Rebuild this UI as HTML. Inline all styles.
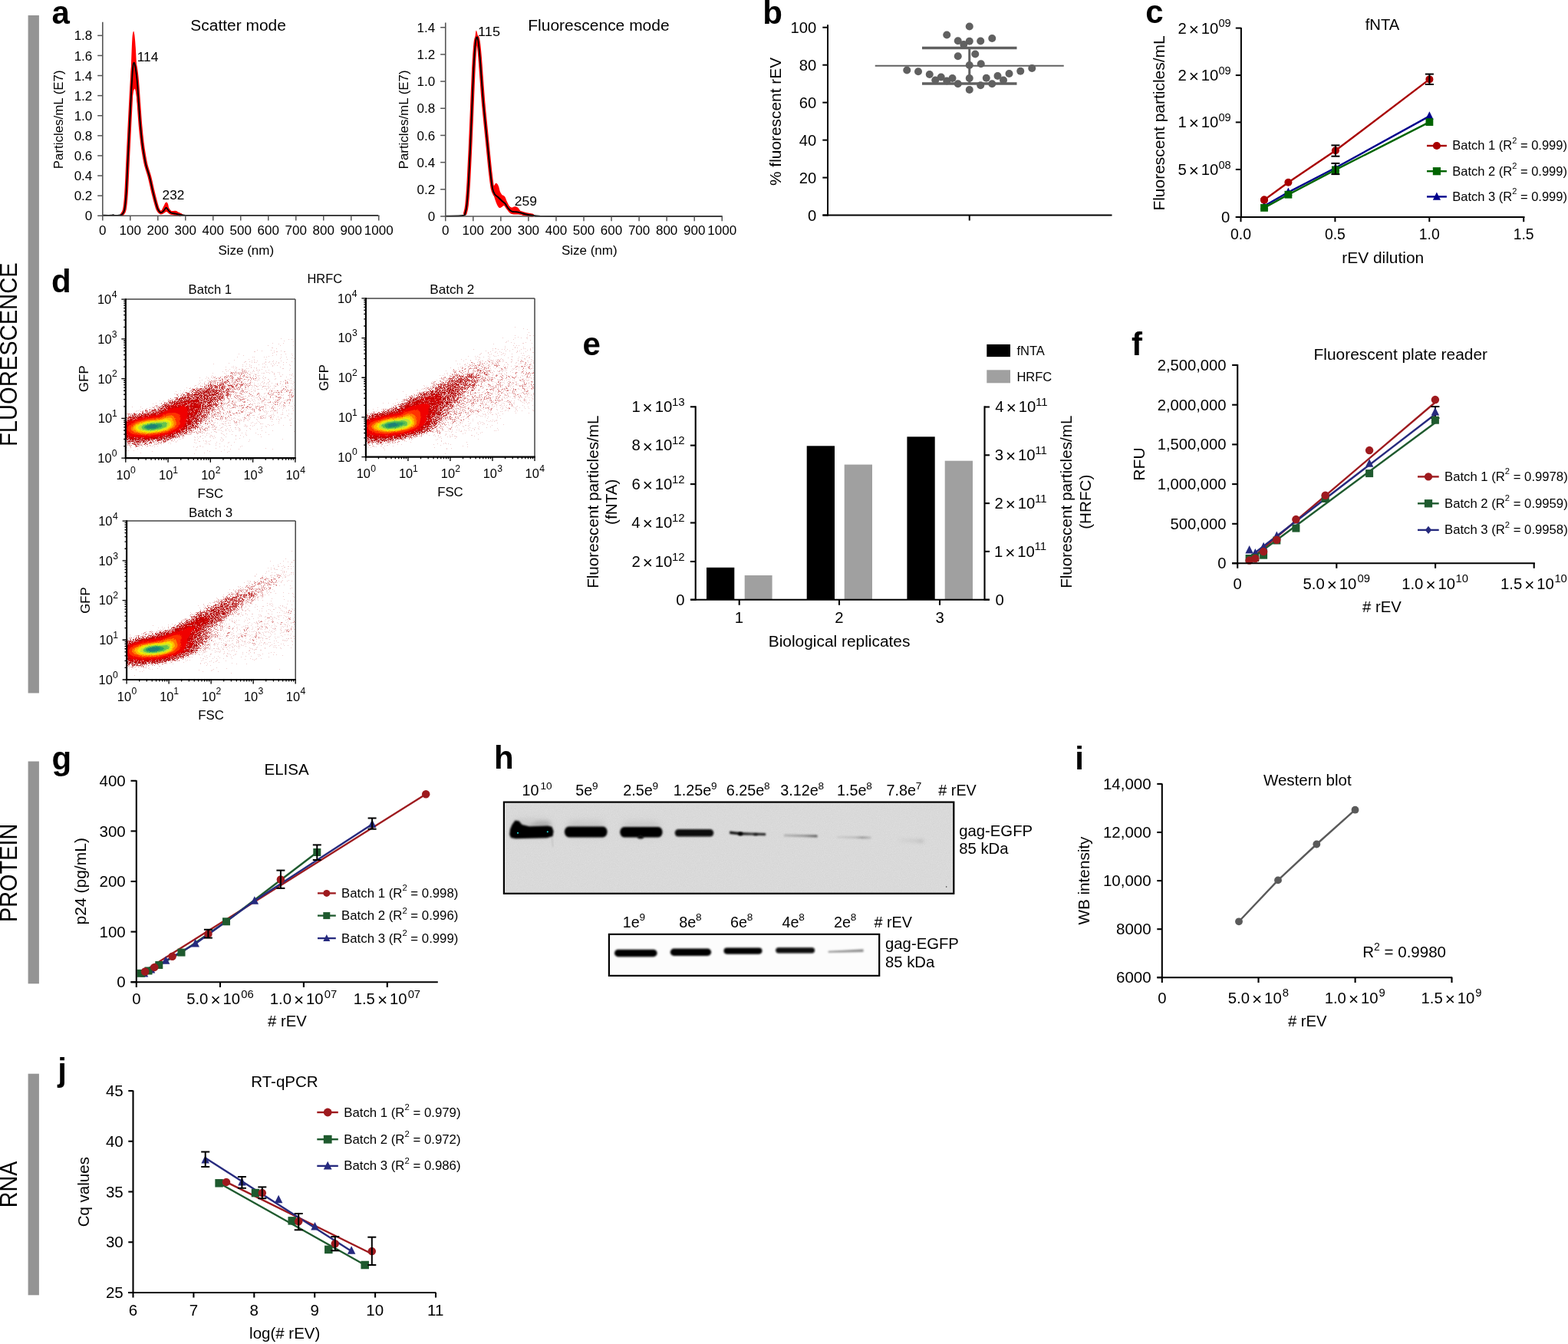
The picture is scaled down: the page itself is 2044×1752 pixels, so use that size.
<!DOCTYPE html>
<html><head><meta charset="utf-8"><title>Figure</title>
<style>html,body{margin:0;padding:0;background:#fff;} svg{display:block;} text{font-family:"Liberation Sans", Arial, Helvetica, sans-serif;}</style>
</head><body>
<svg width="2044" height="1752" viewBox="0 0 2044 1752" font-family='"Liberation Sans", Arial, Helvetica, sans-serif'>
<rect x="0" y="0" width="2044" height="1752" fill="#fff"/>
<rect x="36.6" y="20" width="14.3" height="883.5" fill="#949494"/>
<rect x="36.6" y="992.5" width="14.3" height="289.8" fill="#949494"/>
<rect x="36.6" y="1399.7" width="14.3" height="288.6" fill="#949494"/>
<text transform="translate(22.2,582.09) rotate(-90)" font-size="31" textLength="239.73" lengthAdjust="spacingAndGlyphs">FLUORESCENCE</text>
<text transform="translate(21.9,1202.07) rotate(-90)" font-size="30.5" textLength="128.4" lengthAdjust="spacingAndGlyphs">PROTEIN</text>
<text transform="translate(22.1,1574.25) rotate(-90)" font-size="30.5" textLength="60.62" lengthAdjust="spacingAndGlyphs">RNA</text>
<text x="67.38" y="30.9" font-size="42" font-weight="bold">a</text>
<text x="994.23" y="30.6" font-size="42" font-weight="bold">b</text>
<text x="1493.26" y="30.2" font-size="42" font-weight="bold">c</text>
<text x="67.08" y="381.1" font-size="42" font-weight="bold">d</text>
<text x="759.46" y="463" font-size="42" font-weight="bold">e</text>
<text x="1474.99" y="462.9" font-size="42" font-weight="bold">f</text>
<text x="67.48" y="1002.5" font-size="42" font-weight="bold">g</text>
<text x="644.06" y="1002.4" font-size="42" font-weight="bold">h</text>
<text x="1401.16" y="1002.6" font-size="42" font-weight="bold">i</text>
<text x="75.37" y="1408.5" font-size="42" font-weight="bold">j</text>
<path d="M159.3,279 C159.8,277.83 161.43,276.83 162.3,272 C163.17,267.17 163.8,260.33 164.5,250 C165.2,239.67 165.83,224.17 166.5,210 C167.17,195.83 167.97,179.17 168.5,165 C169.03,150.83 169.28,138.33 169.7,125 C170.12,111.67 170.57,97.17 171,85 C171.43,72.83 171.83,59.32 172.3,52 C172.77,44.68 173.3,42.27 173.8,41.1 C174.3,39.93 174.8,41.52 175.3,45 C175.8,48.48 176.35,55.33 176.8,62 C177.25,68.67 177.58,77.33 178,85 C178.42,92.67 178.8,99.67 179.3,108 C179.8,116.33 180.38,126 181,135 C181.62,144 182.33,154 183,162 C183.67,170 184.25,177.33 185,183 C185.75,188.67 186.6,191.5 187.5,196 C188.4,200.5 189.17,204.83 190.4,210 C191.63,215.17 193.42,221 194.9,227 C196.38,233 197.93,240.17 199.3,246 C200.67,251.83 201.98,257.83 203.1,262 C204.22,266.17 204.9,268.83 206,271 C207.1,273.17 208.5,275.33 209.7,275 C210.9,274.67 212.23,270.75 213.2,269 C214.17,267.25 214.83,265.42 215.5,264.5 C216.17,263.58 216.62,263.25 217.2,263.5 C217.78,263.75 218.45,264.58 219,266 C219.55,267.42 219.82,270.5 220.5,272 C221.18,273.5 221.68,274.53 223.1,275 C224.52,275.47 227.02,274.3 229,274.8 C230.98,275.3 232.83,276.97 235,278 C237.17,279.03 240.83,280.5 242,281 L242,281.5 C239.83,281.33 232.17,280.83 229,280.5 C225.83,280.17 224.5,279.92 223,279.5 C221.5,279.08 221,278.58 220,278 C219,277.42 218.08,276 217,276 C215.92,276 214.67,277.53 213.5,278 C212.33,278.47 211.17,279.3 210,278.8 C208.83,278.3 207.58,277.13 206.5,275 C205.42,272.87 204.67,270 203.5,266 C202.33,262 200.92,256.67 199.5,251 C198.08,245.33 196.42,237.5 195,232 C193.58,226.5 192.17,222.67 191,218 C189.83,213.33 188.92,208.33 188,204 C187.08,199.67 186.33,196.83 185.5,192 C184.67,187.17 183.75,181.17 183,175 C182.25,168.83 181.67,161.67 181,155 C180.33,148.33 179.67,140.83 179,135 C178.33,129.17 177.63,123.17 177,120 C176.37,116.83 175.87,115.17 175.2,116 C174.53,116.83 173.78,119.33 173,125 C172.22,130.67 171.33,139.17 170.5,150 C169.67,160.83 168.83,175 168,190 C167.17,205 166.33,226.67 165.5,240 C164.67,253.33 163.92,263.33 163,270 C162.08,276.67 160.5,278.33 160,280 Z" fill="#ff0000" stroke="none" stroke-width="1"/>
<path d="M159.3,279.3 C159.8,278.3 161.43,277.75 162.3,273.3 C163.17,268.85 163.77,263.48 164.5,252.6 C165.23,241.72 165.97,222.85 166.7,208 C167.43,193.15 168.15,178.33 168.9,163.5 C169.65,148.67 170.48,131.58 171.2,119 C171.92,106.42 172.67,94.18 173.2,88 C173.73,81.82 173.9,82.23 174.4,81.9 C174.9,81.57 175.5,82.28 176.2,86 C176.9,89.72 177.83,96.22 178.6,104.2 C179.37,112.18 180.07,124.02 180.8,133.9 C181.53,143.78 182.25,154.85 183,163.5 C183.75,172.15 184.55,179.62 185.3,185.8 C186.05,191.98 186.65,195.65 187.5,200.6 C188.35,205.55 189.17,210.55 190.4,215.5 C191.63,220.45 193.42,224.62 194.9,230.3 C196.38,235.98 197.93,243.92 199.3,249.6 C200.67,255.28 201.98,260.45 203.1,264.4 C204.22,268.35 204.9,271.17 206,273.3 C207.1,275.43 208.47,276.95 209.7,277.2 C210.93,277.45 212.25,275.87 213.4,274.8 C214.55,273.73 215.48,270.8 216.6,270.8 C217.72,270.8 219.02,273.68 220.1,274.8 C221.18,275.92 221.62,276.87 223.1,277.5 C224.58,278.13 227.02,278.18 229,278.6 C230.98,279.02 234,279.77 235,280" fill="none" stroke="#ff0000" stroke-width="4.6" stroke-linejoin="round" stroke-linecap="round"/>
<path d="M134,280.8 C135.83,280.8 142.73,280.9 145,280.8 C147.27,280.7 146.77,280.18 147.6,280.2 C148.43,280.22 148.77,280.83 150,280.9 C151.23,280.97 153.45,280.87 155,280.6 C156.55,280.33 158.08,280.52 159.3,279.3 C160.52,278.08 161.43,277.75 162.3,273.3 C163.17,268.85 163.77,263.48 164.5,252.6 C165.23,241.72 165.97,222.85 166.7,208 C167.43,193.15 168.15,178.33 168.9,163.5 C169.65,148.67 170.48,131.58 171.2,119 C171.92,106.42 172.67,94.18 173.2,88 C173.73,81.82 173.9,82.23 174.4,81.9 C174.9,81.57 175.5,82.28 176.2,86 C176.9,89.72 177.83,96.22 178.6,104.2 C179.37,112.18 180.07,124.02 180.8,133.9 C181.53,143.78 182.25,154.85 183,163.5 C183.75,172.15 184.55,179.62 185.3,185.8 C186.05,191.98 186.65,195.65 187.5,200.6 C188.35,205.55 189.17,210.55 190.4,215.5 C191.63,220.45 193.42,224.62 194.9,230.3 C196.38,235.98 197.93,243.92 199.3,249.6 C200.67,255.28 201.98,260.45 203.1,264.4 C204.22,268.35 204.9,271.17 206,273.3 C207.1,275.43 208.47,276.95 209.7,277.2 C210.93,277.45 212.25,275.87 213.4,274.8 C214.55,273.73 215.48,270.8 216.6,270.8 C217.72,270.8 219.02,273.68 220.1,274.8 C221.18,275.92 221.62,276.87 223.1,277.5 C224.58,278.13 227.02,278.18 229,278.6 C230.98,279.02 233.02,279.63 235,280 C236.98,280.37 236.73,280.63 240.9,280.8 C245.07,280.97 217.98,280.97 260,281 C302.02,281.03 454.17,281 493,281" fill="none" stroke="#000" stroke-width="1.9" stroke-linejoin="round"/>
<line x1="133.8" y1="28.75" x2="133.8" y2="282" stroke="#555" stroke-width="1.6"/>
<line x1="133" y1="281.25" x2="494.55" y2="281.25" stroke="#555" stroke-width="1.6"/>
<line x1="127.2" y1="281.25" x2="133.8" y2="281.25" stroke="#555" stroke-width="1.5"/>
<text x="120.3" y="287.35" text-anchor="end" font-size="17">0</text>
<line x1="127.2" y1="255.15" x2="133.8" y2="255.15" stroke="#555" stroke-width="1.5"/>
<text x="120.3" y="261.25" text-anchor="end" font-size="17">0.2</text>
<line x1="127.2" y1="229.05" x2="133.8" y2="229.05" stroke="#555" stroke-width="1.5"/>
<text x="120.3" y="235.15" text-anchor="end" font-size="17">0.4</text>
<line x1="127.2" y1="202.95" x2="133.8" y2="202.95" stroke="#555" stroke-width="1.5"/>
<text x="120.3" y="209.05" text-anchor="end" font-size="17">0.6</text>
<line x1="127.2" y1="176.85" x2="133.8" y2="176.85" stroke="#555" stroke-width="1.5"/>
<text x="120.3" y="182.95" text-anchor="end" font-size="17">0.8</text>
<line x1="127.2" y1="150.75" x2="133.8" y2="150.75" stroke="#555" stroke-width="1.5"/>
<text x="120.3" y="156.85" text-anchor="end" font-size="17">1.0</text>
<line x1="127.2" y1="124.65" x2="133.8" y2="124.65" stroke="#555" stroke-width="1.5"/>
<text x="120.3" y="130.75" text-anchor="end" font-size="17">1.2</text>
<line x1="127.2" y1="98.55" x2="133.8" y2="98.55" stroke="#555" stroke-width="1.5"/>
<text x="120.3" y="104.65" text-anchor="end" font-size="17">1.4</text>
<line x1="127.2" y1="72.45" x2="133.8" y2="72.45" stroke="#555" stroke-width="1.5"/>
<text x="120.3" y="78.55" text-anchor="end" font-size="17">1.6</text>
<line x1="127.2" y1="46.35" x2="133.8" y2="46.35" stroke="#555" stroke-width="1.5"/>
<text x="120.3" y="52.45" text-anchor="end" font-size="17">1.8</text>
<line x1="133.8" y1="281.25" x2="133.8" y2="287.55" stroke="#555" stroke-width="1.5"/>
<text x="133.8" y="306.4" text-anchor="middle" font-size="17">0</text>
<line x1="169.8" y1="281.25" x2="169.8" y2="287.55" stroke="#555" stroke-width="1.5"/>
<text x="169.8" y="306.4" text-anchor="middle" font-size="17">100</text>
<line x1="205.79" y1="281.25" x2="205.79" y2="287.55" stroke="#555" stroke-width="1.5"/>
<text x="205.79" y="306.4" text-anchor="middle" font-size="17">200</text>
<line x1="241.79" y1="281.25" x2="241.79" y2="287.55" stroke="#555" stroke-width="1.5"/>
<text x="241.79" y="306.4" text-anchor="middle" font-size="17">300</text>
<line x1="277.78" y1="281.25" x2="277.78" y2="287.55" stroke="#555" stroke-width="1.5"/>
<text x="277.78" y="306.4" text-anchor="middle" font-size="17">400</text>
<line x1="313.77" y1="281.25" x2="313.77" y2="287.55" stroke="#555" stroke-width="1.5"/>
<text x="313.77" y="306.4" text-anchor="middle" font-size="17">500</text>
<line x1="349.77" y1="281.25" x2="349.77" y2="287.55" stroke="#555" stroke-width="1.5"/>
<text x="349.77" y="306.4" text-anchor="middle" font-size="17">600</text>
<line x1="385.76" y1="281.25" x2="385.76" y2="287.55" stroke="#555" stroke-width="1.5"/>
<text x="385.76" y="306.4" text-anchor="middle" font-size="17">700</text>
<line x1="421.76" y1="281.25" x2="421.76" y2="287.55" stroke="#555" stroke-width="1.5"/>
<text x="421.76" y="306.4" text-anchor="middle" font-size="17">800</text>
<line x1="457.75" y1="281.25" x2="457.75" y2="287.55" stroke="#555" stroke-width="1.5"/>
<text x="457.75" y="306.4" text-anchor="middle" font-size="17">900</text>
<line x1="493.75" y1="281.25" x2="493.75" y2="287.55" stroke="#555" stroke-width="1.5"/>
<text x="493.75" y="306.4" text-anchor="middle" font-size="17">1000</text>
<text x="248.29" y="39.5" font-size="20.5" textLength="124.64" lengthAdjust="spacingAndGlyphs">Scatter mode</text>
<text x="320.75" y="332.3" text-anchor="middle" font-size="17">Size (nm)</text>
<text transform="translate(82,220.13) rotate(-90)" font-size="16.5" textLength="128.69" lengthAdjust="spacingAndGlyphs">Particles/mL (E7)</text>
<text x="178.67" y="79.5" font-size="17" textLength="27.84" lengthAdjust="spacingAndGlyphs">114</text>
<text x="211.64" y="260" font-size="17" textLength="28.73" lengthAdjust="spacingAndGlyphs">232</text>
<path d="M603.4,280.5 C603.88,279.92 605.48,279.58 606.3,277 C607.12,274.42 607.6,272 608.3,265 C609,258 609.77,247.5 610.5,235 C611.23,222.5 611.95,206.17 612.7,190 C613.45,173.83 614.25,155.33 615,138 C615.75,120.67 616.53,99.83 617.2,86 C617.87,72.17 618.47,62.58 619,55 C619.53,47.42 619.9,42.5 620.4,40.5 C620.9,38.5 621.47,41.08 622,43 C622.53,44.92 622.97,47 623.6,52 C624.23,57 625.07,64.67 625.8,73 C626.53,81.33 627.23,92.33 628,102 C628.77,111.67 629.5,121.33 630.4,131 C631.3,140.67 632.4,150.5 633.4,160 C634.4,169.5 635.4,178.67 636.4,188 C637.4,197.33 638.55,208.33 639.4,216 C640.25,223.67 640.82,229.67 641.5,234 C642.18,238.33 642.75,241.17 643.5,242 C644.25,242.83 645.25,239.42 646,239 C646.75,238.58 647.33,238.83 648,239.5 C648.67,240.17 649.33,241.25 650,243 C650.67,244.75 651.25,248.17 652,250 C652.75,251.83 653.75,253.17 654.5,254 C655.25,254.83 655.83,254.5 656.5,255 C657.17,255.5 657.75,255.67 658.5,257 C659.25,258.33 660.08,261.08 661,263 C661.92,264.92 663,267.25 664,268.5 C665,269.75 666,270.33 667,270.5 C668,270.67 669,269.67 670,269.5 C671,269.33 672,269.17 673,269.5 C674,269.83 675,270.5 676,271.5 C677,272.5 677.5,274.37 679,275.5 C680.5,276.63 682.52,277.47 685,278.3 C687.48,279.13 690.93,279.92 693.9,280.5 C696.87,281.08 701.32,281.58 702.8,281.8 L702.8,282.2 C701.32,282.08 696.87,281.73 693.9,281.5 C690.93,281.27 687.48,281.08 685,280.8 C682.52,280.52 681,280.02 679,279.8 C677,279.58 675,279.63 673,279.5 C671,279.37 668.67,279.58 667,279 C665.33,278.42 664.17,277.33 663,276 C661.83,274.67 661,272.33 660,271 C659,269.67 658,268.17 657,268 C656,267.83 655,269.5 654,270 C653,270.5 651.92,271.33 651,271 C650.08,270.67 649.33,269.5 648.5,268 C647.67,266.5 646.83,264.33 646,262 C645.17,259.67 644.33,256.67 643.5,254 C642.67,251.33 641.83,250.33 641,246 C640.17,241.67 639.4,236 638.5,228 C637.6,220 636.58,208 635.6,198 C634.62,188 633.57,178 632.6,168 C631.63,158 630.65,148 629.8,138 C628.95,128 628.25,117.67 627.5,108 C626.75,98.33 626.02,88 625.3,80 C624.58,72 623.82,64.5 623.2,60 C622.58,55.5 622.2,53 621.6,53 C621,53 620.33,53.33 619.6,60 C618.87,66.67 617.97,78.83 617.2,93 C616.43,107.17 615.73,127.83 615,145 C614.27,162.17 613.53,180.17 612.8,196 C612.07,211.83 611.33,228 610.6,240 C609.87,252 609.17,261.5 608.4,268 C607.63,274.5 606.83,276.75 606,279 C605.17,281.25 603.83,281.08 603.4,281.5 Z" fill="#ff0000" stroke="none" stroke-width="1"/>
<path d="M606.3,278.2 C606.67,276.4 607.75,274.15 608.5,267.4 C609.25,260.65 610.05,250.07 610.8,237.7 C611.55,225.33 612.27,209.27 613,193.2 C613.73,177.13 614.47,158.62 615.2,141.3 C615.93,123.98 616.65,103.4 617.4,89.3 C618.15,75.2 619,63.5 619.7,56.7 C620.4,49.9 620.98,49 621.6,48.5 C622.22,48 622.73,49.37 623.4,53.7 C624.07,58.03 624.87,66.08 625.6,74.5 C626.33,82.92 627.05,94.3 627.8,104.2 C628.55,114.1 629.23,124.02 630.1,133.9 C630.97,143.78 632.02,153.62 633,163.5 C633.98,173.38 635,183.3 636,193.2 C637,203.1 638.02,214.25 639,222.9 C639.98,231.55 640.92,240.03 641.9,245.1 C642.88,250.17 643.67,251.32 644.9,253.3 C646.13,255.28 647.82,255.63 649.3,257 C650.78,258.37 652.32,260.13 653.8,261.5 C655.28,262.87 656.72,263.48 658.2,265.2 C659.68,266.92 661.2,270.07 662.7,271.8 C664.2,273.53 665.47,274.85 667.2,275.6 C668.93,276.35 671.13,275.98 673.1,276.3 C675.07,276.62 677.02,277 679,277.5 C680.98,278 682.52,278.77 685,279.3 C687.48,279.83 692.42,280.47 693.9,280.7" fill="none" stroke="#ff0000" stroke-width="4.6" stroke-linejoin="round" stroke-linecap="round"/>
<path d="M581,281.8 C584.73,281.67 599.18,281.6 603.4,281 C607.62,280.4 605.45,280.47 606.3,278.2 C607.15,275.93 607.75,274.15 608.5,267.4 C609.25,260.65 610.05,250.07 610.8,237.7 C611.55,225.33 612.27,209.27 613,193.2 C613.73,177.13 614.47,158.62 615.2,141.3 C615.93,123.98 616.65,103.4 617.4,89.3 C618.15,75.2 619,63.5 619.7,56.7 C620.4,49.9 620.98,49 621.6,48.5 C622.22,48 622.73,49.37 623.4,53.7 C624.07,58.03 624.87,66.08 625.6,74.5 C626.33,82.92 627.05,94.3 627.8,104.2 C628.55,114.1 629.23,124.02 630.1,133.9 C630.97,143.78 632.02,153.62 633,163.5 C633.98,173.38 635,183.3 636,193.2 C637,203.1 638.02,214.25 639,222.9 C639.98,231.55 640.92,240.03 641.9,245.1 C642.88,250.17 643.67,251.32 644.9,253.3 C646.13,255.28 647.82,255.63 649.3,257 C650.78,258.37 652.32,260.13 653.8,261.5 C655.28,262.87 656.72,263.48 658.2,265.2 C659.68,266.92 661.2,270.07 662.7,271.8 C664.2,273.53 665.47,274.85 667.2,275.6 C668.93,276.35 671.13,275.98 673.1,276.3 C675.07,276.62 677.02,277 679,277.5 C680.98,278 682.52,278.77 685,279.3 C687.48,279.83 690.93,280.32 693.9,280.7 C696.87,281.08 698.45,281.38 702.8,281.6 C707.15,281.82 680.3,281.93 720,282 C759.7,282.07 904.17,282 941,282" fill="none" stroke="#000" stroke-width="1.9" stroke-linejoin="round"/>
<line x1="580.75" y1="29.5" x2="580.75" y2="282.75" stroke="#555" stroke-width="1.6"/>
<line x1="579.95" y1="282" x2="942.05" y2="282" stroke="#555" stroke-width="1.6"/>
<line x1="574.15" y1="282" x2="580.75" y2="282" stroke="#555" stroke-width="1.5"/>
<text x="567.2" y="288.1" text-anchor="end" font-size="17">0</text>
<line x1="574.15" y1="246.82" x2="580.75" y2="246.82" stroke="#555" stroke-width="1.5"/>
<text x="567.2" y="252.92" text-anchor="end" font-size="17">0.2</text>
<line x1="574.15" y1="211.64" x2="580.75" y2="211.64" stroke="#555" stroke-width="1.5"/>
<text x="567.2" y="217.74" text-anchor="end" font-size="17">0.4</text>
<line x1="574.15" y1="176.46" x2="580.75" y2="176.46" stroke="#555" stroke-width="1.5"/>
<text x="567.2" y="182.56" text-anchor="end" font-size="17">0.6</text>
<line x1="574.15" y1="141.28" x2="580.75" y2="141.28" stroke="#555" stroke-width="1.5"/>
<text x="567.2" y="147.38" text-anchor="end" font-size="17">0.8</text>
<line x1="574.15" y1="106.1" x2="580.75" y2="106.1" stroke="#555" stroke-width="1.5"/>
<text x="567.2" y="112.2" text-anchor="end" font-size="17">1.0</text>
<line x1="574.15" y1="70.92" x2="580.75" y2="70.92" stroke="#555" stroke-width="1.5"/>
<text x="567.2" y="77.02" text-anchor="end" font-size="17">1.2</text>
<line x1="574.15" y1="35.74" x2="580.75" y2="35.74" stroke="#555" stroke-width="1.5"/>
<text x="567.2" y="41.84" text-anchor="end" font-size="17">1.4</text>
<line x1="580.75" y1="282" x2="580.75" y2="288.3" stroke="#555" stroke-width="1.5"/>
<text x="580.75" y="306.4" text-anchor="middle" font-size="17">0</text>
<line x1="616.8" y1="282" x2="616.8" y2="288.3" stroke="#555" stroke-width="1.5"/>
<text x="616.8" y="306.4" text-anchor="middle" font-size="17">100</text>
<line x1="652.85" y1="282" x2="652.85" y2="288.3" stroke="#555" stroke-width="1.5"/>
<text x="652.85" y="306.4" text-anchor="middle" font-size="17">200</text>
<line x1="688.9" y1="282" x2="688.9" y2="288.3" stroke="#555" stroke-width="1.5"/>
<text x="688.9" y="306.4" text-anchor="middle" font-size="17">300</text>
<line x1="724.95" y1="282" x2="724.95" y2="288.3" stroke="#555" stroke-width="1.5"/>
<text x="724.95" y="306.4" text-anchor="middle" font-size="17">400</text>
<line x1="761" y1="282" x2="761" y2="288.3" stroke="#555" stroke-width="1.5"/>
<text x="761" y="306.4" text-anchor="middle" font-size="17">500</text>
<line x1="797.05" y1="282" x2="797.05" y2="288.3" stroke="#555" stroke-width="1.5"/>
<text x="797.05" y="306.4" text-anchor="middle" font-size="17">600</text>
<line x1="833.1" y1="282" x2="833.1" y2="288.3" stroke="#555" stroke-width="1.5"/>
<text x="833.1" y="306.4" text-anchor="middle" font-size="17">700</text>
<line x1="869.15" y1="282" x2="869.15" y2="288.3" stroke="#555" stroke-width="1.5"/>
<text x="869.15" y="306.4" text-anchor="middle" font-size="17">800</text>
<line x1="905.2" y1="282" x2="905.2" y2="288.3" stroke="#555" stroke-width="1.5"/>
<text x="905.2" y="306.4" text-anchor="middle" font-size="17">900</text>
<line x1="941.25" y1="282" x2="941.25" y2="288.3" stroke="#555" stroke-width="1.5"/>
<text x="941.25" y="306.4" text-anchor="middle" font-size="17">1000</text>
<text x="688.28" y="39.5" font-size="20.5" textLength="184.4" lengthAdjust="spacingAndGlyphs">Fluorescence mode</text>
<text x="768.25" y="332.3" text-anchor="middle" font-size="17">Size (nm)</text>
<text transform="translate(532.25,220.39) rotate(-90)" font-size="16.5" textLength="128.94" lengthAdjust="spacingAndGlyphs">Particles/mL (E7)</text>
<text x="623.12" y="46.75" font-size="17" textLength="28.89" lengthAdjust="spacingAndGlyphs">115</text>
<text x="670.87" y="268.25" font-size="17" textLength="29.21" lengthAdjust="spacingAndGlyphs">259</text>
<line x1="1079" y1="32.3" x2="1079" y2="281.5" stroke="#000" stroke-width="2"/>
<line x1="1072.5" y1="280.5" x2="1449.5" y2="280.5" stroke="#000" stroke-width="2"/>
<line x1="1263.75" y1="280.5" x2="1263.75" y2="287.5" stroke="#000" stroke-width="2"/>
<line x1="1072.3" y1="280.5" x2="1079" y2="280.5" stroke="#000" stroke-width="2"/>
<text x="1064.3" y="287.6" text-anchor="end" font-size="20.2">0</text>
<line x1="1072.3" y1="231.55" x2="1079" y2="231.55" stroke="#000" stroke-width="2"/>
<text x="1064.3" y="238.65" text-anchor="end" font-size="20.2">20</text>
<line x1="1072.3" y1="182.6" x2="1079" y2="182.6" stroke="#000" stroke-width="2"/>
<text x="1064.3" y="189.7" text-anchor="end" font-size="20.2">40</text>
<line x1="1072.3" y1="133.65" x2="1079" y2="133.65" stroke="#000" stroke-width="2"/>
<text x="1064.3" y="140.75" text-anchor="end" font-size="20.2">60</text>
<line x1="1072.3" y1="84.7" x2="1079" y2="84.7" stroke="#000" stroke-width="2"/>
<text x="1064.3" y="91.8" text-anchor="end" font-size="20.2">80</text>
<line x1="1072.3" y1="35.75" x2="1079" y2="35.75" stroke="#000" stroke-width="2"/>
<text x="1064.3" y="42.85" text-anchor="end" font-size="20.2">100</text>
<text transform="translate(1017.5,242) rotate(-90)" font-size="20.7" textLength="167.12" lengthAdjust="spacingAndGlyphs">% fluorescent rEV</text>
<line x1="1140.75" y1="85.75" x2="1386.75" y2="85.75" stroke="#606060" stroke-width="2"/>
<line x1="1202" y1="62.5" x2="1325.5" y2="62.5" stroke="#606060" stroke-width="3.3"/>
<line x1="1202" y1="109" x2="1325.5" y2="109" stroke="#606060" stroke-width="3.3"/>
<line x1="1263.75" y1="62.5" x2="1263.75" y2="109" stroke="#606060" stroke-width="3"/>
<circle cx="1263.75" cy="34.5" r="5" fill="#606060"/>
<circle cx="1234.25" cy="45.5" r="5" fill="#606060"/>
<circle cx="1248.75" cy="53.25" r="5" fill="#606060"/>
<circle cx="1263.75" cy="53.75" r="5" fill="#606060"/>
<circle cx="1278.25" cy="53.5" r="5" fill="#606060"/>
<circle cx="1293.25" cy="50" r="5" fill="#606060"/>
<circle cx="1256.25" cy="58" r="5" fill="#606060"/>
<circle cx="1248.75" cy="73.25" r="5" fill="#606060"/>
<circle cx="1271.25" cy="70.5" r="5" fill="#606060"/>
<circle cx="1263.75" cy="85" r="5" fill="#606060"/>
<circle cx="1278.75" cy="83.25" r="5" fill="#606060"/>
<circle cx="1182.25" cy="91.5" r="5" fill="#606060"/>
<circle cx="1197" cy="93.25" r="5" fill="#606060"/>
<circle cx="1211.75" cy="97" r="5" fill="#606060"/>
<circle cx="1226.75" cy="100.5" r="5" fill="#606060"/>
<circle cx="1241.5" cy="102" r="5" fill="#606060"/>
<circle cx="1219.25" cy="104.5" r="5" fill="#606060"/>
<circle cx="1234.25" cy="105.5" r="5" fill="#606060"/>
<circle cx="1248.75" cy="109.25" r="5" fill="#606060"/>
<circle cx="1263.75" cy="102" r="5" fill="#606060"/>
<circle cx="1263.75" cy="117" r="5" fill="#606060"/>
<circle cx="1278.25" cy="111.25" r="5" fill="#606060"/>
<circle cx="1285.75" cy="101.75" r="5" fill="#606060"/>
<circle cx="1293.25" cy="109.25" r="5" fill="#606060"/>
<circle cx="1300.5" cy="99" r="5" fill="#606060"/>
<circle cx="1308" cy="104.5" r="5" fill="#606060"/>
<circle cx="1315.5" cy="96" r="5" fill="#606060"/>
<circle cx="1330.25" cy="92.75" r="5" fill="#606060"/>
<circle cx="1345.25" cy="89" r="5" fill="#606060"/>
<polyline points="1648,260.6 1679.4,237.7 1740.9,196.3 1863.4,103.4" fill="none" stroke="#a80000" stroke-width="2.4" stroke-linejoin="round"/>
<polyline points="1648,268.5 1679.4,250.6 1740.9,218.8 1863.4,151.4" fill="none" stroke="#00008c" stroke-width="2.4" stroke-linejoin="round"/>
<polyline points="1648,270.9 1679.4,253.7 1740.9,221.4 1863.4,159.1" fill="none" stroke="#006400" stroke-width="2.4" stroke-linejoin="round"/>
<circle cx="1648" cy="260.6" r="5" fill="#a80000"/>
<circle cx="1679.4" cy="237.7" r="5" fill="#a80000"/>
<circle cx="1740.9" cy="196.3" r="5" fill="#a80000"/>
<circle cx="1863.4" cy="103.4" r="5" fill="#a80000"/>
<polygon points="1648,262.41 1653.25,272.91 1642.75,272.91" fill="#00008c" stroke="none" stroke-width="1"/>
<polygon points="1679.4,244.51 1684.65,255.01 1674.15,255.01" fill="#00008c" stroke="none" stroke-width="1"/>
<polygon points="1740.9,212.71 1746.15,223.21 1735.65,223.21" fill="#00008c" stroke="none" stroke-width="1"/>
<polygon points="1863.4,145.31 1868.65,155.81 1858.15,155.81" fill="#00008c" stroke="none" stroke-width="1"/>
<rect x="1643.1" y="266" width="9.8" height="9.8" fill="#006400"/>
<rect x="1674.5" y="248.8" width="9.8" height="9.8" fill="#006400"/>
<rect x="1736" y="216.5" width="9.8" height="9.8" fill="#006400"/>
<rect x="1858.5" y="154.2" width="9.8" height="9.8" fill="#006400"/>
<circle cx="1648" cy="260.6" r="5" fill="#a80000"/>
<line x1="1740.9" y1="189.4" x2="1740.9" y2="203.7" stroke="#000" stroke-width="2"/>
<line x1="1735.4" y1="189.4" x2="1746.4" y2="189.4" stroke="#000" stroke-width="2"/>
<line x1="1735.4" y1="203.7" x2="1746.4" y2="203.7" stroke="#000" stroke-width="2"/>
<line x1="1863.4" y1="96.6" x2="1863.4" y2="110" stroke="#000" stroke-width="2"/>
<line x1="1857.9" y1="96.6" x2="1868.9" y2="96.6" stroke="#000" stroke-width="2"/>
<line x1="1857.9" y1="110" x2="1868.9" y2="110" stroke="#000" stroke-width="2"/>
<line x1="1740.9" y1="212.9" x2="1740.9" y2="227.1" stroke="#000" stroke-width="2"/>
<line x1="1735.4" y1="212.9" x2="1746.4" y2="212.9" stroke="#000" stroke-width="2"/>
<line x1="1735.4" y1="227.1" x2="1746.4" y2="227.1" stroke="#000" stroke-width="2"/>
<line x1="1617.9" y1="36" x2="1617.9" y2="284" stroke="#000" stroke-width="2"/>
<line x1="1610.8" y1="283" x2="1987.5" y2="283" stroke="#000" stroke-width="2"/>
<line x1="1617.5" y1="283" x2="1617.5" y2="289.2" stroke="#000" stroke-width="2"/>
<text x="1617.5" y="311.8" text-anchor="middle" font-size="19.4">0.0</text>
<line x1="1740.4" y1="283" x2="1740.4" y2="289.2" stroke="#000" stroke-width="2"/>
<text x="1740.4" y="311.8" text-anchor="middle" font-size="19.4">0.5</text>
<line x1="1863.3" y1="283" x2="1863.3" y2="289.2" stroke="#000" stroke-width="2"/>
<text x="1863.3" y="311.8" text-anchor="middle" font-size="19.4">1.0</text>
<line x1="1986.2" y1="283" x2="1986.2" y2="289.2" stroke="#000" stroke-width="2"/>
<text x="1986.2" y="311.8" text-anchor="middle" font-size="19.4">1.5</text>
<line x1="1610.8" y1="36.6" x2="1617.9" y2="36.6" stroke="#000" stroke-width="2"/>
<text x="1535.61" y="43.5" font-size="20.3">2</text>
<text x="1549.71" y="45.67" font-size="22.47">×</text>
<text x="1565.74" y="43.5" font-size="20.3">10</text>
<text x="1588.56" y="35.3" font-size="14.5">09</text>
<line x1="1610.8" y1="98.1" x2="1617.9" y2="98.1" stroke="#000" stroke-width="2"/>
<text x="1535.61" y="105" font-size="20.3">2</text>
<text x="1549.71" y="107.17" font-size="22.47">×</text>
<text x="1565.74" y="105" font-size="20.3">10</text>
<text x="1588.56" y="96.8" font-size="14.5">09</text>
<line x1="1610.8" y1="159.4" x2="1617.9" y2="159.4" stroke="#000" stroke-width="2"/>
<text x="1535.59" y="166.3" font-size="20.3">1</text>
<text x="1549.71" y="168.47" font-size="22.47">×</text>
<text x="1565.74" y="166.3" font-size="20.3">10</text>
<text x="1588.56" y="158.1" font-size="14.5">09</text>
<line x1="1610.8" y1="220.9" x2="1617.9" y2="220.9" stroke="#000" stroke-width="2"/>
<text x="1535.39" y="227.8" font-size="20.3">5</text>
<text x="1549.65" y="229.97" font-size="22.47">×</text>
<text x="1565.68" y="227.8" font-size="20.3">10</text>
<text x="1588.5" y="219.6" font-size="14.5">08</text>
<line x1="1610.8" y1="282.9" x2="1617.9" y2="282.9" stroke="#000" stroke-width="2"/>
<text x="1603.3" y="289.9" text-anchor="end" font-size="20.3">0</text>
<text x="1749.32" y="343.3" font-size="19.6" textLength="106.83" lengthAdjust="spacingAndGlyphs">rEV dilution</text>
<text x="1779.72" y="39.4" font-size="20.3" textLength="44.62" lengthAdjust="spacingAndGlyphs">fNTA</text>
<text transform="translate(1517.5,274.62) rotate(-90)" font-size="20.5" textLength="228.31" lengthAdjust="spacingAndGlyphs">Fluorescent particles/mL</text>
<line x1="1860" y1="190" x2="1885.9" y2="190" stroke="#a80000" stroke-width="2.4"/>
<circle cx="1872.9" cy="190" r="5.1" fill="#a80000"/>
<line x1="1860" y1="223.2" x2="1885.9" y2="223.2" stroke="#006400" stroke-width="2.4"/>
<rect x="1867.8" y="218.1" width="10.2" height="10.2" fill="#006400"/>
<line x1="1860" y1="256.4" x2="1885.9" y2="256.4" stroke="#00008c" stroke-width="2.4"/>
<polygon points="1872.9,250.48 1878,260.68 1867.8,260.68" fill="#00008c" stroke="none" stroke-width="1"/>
<text x="1893.3" y="195.1" font-size="16.5">Batch 1 (R<tspan dy="-8.3" font-size="11">2</tspan><tspan dy="8.3"> = 0.999)</tspan></text>
<text x="1893.3" y="228.5" font-size="16.5">Batch 2 (R<tspan dy="-8.3" font-size="11">2</tspan><tspan dy="8.3"> = 0.999)</tspan></text>
<text x="1893.3" y="261.6" font-size="16.5">Batch 3 (R<tspan dy="-8.3" font-size="11">2</tspan><tspan dy="8.3"> = 0.999)</tspan></text>
<defs><filter id="rough" x="-5%" y="-5%" width="110%" height="110%"><feTurbulence type="fractalNoise" baseFrequency="0.9" numOctaves="1" seed="7" result="n"/><feDisplacementMap in="SourceGraphic" in2="n" scale="3.2" xChannelSelector="R" yChannelSelector="G"/></filter><filter id="speck" x="-5%" y="-5%" width="110%" height="110%"><feTurbulence type="fractalNoise" baseFrequency="1.1" numOctaves="1" seed="11" result="n"/><feColorMatrix in="n" type="matrix" values="0 0 0 0 0  0 0 0 0 0  0 0 0 0 0  14 0 0 0 -6.3" result="m"/><feDisplacementMap in="SourceGraphic" in2="n" scale="3.2" xChannelSelector="R" yChannelSelector="G" result="d"/><feComposite in="d" in2="m" operator="in"/></filter><filter id="speck2" x="-5%" y="-5%" width="110%" height="110%"><feTurbulence type="fractalNoise" baseFrequency="1.1" numOctaves="1" seed="5" result="n"/><feColorMatrix in="n" type="matrix" values="0 0 0 0 0  0 0 0 0 0  0 0 0 0 0  14 0 0 0 -5.6" result="m"/><feDisplacementMap in="SourceGraphic" in2="n" scale="3.2" xChannelSelector="R" yChannelSelector="G" result="d"/><feComposite in="d" in2="m" operator="in"/></filter></defs>
<text x="400.5" y="369" font-size="16.4">HRFC</text>
<path d="M273.3 507.1 275.3 507 278.3 509.4 281.3 508.7 283.3 509.6 283.9 511.6 281.4 515.6 281.2 520.6 277.2 522.6 278 526.6 277.3 527.4 275.3 527.9 273.3 530.9 269.1 532.6 265.3 538.6 262.3 540.8 261.7 541.6 262.2 543.6 251.4 557.6 245.3 560.7 242.3 563.1 218.3 572.4 206.3 574.2 200.3 574.1 191.3 576.2 182.3 576.2 178.3 577.9 173.3 575.2 168.3 576.9 164.3 575.9 164.3 546.4 166.3 544.4 172.3 543.2 176.3 540.9 179.3 541.4 193.3 537.8 195.5 536.6 199.3 536.5 206.3 534.5 216.2 527.6 220.3 525.4 227.4 523.6 231.3 520.7 236.3 520.1 241.3 516.8 245.3 515.8 247.3 516.1 251.3 514.2 257.3 513.3 259.3 510.9 266.3 508.1 271.3 508.2 273.3 507.1Z" fill="#c83030" stroke="none" stroke-width="1" fill-rule="evenodd" fill-opacity="0.35" filter="url(#rough)"/>
<path d="M273.3 507.1 275.3 507 278.3 509.4 281.3 508.7 283.3 509.6 283.9 511.6 281.4 515.6 281.2 520.6 277.2 522.6 278 526.6 277.3 527.4 275.3 527.9 273.3 530.9 269.1 532.6 265.3 538.6 262.3 540.8 261.7 541.6 262.2 543.6 251.4 557.6 245.3 560.7 242.3 563.1 218.3 572.4 206.3 574.2 200.3 574.1 191.3 576.2 182.3 576.2 178.3 577.9 173.3 575.2 168.3 576.9 164.3 575.9 164.3 546.4 166.3 544.4 172.3 543.2 176.3 540.9 179.3 541.4 193.3 537.8 195.5 536.6 199.3 536.5 206.3 534.5 216.2 527.6 220.3 525.4 227.4 523.6 231.3 520.7 236.3 520.1 241.3 516.8 245.3 515.8 247.3 516.1 251.3 514.2 257.3 513.3 259.3 510.9 266.3 508.1 271.3 508.2 273.3 507.1Z" fill="#b00000" stroke="none" stroke-width="1" fill-rule="evenodd" filter="url(#speck)"/>
<path d="M255.3 520.5 258.3 520.6 259.6 521.6 259.6 523.6 262.3 527.5 262.5 529.6 258 535.6 258 538.6 255.5 541.6 254.3 545.6 249.8 547.6 248.8 553.6 242.8 558.6 234.9 563.6 214.3 570.3 206.3 572 201.3 572 191.6 573.6 167.3 572.8 166.3 572.6 164.3 570.4 164.3 550 168.3 546.7 189.1 540.6 195.3 540.3 207.3 537 219.3 529.7 234.3 524.5 255.3 520.5Z" fill="#d00000" stroke="none" stroke-width="1" fill-rule="evenodd" filter="url(#speck2)"/>
<path d="M235.3 529.5 237.3 529.3 242.3 530.5 243.3 531.4 244.7 535.6 244.1 541.6 241.9 552.6 238.3 557.2 232.3 561.4 225.3 564.6 214.3 567.5 205.3 569.2 190.3 570.5 171.3 569.5 167.2 567.6 164.3 564.1 164.3 553.9 166.3 551.6 170.3 548.9 189.3 543.5 208.3 540.5 216.3 534.9 224.3 532.1 232.3 531.6 235.3 529.5Z" fill="#f00000" stroke="none" stroke-width="1" fill-rule="evenodd" filter="url(#rough)"/>
<path d="M219.3 538.5 228.3 537.9 232.3 539.5 235.4 543.6 234.4 553.6 229.9 558.6 224.3 561.8 218.3 564 204.3 566.7 194.3 567.9 186.3 567.8 172.3 565.7 168.3 563.3 166.5 560.6 166.2 557.6 168 554.6 178.3 548.8 193.3 545.4 209.3 543.5 214.3 540.2 219.3 538.5Z" fill="#ff3300" stroke="none" stroke-width="1" fill-rule="evenodd" filter="url(#rough)"/>
<path d="M221.3 541.5 224.3 541.8 227.1 543.6 230 551.6 227.8 556.6 219.3 561.8 203.3 565 193.3 566.1 186.3 565.9 174.6 563.6 171.9 561.6 170.6 559.6 170.7 557.6 172.3 555.6 175.5 552.6 179.4 550.6 193.3 547.2 209.3 545.5 216.3 542.4 221.3 541.5Z" fill="#ff7a00" stroke="none" stroke-width="1" fill-rule="evenodd" filter="url(#rough)"/>
<path d="M217.3 544.6 222.3 544.5 224.3 545.4 226.7 551.6 225.5 555.6 218.3 560.8 203.3 563.8 192.3 564.9 180.3 563.5 175.9 561.6 173.7 559.6 173.7 557.6 175.7 554.6 181.3 551.7 191.3 548.8 209.3 546.9 217.3 544.6Z" fill="#ffbb00" stroke="none" stroke-width="1" fill-rule="evenodd" filter="url(#rough)"/>
<path d="M216.3 546.5 221.3 548.2 223.1 550.6 223.5 552.6 222.5 555.6 217.3 559.6 209.3 561.7 193.3 563.8 181.3 562.1 178.4 560.6 176.8 558.6 176.9 556.6 178.3 555.1 183.2 552.6 189.3 550.6 199.3 548.7 209.3 548.2 216.3 546.5Z" fill="#f2ee00" stroke="none" stroke-width="1" fill-rule="evenodd" filter="url(#rough)"/>
<path d="M215.3 548.6 220.4 550.6 221 552.6 220.5 554.6 217.3 557.9 210.3 560.3 199.3 562.3 193.3 562.6 182.3 560.5 180.2 558.6 180.3 556.6 181.3 555.6 187.3 552.4 199.3 549.8 215.3 548.6Z" fill="#c2e232" stroke="none" stroke-width="1" fill-rule="evenodd" filter="url(#rough)"/>
<path d="M197.3 551.5 215.3 550.7 217.7 551.6 218.2 553.6 216.3 556.2 209.3 559.2 199.3 561 192.3 561.1 186 559.6 184.8 558.6 184.6 556.6 186.3 554.6 188.2 553.6 197.3 551.5Z" fill="#64c450" stroke="none" stroke-width="1" fill-rule="evenodd" filter="url(#rough)"/>
<path d="M198.3 552.4 209.3 552.8 211.1 554.6 210.2 556.6 208.7 557.6 200.3 559.6 192.3 559.8 187.8 557.6 188.5 555.6 190.3 554.5 198.3 552.4Z" fill="#2a9e62" stroke="none" stroke-width="1" fill-rule="evenodd" filter="url(#rough)"/>
<path d="M197.3 553.6 201.8 553.6 204.9 554.6 205.8 555.6 205.2 556.6 201.3 558.2 192.9 558.6 191 557.6 190.7 556.6 191.3 555.9 197.3 553.6Z" fill="#1f8078" stroke="none" stroke-width="1" fill-rule="evenodd" filter="url(#rough)"/>
<path d="M254 554h1v1h-1zM246 562h1v1h-1zM176 539h1v1h-1zM175 540h1v1h-1zM227 569h1v1h-1zM261 550h1v1h-1zM168 543h1v1h-1zM243 564h1v1h-1zM261 547h1v1h-1zM248 560h1v1h-1zM228 569h1v1h-1zM169 543h1v1h-1zM170 543h1v1h-1zM241 563h1v1h-1zM238 566h1v1h-1zM192 537h1v1h-1zM247 560h1v1h-1zM218 574h1v1h-1zM168 544h1v1h-1zM174 540h1v1h-1zM165 544h1v1h-1zM186 538h1v1h-1zM219 573h1v1h-1zM232 566h1v1h-1zM210 573h1v1h-1zM257 549h1v1h-1zM256 551h1v1h-1zM236 566h1v1h-1zM167 543h1v1h-1zM241 565h1v1h-1zM200 535h1v1h-1zM257 553h1v1h-1zM172 541h1v1h-1zM252 558h1v1h-1zM222 572h1v1h-1zM172 540h1v1h-1zM174 539h1v1h-1zM165 544h1v1h-1zM249 561h1v1h-1zM228 570h1v1h-1zM188 578h1v1h-1zM201 533h1v1h-1zM243 564h1v1h-1zM229 569h1v1h-1zM258 551h1v1h-1zM244 562h1v1h-1zM246 561h1v1h-1zM243 564h1v1h-1zM240 565h1v1h-1zM243 565h1v1h-1zM257 556h1v1h-1zM243 563h1v1h-1zM261 550h1v1h-1zM241 564h1v1h-1zM173 541h1v1h-1zM249 560h1v1h-1zM195 576h1v1h-1zM209 574h1v1h-1zM186 538h1v1h-1zM253 557h1v1h-1zM172 542h1v1h-1zM220 572h1v1h-1zM264 546h1v1h-1zM248 561h1v1h-1zM257 557h1v1h-1zM252 557h1v1h-1zM168 577h1v1h-1zM246 562h1v1h-1zM226 569h1v1h-1zM175 539h1v1h-1zM174 579h1v1h-1zM254 557h1v1h-1zM173 542h1v1h-1zM201 535h1v1h-1zM232 568h1v1h-1zM250 558h1v1h-1zM247 559h1v1h-1zM261 549h1v1h-1zM230 569h1v1h-1zM176 540h1v1h-1zM255 554h1v1h-1zM233 568h1v1h-1zM214 573h1v1h-1zM257 549h1v1h-1zM223 570h1v1h-1zM243 563h1v1h-1zM199 575h1v1h-1zM225 569h1v1h-1zM190 536h1v1h-1zM180 540h1v1h-1zM258 552h1v1h-1zM249 560h1v1h-1zM243 562h1v1h-1zM256 552h1v1h-1zM237 565h1v1h-1zM167 543h1v1h-1zM260 549h1v1h-1zM216 573h1v1h-1zM256 553h1v1h-1zM243 564h1v1h-1zM167 543h1v1h-1zM189 577h1v1h-1zM178 578h1v1h-1zM232 568h1v1h-1zM242 563h1v1h-1zM247 559h1v1h-1zM232 566h1v1h-1zM255 556h1v1h-1zM173 541h1v1h-1zM207 574h1v1h-1zM168 542h1v1h-1zM225 570h1v1h-1zM207 574h1v1h-1zM167 543h1v1h-1zM202 574h1v1h-1zM197 576h1v1h-1zM215 574h1v1h-1zM175 540h1v1h-1zM255 555h1v1h-1zM176 539h1v1h-1zM170 543h1v1h-1zM257 552h1v1h-1zM172 542h1v1h-1zM195 577h1v1h-1zM179 579h1v1h-1zM265 541h1v1h-1zM183 576h1v1h-1zM205 575h1v1h-1zM202 534h1v1h-1zM175 576h1v1h-1zM270 541h1v1h-1zM190 578h1v1h-1zM192 536h1v1h-1zM181 577h1v1h-1zM178 539h1v1h-1zM214 575h1v1h-1zM272 538h1v1h-1zM185 538h1v1h-1zM265 539h1v1h-1zM255 552h1v1h-1zM215 574h1v1h-1zM269 542h1v1h-1zM237 565h1v1h-1zM206 532h1v1h-1zM222 524h1v1h-1zM223 571h1v1h-1zM262 551h1v1h-1zM270 532h1v1h-1zM228 570h1v1h-1zM182 539h1v1h-1zM181 540h1v1h-1zM210 529h1v1h-1zM212 574h1v1h-1zM174 576h1v1h-1zM201 535h1v1h-1zM178 578h1v1h-1zM262 542h1v1h-1zM272 538h1v1h-1zM170 542h1v1h-1zM240 564h1v1h-1zM262 543h1v1h-1zM215 574h1v1h-1zM228 569h1v1h-1zM207 531h1v1h-1zM262 546h1v1h-1zM261 548h1v1h-1zM284 527h1v1h-1zM261 546h1v1h-1zM245 560h1v1h-1zM265 540h1v1h-1zM194 577h1v1h-1zM167 578h1v1h-1zM269 539h1v1h-1zM242 564h1v1h-1zM268 541h1v1h-1zM276 535h1v1h-1zM168 578h1v1h-1zM268 534h1v1h-1zM220 572h1v1h-1zM243 563h1v1h-1zM232 568h1v1h-1zM269 536h1v1h-1zM195 534h1v1h-1zM180 579h1v1h-1zM181 539h1v1h-1zM182 576h1v1h-1zM239 564h1v1h-1zM176 579h1v1h-1zM212 529h1v1h-1zM195 534h1v1h-1zM262 548h1v1h-1zM174 540h1v1h-1zM188 579h1v1h-1zM191 535h1v1h-1zM221 571h1v1h-1zM168 578h1v1h-1zM168 578h1v1h-1zM264 543h1v1h-1zM269 542h1v1h-1zM226 570h1v1h-1zM283 523h1v1h-1zM190 577h1v1h-1zM234 567h1v1h-1zM196 575h1v1h-1zM173 575h1v1h-1zM177 581h1v1h-1zM175 540h1v1h-1zM272 537h1v1h-1zM181 577h1v1h-1zM231 569h1v1h-1zM197 535h1v1h-1zM237 565h1v1h-1zM201 535h1v1h-1zM216 573h1v1h-1zM190 535h1v1h-1zM250 558h1v1h-1zM185 539h1v1h-1zM281 527h1v1h-1zM206 533h1v1h-1zM231 519h1v1h-1zM281 529h1v1h-1zM183 539h1v1h-1zM260 548h1v1h-1zM207 531h1v1h-1zM206 574h1v1h-1zM194 577h1v1h-1zM269 534h1v1h-1zM255 552h1v1h-1zM197 576h1v1h-1zM265 542h1v1h-1zM259 549h1v1h-1zM266 545h1v1h-1zM268 541h1v1h-1zM175 579h1v1h-1zM275 529h1v1h-1zM180 576h1v1h-1zM198 534h1v1h-1zM214 525h1v1h-1zM266 536h1v1h-1zM197 577h1v1h-1zM208 531h1v1h-1zM264 546h1v1h-1zM257 551h1v1h-1zM250 558h1v1h-1zM272 531h1v1h-1zM176 580h1v1h-1zM195 536h1v1h-1zM202 574h1v1h-1zM205 574h1v1h-1zM267 544h1v1h-1zM196 576h1v1h-1zM207 574h1v1h-1zM195 577h1v1h-1zM188 539h1v1h-1zM178 581h1v1h-1zM270 535h1v1h-1zM182 577h1v1h-1zM176 578h1v1h-1zM213 527h1v1h-1zM254 555h1v1h-1zM214 527h1v1h-1zM257 551h1v1h-1zM171 575h1v1h-1zM170 541h1v1h-1zM216 574h1v1h-1zM254 556h1v1h-1zM269 533h1v1h-1zM202 533h1v1h-1zM180 578h1v1h-1zM176 540h1v1h-1zM270 539h1v1h-1zM175 579h1v1h-1zM265 541h1v1h-1zM196 576h1v1h-1zM167 578h1v1h-1zM173 578h1v1h-1zM222 523h1v1h-1zM270 537h1v1h-1zM176 578h1v1h-1zM230 569h1v1h-1zM176 578h1v1h-1zM277 531h1v1h-1zM261 546h1v1h-1zM262 543h1v1h-1zM231 520h1v1h-1zM252 558h1v1h-1zM251 557h1v1h-1zM230 520h1v1h-1zM179 578h1v1h-1zM189 578h1v1h-1zM206 576h1v1h-1zM216 527h1v1h-1zM257 554h1v1h-1zM271 532h1v1h-1zM237 517h1v1h-1zM201 534h1v1h-1zM266 537h1v1h-1zM187 576h1v1h-1zM273 535h1v1h-1zM200 535h1v1h-1zM173 577h1v1h-1zM280 523h1v1h-1zM195 536h1v1h-1zM183 576h1v1h-1zM175 577h1v1h-1zM202 533h1v1h-1zM175 577h1v1h-1zM189 577h1v1h-1zM177 540h1v1h-1zM262 547h1v1h-1zM271 538h1v1h-1zM283 528h1v1h-1zM216 525h1v1h-1zM265 540h1v1h-1zM190 535h1v1h-1zM198 535h1v1h-1zM259 548h1v1h-1zM172 543h1v1h-1zM194 537h1v1h-1zM190 537h1v1h-1zM282 527h1v1h-1zM174 579h1v1h-1zM214 528h1v1h-1zM185 577h1v1h-1zM171 575h1v1h-1zM164 576h1v1h-1zM278 531h1v1h-1zM186 537h1v1h-1zM264 541h1v1h-1zM265 543h1v1h-1zM208 531h1v1h-1zM268 544h1v1h-1zM199 535h1v1h-1zM213 575h1v1h-1zM180 578h1v1h-1zM170 577h1v1h-1zM188 576h1v1h-1zM173 578h1v1h-1zM220 523h1v1h-1zM269 533h1v1h-1zM204 574h1v1h-1zM212 527h1v1h-1zM190 577h1v1h-1zM182 539h1v1h-1zM172 540h1v1h-1zM191 579h1v1h-1zM176 578h1v1h-1zM203 534h1v1h-1zM179 578h1v1h-1zM259 548h1v1h-1zM172 578h1v1h-1zM174 576h1v1h-1zM206 533h1v1h-1zM219 572h1v1h-1zM210 573h1v1h-1zM235 566h1v1h-1zM264 542h1v1h-1zM196 577h1v1h-1zM177 580h1v1h-1zM264 544h1v1h-1zM264 542h1v1h-1zM256 552h1v1h-1zM176 580h1v1h-1zM197 577h1v1h-1zM166 577h1v1h-1zM197 577h1v1h-1zM199 534h1v1h-1zM205 574h1v1h-1zM208 532h1v1h-1zM175 578h1v1h-1zM212 529h1v1h-1zM176 579h1v1h-1zM259 548h1v1h-1zM268 537h1v1h-1zM177 580h1v1h-1zM168 577h1v1h-1zM189 535h1v1h-1zM191 576h1v1h-1zM175 539h1v1h-1zM214 527h1v1h-1zM197 577h1v1h-1zM177 579h1v1h-1zM211 528h1v1h-1zM174 578h1v1h-1zM200 534h1v1h-1zM214 573h1v1h-1zM179 578h1v1h-1zM177 580h1v1h-1zM186 576h1v1h-1zM200 535h1v1h-1zM203 534h1v1h-1zM302 504h1v1h-1zM285 516h1v1h-1zM267 507h1v1h-1zM287 510h1v1h-1zM258 549h1v1h-1zM281 526h1v1h-1zM243 514h1v1h-1zM281 528h1v1h-1zM248 514h1v1h-1zM296 511h1v1h-1zM258 508h1v1h-1zM262 506h1v1h-1zM274 502h1v1h-1zM286 513h1v1h-1zM287 513h1v1h-1zM287 513h1v1h-1zM246 515h1v1h-1zM283 506h1v1h-1zM284 521h1v1h-1zM288 504h1v1h-1zM247 514h1v1h-1zM255 509h1v1h-1zM279 503h1v1h-1zM260 506h1v1h-1zM227 523h1v1h-1zM267 537h1v1h-1zM290 516h1v1h-1zM283 523h1v1h-1zM280 508h1v1h-1zM286 518h1v1h-1zM303 505h1v1h-1zM272 502h1v1h-1zM258 509h1v1h-1zM280 521h1v1h-1zM260 508h1v1h-1zM287 520h1v1h-1zM285 506h1v1h-1zM250 510h1v1h-1zM287 516h1v1h-1zM288 501h1v1h-1zM298 509h1v1h-1zM290 505h1v1h-1zM254 512h1v1h-1zM283 522h1v1h-1zM262 543h1v1h-1zM254 508h1v1h-1zM276 533h1v1h-1zM295 512h1v1h-1zM281 518h1v1h-1zM263 549h1v1h-1zM263 506h1v1h-1zM290 513h1v1h-1zM290 506h1v1h-1zM266 537h1v1h-1zM291 500h1v1h-1zM287 502h1v1h-1zM279 507h1v1h-1zM300 507h1v1h-1zM279 508h1v1h-1zM289 503h1v1h-1zM289 526h1v1h-1zM283 506h1v1h-1zM275 501h1v1h-1zM289 506h1v1h-1zM274 502h1v1h-1zM283 521h1v1h-1zM270 535h1v1h-1zM272 536h1v1h-1zM269 507h1v1h-1zM285 509h1v1h-1zM299 503h1v1h-1zM298 510h1v1h-1zM287 510h1v1h-1zM278 524h1v1h-1zM255 509h1v1h-1zM262 541h1v1h-1zM270 532h1v1h-1zM296 496h1v1h-1zM295 514h1v1h-1zM282 516h1v1h-1zM295 508h1v1h-1zM283 518h1v1h-1zM270 505h1v1h-1zM286 518h1v1h-1zM234 519h1v1h-1zM286 505h1v1h-1zM283 524h1v1h-1zM278 528h1v1h-1zM279 503h1v1h-1zM291 508h1v1h-1zM267 541h1v1h-1zM253 511h1v1h-1zM279 505h1v1h-1zM272 507h1v1h-1zM279 527h1v1h-1zM301 503h1v1h-1zM255 511h1v1h-1zM250 514h1v1h-1zM292 505h1v1h-1zM234 519h1v1h-1zM238 517h1v1h-1zM236 518h1v1h-1zM218 525h1v1h-1zM286 518h1v1h-1zM294 515h1v1h-1zM280 522h1v1h-1zM274 528h1v1h-1zM230 518h1v1h-1zM308 495h1v1h-1zM289 519h1v1h-1zM256 512h1v1h-1zM222 571h1v1h-1zM263 542h1v1h-1zM287 515h1v1h-1zM259 510h1v1h-1zM276 502h1v1h-1zM215 527h1v1h-1zM280 508h1v1h-1zM281 527h1v1h-1zM279 526h1v1h-1zM290 516h1v1h-1zM254 509h1v1h-1zM274 506h1v1h-1zM255 509h1v1h-1zM281 529h1v1h-1zM295 496h1v1h-1zM287 514h1v1h-1zM254 513h1v1h-1zM289 525h1v1h-1zM280 504h1v1h-1zM287 501h1v1h-1zM294 514h1v1h-1zM274 500h1v1h-1zM277 504h1v1h-1zM263 508h1v1h-1zM231 519h1v1h-1zM273 506h1v1h-1zM286 501h1v1h-1zM272 503h1v1h-1zM272 505h1v1h-1zM296 512h1v1h-1zM267 539h1v1h-1zM274 504h1v1h-1zM298 502h1v1h-1zM253 508h1v1h-1zM229 520h1v1h-1zM257 509h1v1h-1zM286 502h1v1h-1zM291 510h1v1h-1zM245 515h1v1h-1zM239 516h1v1h-1zM303 505h1v1h-1zM285 513h1v1h-1zM281 506h1v1h-1zM278 534h1v1h-1zM283 508h1v1h-1zM280 503h1v1h-1zM286 505h1v1h-1zM281 525h1v1h-1zM282 517h1v1h-1zM284 516h1v1h-1zM244 512h1v1h-1zM277 504h1v1h-1zM253 507h1v1h-1zM281 514h1v1h-1zM289 512h1v1h-1zM237 516h1v1h-1zM268 534h1v1h-1zM221 522h1v1h-1zM280 503h1v1h-1zM283 512h1v1h-1zM275 504h1v1h-1zM286 510h1v1h-1zM291 508h1v1h-1zM279 507h1v1h-1zM282 517h1v1h-1zM291 499h1v1h-1zM255 511h1v1h-1zM286 503h1v1h-1zM288 501h1v1h-1zM288 500h1v1h-1zM297 513h1v1h-1zM296 495h1v1h-1zM271 534h1v1h-1zM275 532h1v1h-1zM281 514h1v1h-1zM251 509h1v1h-1zM282 515h1v1h-1zM281 527h1v1h-1zM258 511h1v1h-1zM214 526h1v1h-1zM290 517h1v1h-1zM274 529h1v1h-1zM282 515h1v1h-1zM255 511h1v1h-1zM279 523h1v1h-1zM291 500h1v1h-1zM218 572h1v1h-1zM283 501h1v1h-1zM239 516h1v1h-1zM280 508h1v1h-1zM294 514h1v1h-1zM288 511h1v1h-1zM299 502h1v1h-1zM224 522h1v1h-1zM288 514h1v1h-1zM271 506h1v1h-1zM269 538h1v1h-1zM218 573h1v1h-1zM282 519h1v1h-1zM291 510h1v1h-1zM264 507h1v1h-1zM235 518h1v1h-1zM272 537h1v1h-1zM244 514h1v1h-1zM297 508h1v1h-1zM283 515h1v1h-1zM221 524h1v1h-1zM247 515h1v1h-1zM283 515h1v1h-1zM292 498h1v1h-1zM245 514h1v1h-1zM267 506h1v1h-1zM307 502h1v1h-1zM281 520h1v1h-1zM275 507h1v1h-1zM282 517h1v1h-1zM279 502h1v1h-1zM283 506h1v1h-1zM291 511h1v1h-1zM291 507h1v1h-1zM287 513h1v1h-1zM285 511h1v1h-1zM299 506h1v1h-1zM285 517h1v1h-1zM295 511h1v1h-1zM288 517h1v1h-1zM257 510h1v1h-1zM236 519h1v1h-1zM245 516h1v1h-1zM259 509h1v1h-1zM231 518h1v1h-1zM224 524h1v1h-1zM233 519h1v1h-1zM300 507h1v1h-1zM281 502h1v1h-1zM224 522h1v1h-1zM295 508h1v1h-1zM280 502h1v1h-1zM276 529h1v1h-1zM281 521h1v1h-1zM279 502h1v1h-1zM298 512h1v1h-1zM278 528h1v1h-1zM274 500h1v1h-1zM237 517h1v1h-1zM244 513h1v1h-1zM287 501h1v1h-1zM261 508h1v1h-1zM284 511h1v1h-1zM288 508h1v1h-1zM263 506h1v1h-1zM284 508h1v1h-1zM268 535h1v1h-1zM252 508h1v1h-1zM278 508h1v1h-1zM266 542h1v1h-1zM283 516h1v1h-1zM284 519h1v1h-1zM278 506h1v1h-1zM222 523h1v1h-1zM285 519h1v1h-1zM294 515h1v1h-1zM296 511h1v1h-1zM271 507h1v1h-1zM296 510h1v1h-1zM265 506h1v1h-1zM275 505h1v1h-1zM290 519h1v1h-1zM250 514h1v1h-1zM291 515h1v1h-1zM286 510h1v1h-1zM286 506h1v1h-1zM266 540h1v1h-1zM308 502h1v1h-1zM265 506h1v1h-1zM262 507h1v1h-1zM277 531h1v1h-1zM235 518h1v1h-1zM293 498h1v1h-1zM218 525h1v1h-1zM271 503h1v1h-1zM285 508h1v1h-1zM295 509h1v1h-1zM250 514h1v1h-1zM274 499h1v1h-1zM270 507h1v1h-1zM261 545h1v1h-1zM270 540h1v1h-1zM290 501h1v1h-1zM231 519h1v1h-1zM261 506h1v1h-1zM276 530h1v1h-1zM281 508h1v1h-1zM296 496h1v1h-1zM300 507h1v1h-1zM294 514h1v1h-1zM302 502h1v1h-1zM283 501h1v1h-1zM292 503h1v1h-1zM251 513h1v1h-1zM287 519h1v1h-1zM292 506h1v1h-1zM258 508h1v1h-1zM290 502h1v1h-1zM301 503h1v1h-1zM282 526h1v1h-1zM254 512h1v1h-1zM264 542h1v1h-1zM283 527h1v1h-1zM286 502h1v1h-1zM246 514h1v1h-1zM213 574h1v1h-1zM277 529h1v1h-1zM253 513h1v1h-1zM292 510h1v1h-1zM220 524h1v1h-1zM289 511h1v1h-1zM267 504h1v1h-1zM290 502h1v1h-1zM229 520h1v1h-1zM274 501h1v1h-1zM285 518h1v1h-1zM244 515h1v1h-1zM290 506h1v1h-1zM285 502h1v1h-1zM243 515h1v1h-1zM298 507h1v1h-1zM256 507h1v1h-1zM288 525h1v1h-1zM272 504h1v1h-1zM267 507h1v1h-1zM231 520h1v1h-1zM275 502h1v1h-1zM254 511h1v1h-1zM236 519h1v1h-1zM250 510h1v1h-1zM265 539h1v1h-1zM251 510h1v1h-1zM239 514h1v1h-1zM239 515h1v1h-1zM286 510h1v1h-1zM252 514h1v1h-1zM274 532h1v1h-1zM290 503h1v1h-1zM274 501h1v1h-1zM216 525h1v1h-1zM216 526h1v1h-1zM266 505h1v1h-1zM257 508h1v1h-1zM296 506h1v1h-1zM283 503h1v1h-1zM214 527h1v1h-1zM278 526h1v1h-1zM262 545h1v1h-1zM275 506h1v1h-1zM290 507h1v1h-1zM289 517h1v1h-1zM275 503h1v1h-1zM275 503h1v1h-1zM280 527h1v1h-1zM263 543h1v1h-1zM281 518h1v1h-1zM275 506h1v1h-1zM271 502h1v1h-1zM263 547h1v1h-1zM288 517h1v1h-1zM245 515h1v1h-1zM283 509h1v1h-1zM269 506h1v1h-1zM281 529h1v1h-1zM299 503h1v1h-1zM286 504h1v1h-1zM297 502h1v1h-1zM299 506h1v1h-1zM295 498h1v1h-1zM270 507h1v1h-1zM301 502h1v1h-1zM259 507h1v1h-1zM315 501h1v1h-1zM284 513h1v1h-1zM282 529h1v1h-1zM277 501h1v1h-1zM282 529h1v1h-1zM287 510h1v1h-1zM288 498h1v1h-1zM287 508h1v1h-1zM279 505h1v1h-1zM280 524h1v1h-1zM292 510h1v1h-1zM282 522h1v1h-1zM261 506h1v1h-1zM240 514h1v1h-1zM274 531h1v1h-1zM254 512h1v1h-1zM274 504h1v1h-1zM308 495h1v1h-1zM271 533h1v1h-1zM288 513h1v1h-1zM214 573h1v1h-1zM230 520h1v1h-1zM250 512h1v1h-1zM282 520h1v1h-1zM286 506h1v1h-1zM288 513h1v1h-1zM298 514h1v1h-1zM277 503h1v1h-1zM283 508h1v1h-1zM308 495h1v1h-1zM282 509h1v1h-1zM261 507h1v1h-1zM252 514h1v1h-1zM225 523h1v1h-1zM231 520h1v1h-1zM289 507h1v1h-1zM297 507h1v1h-1zM285 504h1v1h-1zM289 506h1v1h-1zM288 525h1v1h-1zM281 503h1v1h-1zM290 504h1v1h-1zM288 504h1v1h-1zM217 572h1v1h-1zM287 520h1v1h-1zM210 529h1v1h-1zM279 505h1v1h-1zM307 503h1v1h-1zM289 506h1v1h-1zM277 504h1v1h-1zM283 503h1v1h-1zM246 512h1v1h-1zM303 503h1v1h-1zM290 514h1v1h-1zM251 513h1v1h-1zM286 508h1v1h-1zM290 501h1v1h-1zM281 518h1v1h-1zM286 519h1v1h-1zM296 514h1v1h-1zM274 502h1v1h-1zM286 520h1v1h-1zM281 504h1v1h-1zM256 510h1v1h-1zM281 520h1v1h-1zM287 512h1v1h-1zM276 528h1v1h-1zM235 519h1v1h-1zM277 527h1v1h-1zM243 515h1v1h-1zM282 523h1v1h-1zM250 512h1v1h-1zM270 539h1v1h-1zM285 509h1v1h-1zM275 502h1v1h-1zM289 507h1v1h-1zM297 514h1v1h-1zM285 504h1v1h-1zM278 522h1v1h-1zM239 515h1v1h-1zM275 528h1v1h-1zM235 519h1v1h-1zM273 505h1v1h-1zM288 519h1v1h-1zM256 508h1v1h-1zM287 519h1v1h-1zM281 525h1v1h-1zM289 516h1v1h-1zM282 503h1v1h-1zM286 518h1v1h-1zM293 499h1v1h-1zM266 508h1v1h-1zM230 519h1v1h-1zM286 500h1v1h-1zM289 525h1v1h-1zM290 506h1v1h-1zM307 503h1v1h-1zM275 502h1v1h-1zM283 521h1v1h-1zM245 514h1v1h-1zM260 510h1v1h-1zM281 505h1v1h-1zM275 530h1v1h-1zM281 506h1v1h-1zM283 505h1v1h-1zM260 508h1v1h-1zM288 506h1v1h-1zM271 537h1v1h-1zM293 499h1v1h-1zM298 507h1v1h-1zM277 534h1v1h-1zM269 537h1v1h-1zM267 544h1v1h-1zM252 511h1v1h-1zM290 515h1v1h-1zM283 501h1v1h-1zM281 502h1v1h-1zM238 518h1v1h-1zM251 508h1v1h-1zM314 501h1v1h-1zM258 511h1v1h-1zM244 513h1v1h-1zM280 525h1v1h-1zM266 541h1v1h-1zM289 503h1v1h-1zM308 502h1v1h-1zM286 510h1v1h-1zM290 510h1v1h-1zM254 509h1v1h-1zM289 505h1v1h-1zM282 505h1v1h-1zM283 523h1v1h-1zM297 496h1v1h-1zM232 567h1v1h-1zM293 509h1v1h-1zM288 517h1v1h-1zM267 506h1v1h-1zM283 501h1v1h-1zM224 523h1v1h-1zM283 513h1v1h-1zM288 498h1v1h-1zM249 514h1v1h-1zM228 522h1v1h-1zM253 513h1v1h-1zM237 518h1v1h-1zM307 503h1v1h-1zM277 534h1v1h-1zM296 517h1v1h-1zM295 514h1v1h-1zM294 499h1v1h-1zM284 514h1v1h-1zM297 506h1v1h-1zM283 517h1v1h-1zM275 529h1v1h-1zM244 515h1v1h-1zM229 521h1v1h-1zM268 506h1v1h-1zM289 518h1v1h-1zM289 512h1v1h-1zM286 517h1v1h-1zM241 515h1v1h-1zM214 526h1v1h-1zM290 498h1v1h-1zM308 502h1v1h-1zM252 507h1v1h-1zM250 513h1v1h-1zM267 543h1v1h-1zM279 508h1v1h-1zM300 502h1v1h-1zM283 504h1v1h-1zM272 504h1v1h-1zM245 513h1v1h-1zM282 513h1v1h-1zM290 500h1v1h-1zM291 517h1v1h-1zM263 541h1v1h-1zM302 504h1v1h-1zM279 505h1v1h-1zM229 518h1v1h-1zM301 503h1v1h-1zM295 498h1v1h-1zM283 528h1v1h-1zM287 521h1v1h-1zM279 505h1v1h-1zM287 519h1v1h-1zM290 518h1v1h-1zM220 524h1v1h-1zM258 509h1v1h-1zM273 505h1v1h-1zM290 502h1v1h-1zM274 502h1v1h-1zM294 510h1v1h-1zM289 513h1v1h-1zM256 511h1v1h-1zM276 505h1v1h-1zM289 516h1v1h-1zM250 512h1v1h-1zM296 509h1v1h-1zM292 504h1v1h-1zM289 504h1v1h-1zM288 505h1v1h-1zM253 513h1v1h-1zM246 513h1v1h-1zM283 513h1v1h-1zM282 507h1v1h-1zM303 504h1v1h-1zM268 506h1v1h-1zM302 503h1v1h-1zM284 518h1v1h-1zM284 512h1v1h-1zM273 505h1v1h-1zM250 514h1v1h-1zM241 516h1v1h-1zM249 511h1v1h-1zM256 510h1v1h-1zM256 512h1v1h-1zM277 531h1v1h-1zM277 508h1v1h-1zM274 533h1v1h-1zM296 495h1v1h-1zM298 507h1v1h-1zM283 504h1v1h-1zM294 512h1v1h-1zM280 505h1v1h-1zM257 510h1v1h-1zM288 506h1v1h-1zM222 523h1v1h-1zM227 522h1v1h-1zM291 503h1v1h-1zM277 532h1v1h-1zM296 506h1v1h-1zM269 533h1v1h-1zM285 520h1v1h-1zM270 537h1v1h-1zM222 524h1v1h-1zM287 510h1v1h-1zM282 508h1v1h-1zM289 517h1v1h-1zM241 515h1v1h-1zM277 507h1v1h-1zM218 572h1v1h-1zM256 511h1v1h-1zM283 520h1v1h-1zM284 513h1v1h-1zM244 513h1v1h-1zM296 514h1v1h-1zM219 572h1v1h-1zM272 506h1v1h-1zM224 523h1v1h-1zM296 516h1v1h-1zM260 549h1v1h-1zM289 500h1v1h-1zM257 511h1v1h-1zM278 502h1v1h-1zM278 528h1v1h-1zM254 508h1v1h-1zM278 507h1v1h-1zM273 506h1v1h-1zM297 510h1v1h-1zM284 512h1v1h-1zM278 527h1v1h-1zM278 528h1v1h-1zM209 530h1v1h-1zM269 507h1v1h-1zM254 554h1v1h-1zM287 517h1v1h-1zM265 506h1v1h-1zM285 514h1v1h-1zM227 523h1v1h-1zM276 506h1v1h-1zM296 507h1v1h-1zM211 529h1v1h-1zM276 504h1v1h-1zM298 507h1v1h-1zM284 522h1v1h-1zM281 504h1v1h-1zM282 504h1v1h-1zM290 504h1v1h-1zM288 518h1v1h-1zM275 505h1v1h-1zM286 500h1v1h-1zM273 506h1v1h-1zM286 509h1v1h-1zM294 499h1v1h-1zM268 505h1v1h-1zM249 514h1v1h-1zM291 501h1v1h-1zM252 507h1v1h-1zM288 517h1v1h-1zM277 523h1v1h-1zM287 501h1v1h-1zM256 510h1v1h-1zM280 505h1v1h-1zM298 508h1v1h-1zM282 520h1v1h-1zM260 508h1v1h-1zM213 527h1v1h-1zM287 499h1v1h-1zM299 514h1v1h-1zM271 532h1v1h-1zM287 516h1v1h-1zM268 534h1v1h-1zM273 501h1v1h-1zM296 511h1v1h-1zM289 507h1v1h-1zM274 503h1v1h-1zM296 496h1v1h-1zM253 511h1v1h-1zM214 527h1v1h-1zM291 505h1v1h-1zM283 503h1v1h-1zM290 509h1v1h-1zM284 502h1v1h-1zM296 515h1v1h-1zM299 505h1v1h-1zM245 512h1v1h-1zM285 510h1v1h-1zM269 535h1v1h-1zM263 545h1v1h-1zM287 507h1v1h-1zM231 520h1v1h-1zM283 527h1v1h-1zM287 499h1v1h-1zM251 508h1v1h-1zM285 506h1v1h-1zM215 575h1v1h-1zM288 502h1v1h-1zM248 514h1v1h-1zM287 510h1v1h-1zM288 510h1v1h-1zM262 509h1v1h-1zM289 512h1v1h-1zM256 507h1v1h-1zM271 507h1v1h-1zM281 528h1v1h-1zM288 521h1v1h-1zM285 520h1v1h-1zM278 522h1v1h-1zM289 499h1v1h-1zM295 507h1v1h-1zM269 506h1v1h-1zM294 497h1v1h-1zM286 521h1v1h-1zM304 505h1v1h-1zM280 526h1v1h-1zM288 509h1v1h-1zM243 514h1v1h-1zM243 512h1v1h-1zM255 510h1v1h-1zM259 510h1v1h-1zM287 513h1v1h-1zM283 503h1v1h-1zM241 515h1v1h-1zM297 497h1v1h-1zM261 507h1v1h-1zM281 514h1v1h-1zM282 508h1v1h-1zM266 505h1v1h-1zM289 512h1v1h-1zM285 519h1v1h-1zM294 508h1v1h-1zM278 507h1v1h-1zM282 507h1v1h-1zM259 508h1v1h-1zM267 540h1v1h-1zM273 533h1v1h-1zM288 511h1v1h-1zM272 533h1v1h-1zM256 556h1v1h-1zM263 544h1v1h-1zM273 531h1v1h-1zM266 543h1v1h-1zM259 548h1v1h-1zM274 531h1v1h-1zM257 557h1v1h-1zM254 555h1v1h-1zM297 510h1v1h-1zM276 534h1v1h-1zM261 546h1v1h-1zM271 536h1v1h-1zM256 555h1v1h-1zM262 546h1v1h-1zM298 514h1v1h-1zM269 539h1v1h-1zM279 508h1v1h-1zM272 537h1v1h-1zM268 542h1v1h-1zM284 525h1v1h-1zM284 525h1v1h-1zM290 514h1v1h-1zM278 525h1v1h-1zM262 543h1v1h-1zM277 527h1v1h-1zM292 511h1v1h-1zM268 541h1v1h-1zM288 515h1v1h-1zM275 529h1v1h-1zM284 519h1v1h-1zM276 533h1v1h-1zM282 528h1v1h-1zM261 551h1v1h-1zM286 516h1v1h-1zM253 557h1v1h-1zM265 545h1v1h-1zM304 503h1v1h-1zM254 558h1v1h-1zM284 525h1v1h-1zM280 528h1v1h-1zM280 521h1v1h-1zM261 545h1v1h-1zM289 525h1v1h-1zM291 507h1v1h-1zM295 515h1v1h-1zM297 515h1v1h-1zM272 539h1v1h-1zM258 548h1v1h-1zM272 531h1v1h-1zM281 520h1v1h-1zM262 549h1v1h-1zM281 530h1v1h-1zM278 533h1v1h-1zM259 548h1v1h-1zM266 538h1v1h-1zM285 513h1v1h-1zM295 496h1v1h-1zM269 543h1v1h-1zM270 505h1v1h-1zM263 545h1v1h-1zM286 519h1v1h-1zM284 502h1v1h-1zM273 532h1v1h-1zM254 559h1v1h-1zM266 547h1v1h-1zM264 543h1v1h-1zM263 545h1v1h-1zM253 556h1v1h-1zM286 516h1v1h-1zM262 548h1v1h-1zM289 499h1v1h-1zM296 513h1v1h-1zM272 533h1v1h-1zM272 534h1v1h-1zM298 514h1v1h-1zM254 557h1v1h-1zM266 544h1v1h-1zM272 533h1v1h-1zM293 509h1v1h-1zM282 526h1v1h-1zM285 515h1v1h-1zM254 557h1v1h-1zM278 525h1v1h-1zM268 540h1v1h-1zM266 543h1v1h-1zM277 534h1v1h-1zM285 519h1v1h-1zM296 517h1v1h-1zM297 512h1v1h-1z" fill="#b00000" stroke="none" stroke-width="1" fill-opacity="0.72"/>
<path d="M248 563h1v1h-1zM263 562h1v1h-1zM239 567h1v1h-1zM238 570h1v1h-1zM243 566h1v1h-1zM234 569h1v1h-1zM264 550h1v1h-1zM268 552h1v1h-1zM259 554h1v1h-1zM247 563h1v1h-1zM263 556h1v1h-1zM245 566h1v1h-1zM251 560h1v1h-1zM167 541h1v1h-1zM210 577h1v1h-1zM247 566h1v1h-1zM167 539h1v1h-1zM256 563h1v1h-1zM270 543h1v1h-1zM249 564h1v1h-1zM266 560h1v1h-1zM263 555h1v1h-1zM263 558h1v1h-1zM181 538h1v1h-1zM269 544h1v1h-1zM258 556h1v1h-1zM210 575h1v1h-1zM166 539h1v1h-1zM201 577h1v1h-1zM238 568h1v1h-1zM248 563h1v1h-1zM258 557h1v1h-1zM229 571h1v1h-1zM259 552h1v1h-1zM214 576h1v1h-1zM237 568h1v1h-1zM253 563h1v1h-1zM270 558h1v1h-1zM261 560h1v1h-1zM236 567h1v1h-1zM169 540h1v1h-1zM175 538h1v1h-1zM257 557h1v1h-1zM233 570h1v1h-1zM207 576h1v1h-1zM213 576h1v1h-1zM260 559h1v1h-1zM243 566h1v1h-1zM259 556h1v1h-1zM167 540h1v1h-1zM225 571h1v1h-1zM248 565h1v1h-1zM246 563h1v1h-1zM249 562h1v1h-1zM264 559h1v1h-1zM260 558h1v1h-1zM192 535h1v1h-1zM269 546h1v1h-1zM197 578h1v1h-1zM194 534h1v1h-1zM257 558h1v1h-1zM255 562h1v1h-1zM250 562h1v1h-1zM254 559h1v1h-1zM225 571h1v1h-1zM231 570h1v1h-1zM224 572h1v1h-1zM267 558h1v1h-1zM185 537h1v1h-1zM181 579h1v1h-1zM203 579h1v1h-1zM197 533h1v1h-1zM200 576h1v1h-1zM190 534h1v1h-1zM166 579h1v1h-1zM184 579h1v1h-1zM177 582h1v1h-1zM272 545h1v1h-1zM174 538h1v1h-1zM278 530h1v1h-1zM261 554h1v1h-1zM192 579h1v1h-1zM291 539h1v1h-1zM186 535h1v1h-1zM267 549h1v1h-1zM260 562h1v1h-1zM178 582h1v1h-1zM189 535h1v1h-1zM233 569h1v1h-1zM287 523h1v1h-1zM208 529h1v1h-1zM285 532h1v1h-1zM264 548h1v1h-1zM262 557h1v1h-1zM212 575h1v1h-1zM279 532h1v1h-1zM184 580h1v1h-1zM271 556h1v1h-1zM215 524h1v1h-1zM203 576h1v1h-1zM183 580h1v1h-1zM273 544h1v1h-1zM185 536h1v1h-1zM281 545h1v1h-1zM189 580h1v1h-1zM213 577h1v1h-1zM180 581h1v1h-1zM189 534h1v1h-1zM207 530h1v1h-1zM195 580h1v1h-1zM170 583h1v1h-1zM210 525h1v1h-1zM192 578h1v1h-1zM216 575h1v1h-1zM190 533h1v1h-1zM192 579h1v1h-1zM203 528h1v1h-1zM238 567h1v1h-1zM205 528h1v1h-1zM201 579h1v1h-1zM183 536h1v1h-1zM189 580h1v1h-1zM205 532h1v1h-1zM168 539h1v1h-1zM275 539h1v1h-1zM267 551h1v1h-1zM181 580h1v1h-1zM248 563h1v1h-1zM190 534h1v1h-1zM191 579h1v1h-1zM194 578h1v1h-1zM201 532h1v1h-1zM250 563h1v1h-1zM169 579h1v1h-1zM171 580h1v1h-1zM203 529h1v1h-1zM259 552h1v1h-1zM280 542h1v1h-1zM279 540h1v1h-1zM275 543h1v1h-1zM272 546h1v1h-1zM261 551h1v1h-1zM192 581h1v1h-1zM203 579h1v1h-1zM169 539h1v1h-1zM232 517h1v1h-1zM170 581h1v1h-1zM186 536h1v1h-1zM239 568h1v1h-1zM208 577h1v1h-1zM166 580h1v1h-1zM209 577h1v1h-1zM204 529h1v1h-1zM223 574h1v1h-1zM215 576h1v1h-1zM219 523h1v1h-1zM291 539h1v1h-1zM185 537h1v1h-1zM287 540h1v1h-1zM208 577h1v1h-1zM291 525h1v1h-1zM188 579h1v1h-1zM182 579h1v1h-1zM168 580h1v1h-1zM185 581h1v1h-1zM199 531h1v1h-1zM189 535h1v1h-1zM185 581h1v1h-1zM195 533h1v1h-1zM210 577h1v1h-1zM273 544h1v1h-1zM203 578h1v1h-1zM237 568h1v1h-1zM179 581h1v1h-1zM284 530h1v1h-1zM204 531h1v1h-1zM181 539h1v1h-1zM210 576h1v1h-1zM290 532h1v1h-1zM170 581h1v1h-1zM224 574h1v1h-1zM242 512h1v1h-1zM252 560h1v1h-1zM267 552h1v1h-1zM285 524h1v1h-1zM206 578h1v1h-1zM205 578h1v1h-1zM246 564h1v1h-1zM205 530h1v1h-1zM268 548h1v1h-1zM186 579h1v1h-1zM272 546h1v1h-1zM186 579h1v1h-1zM271 542h1v1h-1zM199 576h1v1h-1zM172 577h1v1h-1zM272 551h1v1h-1zM183 578h1v1h-1zM169 581h1v1h-1zM241 566h1v1h-1zM267 546h1v1h-1zM251 561h1v1h-1zM176 582h1v1h-1zM284 538h1v1h-1zM171 539h1v1h-1zM169 579h1v1h-1zM252 563h1v1h-1zM210 526h1v1h-1zM227 573h1v1h-1zM201 575h1v1h-1zM201 530h1v1h-1zM186 579h1v1h-1zM230 514h1v1h-1zM169 579h1v1h-1zM194 578h1v1h-1zM200 531h1v1h-1zM206 530h1v1h-1zM277 537h1v1h-1zM210 577h1v1h-1zM210 576h1v1h-1zM298 524h1v1h-1zM302 493h1v1h-1zM298 519h1v1h-1zM298 494h1v1h-1zM304 500h1v1h-1zM308 504h1v1h-1zM310 492h1v1h-1zM293 496h1v1h-1zM300 517h1v1h-1zM315 482h1v1h-1zM312 500h1v1h-1zM228 518h1v1h-1zM235 517h1v1h-1zM239 514h1v1h-1zM278 500h1v1h-1zM247 506h1v1h-1zM306 497h1v1h-1zM301 514h1v1h-1zM272 498h1v1h-1zM238 514h1v1h-1zM222 519h1v1h-1zM236 514h1v1h-1zM303 493h1v1h-1zM277 536h1v1h-1zM315 501h1v1h-1zM245 512h1v1h-1zM283 498h1v1h-1zM317 509h1v1h-1zM292 511h1v1h-1zM225 520h1v1h-1zM280 498h1v1h-1zM271 500h1v1h-1zM297 519h1v1h-1zM310 497h1v1h-1zM295 494h1v1h-1zM278 491h1v1h-1zM312 512h1v1h-1zM292 516h1v1h-1zM294 503h1v1h-1zM225 520h1v1h-1zM307 504h1v1h-1zM310 494h1v1h-1zM324 494h1v1h-1zM317 489h1v1h-1zM259 507h1v1h-1zM289 495h1v1h-1zM305 510h1v1h-1zM315 498h1v1h-1zM314 512h1v1h-1zM265 548h1v1h-1zM304 500h1v1h-1zM318 501h1v1h-1zM274 498h1v1h-1zM307 488h1v1h-1zM296 498h1v1h-1zM309 506h1v1h-1zM221 521h1v1h-1zM251 506h1v1h-1zM316 481h1v1h-1zM288 526h1v1h-1zM300 490h1v1h-1zM330 494h1v1h-1zM309 497h1v1h-1zM284 532h1v1h-1zM287 531h1v1h-1zM315 509h1v1h-1zM307 507h1v1h-1zM290 521h1v1h-1zM322 492h1v1h-1zM310 500h1v1h-1zM316 486h1v1h-1zM263 503h1v1h-1zM305 507h1v1h-1zM286 496h1v1h-1zM280 500h1v1h-1zM319 494h1v1h-1zM288 522h1v1h-1zM255 558h1v1h-1zM303 496h1v1h-1zM292 492h1v1h-1zM232 516h1v1h-1zM322 502h1v1h-1zM326 491h1v1h-1zM235 515h1v1h-1zM299 528h1v1h-1zM299 500h1v1h-1zM287 525h1v1h-1zM279 497h1v1h-1zM300 489h1v1h-1zM320 510h1v1h-1zM317 486h1v1h-1zM280 496h1v1h-1zM313 503h1v1h-1zM294 504h1v1h-1zM308 496h1v1h-1zM290 521h1v1h-1zM289 533h1v1h-1zM310 499h1v1h-1zM315 507h1v1h-1zM303 493h1v1h-1zM289 493h1v1h-1zM293 505h1v1h-1zM268 502h1v1h-1zM314 493h1v1h-1zM284 495h1v1h-1zM315 487h1v1h-1zM297 501h1v1h-1zM320 491h1v1h-1zM321 531h1v1h-1zM277 538h1v1h-1zM303 511h1v1h-1zM286 495h1v1h-1zM258 506h1v1h-1zM278 498h1v1h-1zM314 499h1v1h-1zM300 515h1v1h-1zM313 492h1v1h-1zM320 504h1v1h-1zM292 518h1v1h-1zM321 501h1v1h-1zM317 491h1v1h-1zM214 524h1v1h-1zM314 488h1v1h-1zM309 515h1v1h-1zM294 503h1v1h-1zM302 485h1v1h-1zM304 498h1v1h-1zM317 520h1v1h-1zM290 494h1v1h-1zM302 498h1v1h-1zM313 522h1v1h-1zM301 506h1v1h-1zM284 498h1v1h-1zM286 493h1v1h-1zM313 502h1v1h-1zM306 497h1v1h-1zM279 495h1v1h-1zM267 503h1v1h-1zM302 501h1v1h-1zM284 495h1v1h-1zM304 511h1v1h-1zM305 501h1v1h-1zM269 501h1v1h-1zM300 514h1v1h-1zM356 514h1v1h-1zM293 494h1v1h-1zM310 504h1v1h-1zM302 492h1v1h-1zM283 531h1v1h-1zM308 494h1v1h-1zM308 494h1v1h-1zM301 514h1v1h-1zM243 511h1v1h-1zM271 501h1v1h-1zM301 505h1v1h-1zM307 518h1v1h-1zM330 493h1v1h-1zM274 497h1v1h-1zM296 491h1v1h-1zM318 488h1v1h-1zM287 491h1v1h-1zM286 535h1v1h-1zM305 498h1v1h-1zM292 521h1v1h-1zM282 493h1v1h-1zM326 496h1v1h-1zM284 532h1v1h-1zM272 540h1v1h-1zM295 498h1v1h-1zM314 488h1v1h-1zM334 492h1v1h-1zM293 503h1v1h-1zM282 534h1v1h-1zM316 502h1v1h-1zM297 490h1v1h-1zM301 510h1v1h-1zM316 483h1v1h-1zM316 490h1v1h-1zM223 521h1v1h-1zM303 490h1v1h-1zM293 501h1v1h-1zM270 552h1v1h-1zM297 494h1v1h-1zM307 511h1v1h-1zM297 503h1v1h-1zM299 499h1v1h-1zM281 495h1v1h-1zM272 498h1v1h-1zM277 542h1v1h-1zM271 499h1v1h-1zM298 497h1v1h-1zM306 507h1v1h-1zM308 501h1v1h-1zM249 508h1v1h-1zM280 497h1v1h-1zM302 497h1v1h-1zM289 497h1v1h-1zM280 539h1v1h-1zM312 506h1v1h-1zM314 509h1v1h-1zM269 504h1v1h-1zM269 503h1v1h-1zM250 507h1v1h-1zM300 493h1v1h-1zM326 492h1v1h-1zM322 486h1v1h-1zM275 498h1v1h-1zM299 491h1v1h-1zM249 509h1v1h-1zM293 525h1v1h-1zM306 507h1v1h-1zM291 519h1v1h-1zM314 487h1v1h-1zM292 518h1v1h-1zM302 508h1v1h-1zM319 485h1v1h-1zM294 504h1v1h-1zM247 512h1v1h-1zM312 487h1v1h-1zM285 538h1v1h-1zM285 492h1v1h-1zM309 507h1v1h-1zM306 494h1v1h-1zM306 507h1v1h-1zM296 518h1v1h-1zM284 498h1v1h-1zM266 500h1v1h-1zM283 531h1v1h-1zM280 496h1v1h-1zM247 510h1v1h-1zM280 491h1v1h-1zM303 526h1v1h-1zM324 502h1v1h-1zM312 494h1v1h-1zM293 497h1v1h-1zM300 501h1v1h-1zM303 500h1v1h-1zM313 517h1v1h-1zM273 549h1v1h-1zM303 491h1v1h-1zM296 491h1v1h-1zM322 500h1v1h-1zM287 496h1v1h-1zM249 508h1v1h-1zM314 486h1v1h-1zM316 511h1v1h-1zM315 493h1v1h-1zM269 502h1v1h-1zM288 524h1v1h-1zM333 490h1v1h-1zM292 520h1v1h-1zM308 486h1v1h-1zM289 531h1v1h-1zM300 512h1v1h-1zM316 481h1v1h-1zM290 496h1v1h-1zM320 502h1v1h-1zM273 497h1v1h-1zM301 486h1v1h-1zM303 495h1v1h-1zM320 484h1v1h-1zM313 504h1v1h-1zM303 494h1v1h-1zM319 499h1v1h-1zM316 500h1v1h-1zM319 482h1v1h-1zM261 503h1v1h-1zM303 507h1v1h-1zM280 499h1v1h-1zM310 505h1v1h-1zM303 509h1v1h-1zM307 485h1v1h-1zM272 498h1v1h-1zM301 486h1v1h-1zM301 495h1v1h-1zM303 492h1v1h-1zM298 519h1v1h-1zM287 495h1v1h-1zM219 521h1v1h-1zM283 500h1v1h-1zM222 522h1v1h-1zM302 497h1v1h-1zM302 487h1v1h-1zM298 516h1v1h-1zM279 495h1v1h-1zM256 506h1v1h-1zM305 486h1v1h-1zM296 525h1v1h-1zM297 504h1v1h-1zM228 520h1v1h-1zM310 505h1v1h-1zM281 493h1v1h-1zM314 513h1v1h-1zM299 500h1v1h-1zM307 495h1v1h-1zM241 511h1v1h-1zM251 507h1v1h-1zM272 496h1v1h-1zM236 515h1v1h-1zM301 492h1v1h-1zM273 540h1v1h-1zM279 492h1v1h-1zM298 502h1v1h-1zM315 502h1v1h-1zM293 493h1v1h-1zM294 506h1v1h-1zM299 510h1v1h-1zM310 486h1v1h-1zM298 521h1v1h-1zM318 511h1v1h-1zM300 510h1v1h-1zM333 488h1v1h-1zM334 503h1v1h-1zM278 498h1v1h-1zM271 499h1v1h-1zM227 518h1v1h-1zM289 497h1v1h-1zM295 517h1v1h-1zM304 508h1v1h-1zM266 503h1v1h-1zM313 495h1v1h-1zM311 507h1v1h-1zM313 493h1v1h-1zM302 497h1v1h-1zM303 510h1v1h-1zM287 491h1v1h-1zM313 490h1v1h-1zM287 492h1v1h-1zM272 498h1v1h-1zM323 495h1v1h-1zM306 498h1v1h-1zM263 503h1v1h-1zM303 488h1v1h-1zM266 504h1v1h-1zM283 533h1v1h-1zM312 495h1v1h-1zM305 500h1v1h-1zM260 553h1v1h-1zM302 510h1v1h-1zM302 490h1v1h-1zM293 491h1v1h-1zM311 496h1v1h-1zM283 530h1v1h-1zM303 495h1v1h-1zM263 504h1v1h-1zM269 545h1v1h-1zM293 490h1v1h-1zM295 500h1v1h-1zM316 501h1v1h-1zM231 515h1v1h-1zM299 522h1v1h-1zM288 527h1v1h-1zM315 497h1v1h-1zM345 503h1v1h-1zM289 494h1v1h-1zM292 491h1v1h-1zM295 489h1v1h-1zM308 506h1v1h-1zM303 486h1v1h-1zM284 495h1v1h-1zM312 485h1v1h-1zM310 504h1v1h-1zM287 529h1v1h-1zM287 531h1v1h-1zM221 573h1v1h-1zM285 493h1v1h-1zM303 495h1v1h-1zM326 499h1v1h-1zM300 516h1v1h-1zM318 483h1v1h-1zM297 502h1v1h-1zM248 509h1v1h-1zM312 491h1v1h-1zM316 490h1v1h-1zM238 512h1v1h-1zM305 486h1v1h-1zM314 498h1v1h-1zM312 497h1v1h-1zM310 504h1v1h-1zM282 493h1v1h-1zM276 499h1v1h-1zM286 498h1v1h-1zM312 501h1v1h-1zM320 505h1v1h-1zM280 499h1v1h-1zM304 503h1v1h-1zM309 494h1v1h-1zM307 498h1v1h-1zM242 511h1v1h-1zM295 492h1v1h-1zM297 519h1v1h-1zM314 497h1v1h-1zM256 505h1v1h-1zM293 490h1v1h-1zM326 496h1v1h-1zM323 504h1v1h-1zM267 501h1v1h-1zM304 492h1v1h-1zM312 493h1v1h-1zM300 486h1v1h-1zM257 506h1v1h-1zM301 485h1v1h-1zM307 484h1v1h-1zM316 484h1v1h-1zM313 505h1v1h-1zM272 496h1v1h-1zM314 502h1v1h-1zM278 496h1v1h-1zM310 493h1v1h-1zM310 485h1v1h-1zM315 500h1v1h-1zM303 490h1v1h-1zM279 531h1v1h-1zM316 485h1v1h-1zM309 492h1v1h-1zM275 541h1v1h-1zM301 519h1v1h-1zM290 497h1v1h-1zM311 493h1v1h-1zM298 520h1v1h-1zM231 514h1v1h-1zM308 500h1v1h-1zM307 484h1v1h-1zM313 504h1v1h-1zM301 489h1v1h-1zM311 505h1v1h-1zM285 526h1v1h-1zM319 505h1v1h-1zM306 486h1v1h-1zM313 489h1v1h-1zM299 502h1v1h-1zM327 493h1v1h-1zM291 521h1v1h-1zM242 512h1v1h-1zM319 486h1v1h-1zM224 521h1v1h-1zM322 491h1v1h-1zM309 496h1v1h-1zM300 493h1v1h-1zM324 491h1v1h-1zM314 503h1v1h-1zM301 489h1v1h-1zM294 491h1v1h-1zM297 489h1v1h-1zM325 488h1v1h-1zM309 502h1v1h-1zM254 506h1v1h-1zM305 516h1v1h-1zM304 492h1v1h-1zM317 499h1v1h-1zM296 501h1v1h-1zM306 496h1v1h-1zM316 490h1v1h-1zM310 497h1v1h-1zM305 488h1v1h-1zM302 486h1v1h-1zM292 513h1v1h-1zM333 493h1v1h-1zM283 499h1v1h-1zM308 496h1v1h-1zM278 540h1v1h-1zM286 496h1v1h-1zM306 489h1v1h-1zM235 515h1v1h-1zM301 489h1v1h-1zM301 490h1v1h-1zM306 497h1v1h-1zM298 519h1v1h-1zM314 485h1v1h-1zM315 500h1v1h-1zM295 491h1v1h-1zM282 496h1v1h-1zM219 522h1v1h-1zM310 508h1v1h-1zM269 502h1v1h-1zM314 514h1v1h-1zM254 506h1v1h-1zM309 500h1v1h-1zM321 485h1v1h-1zM277 497h1v1h-1zM237 513h1v1h-1zM305 488h1v1h-1zM292 502h1v1h-1zM276 496h1v1h-1zM217 524h1v1h-1zM275 535h1v1h-1zM316 514h1v1h-1zM319 519h1v1h-1zM314 529h1v1h-1zM325 502h1v1h-1zM301 525h1v1h-1zM345 520h1v1h-1zM306 512h1v1h-1zM351 514h1v1h-1zM353 512h1v1h-1zM297 528h1v1h-1zM361 526h1v1h-1zM350 511h1v1h-1zM272 548h1v1h-1zM317 519h1v1h-1zM316 520h1v1h-1zM318 546h1v1h-1zM304 527h1v1h-1zM308 550h1v1h-1zM318 527h1v1h-1zM290 495h1v1h-1zM325 538h1v1h-1zM291 527h1v1h-1zM364 511h1v1h-1zM359 535h1v1h-1zM373 510h1v1h-1zM364 520h1v1h-1zM277 544h1v1h-1zM287 544h1v1h-1zM342 542h1v1h-1zM314 528h1v1h-1zM343 503h1v1h-1zM367 508h1v1h-1zM331 535h1v1h-1zM271 556h1v1h-1zM283 537h1v1h-1zM281 537h1v1h-1zM338 531h1v1h-1zM351 514h1v1h-1zM300 540h1v1h-1zM323 541h1v1h-1zM289 542h1v1h-1zM287 538h1v1h-1zM364 513h1v1h-1zM314 521h1v1h-1zM338 532h1v1h-1zM377 516h1v1h-1zM374 499h1v1h-1zM322 529h1v1h-1zM296 537h1v1h-1zM285 534h1v1h-1zM269 548h1v1h-1zM361 522h1v1h-1zM308 551h1v1h-1zM279 555h1v1h-1zM282 545h1v1h-1zM336 513h1v1h-1zM316 536h1v1h-1zM318 544h1v1h-1zM300 541h1v1h-1zM349 513h1v1h-1zM313 520h1v1h-1zM324 527h1v1h-1zM331 536h1v1h-1zM316 531h1v1h-1zM322 530h1v1h-1zM307 518h1v1h-1zM275 535h1v1h-1zM378 521h1v1h-1zM256 563h1v1h-1zM316 509h1v1h-1zM372 500h1v1h-1zM316 528h1v1h-1zM375 499h1v1h-1zM324 542h1v1h-1zM325 530h1v1h-1zM280 536h1v1h-1zM354 532h1v1h-1zM370 528h1v1h-1zM302 493h1v1h-1zM320 531h1v1h-1zM307 529h1v1h-1zM361 522h1v1h-1zM311 522h1v1h-1zM287 536h1v1h-1zM370 524h1v1h-1zM286 542h1v1h-1zM290 523h1v1h-1zM354 531h1v1h-1zM276 549h1v1h-1zM323 529h1v1h-1zM334 532h1v1h-1zM281 557h1v1h-1zM317 509h1v1h-1zM306 551h1v1h-1zM359 527h1v1h-1zM316 532h1v1h-1zM340 530h1v1h-1zM351 509h1v1h-1zM333 531h1v1h-1zM365 517h1v1h-1zM344 519h1v1h-1zM317 531h1v1h-1zM300 537h1v1h-1zM374 522h1v1h-1zM307 514h1v1h-1zM326 526h1v1h-1zM335 529h1v1h-1zM258 562h1v1h-1zM319 507h1v1h-1zM369 529h1v1h-1zM356 512h1v1h-1zM380 508h1v1h-1zM309 538h1v1h-1zM362 517h1v1h-1zM379 515h1v1h-1zM283 538h1v1h-1zM275 553h1v1h-1zM376 515h1v1h-1zM256 564h1v1h-1zM379 517h1v1h-1zM283 546h1v1h-1zM337 533h1v1h-1zM345 503h1v1h-1zM292 519h1v1h-1zM301 541h1v1h-1zM315 531h1v1h-1zM323 530h1v1h-1zM288 526h1v1h-1zM357 511h1v1h-1zM258 555h1v1h-1zM310 535h1v1h-1zM304 528h1v1h-1zM371 508h1v1h-1zM342 542h1v1h-1zM356 525h1v1h-1zM312 504h1v1h-1zM363 514h1v1h-1zM311 538h1v1h-1zM327 538h1v1h-1zM356 533h1v1h-1zM378 520h1v1h-1zM371 529h1v1h-1zM332 502h1v1h-1zM309 517h1v1h-1zM265 560h1v1h-1zM380 516h1v1h-1zM258 564h1v1h-1zM364 517h1v1h-1zM325 527h1v1h-1zM378 511h1v1h-1zM288 530h1v1h-1zM312 507h1v1h-1zM296 536h1v1h-1zM269 558h1v1h-1zM317 524h1v1h-1zM329 532h1v1h-1zM319 544h1v1h-1zM328 527h1v1h-1zM305 505h1v1h-1zM277 536h1v1h-1zM362 521h1v1h-1zM283 542h1v1h-1zM277 556h1v1h-1zM314 513h1v1h-1zM301 511h1v1h-1zM343 522h1v1h-1zM290 552h1v1h-1zM312 538h1v1h-1zM294 545h1v1h-1zM289 528h1v1h-1zM315 528h1v1h-1zM281 537h1v1h-1zM377 512h1v1h-1zM289 528h1v1h-1zM286 538h1v1h-1zM297 524h1v1h-1zM352 517h1v1h-1zM291 538h1v1h-1zM361 527h1v1h-1zM285 534h1v1h-1zM326 538h1v1h-1zM353 542h1v1h-1zM320 500h1v1h-1zM353 509h1v1h-1zM305 506h1v1h-1zM276 536h1v1h-1zM308 512h1v1h-1zM308 516h1v1h-1zM372 498h1v1h-1zM318 484h1v1h-1zM313 501h1v1h-1zM302 523h1v1h-1zM299 536h1v1h-1zM316 528h1v1h-1zM278 544h1v1h-1zM377 524h1v1h-1zM352 524h1v1h-1zM294 544h1v1h-1zM284 540h1v1h-1zM338 534h1v1h-1zM298 539h1v1h-1zM318 494h1v1h-1zM331 534h1v1h-1zM276 553h1v1h-1zM331 533h1v1h-1zM269 558h1v1h-1zM327 514h1v1h-1zM336 529h1v1h-1zM378 522h1v1h-1zM341 545h1v1h-1zM268 551h1v1h-1zM305 528h1v1h-1zM267 558h1v1h-1zM305 526h1v1h-1zM315 506h1v1h-1zM355 513h1v1h-1zM279 536h1v1h-1zM342 530h1v1h-1zM351 524h1v1h-1zM382 516h1v1h-1zM317 535h1v1h-1zM362 511h1v1h-1zM338 529h1v1h-1zM270 560h1v1h-1zM317 500h1v1h-1zM361 500h1v1h-1zM322 532h1v1h-1zM296 525h1v1h-1zM316 537h1v1h-1zM313 510h1v1h-1zM275 547h1v1h-1zM380 518h1v1h-1zM270 551h1v1h-1zM298 516h1v1h-1zM310 520h1v1h-1zM261 561h1v1h-1zM363 518h1v1h-1zM265 547h1v1h-1zM291 534h1v1h-1zM372 507h1v1h-1zM363 522h1v1h-1zM318 490h1v1h-1zM313 535h1v1h-1zM380 512h1v1h-1zM298 527h1v1h-1zM379 517h1v1h-1zM316 508h1v1h-1zM361 522h1v1h-1zM360 523h1v1h-1zM369 506h1v1h-1zM331 533h1v1h-1zM313 535h1v1h-1zM261 559h1v1h-1zM280 533h1v1h-1zM358 523h1v1h-1zM317 517h1v1h-1zM322 521h1v1h-1zM376 509h1v1h-1zM326 514h1v1h-1zM329 492h1v1h-1zM297 542h1v1h-1zM312 520h1v1h-1zM361 500h1v1h-1zM315 521h1v1h-1zM285 538h1v1h-1zM361 521h1v1h-1zM287 528h1v1h-1zM275 538h1v1h-1zM304 531h1v1h-1zM270 546h1v1h-1zM335 514h1v1h-1zM338 531h1v1h-1zM382 515h1v1h-1zM325 512h1v1h-1zM379 508h1v1h-1zM279 534h1v1h-1zM289 543h1v1h-1zM260 557h1v1h-1zM312 507h1v1h-1zM287 540h1v1h-1zM280 534h1v1h-1zM328 516h1v1h-1zM298 539h1v1h-1zM359 527h1v1h-1zM352 518h1v1h-1zM303 538h1v1h-1zM315 536h1v1h-1zM340 542h1v1h-1zM273 537h1v1h-1zM326 501h1v1h-1zM349 524h1v1h-1zM318 528h1v1h-1zM362 521h1v1h-1zM306 518h1v1h-1zM360 523h1v1h-1zM357 535h1v1h-1zM307 524h1v1h-1zM325 531h1v1h-1zM302 531h1v1h-1zM325 499h1v1h-1zM365 519h1v1h-1zM306 526h1v1h-1zM332 493h1v1h-1zM318 523h1v1h-1zM381 517h1v1h-1zM281 542h1v1h-1zM318 520h1v1h-1zM380 514h1v1h-1zM271 544h1v1h-1zM316 537h1v1h-1zM362 509h1v1h-1zM319 523h1v1h-1zM270 553h1v1h-1zM372 503h1v1h-1zM319 524h1v1h-1zM358 524h1v1h-1zM339 519h1v1h-1zM311 487h1v1h-1zM373 505h1v1h-1zM279 541h1v1h-1zM370 525h1v1h-1zM363 520h1v1h-1zM301 514h1v1h-1zM296 529h1v1h-1zM299 528h1v1h-1zM315 518h1v1h-1zM322 541h1v1h-1zM327 494h1v1h-1zM374 521h1v1h-1zM339 534h1v1h-1zM353 512h1v1h-1zM272 555h1v1h-1zM267 561h1v1h-1zM306 550h1v1h-1zM295 539h1v1h-1zM281 539h1v1h-1zM366 510h1v1h-1zM284 546h1v1h-1zM305 517h1v1h-1zM284 546h1v1h-1zM311 535h1v1h-1zM304 510h1v1h-1zM266 547h1v1h-1zM373 509h1v1h-1zM361 524h1v1h-1zM263 564h1v1h-1zM341 530h1v1h-1zM312 519h1v1h-1zM381 516h1v1h-1zM374 510h1v1h-1zM289 546h1v1h-1zM305 506h1v1h-1zM324 516h1v1h-1zM299 498h1v1h-1zM375 520h1v1h-1zM296 544h1v1h-1zM315 537h1v1h-1zM298 539h1v1h-1zM332 495h1v1h-1zM341 523h1v1h-1zM343 544h1v1h-1zM276 542h1v1h-1zM284 542h1v1h-1zM318 489h1v1h-1zM320 510h1v1h-1zM272 551h1v1h-1zM305 530h1v1h-1zM324 500h1v1h-1zM378 510h1v1h-1zM306 526h1v1h-1zM286 536h1v1h-1zM298 537h1v1h-1zM374 508h1v1h-1zM302 526h1v1h-1zM376 521h1v1h-1zM285 529h1v1h-1zM312 520h1v1h-1zM280 559h1v1h-1zM322 540h1v1h-1zM377 524h1v1h-1zM337 512h1v1h-1zM290 544h1v1h-1zM354 514h1v1h-1zM310 518h1v1h-1zM356 532h1v1h-1zM314 536h1v1h-1zM267 559h1v1h-1zM289 542h1v1h-1zM359 516h1v1h-1zM272 555h1v1h-1zM303 496h1v1h-1zM263 562h1v1h-1zM355 513h1v1h-1zM329 515h1v1h-1zM364 518h1v1h-1zM292 497h1v1h-1zM354 509h1v1h-1zM324 540h1v1h-1zM275 496h1v1h-1zM282 540h1v1h-1zM351 509h1v1h-1zM300 517h1v1h-1zM351 524h1v1h-1zM299 536h1v1h-1zM362 524h1v1h-1zM333 490h1v1h-1zM261 552h1v1h-1zM340 544h1v1h-1zM371 508h1v1h-1zM316 523h1v1h-1zM285 538h1v1h-1zM303 524h1v1h-1zM305 524h1v1h-1zM277 554h1v1h-1zM287 545h1v1h-1zM276 548h1v1h-1zM358 523h1v1h-1zM339 535h1v1h-1zM266 559h1v1h-1zM257 565h1v1h-1zM341 545h1v1h-1zM298 527h1v1h-1zM307 529h1v1h-1zM337 516h1v1h-1zM339 545h1v1h-1zM359 524h1v1h-1zM298 542h1v1h-1zM335 513h1v1h-1zM288 529h1v1h-1zM286 535h1v1h-1zM359 521h1v1h-1zM304 485h1v1h-1zM342 504h1v1h-1zM338 518h1v1h-1zM358 526h1v1h-1zM256 564h1v1h-1zM355 530h1v1h-1zM280 491h1v1h-1zM354 515h1v1h-1zM310 516h1v1h-1zM337 534h1v1h-1zM308 549h1v1h-1zM325 513h1v1h-1zM363 514h1v1h-1zM317 530h1v1h-1zM361 501h1v1h-1zM377 512h1v1h-1zM352 544h1v1h-1zM341 545h1v1h-1zM307 515h1v1h-1zM370 506h1v1h-1zM299 535h1v1h-1zM366 510h1v1h-1zM267 551h1v1h-1zM374 498h1v1h-1zM349 512h1v1h-1zM375 508h1v1h-1zM319 503h1v1h-1zM305 539h1v1h-1zM293 544h1v1h-1zM291 542h1v1h-1zM292 526h1v1h-1zM367 511h1v1h-1zM287 546h1v1h-1zM276 540h1v1h-1zM343 503h1v1h-1zM314 537h1v1h-1zM311 535h1v1h-1zM267 547h1v1h-1zM298 523h1v1h-1zM318 524h1v1h-1zM339 520h1v1h-1zM272 549h1v1h-1zM337 513h1v1h-1zM285 530h1v1h-1zM289 545h1v1h-1zM342 533h1v1h-1zM314 529h1v1h-1zM308 538h1v1h-1zM308 537h1v1h-1zM379 514h1v1h-1zM359 503h1v1h-1zM339 531h1v1h-1zM285 533h1v1h-1zM286 535h1v1h-1zM310 515h1v1h-1zM365 519h1v1h-1zM315 517h1v1h-1zM359 511h1v1h-1zM296 519h1v1h-1zM322 521h1v1h-1zM312 519h1v1h-1zM323 521h1v1h-1zM274 551h1v1h-1zM309 529h1v1h-1zM304 539h1v1h-1zM375 520h1v1h-1zM342 522h1v1h-1zM280 540h1v1h-1zM312 538h1v1h-1zM377 518h1v1h-1zM323 521h1v1h-1zM312 548h1v1h-1zM361 509h1v1h-1zM339 519h1v1h-1zM288 543h1v1h-1zM363 511h1v1h-1zM332 502h1v1h-1zM306 500h1v1h-1zM313 521h1v1h-1zM327 530h1v1h-1zM351 514h1v1h-1zM262 557h1v1h-1zM296 518h1v1h-1zM309 501h1v1h-1zM321 491h1v1h-1zM300 540h1v1h-1zM276 553h1v1h-1zM377 511h1v1h-1zM362 518h1v1h-1zM329 534h1v1h-1zM268 561h1v1h-1zM368 508h1v1h-1zM257 560h1v1h-1zM306 527h1v1h-1zM350 513h1v1h-1zM305 549h1v1h-1zM360 517h1v1h-1zM315 509h1v1h-1zM354 510h1v1h-1zM314 533h1v1h-1zM372 504h1v1h-1zM378 508h1v1h-1zM317 510h1v1h-1zM325 540h1v1h-1zM359 503h1v1h-1zM313 512h1v1h-1zM285 538h1v1h-1zM253 563h1v1h-1zM321 511h1v1h-1zM306 531h1v1h-1zM371 525h1v1h-1zM312 515h1v1h-1zM344 521h1v1h-1zM272 557h1v1h-1zM333 531h1v1h-1zM261 563h1v1h-1zM321 530h1v1h-1zM326 498h1v1h-1zM323 503h1v1h-1zM369 507h1v1h-1zM345 527h1v1h-1zM252 560h1v1h-1zM315 510h1v1h-1zM312 516h1v1h-1zM366 518h1v1h-1zM288 542h1v1h-1zM312 529h1v1h-1zM268 549h1v1h-1zM313 522h1v1h-1zM360 516h1v1h-1zM289 522h1v1h-1zM360 511h1v1h-1zM318 546h1v1h-1zM290 533h1v1h-1zM308 519h1v1h-1zM362 514h1v1h-1zM366 511h1v1h-1zM343 530h1v1h-1zM303 523h1v1h-1zM377 514h1v1h-1zM307 528h1v1h-1zM374 499h1v1h-1zM377 525h1v1h-1zM372 499h1v1h-1zM278 543h1v1h-1zM279 539h1v1h-1zM299 537h1v1h-1zM352 514h1v1h-1zM369 507h1v1h-1zM304 530h1v1h-1zM322 510h1v1h-1zM294 544h1v1h-1zM339 545h1v1h-1zM339 543h1v1h-1zM277 537h1v1h-1zM294 546h1v1h-1zM260 563h1v1h-1zM352 516h1v1h-1zM314 529h1v1h-1zM372 503h1v1h-1zM278 540h1v1h-1zM353 544h1v1h-1zM358 527h1v1h-1zM354 532h1v1h-1zM277 541h1v1h-1zM352 523h1v1h-1zM333 531h1v1h-1zM326 531h1v1h-1zM374 497h1v1h-1zM279 541h1v1h-1zM342 522h1v1h-1zM307 538h1v1h-1zM366 509h1v1h-1zM304 539h1v1h-1zM318 527h1v1h-1zM260 562h1v1h-1zM295 526h1v1h-1zM329 533h1v1h-1zM328 516h1v1h-1zM369 527h1v1h-1zM329 532h1v1h-1zM325 512h1v1h-1zM303 522h1v1h-1zM325 531h1v1h-1zM377 520h1v1h-1zM326 526h1v1h-1zM333 529h1v1h-1zM378 522h1v1h-1zM311 494h1v1h-1zM290 531h1v1h-1zM280 539h1v1h-1zM312 528h1v1h-1zM278 553h1v1h-1zM315 520h1v1h-1zM362 511h1v1h-1zM303 531h1v1h-1zM362 512h1v1h-1zM327 514h1v1h-1zM284 537h1v1h-1zM334 530h1v1h-1zM372 496h1v1h-1zM370 528h1v1h-1zM268 557h1v1h-1zM327 533h1v1h-1zM320 545h1v1h-1z" fill="#b81818" stroke="none" stroke-width="1" fill-opacity="0.48"/>
<path d="M240 568h1v1h-1zM238 571h1v1h-1zM229 576h1v1h-1zM265 553h1v1h-1zM165 539h1v1h-1zM178 535h1v1h-1zM249 566h1v1h-1zM203 525h1v1h-1zM233 572h1v1h-1zM198 581h1v1h-1zM184 584h1v1h-1zM181 582h1v1h-1zM183 530h1v1h-1zM195 531h1v1h-1zM191 582h1v1h-1zM235 572h1v1h-1zM208 522h1v1h-1zM198 530h1v1h-1zM205 581h1v1h-1zM196 581h1v1h-1zM182 534h1v1h-1zM226 575h1v1h-1zM199 526h1v1h-1zM174 587h1v1h-1zM165 583h1v1h-1zM177 536h1v1h-1zM185 532h1v1h-1zM219 577h1v1h-1zM203 528h1v1h-1zM195 531h1v1h-1zM198 588h1v1h-1zM208 526h1v1h-1zM231 574h1v1h-1zM221 576h1v1h-1zM200 580h1v1h-1zM191 532h1v1h-1zM179 585h1v1h-1zM183 590h1v1h-1zM165 587h1v1h-1zM167 587h1v1h-1zM172 530h1v1h-1zM201 582h1v1h-1zM210 579h1v1h-1zM179 585h1v1h-1zM180 535h1v1h-1zM370 444h1v1h-1zM366 457h1v1h-1zM366 490h1v1h-1zM343 490h1v1h-1zM360 471h1v1h-1zM355 463h1v1h-1zM357 457h1v1h-1zM327 496h1v1h-1zM366 465h1v1h-1zM350 472h1v1h-1zM321 483h1v1h-1zM327 502h1v1h-1zM377 475h1v1h-1zM266 499h1v1h-1zM316 477h1v1h-1zM355 460h1v1h-1zM335 470h1v1h-1zM260 500h1v1h-1zM346 475h1v1h-1zM355 476h1v1h-1zM235 512h1v1h-1zM366 441h1v1h-1zM311 481h1v1h-1zM355 453h1v1h-1zM324 468h1v1h-1zM357 459h1v1h-1zM292 486h1v1h-1zM331 470h1v1h-1zM361 476h1v1h-1zM362 485h1v1h-1zM323 480h1v1h-1zM304 477h1v1h-1zM336 500h1v1h-1zM312 481h1v1h-1zM341 486h1v1h-1zM243 509h1v1h-1zM315 480h1v1h-1zM344 495h1v1h-1zM344 465h1v1h-1zM321 494h1v1h-1zM344 473h1v1h-1zM346 492h1v1h-1zM347 508h1v1h-1zM293 527h1v1h-1zM331 479h1v1h-1zM331 484h1v1h-1zM380 466h1v1h-1zM292 535h1v1h-1zM328 498h1v1h-1zM356 473h1v1h-1zM332 472h1v1h-1zM334 482h1v1h-1zM353 456h1v1h-1zM369 480h1v1h-1zM369 447h1v1h-1zM363 448h1v1h-1zM348 478h1v1h-1zM299 481h1v1h-1zM320 477h1v1h-1zM382 445h1v1h-1zM323 484h1v1h-1zM229 575h1v1h-1zM276 491h1v1h-1zM325 477h1v1h-1zM327 476h1v1h-1zM346 471h1v1h-1zM359 473h1v1h-1zM307 480h1v1h-1zM243 505h1v1h-1zM338 482h1v1h-1zM318 472h1v1h-1zM323 508h1v1h-1zM240 508h1v1h-1zM239 510h1v1h-1zM331 465h1v1h-1zM317 463h1v1h-1zM294 478h1v1h-1zM329 465h1v1h-1zM306 521h1v1h-1zM261 502h1v1h-1zM308 482h1v1h-1zM346 483h1v1h-1zM305 482h1v1h-1zM326 487h1v1h-1zM374 468h1v1h-1zM266 498h1v1h-1zM269 491h1v1h-1zM261 498h1v1h-1zM258 501h1v1h-1zM227 513h1v1h-1zM329 503h1v1h-1zM325 475h1v1h-1zM348 478h1v1h-1zM369 475h1v1h-1zM363 472h1v1h-1zM360 462h1v1h-1zM212 523h1v1h-1zM222 519h1v1h-1zM259 499h1v1h-1zM371 458h1v1h-1zM307 478h1v1h-1zM273 494h1v1h-1zM337 482h1v1h-1zM326 485h1v1h-1zM275 491h1v1h-1zM346 472h1v1h-1zM326 489h1v1h-1zM335 456h1v1h-1zM341 481h1v1h-1zM298 473h1v1h-1zM364 487h1v1h-1zM355 477h1v1h-1zM360 458h1v1h-1zM271 492h1v1h-1zM357 475h1v1h-1zM334 479h1v1h-1zM366 462h1v1h-1zM354 453h1v1h-1zM349 498h1v1h-1zM350 464h1v1h-1zM331 468h1v1h-1zM311 461h1v1h-1zM324 487h1v1h-1zM304 479h1v1h-1zM235 509h1v1h-1zM330 483h1v1h-1zM328 472h1v1h-1zM319 471h1v1h-1zM277 493h1v1h-1zM263 495h1v1h-1zM294 487h1v1h-1zM276 489h1v1h-1zM330 490h1v1h-1zM331 472h1v1h-1zM330 508h1v1h-1zM316 495h1v1h-1zM324 483h1v1h-1zM334 472h1v1h-1zM355 485h1v1h-1zM346 468h1v1h-1zM229 510h1v1h-1zM324 515h1v1h-1zM294 481h1v1h-1zM353 474h1v1h-1zM327 478h1v1h-1zM321 480h1v1h-1zM347 465h1v1h-1zM297 483h1v1h-1zM268 493h1v1h-1zM267 497h1v1h-1zM355 447h1v1h-1zM343 486h1v1h-1zM255 502h1v1h-1zM270 495h1v1h-1zM320 477h1v1h-1zM302 478h1v1h-1zM336 489h1v1h-1zM331 499h1v1h-1zM260 492h1v1h-1zM331 501h1v1h-1zM219 520h1v1h-1zM232 513h1v1h-1zM290 484h1v1h-1zM292 523h1v1h-1zM308 479h1v1h-1zM289 490h1v1h-1zM344 513h1v1h-1zM330 482h1v1h-1zM380 442h1v1h-1zM303 519h1v1h-1zM312 481h1v1h-1zM380 461h1v1h-1zM351 497h1v1h-1zM356 470h1v1h-1zM336 490h1v1h-1zM300 484h1v1h-1zM331 487h1v1h-1zM278 474h1v1h-1zM382 450h1v1h-1zM373 465h1v1h-1zM283 492h1v1h-1zM334 480h1v1h-1zM328 470h1v1h-1zM337 475h1v1h-1zM277 486h1v1h-1zM351 486h1v1h-1zM321 488h1v1h-1zM229 513h1v1h-1zM322 489h1v1h-1zM246 509h1v1h-1zM355 463h1v1h-1zM336 486h1v1h-1zM351 471h1v1h-1zM328 486h1v1h-1zM319 497h1v1h-1zM331 458h1v1h-1zM332 458h1v1h-1zM345 478h1v1h-1zM325 471h1v1h-1zM336 494h1v1h-1zM376 442h1v1h-1zM329 484h1v1h-1zM342 474h1v1h-1zM360 454h1v1h-1zM316 477h1v1h-1zM305 469h1v1h-1zM344 486h1v1h-1zM320 471h1v1h-1zM349 450h1v1h-1zM248 505h1v1h-1zM312 523h1v1h-1zM372 461h1v1h-1zM344 478h1v1h-1zM295 484h1v1h-1zM365 450h1v1h-1zM321 474h1v1h-1zM260 496h1v1h-1zM263 500h1v1h-1zM344 486h1v1h-1zM333 487h1v1h-1zM328 505h1v1h-1zM316 475h1v1h-1zM327 479h1v1h-1zM357 487h1v1h-1zM222 578h1v1h-1zM370 458h1v1h-1zM368 480h1v1h-1zM341 457h1v1h-1zM335 482h1v1h-1zM213 522h1v1h-1zM338 489h1v1h-1zM317 495h1v1h-1zM337 521h1v1h-1zM298 533h1v1h-1zM297 551h1v1h-1zM310 529h1v1h-1zM369 497h1v1h-1zM253 503h1v1h-1zM299 562h1v1h-1zM354 499h1v1h-1zM381 500h1v1h-1zM330 541h1v1h-1zM320 555h1v1h-1zM319 512h1v1h-1zM270 564h1v1h-1zM326 536h1v1h-1zM289 557h1v1h-1zM265 563h1v1h-1zM325 573h1v1h-1zM317 549h1v1h-1zM255 577h1v1h-1zM288 564h1v1h-1zM381 521h1v1h-1zM269 576h1v1h-1zM378 493h1v1h-1zM362 529h1v1h-1zM318 555h1v1h-1zM379 529h1v1h-1zM314 548h1v1h-1zM278 551h1v1h-1zM325 546h1v1h-1zM368 539h1v1h-1zM316 544h1v1h-1zM309 511h1v1h-1zM347 538h1v1h-1zM327 507h1v1h-1zM369 554h1v1h-1zM326 544h1v1h-1zM356 540h1v1h-1zM332 510h1v1h-1zM300 557h1v1h-1zM383 498h1v1h-1zM345 545h1v1h-1zM331 520h1v1h-1zM350 505h1v1h-1zM338 514h1v1h-1zM347 506h1v1h-1zM355 546h1v1h-1zM345 492h1v1h-1zM328 510h1v1h-1zM329 528h1v1h-1zM361 533h1v1h-1zM286 560h1v1h-1zM288 552h1v1h-1zM289 537h1v1h-1zM321 507h1v1h-1zM296 531h1v1h-1zM300 532h1v1h-1zM359 518h1v1h-1zM277 569h1v1h-1zM281 559h1v1h-1zM328 538h1v1h-1zM261 568h1v1h-1zM311 585h1v1h-1zM306 541h1v1h-1zM293 531h1v1h-1zM279 551h1v1h-1zM321 561h1v1h-1zM279 568h1v1h-1zM322 497h1v1h-1zM355 471h1v1h-1zM272 565h1v1h-1zM274 574h1v1h-1zM318 533h1v1h-1zM332 506h1v1h-1zM280 555h1v1h-1zM298 551h1v1h-1zM370 522h1v1h-1zM283 551h1v1h-1zM356 528h1v1h-1zM337 492h1v1h-1zM304 514h1v1h-1zM298 576h1v1h-1zM357 504h1v1h-1zM280 570h1v1h-1zM313 582h1v1h-1zM345 524h1v1h-1zM356 473h1v1h-1zM378 480h1v1h-1zM347 515h1v1h-1zM355 535h1v1h-1zM373 491h1v1h-1zM330 512h1v1h-1zM342 534h1v1h-1zM304 540h1v1h-1zM332 537h1v1h-1zM325 558h1v1h-1zM350 501h1v1h-1zM361 537h1v1h-1zM319 540h1v1h-1zM336 524h1v1h-1zM372 495h1v1h-1zM276 568h1v1h-1zM347 540h1v1h-1zM292 567h1v1h-1zM329 521h1v1h-1zM341 524h1v1h-1zM281 563h1v1h-1zM271 493h1v1h-1zM355 561h1v1h-1zM277 559h1v1h-1zM283 551h1v1h-1zM341 561h1v1h-1zM354 484h1v1h-1zM274 567h1v1h-1zM364 526h1v1h-1zM296 558h1v1h-1zM310 557h1v1h-1zM288 552h1v1h-1zM268 554h1v1h-1zM329 555h1v1h-1zM358 490h1v1h-1zM307 557h1v1h-1zM254 502h1v1h-1zM332 526h1v1h-1zM381 532h1v1h-1zM347 500h1v1h-1zM346 532h1v1h-1zM265 553h1v1h-1zM379 496h1v1h-1zM368 515h1v1h-1zM379 488h1v1h-1zM357 504h1v1h-1zM260 575h1v1h-1zM366 530h1v1h-1zM356 553h1v1h-1zM294 537h1v1h-1zM324 575h1v1h-1zM252 582h1v1h-1zM349 499h1v1h-1zM355 585h1v1h-1zM291 573h1v1h-1zM275 563h1v1h-1zM369 531h1v1h-1zM326 523h1v1h-1zM344 536h1v1h-1zM344 499h1v1h-1zM383 562h1v1h-1zM312 559h1v1h-1zM288 548h1v1h-1zM341 556h1v1h-1zM339 566h1v1h-1zM293 549h1v1h-1zM338 536h1v1h-1zM361 499h1v1h-1zM373 472h1v1h-1zM276 548h1v1h-1zM317 547h1v1h-1zM380 539h1v1h-1zM288 588h1v1h-1zM368 540h1v1h-1zM329 526h1v1h-1zM287 558h1v1h-1zM338 539h1v1h-1zM340 552h1v1h-1zM341 507h1v1h-1zM294 561h1v1h-1zM349 528h1v1h-1zM325 522h1v1h-1zM368 534h1v1h-1zM366 540h1v1h-1zM359 509h1v1h-1zM324 544h1v1h-1zM378 554h1v1h-1zM273 588h1v1h-1zM381 523h1v1h-1zM332 518h1v1h-1zM289 565h1v1h-1zM253 569h1v1h-1zM377 488h1v1h-1zM279 562h1v1h-1zM291 537h1v1h-1zM320 534h1v1h-1zM349 494h1v1h-1zM280 562h1v1h-1zM378 554h1v1h-1zM376 539h1v1h-1zM368 572h1v1h-1zM275 545h1v1h-1zM344 498h1v1h-1zM286 582h1v1h-1zM345 537h1v1h-1zM273 569h1v1h-1zM321 556h1v1h-1zM378 476h1v1h-1zM375 542h1v1h-1zM336 566h1v1h-1zM300 529h1v1h-1zM259 575h1v1h-1zM311 533h1v1h-1zM309 540h1v1h-1zM368 501h1v1h-1zM343 517h1v1h-1zM374 541h1v1h-1zM340 502h1v1h-1zM277 557h1v1h-1zM272 560h1v1h-1zM308 554h1v1h-1zM356 543h1v1h-1zM281 578h1v1h-1zM345 544h1v1h-1zM306 545h1v1h-1zM376 528h1v1h-1zM366 514h1v1h-1zM294 560h1v1h-1zM357 488h1v1h-1zM313 582h1v1h-1zM321 534h1v1h-1zM365 497h1v1h-1zM357 541h1v1h-1zM340 516h1v1h-1zM382 512h1v1h-1zM291 549h1v1h-1zM284 560h1v1h-1zM375 515h1v1h-1zM309 546h1v1h-1zM326 554h1v1h-1zM292 534h1v1h-1zM356 518h1v1h-1zM266 590h1v1h-1zM334 495h1v1h-1zM382 526h1v1h-1zM365 467h1v1h-1zM289 571h1v1h-1zM382 534h1v1h-1zM315 581h1v1h-1zM328 521h1v1h-1zM298 547h1v1h-1zM341 525h1v1h-1zM345 506h1v1h-1zM272 575h1v1h-1zM320 538h1v1h-1zM340 521h1v1h-1zM334 518h1v1h-1zM322 547h1v1h-1zM327 551h1v1h-1zM345 528h1v1h-1zM309 522h1v1h-1zM355 506h1v1h-1zM376 534h1v1h-1zM382 531h1v1h-1zM299 554h1v1h-1zM349 553h1v1h-1zM321 519h1v1h-1zM279 559h1v1h-1zM302 546h1v1h-1zM382 497h1v1h-1zM294 552h1v1h-1zM290 556h1v1h-1zM371 544h1v1h-1zM313 539h1v1h-1zM355 524h1v1h-1zM292 586h1v1h-1zM288 557h1v1h-1zM352 541h1v1h-1zM311 561h1v1h-1zM314 547h1v1h-1zM345 512h1v1h-1zM367 503h1v1h-1zM294 549h1v1h-1zM289 575h1v1h-1zM369 532h1v1h-1zM298 554h1v1h-1zM267 578h1v1h-1zM254 570h1v1h-1zM337 507h1v1h-1zM319 553h1v1h-1zM363 546h1v1h-1zM329 528h1v1h-1zM320 516h1v1h-1zM336 511h1v1h-1zM260 569h1v1h-1zM369 503h1v1h-1zM371 531h1v1h-1zM367 528h1v1h-1zM364 532h1v1h-1zM349 506h1v1h-1zM366 515h1v1h-1zM296 589h1v1h-1zM298 588h1v1h-1zM296 547h1v1h-1zM257 573h1v1h-1zM294 482h1v1h-1zM382 499h1v1h-1zM272 578h1v1h-1zM265 556h1v1h-1zM377 495h1v1h-1zM379 493h1v1h-1zM379 499h1v1h-1zM269 578h1v1h-1zM293 540h1v1h-1zM382 502h1v1h-1zM341 498h1v1h-1zM383 528h1v1h-1zM349 521h1v1h-1zM298 560h1v1h-1zM364 547h1v1h-1zM354 540h1v1h-1zM331 544h1v1h-1zM343 493h1v1h-1zM299 548h1v1h-1zM356 540h1v1h-1zM366 544h1v1h-1zM334 551h1v1h-1zM307 572h1v1h-1zM301 544h1v1h-1zM359 500h1v1h-1zM337 495h1v1h-1zM282 563h1v1h-1zM360 546h1v1h-1zM278 560h1v1h-1zM354 546h1v1h-1zM350 566h1v1h-1zM274 569h1v1h-1zM377 482h1v1h-1zM379 545h1v1h-1zM357 502h1v1h-1zM294 542h1v1h-1zM282 576h1v1h-1zM305 576h1v1h-1zM257 582h1v1h-1zM380 539h1v1h-1zM363 551h1v1h-1zM320 564h1v1h-1zM258 571h1v1h-1zM307 523h1v1h-1zM305 548h1v1h-1zM255 586h1v1h-1zM336 520h1v1h-1zM298 576h1v1h-1zM312 550h1v1h-1zM334 515h1v1h-1zM369 514h1v1h-1zM368 537h1v1h-1zM301 532h1v1h-1zM352 536h1v1h-1zM371 495h1v1h-1zM358 531h1v1h-1zM346 535h1v1h-1zM373 523h1v1h-1zM381 487h1v1h-1zM322 518h1v1h-1zM361 538h1v1h-1zM330 489h1v1h-1zM335 496h1v1h-1zM324 546h1v1h-1zM348 538h1v1h-1zM311 531h1v1h-1zM261 569h1v1h-1zM335 504h1v1h-1zM330 517h1v1h-1zM329 550h1v1h-1zM377 547h1v1h-1zM313 560h1v1h-1zM312 561h1v1h-1zM369 519h1v1h-1zM311 542h1v1h-1zM342 497h1v1h-1zM375 494h1v1h-1zM381 463h1v1h-1zM294 569h1v1h-1zM288 570h1v1h-1zM280 550h1v1h-1zM268 574h1v1h-1zM330 508h1v1h-1zM286 554h1v1h-1zM264 582h1v1h-1zM290 573h1v1h-1zM300 551h1v1h-1zM362 502h1v1h-1zM281 584h1v1h-1zM253 576h1v1h-1zM364 528h1v1h-1zM291 553h1v1h-1zM299 531h1v1h-1zM335 543h1v1h-1zM307 568h1v1h-1zM366 545h1v1h-1zM352 503h1v1h-1zM300 551h1v1h-1zM366 524h1v1h-1zM358 535h1v1h-1zM382 506h1v1h-1zM351 542h1v1h-1zM347 536h1v1h-1zM295 548h1v1h-1zM350 494h1v1h-1zM300 554h1v1h-1zM280 547h1v1h-1zM295 555h1v1h-1zM347 521h1v1h-1zM346 563h1v1h-1zM376 534h1v1h-1zM339 500h1v1h-1zM253 591h1v1h-1zM319 540h1v1h-1zM300 585h1v1h-1zM269 567h1v1h-1zM309 465h1v1h-1zM268 575h1v1h-1zM375 504h1v1h-1zM349 485h1v1h-1zM333 564h1v1h-1zM357 486h1v1h-1zM383 507h1v1h-1zM306 557h1v1h-1zM347 503h1v1h-1zM346 555h1v1h-1zM300 548h1v1h-1zM318 542h1v1h-1zM366 505h1v1h-1zM358 494h1v1h-1zM312 552h1v1h-1zM343 529h1v1h-1zM367 523h1v1h-1zM273 579h1v1h-1zM343 535h1v1h-1zM331 554h1v1h-1zM350 542h1v1h-1zM343 541h1v1h-1zM288 561h1v1h-1zM362 543h1v1h-1zM264 567h1v1h-1zM361 508h1v1h-1zM336 549h1v1h-1zM269 565h1v1h-1zM297 577h1v1h-1zM359 493h1v1h-1zM331 504h1v1h-1zM342 552h1v1h-1zM347 556h1v1h-1zM291 529h1v1h-1zM343 532h1v1h-1zM350 482h1v1h-1zM338 502h1v1h-1zM314 526h1v1h-1zM298 544h1v1h-1zM301 546h1v1h-1zM357 530h1v1h-1zM335 518h1v1h-1zM256 583h1v1h-1zM266 564h1v1h-1zM307 559h1v1h-1zM293 554h1v1h-1zM338 515h1v1h-1zM326 559h1v1h-1zM331 516h1v1h-1zM350 525h1v1h-1zM351 521h1v1h-1zM358 515h1v1h-1zM282 556h1v1h-1zM296 582h1v1h-1zM347 517h1v1h-1zM338 525h1v1h-1zM354 554h1v1h-1zM322 524h1v1h-1zM291 566h1v1h-1zM357 506h1v1h-1zM311 550h1v1h-1zM307 531h1v1h-1zM378 547h1v1h-1zM364 485h1v1h-1zM336 507h1v1h-1zM322 555h1v1h-1zM335 547h1v1h-1zM301 535h1v1h-1zM344 526h1v1h-1zM311 546h1v1h-1zM307 553h1v1h-1zM286 547h1v1h-1zM379 551h1v1h-1zM330 523h1v1h-1zM338 493h1v1h-1zM312 571h1v1h-1zM354 549h1v1h-1zM336 484h1v1h-1zM292 581h1v1h-1zM319 536h1v1h-1zM328 502h1v1h-1zM340 558h1v1h-1zM257 569h1v1h-1zM313 546h1v1h-1zM338 550h1v1h-1zM329 537h1v1h-1zM299 544h1v1h-1zM332 552h1v1h-1zM304 545h1v1h-1zM319 516h1v1h-1zM339 552h1v1h-1zM337 540h1v1h-1zM320 554h1v1h-1zM313 567h1v1h-1zM350 520h1v1h-1zM352 507h1v1h-1zM335 559h1v1h-1zM332 508h1v1h-1zM310 547h1v1h-1zM373 535h1v1h-1zM365 478h1v1h-1zM331 541h1v1h-1zM321 542h1v1h-1zM375 525h1v1h-1zM295 565h1v1h-1zM352 546h1v1h-1zM382 490h1v1h-1zM368 488h1v1h-1zM294 559h1v1h-1zM295 532h1v1h-1zM382 509h1v1h-1zM346 584h1v1h-1zM347 527h1v1h-1zM290 562h1v1h-1zM265 574h1v1h-1zM323 548h1v1h-1zM278 571h1v1h-1zM369 472h1v1h-1zM341 507h1v1h-1zM303 562h1v1h-1zM332 522h1v1h-1zM312 571h1v1h-1zM356 538h1v1h-1zM332 522h1v1h-1zM281 580h1v1h-1zM275 567h1v1h-1zM361 535h1v1h-1zM301 560h1v1h-1zM331 544h1v1h-1zM375 502h1v1h-1zM355 518h1v1h-1zM323 496h1v1h-1zM365 526h1v1h-1zM270 587h1v1h-1zM312 558h1v1h-1zM267 569h1v1h-1zM302 566h1v1h-1zM336 503h1v1h-1zM349 536h1v1h-1zM351 554h1v1h-1zM293 551h1v1h-1zM349 503h1v1h-1zM307 568h1v1h-1zM301 580h1v1h-1zM287 573h1v1h-1zM320 566h1v1h-1zM345 541h1v1h-1zM353 535h1v1h-1zM362 502h1v1h-1zM307 567h1v1h-1zM379 554h1v1h-1zM260 581h1v1h-1zM350 504h1v1h-1zM349 498h1v1h-1zM331 525h1v1h-1zM304 521h1v1h-1zM365 525h1v1h-1zM346 531h1v1h-1zM304 548h1v1h-1zM327 519h1v1h-1zM355 529h1v1h-1zM318 548h1v1h-1zM323 537h1v1h-1zM323 512h1v1h-1zM295 565h1v1h-1zM342 518h1v1h-1zM369 518h1v1h-1zM336 544h1v1h-1zM345 517h1v1h-1zM342 492h1v1h-1zM365 499h1v1h-1zM253 573h1v1h-1zM334 546h1v1h-1zM261 498h1v1h-1zM317 569h1v1h-1zM275 557h1v1h-1zM309 553h1v1h-1zM323 506h1v1h-1zM347 507h1v1h-1zM286 578h1v1h-1zM264 567h1v1h-1zM351 530h1v1h-1zM366 497h1v1h-1zM380 471h1v1h-1zM315 564h1v1h-1zM363 549h1v1h-1zM346 529h1v1h-1zM363 473h1v1h-1zM335 507h1v1h-1zM380 504h1v1h-1zM327 510h1v1h-1zM342 478h1v1h-1zM381 511h1v1h-1zM381 529h1v1h-1zM335 526h1v1h-1zM354 527h1v1h-1zM321 567h1v1h-1zM346 543h1v1h-1zM329 541h1v1h-1zM324 533h1v1h-1zM343 500h1v1h-1zM337 526h1v1h-1zM305 544h1v1h-1zM351 496h1v1h-1zM332 509h1v1h-1zM361 458h1v1h-1zM355 508h1v1h-1zM371 511h1v1h-1zM257 504h1v1h-1zM340 569h1v1h-1zM264 571h1v1h-1zM325 509h1v1h-1zM356 520h1v1h-1zM365 490h1v1h-1zM269 567h1v1h-1zM372 521h1v1h-1zM347 485h1v1h-1zM254 573h1v1h-1zM377 526h1v1h-1zM380 506h1v1h-1zM261 581h1v1h-1zM345 537h1v1h-1zM372 525h1v1h-1zM383 467h1v1h-1zM345 512h1v1h-1zM357 509h1v1h-1zM380 489h1v1h-1zM366 470h1v1h-1zM382 535h1v1h-1zM365 500h1v1h-1zM311 559h1v1h-1z" fill="#c84848" stroke="none" stroke-width="1" fill-opacity="0.27"/>
<line x1="163.8" y1="390.1" x2="384.9" y2="390.1" stroke="#444" stroke-width="1.5"/>
<line x1="384.9" y1="390.1" x2="384.9" y2="597.2" stroke="#444" stroke-width="1.5"/>
<line x1="163.8" y1="389.35" x2="163.8" y2="598.2" stroke="#000" stroke-width="2.2"/>
<line x1="162.8" y1="597.2" x2="385.65" y2="597.2" stroke="#000" stroke-width="2.2"/>
<path d="M158.3,597.2H163.8M163.8,602.7V597.2M161.2,581.61H163.8M180.44,599.8V597.2M161.2,572.5H163.8M190.17,599.8V597.2M161.2,566.03H163.8M197.08,599.8V597.2M161.2,561.01H163.8M202.44,599.8V597.2M161.2,556.91H163.8M206.81,599.8V597.2M161.2,553.45H163.8M210.51,599.8V597.2M161.2,550.44H163.8M213.72,599.8V597.2M161.2,547.79H163.8M216.55,599.8V597.2M158.3,545.43H163.8M219.07,602.7V597.2M161.2,529.84H163.8M235.71,599.8V597.2M161.2,520.72H163.8M245.45,599.8V597.2M161.2,514.25H163.8M252.35,599.8V597.2M161.2,509.24H163.8M257.71,599.8V597.2M161.2,505.14H163.8M262.09,599.8V597.2M161.2,501.67H163.8M265.79,599.8V597.2M161.2,498.67H163.8M268.99,599.8V597.2M161.2,496.02H163.8M271.82,599.8V597.2M158.3,493.65H163.8M274.35,602.7V597.2M161.2,478.06H163.8M290.99,599.8V597.2M161.2,468.95H163.8M300.72,599.8V597.2M161.2,462.48H163.8M307.63,599.8V597.2M161.2,457.46H163.8M312.99,599.8V597.2M161.2,453.36H163.8M317.36,599.8V597.2M161.2,449.9H163.8M321.06,599.8V597.2M161.2,446.89H163.8M324.27,599.8V597.2M161.2,444.24H163.8M327.1,599.8V597.2M158.3,441.88H163.8M329.62,602.7V597.2M161.2,426.29H163.8M346.26,599.8V597.2M161.2,417.17H163.8M356,599.8V597.2M161.2,410.7H163.8M362.9,599.8V597.2M161.2,405.69H163.8M368.26,599.8V597.2M161.2,401.59H163.8M372.64,599.8V597.2M161.2,398.12H163.8M376.34,599.8V597.2M161.2,395.12H163.8M379.54,599.8V597.2M161.2,392.47H163.8M382.37,599.8V597.2M158.3,390.1H163.8M384.9,602.7V597.2" fill="none" stroke="#000" stroke-width="1.3"/>
<text x="127.27" y="603.1" font-size="16.4">10</text>
<text x="145.79" y="595" font-size="12.2">0</text>
<text x="151.56" y="624.7" font-size="16.4">10</text>
<text x="170.08" y="616.6" font-size="12.2">0</text>
<text x="127.84" y="551.33" font-size="16.4">10</text>
<text x="145.91" y="543.23" font-size="12.2">1</text>
<text x="207.12" y="624.7" font-size="16.4">10</text>
<text x="225.19" y="616.6" font-size="12.2">1</text>
<text x="127.54" y="499.55" font-size="16.4">10</text>
<text x="145.93" y="491.45" font-size="12.2">2</text>
<text x="262.25" y="624.7" font-size="16.4">10</text>
<text x="280.63" y="616.6" font-size="12.2">2</text>
<text x="127.32" y="447.77" font-size="16.4">10</text>
<text x="145.85" y="439.67" font-size="12.2">3</text>
<text x="317.41" y="624.7" font-size="16.4">10</text>
<text x="335.95" y="616.6" font-size="12.2">3</text>
<text x="126.95" y="396" font-size="16.4">10</text>
<text x="145.67" y="387.9" font-size="12.2">4</text>
<text x="372.5" y="624.7" font-size="16.4">10</text>
<text x="391.22" y="616.6" font-size="12.2">4</text>
<text x="245.63" y="382.7" font-size="16.4" textLength="56.48" lengthAdjust="spacingAndGlyphs">Batch 1</text>
<text x="274.35" y="648.9" text-anchor="middle" font-size="16.8">FSC</text>
<text transform="translate(115.3,493.65) rotate(-90)" text-anchor="middle" font-size="16.8">GFP</text>
<path d="M600.4 496.1 601.4 496.5 601.9 498.4 601.6 499.4 600.4 499.8 599.4 499.4 599 498.4 599.4 496.8 600.4 496.1ZM590.4 496.9 594.4 498.4 598 501.4 599.6 506.4 598.1 509.4 597.8 513.4 594.4 515.1 592.4 517.6 588.6 519.4 589.5 523.4 587.4 528.4 582.4 529.1 580.4 530.7 576.2 535.4 574.2 543.4 570.7 546.4 567.4 552.4 566.4 553.5 564.4 553.4 563.4 554.1 561.4 557.6 556.4 561.2 547.4 565 524.4 571.2 505.4 573.9 490.4 574.7 486.4 575.7 482.4 574.1 477.4 573.6 477.4 544.7 479 543.4 483.4 542.1 487.4 539.9 497.4 538.4 506.6 535.4 511.4 534.8 515.4 532.7 520.4 532.2 527.4 526.1 533.4 522.9 536.4 522.5 539.4 519.9 544.4 518.6 547.4 515.9 551.4 513.7 555.4 513 561.4 509.4 566.4 509.1 568.8 506.4 580.4 503.4 583.4 501.9 586.4 502.7 589.4 499.4 590.4 496.9Z" fill="#c83030" stroke="none" stroke-width="1" fill-rule="evenodd" fill-opacity="0.35" filter="url(#rough)"/>
<path d="M600.4 496.1 601.4 496.5 601.9 498.4 601.6 499.4 600.4 499.8 599.4 499.4 599 498.4 599.4 496.8 600.4 496.1ZM590.4 496.9 594.4 498.4 598 501.4 599.6 506.4 598.1 509.4 597.8 513.4 594.4 515.1 592.4 517.6 588.6 519.4 589.5 523.4 587.4 528.4 582.4 529.1 580.4 530.7 576.2 535.4 574.2 543.4 570.7 546.4 567.4 552.4 566.4 553.5 564.4 553.4 563.4 554.1 561.4 557.6 556.4 561.2 547.4 565 524.4 571.2 505.4 573.9 490.4 574.7 486.4 575.7 482.4 574.1 477.4 573.6 477.4 544.7 479 543.4 483.4 542.1 487.4 539.9 497.4 538.4 506.6 535.4 511.4 534.8 515.4 532.7 520.4 532.2 527.4 526.1 533.4 522.9 536.4 522.5 539.4 519.9 544.4 518.6 547.4 515.9 551.4 513.7 555.4 513 561.4 509.4 566.4 509.1 568.8 506.4 580.4 503.4 583.4 501.9 586.4 502.7 589.4 499.4 590.4 496.9Z" fill="#b00000" stroke="none" stroke-width="1" fill-rule="evenodd" filter="url(#speck)"/>
<path d="M564.4 513.3 567.4 514.1 570.4 513.4 577.1 514.4 575.2 518.4 576.4 523.4 575.4 525.7 571.4 529.4 568.7 537.4 563.6 544.4 562.6 549.4 559.4 555.2 558 556.4 547.4 562.3 534.4 566.8 515.4 570.1 505.4 571.2 488.4 571.7 480.4 570.2 477.4 567.8 477.4 547.3 479.4 545.9 493.4 541 501.4 539.9 521.4 534.3 530.4 527.5 534.4 526.6 541.4 523.1 545.4 522.7 548.4 520.1 551.4 519.2 554.4 517.1 560.4 516.5 564.4 513.3Z" fill="#d00000" stroke="none" stroke-width="1" fill-rule="evenodd" filter="url(#speck2)"/>
<path d="M554.4 525.4 556.4 525.3 559.9 528.4 560 529.4 558.5 532.4 558.8 538.4 556.8 542.4 556 547.4 553.7 552.4 546.4 559.2 533.4 564.5 515.4 567.6 502.4 568.7 494.4 568.4 482.4 566.5 479.8 565.4 478 563.4 477.4 561.9 477.4 551.7 480.7 548.4 491.4 544.3 521.4 537.9 533.7 530.4 554.4 525.4Z" fill="#f00000" stroke="none" stroke-width="1" fill-rule="evenodd" filter="url(#rough)"/>
<path d="M540.4 534.3 544.4 534.3 546.6 535.4 547.8 537.4 548.5 544.4 546.7 552.4 543.8 556.4 541.4 558.1 532.4 561.8 525.4 563.5 514.4 565.1 501.4 565.9 488.4 564.4 481.4 560.8 480.3 559.4 479.8 556.4 481.2 553.4 484.4 550.4 488.4 548.4 507.4 543.2 522.4 541 528.4 537.1 540.4 534.3Z" fill="#ff3300" stroke="none" stroke-width="1" fill-rule="evenodd" filter="url(#rough)"/>
<path d="M531.4 539.3 537.4 539.5 540.7 541.4 541.8 543.4 543.1 550.4 542.3 553.4 539.9 556.4 530.4 560.3 515.4 563.1 501.4 563.8 488.4 561.5 484 557.4 484.1 555.4 485.5 553.4 489.8 550.4 500.4 546.7 522.4 543.3 531.4 539.3Z" fill="#ff7a00" stroke="none" stroke-width="1" fill-rule="evenodd" filter="url(#rough)"/>
<path d="M529.4 542.3 533.4 541.9 536.4 542.9 538.4 545.3 540.2 550.4 539.8 553.4 538.4 555.1 530.4 558.9 519.6 561.4 504.4 562.7 492.4 560.5 488.4 558.8 487.2 557.4 487.2 555.4 488.7 553.4 498.9 548.4 508.4 546.2 521.4 545 529.4 542.3Z" fill="#ffbb00" stroke="none" stroke-width="1" fill-rule="evenodd" filter="url(#rough)"/>
<path d="M527.4 544.3 533.4 544.4 536.4 547 537.7 550.4 537.6 552.4 536.4 554.1 529.4 558 517.4 560.7 504.4 561.5 493.4 558.9 490.9 556.4 492.3 553.4 499.4 549.6 508.4 547.4 521.4 546.3 527.4 544.3Z" fill="#f2ee00" stroke="none" stroke-width="1" fill-rule="evenodd" filter="url(#rough)"/>
<path d="M525.4 546.4 528.4 545.9 532.4 546.4 534.9 549.4 534.6 552.4 529.4 556.7 517.4 559.6 505.4 560.5 498.4 559.2 494.5 557.4 493.8 556.4 494.8 553.4 499.4 550.9 508.7 548.4 515.4 547.4 520.4 547.6 525.4 546.4Z" fill="#c2e232" stroke="none" stroke-width="1" fill-rule="evenodd" filter="url(#rough)"/>
<path d="M524.4 548.3 527.4 548.4 530.4 549.9 531 551.4 530.4 553.4 528.4 555.1 523.4 555.9 518.4 558.1 505.4 559.2 499 557.4 497.1 555.4 498.4 553.4 505.4 550.6 515.4 548.7 519.4 549.1 524.4 548.3Z" fill="#64c450" stroke="none" stroke-width="1" fill-rule="evenodd" filter="url(#rough)"/>
<path d="M513.4 550.4 524.9 550.4 526.8 551.4 526.9 552.4 517.4 557 506.4 557.9 502.2 556.4 501.1 555.4 501.2 554.4 505.4 551.9 513.4 550.4Z" fill="#2a9e62" stroke="none" stroke-width="1" fill-rule="evenodd" filter="url(#rough)"/>
<path d="M513.4 551.4 516 551.4 519.4 552.9 519.1 554.4 517.4 555.5 508.4 556.7 506.4 556.2 504.6 554.4 507.3 552.4 513.4 551.4Z" fill="#1f8078" stroke="none" stroke-width="1" fill-rule="evenodd" filter="url(#rough)"/>
<path d="M498 537h1v1h-1zM565 555h1v1h-1zM568 556h1v1h-1zM539 567h1v1h-1zM478 543h1v1h-1zM552 562h1v1h-1zM511 574h1v1h-1zM494 538h1v1h-1zM542 567h1v1h-1zM560 558h1v1h-1zM525 571h1v1h-1zM488 539h1v1h-1zM542 566h1v1h-1zM561 558h1v1h-1zM552 564h1v1h-1zM536 568h1v1h-1zM528 570h1v1h-1zM565 558h1v1h-1zM485 540h1v1h-1zM563 555h1v1h-1zM489 539h1v1h-1zM487 538h1v1h-1zM541 567h1v1h-1zM549 565h1v1h-1zM520 572h1v1h-1zM557 562h1v1h-1zM494 537h1v1h-1zM523 571h1v1h-1zM521 571h1v1h-1zM556 560h1v1h-1zM563 558h1v1h-1zM564 555h1v1h-1zM562 560h1v1h-1zM575 545h1v1h-1zM499 536h1v1h-1zM549 564h1v1h-1zM534 569h1v1h-1zM559 559h1v1h-1zM554 562h1v1h-1zM566 557h1v1h-1zM560 560h1v1h-1zM569 552h1v1h-1zM559 560h1v1h-1zM556 561h1v1h-1zM501 535h1v1h-1zM556 563h1v1h-1zM543 566h1v1h-1zM567 554h1v1h-1zM479 542h1v1h-1zM568 552h1v1h-1zM557 562h1v1h-1zM578 539h1v1h-1zM571 546h1v1h-1zM549 564h1v1h-1zM525 572h1v1h-1zM485 539h1v1h-1zM486 539h1v1h-1zM490 575h1v1h-1zM562 555h1v1h-1zM512 572h1v1h-1zM502 536h1v1h-1zM483 540h1v1h-1zM566 557h1v1h-1zM546 566h1v1h-1zM563 557h1v1h-1zM543 566h1v1h-1zM478 543h1v1h-1zM527 570h1v1h-1zM497 536h1v1h-1zM478 541h1v1h-1zM550 564h1v1h-1zM491 575h1v1h-1zM551 563h1v1h-1zM569 552h1v1h-1zM512 573h1v1h-1zM567 552h1v1h-1zM556 561h1v1h-1zM508 574h1v1h-1zM563 559h1v1h-1zM559 561h1v1h-1zM567 557h1v1h-1zM562 555h1v1h-1zM500 534h1v1h-1zM558 562h1v1h-1zM520 572h1v1h-1zM539 568h1v1h-1zM568 556h1v1h-1zM567 553h1v1h-1zM566 557h1v1h-1zM560 558h1v1h-1zM569 555h1v1h-1zM568 553h1v1h-1zM535 570h1v1h-1zM556 563h1v1h-1zM554 562h1v1h-1zM562 557h1v1h-1zM509 573h1v1h-1zM516 532h1v1h-1zM484 541h1v1h-1zM499 536h1v1h-1zM488 539h1v1h-1zM522 572h1v1h-1zM522 571h1v1h-1zM561 561h1v1h-1zM562 556h1v1h-1zM483 539h1v1h-1zM478 543h1v1h-1zM569 551h1v1h-1zM566 554h1v1h-1zM553 563h1v1h-1zM516 572h1v1h-1zM555 560h1v1h-1zM564 555h1v1h-1zM573 546h1v1h-1zM557 562h1v1h-1zM516 530h1v1h-1zM565 555h1v1h-1zM574 547h1v1h-1zM546 566h1v1h-1zM563 559h1v1h-1zM518 572h1v1h-1zM518 572h1v1h-1zM569 552h1v1h-1zM486 539h1v1h-1zM546 565h1v1h-1zM481 542h1v1h-1zM567 556h1v1h-1zM494 575h1v1h-1zM557 561h1v1h-1zM539 567h1v1h-1zM532 569h1v1h-1zM578 541h1v1h-1zM568 551h1v1h-1zM544 566h1v1h-1zM528 571h1v1h-1zM559 560h1v1h-1zM515 573h1v1h-1zM478 543h1v1h-1zM560 561h1v1h-1zM567 552h1v1h-1zM552 563h1v1h-1zM493 575h1v1h-1zM494 538h1v1h-1zM577 538h1v1h-1zM513 533h1v1h-1zM499 574h1v1h-1zM509 573h1v1h-1zM506 575h1v1h-1zM493 575h1v1h-1zM560 560h1v1h-1zM575 540h1v1h-1zM583 535h1v1h-1zM565 554h1v1h-1zM595 523h1v1h-1zM485 576h1v1h-1zM502 536h1v1h-1zM508 574h1v1h-1zM498 574h1v1h-1zM571 549h1v1h-1zM487 576h1v1h-1zM511 573h1v1h-1zM478 575h1v1h-1zM479 576h1v1h-1zM591 521h1v1h-1zM570 550h1v1h-1zM493 575h1v1h-1zM491 539h1v1h-1zM583 533h1v1h-1zM506 574h1v1h-1zM496 577h1v1h-1zM494 575h1v1h-1zM478 575h1v1h-1zM498 574h1v1h-1zM501 575h1v1h-1zM589 525h1v1h-1zM514 532h1v1h-1zM487 576h1v1h-1zM481 577h1v1h-1zM514 532h1v1h-1zM584 539h1v1h-1zM493 577h1v1h-1zM479 577h1v1h-1zM510 574h1v1h-1zM573 547h1v1h-1zM522 527h1v1h-1zM523 526h1v1h-1zM503 574h1v1h-1zM513 574h1v1h-1zM581 533h1v1h-1zM495 576h1v1h-1zM505 534h1v1h-1zM480 577h1v1h-1zM573 543h1v1h-1zM577 540h1v1h-1zM587 530h1v1h-1zM588 527h1v1h-1zM522 527h1v1h-1zM501 573h1v1h-1zM573 544h1v1h-1zM515 531h1v1h-1zM497 576h1v1h-1zM540 519h1v1h-1zM512 533h1v1h-1zM480 574h1v1h-1zM580 534h1v1h-1zM585 530h1v1h-1zM515 532h1v1h-1zM508 532h1v1h-1zM478 574h1v1h-1zM494 537h1v1h-1zM498 575h1v1h-1zM530 521h1v1h-1zM534 569h1v1h-1zM578 539h1v1h-1zM509 533h1v1h-1zM579 538h1v1h-1zM535 569h1v1h-1zM517 531h1v1h-1zM493 576h1v1h-1zM583 530h1v1h-1zM499 537h1v1h-1zM577 539h1v1h-1zM570 548h1v1h-1zM526 525h1v1h-1zM484 575h1v1h-1zM579 534h1v1h-1zM577 540h1v1h-1zM506 575h1v1h-1zM481 541h1v1h-1zM488 539h1v1h-1zM534 521h1v1h-1zM586 532h1v1h-1zM514 532h1v1h-1zM588 532h1v1h-1zM588 526h1v1h-1zM520 530h1v1h-1zM572 549h1v1h-1zM496 538h1v1h-1zM498 537h1v1h-1zM583 534h1v1h-1zM571 546h1v1h-1zM580 541h1v1h-1zM592 518h1v1h-1zM484 541h1v1h-1zM503 574h1v1h-1zM577 539h1v1h-1zM516 531h1v1h-1zM498 574h1v1h-1zM506 534h1v1h-1zM523 571h1v1h-1zM496 538h1v1h-1zM517 531h1v1h-1zM502 574h1v1h-1zM503 574h1v1h-1zM506 535h1v1h-1zM485 539h1v1h-1zM577 542h1v1h-1zM480 575h1v1h-1zM496 538h1v1h-1zM496 577h1v1h-1zM563 558h1v1h-1zM480 574h1v1h-1zM560 560h1v1h-1zM538 520h1v1h-1zM579 535h1v1h-1zM498 574h1v1h-1zM502 536h1v1h-1zM567 552h1v1h-1zM498 573h1v1h-1zM578 541h1v1h-1zM484 575h1v1h-1zM496 575h1v1h-1zM489 576h1v1h-1zM497 577h1v1h-1zM520 529h1v1h-1zM525 526h1v1h-1zM515 529h1v1h-1zM522 528h1v1h-1zM582 532h1v1h-1zM500 536h1v1h-1zM583 535h1v1h-1zM504 575h1v1h-1zM537 518h1v1h-1zM479 574h1v1h-1zM479 576h1v1h-1zM577 543h1v1h-1zM575 544h1v1h-1zM496 576h1v1h-1zM582 541h1v1h-1zM480 574h1v1h-1zM509 533h1v1h-1zM512 534h1v1h-1zM533 570h1v1h-1zM571 546h1v1h-1zM482 575h1v1h-1zM575 542h1v1h-1zM513 533h1v1h-1zM486 576h1v1h-1zM565 555h1v1h-1zM477 574h1v1h-1zM523 572h1v1h-1zM522 529h1v1h-1zM510 533h1v1h-1zM493 576h1v1h-1zM501 574h1v1h-1zM518 572h1v1h-1zM580 534h1v1h-1zM481 575h1v1h-1zM496 538h1v1h-1zM495 577h1v1h-1zM509 573h1v1h-1zM578 542h1v1h-1zM577 543h1v1h-1zM500 575h1v1h-1zM538 567h1v1h-1zM488 539h1v1h-1zM511 573h1v1h-1zM526 525h1v1h-1zM492 576h1v1h-1zM581 539h1v1h-1zM477 573h1v1h-1zM583 537h1v1h-1zM521 529h1v1h-1zM494 538h1v1h-1zM497 574h1v1h-1zM563 557h1v1h-1zM589 524h1v1h-1zM527 525h1v1h-1zM578 538h1v1h-1zM493 577h1v1h-1zM513 533h1v1h-1zM592 522h1v1h-1zM482 574h1v1h-1zM481 542h1v1h-1zM587 530h1v1h-1zM584 532h1v1h-1zM496 576h1v1h-1zM517 532h1v1h-1zM581 540h1v1h-1zM584 530h1v1h-1zM585 533h1v1h-1zM517 532h1v1h-1zM492 575h1v1h-1zM511 573h1v1h-1zM576 540h1v1h-1zM481 576h1v1h-1zM579 538h1v1h-1zM506 534h1v1h-1zM535 520h1v1h-1zM582 538h1v1h-1zM574 541h1v1h-1zM535 569h1v1h-1zM571 547h1v1h-1zM588 531h1v1h-1zM480 576h1v1h-1zM493 537h1v1h-1zM485 539h1v1h-1zM579 538h1v1h-1zM481 575h1v1h-1zM482 574h1v1h-1zM576 544h1v1h-1zM570 548h1v1h-1zM508 575h1v1h-1zM483 576h1v1h-1zM507 533h1v1h-1zM526 525h1v1h-1zM583 539h1v1h-1zM579 541h1v1h-1zM479 577h1v1h-1zM522 530h1v1h-1zM572 546h1v1h-1zM498 574h1v1h-1zM581 539h1v1h-1zM479 576h1v1h-1zM514 532h1v1h-1zM590 528h1v1h-1zM524 525h1v1h-1zM573 547h1v1h-1zM582 540h1v1h-1zM577 538h1v1h-1zM504 574h1v1h-1zM513 531h1v1h-1zM574 545h1v1h-1zM511 532h1v1h-1zM515 573h1v1h-1zM577 539h1v1h-1zM492 538h1v1h-1zM562 557h1v1h-1zM494 575h1v1h-1zM515 531h1v1h-1zM565 553h1v1h-1zM502 536h1v1h-1zM498 574h1v1h-1zM511 573h1v1h-1zM521 530h1v1h-1zM493 575h1v1h-1zM508 574h1v1h-1zM479 541h1v1h-1zM594 497h1v1h-1zM597 520h1v1h-1zM574 504h1v1h-1zM623 483h1v1h-1zM616 508h1v1h-1zM599 490h1v1h-1zM616 497h1v1h-1zM585 501h1v1h-1zM611 502h1v1h-1zM584 501h1v1h-1zM598 500h1v1h-1zM613 501h1v1h-1zM603 506h1v1h-1zM604 510h1v1h-1zM609 503h1v1h-1zM583 499h1v1h-1zM600 517h1v1h-1zM613 487h1v1h-1zM588 497h1v1h-1zM607 504h1v1h-1zM535 521h1v1h-1zM610 494h1v1h-1zM577 501h1v1h-1zM597 516h1v1h-1zM600 518h1v1h-1zM600 515h1v1h-1zM586 493h1v1h-1zM602 497h1v1h-1zM592 519h1v1h-1zM575 501h1v1h-1zM553 512h1v1h-1zM598 525h1v1h-1zM567 506h1v1h-1zM593 525h1v1h-1zM596 521h1v1h-1zM614 497h1v1h-1zM597 493h1v1h-1zM617 501h1v1h-1zM622 492h1v1h-1zM591 519h1v1h-1zM601 508h1v1h-1zM626 483h1v1h-1zM621 491h1v1h-1zM609 499h1v1h-1zM559 507h1v1h-1zM607 499h1v1h-1zM605 493h1v1h-1zM606 497h1v1h-1zM534 518h1v1h-1zM603 504h1v1h-1zM598 489h1v1h-1zM600 510h1v1h-1zM601 490h1v1h-1zM607 500h1v1h-1zM605 497h1v1h-1zM598 513h1v1h-1zM618 503h1v1h-1zM611 501h1v1h-1zM594 515h1v1h-1zM618 491h1v1h-1zM585 530h1v1h-1zM618 502h1v1h-1zM611 496h1v1h-1zM549 514h1v1h-1zM588 496h1v1h-1zM589 496h1v1h-1zM600 513h1v1h-1zM565 505h1v1h-1zM602 504h1v1h-1zM601 493h1v1h-1zM617 493h1v1h-1zM603 497h1v1h-1zM597 494h1v1h-1zM631 486h1v1h-1zM549 513h1v1h-1zM605 492h1v1h-1zM605 506h1v1h-1zM594 497h1v1h-1zM611 503h1v1h-1zM604 491h1v1h-1zM582 529h1v1h-1zM599 512h1v1h-1zM583 536h1v1h-1zM581 534h1v1h-1zM597 495h1v1h-1zM613 496h1v1h-1zM614 493h1v1h-1zM604 500h1v1h-1zM578 502h1v1h-1zM618 500h1v1h-1zM614 491h1v1h-1zM611 498h1v1h-1zM588 530h1v1h-1zM524 526h1v1h-1zM597 494h1v1h-1zM617 502h1v1h-1zM547 513h1v1h-1zM608 505h1v1h-1zM602 499h1v1h-1zM594 497h1v1h-1zM587 528h1v1h-1zM523 529h1v1h-1zM603 505h1v1h-1zM599 503h1v1h-1zM608 492h1v1h-1zM582 501h1v1h-1zM611 498h1v1h-1zM546 513h1v1h-1zM530 524h1v1h-1zM588 495h1v1h-1zM590 496h1v1h-1zM592 521h1v1h-1zM606 506h1v1h-1zM615 492h1v1h-1zM532 522h1v1h-1zM588 498h1v1h-1zM614 496h1v1h-1zM589 529h1v1h-1zM606 496h1v1h-1zM608 501h1v1h-1zM612 496h1v1h-1zM602 496h1v1h-1zM539 519h1v1h-1zM583 501h1v1h-1zM615 508h1v1h-1zM605 511h1v1h-1zM532 522h1v1h-1zM624 491h1v1h-1zM584 498h1v1h-1zM603 513h1v1h-1zM609 489h1v1h-1zM618 494h1v1h-1zM598 499h1v1h-1zM632 488h1v1h-1zM609 506h1v1h-1zM603 498h1v1h-1zM614 502h1v1h-1zM623 482h1v1h-1zM614 495h1v1h-1zM600 506h1v1h-1zM605 507h1v1h-1zM584 500h1v1h-1zM623 492h1v1h-1zM532 523h1v1h-1zM578 499h1v1h-1zM580 501h1v1h-1zM621 496h1v1h-1zM614 492h1v1h-1zM573 503h1v1h-1zM597 520h1v1h-1zM608 507h1v1h-1zM615 497h1v1h-1zM604 502h1v1h-1zM602 505h1v1h-1zM597 517h1v1h-1zM602 503h1v1h-1zM581 530h1v1h-1zM611 500h1v1h-1zM602 504h1v1h-1zM562 507h1v1h-1zM593 518h1v1h-1zM622 495h1v1h-1zM594 516h1v1h-1zM621 488h1v1h-1zM596 497h1v1h-1zM602 495h1v1h-1zM600 501h1v1h-1zM598 497h1v1h-1zM599 495h1v1h-1zM600 496h1v1h-1zM601 514h1v1h-1zM615 498h1v1h-1zM588 495h1v1h-1zM534 518h1v1h-1zM572 503h1v1h-1zM587 496h1v1h-1zM589 493h1v1h-1zM603 513h1v1h-1zM589 494h1v1h-1zM602 501h1v1h-1zM555 512h1v1h-1zM598 512h1v1h-1zM589 494h1v1h-1zM599 493h1v1h-1zM593 523h1v1h-1zM623 483h1v1h-1zM611 504h1v1h-1zM582 530h1v1h-1zM595 495h1v1h-1zM590 518h1v1h-1zM597 497h1v1h-1zM614 489h1v1h-1zM574 504h1v1h-1zM620 489h1v1h-1zM574 503h1v1h-1zM607 496h1v1h-1zM587 494h1v1h-1zM617 490h1v1h-1zM582 532h1v1h-1zM601 507h1v1h-1zM594 494h1v1h-1zM607 499h1v1h-1zM593 523h1v1h-1zM632 486h1v1h-1zM607 502h1v1h-1zM604 495h1v1h-1zM555 511h1v1h-1zM590 492h1v1h-1zM598 489h1v1h-1zM593 497h1v1h-1zM568 504h1v1h-1zM537 520h1v1h-1zM575 503h1v1h-1zM586 498h1v1h-1zM528 524h1v1h-1zM567 505h1v1h-1zM597 495h1v1h-1zM600 506h1v1h-1zM615 487h1v1h-1zM605 493h1v1h-1zM587 532h1v1h-1zM614 491h1v1h-1zM604 499h1v1h-1zM573 505h1v1h-1zM603 508h1v1h-1zM540 519h1v1h-1zM569 505h1v1h-1zM611 501h1v1h-1zM609 488h1v1h-1zM525 571h1v1h-1zM595 489h1v1h-1zM526 525h1v1h-1zM598 509h1v1h-1zM568 505h1v1h-1zM631 487h1v1h-1zM590 496h1v1h-1zM617 489h1v1h-1zM602 499h1v1h-1zM607 506h1v1h-1zM535 521h1v1h-1zM600 493h1v1h-1zM548 512h1v1h-1zM536 518h1v1h-1zM611 489h1v1h-1zM601 512h1v1h-1zM608 501h1v1h-1zM600 507h1v1h-1zM590 520h1v1h-1zM560 508h1v1h-1zM602 505h1v1h-1zM533 521h1v1h-1zM607 498h1v1h-1zM601 492h1v1h-1zM571 503h1v1h-1zM615 498h1v1h-1zM539 518h1v1h-1zM605 502h1v1h-1zM546 516h1v1h-1zM588 495h1v1h-1zM613 502h1v1h-1zM606 499h1v1h-1zM598 499h1v1h-1zM592 495h1v1h-1zM606 493h1v1h-1zM584 497h1v1h-1zM599 511h1v1h-1zM616 497h1v1h-1zM596 489h1v1h-1zM584 498h1v1h-1zM613 490h1v1h-1zM578 534h1v1h-1zM585 499h1v1h-1zM595 515h1v1h-1zM600 517h1v1h-1zM599 513h1v1h-1zM620 492h1v1h-1zM595 497h1v1h-1zM624 492h1v1h-1zM613 492h1v1h-1zM615 501h1v1h-1zM597 513h1v1h-1zM585 499h1v1h-1zM597 496h1v1h-1zM590 527h1v1h-1zM578 502h1v1h-1zM634 488h1v1h-1zM575 503h1v1h-1zM588 531h1v1h-1zM616 498h1v1h-1zM575 500h1v1h-1zM586 501h1v1h-1zM605 492h1v1h-1zM613 492h1v1h-1zM583 499h1v1h-1zM621 493h1v1h-1zM586 494h1v1h-1zM580 500h1v1h-1zM610 490h1v1h-1zM601 512h1v1h-1zM596 491h1v1h-1zM604 511h1v1h-1zM587 499h1v1h-1zM545 515h1v1h-1zM618 497h1v1h-1zM553 510h1v1h-1zM602 514h1v1h-1zM596 496h1v1h-1zM606 507h1v1h-1zM606 498h1v1h-1zM614 492h1v1h-1zM588 496h1v1h-1zM586 532h1v1h-1zM593 524h1v1h-1zM617 498h1v1h-1zM592 494h1v1h-1zM619 490h1v1h-1zM621 491h1v1h-1zM618 499h1v1h-1zM591 493h1v1h-1zM550 512h1v1h-1zM527 525h1v1h-1zM605 504h1v1h-1zM607 497h1v1h-1zM589 494h1v1h-1zM598 518h1v1h-1zM600 494h1v1h-1zM616 498h1v1h-1zM612 501h1v1h-1zM616 487h1v1h-1zM585 502h1v1h-1zM605 496h1v1h-1zM610 502h1v1h-1zM609 494h1v1h-1zM587 500h1v1h-1zM574 503h1v1h-1zM577 501h1v1h-1zM618 501h1v1h-1zM610 495h1v1h-1zM536 522h1v1h-1zM598 507h1v1h-1zM535 519h1v1h-1zM533 522h1v1h-1zM573 503h1v1h-1zM607 499h1v1h-1zM577 536h1v1h-1zM595 517h1v1h-1zM565 504h1v1h-1zM610 488h1v1h-1zM597 491h1v1h-1zM591 491h1v1h-1zM598 515h1v1h-1zM605 511h1v1h-1zM534 518h1v1h-1zM572 504h1v1h-1zM590 520h1v1h-1zM606 510h1v1h-1zM595 515h1v1h-1zM619 496h1v1h-1zM607 500h1v1h-1zM614 496h1v1h-1zM575 543h1v1h-1zM607 500h1v1h-1zM589 524h1v1h-1zM617 489h1v1h-1zM584 531h1v1h-1zM601 492h1v1h-1zM570 547h1v1h-1zM545 515h1v1h-1zM614 493h1v1h-1zM583 499h1v1h-1zM608 500h1v1h-1zM590 530h1v1h-1zM558 510h1v1h-1zM597 494h1v1h-1zM599 505h1v1h-1zM536 519h1v1h-1zM597 500h1v1h-1zM597 496h1v1h-1zM603 510h1v1h-1zM597 496h1v1h-1zM565 505h1v1h-1zM601 495h1v1h-1zM608 502h1v1h-1zM619 497h1v1h-1zM592 496h1v1h-1zM600 514h1v1h-1zM625 483h1v1h-1zM591 522h1v1h-1zM590 490h1v1h-1zM598 493h1v1h-1zM568 506h1v1h-1zM617 489h1v1h-1zM603 512h1v1h-1zM535 522h1v1h-1zM604 498h1v1h-1zM622 496h1v1h-1zM531 521h1v1h-1zM601 495h1v1h-1zM608 497h1v1h-1zM620 498h1v1h-1zM533 522h1v1h-1zM560 508h1v1h-1zM609 492h1v1h-1zM545 514h1v1h-1zM591 522h1v1h-1zM589 497h1v1h-1zM597 491h1v1h-1zM574 500h1v1h-1zM548 513h1v1h-1zM615 490h1v1h-1zM614 488h1v1h-1zM624 491h1v1h-1zM586 532h1v1h-1zM584 500h1v1h-1zM534 520h1v1h-1zM601 514h1v1h-1zM594 497h1v1h-1zM595 522h1v1h-1zM607 492h1v1h-1zM524 526h1v1h-1zM609 499h1v1h-1zM620 499h1v1h-1zM574 502h1v1h-1zM609 495h1v1h-1zM603 494h1v1h-1zM599 518h1v1h-1zM615 501h1v1h-1zM585 530h1v1h-1zM611 487h1v1h-1zM601 500h1v1h-1zM601 501h1v1h-1zM601 511h1v1h-1zM575 504h1v1h-1zM592 519h1v1h-1zM593 497h1v1h-1zM598 512h1v1h-1zM596 524h1v1h-1zM587 529h1v1h-1zM603 504h1v1h-1zM606 500h1v1h-1zM600 510h1v1h-1zM616 501h1v1h-1zM602 490h1v1h-1zM597 514h1v1h-1zM552 513h1v1h-1zM578 501h1v1h-1zM600 507h1v1h-1zM578 503h1v1h-1zM621 494h1v1h-1zM616 497h1v1h-1zM615 504h1v1h-1zM581 498h1v1h-1zM597 525h1v1h-1zM588 527h1v1h-1zM594 496h1v1h-1zM578 503h1v1h-1zM586 494h1v1h-1zM545 514h1v1h-1zM600 510h1v1h-1zM602 495h1v1h-1zM589 521h1v1h-1zM601 504h1v1h-1zM607 500h1v1h-1zM596 518h1v1h-1zM571 504h1v1h-1zM605 505h1v1h-1zM546 516h1v1h-1zM609 488h1v1h-1zM564 508h1v1h-1zM613 491h1v1h-1zM612 500h1v1h-1zM609 493h1v1h-1zM597 518h1v1h-1zM590 529h1v1h-1zM584 500h1v1h-1zM597 498h1v1h-1zM542 518h1v1h-1zM598 518h1v1h-1zM586 493h1v1h-1zM537 518h1v1h-1zM532 522h1v1h-1zM624 489h1v1h-1zM611 503h1v1h-1zM597 495h1v1h-1zM583 499h1v1h-1zM553 563h1v1h-1zM600 500h1v1h-1zM600 495h1v1h-1zM598 490h1v1h-1zM600 506h1v1h-1zM601 512h1v1h-1zM606 502h1v1h-1zM576 535h1v1h-1zM605 496h1v1h-1zM588 498h1v1h-1zM584 497h1v1h-1zM615 491h1v1h-1zM556 511h1v1h-1zM589 528h1v1h-1zM602 503h1v1h-1zM605 501h1v1h-1zM572 504h1v1h-1zM604 493h1v1h-1zM610 496h1v1h-1zM581 535h1v1h-1zM611 494h1v1h-1zM597 500h1v1h-1zM600 507h1v1h-1zM620 491h1v1h-1zM571 547h1v1h-1zM623 482h1v1h-1zM570 505h1v1h-1zM600 515h1v1h-1zM615 491h1v1h-1zM586 501h1v1h-1zM587 496h1v1h-1zM585 495h1v1h-1zM542 518h1v1h-1zM567 505h1v1h-1zM551 512h1v1h-1zM565 505h1v1h-1zM590 492h1v1h-1zM615 504h1v1h-1zM609 502h1v1h-1zM606 502h1v1h-1zM596 498h1v1h-1zM576 499h1v1h-1zM535 518h1v1h-1zM567 505h1v1h-1zM611 487h1v1h-1zM598 500h1v1h-1zM595 489h1v1h-1zM604 494h1v1h-1zM603 498h1v1h-1zM605 495h1v1h-1zM599 495h1v1h-1zM603 494h1v1h-1zM538 520h1v1h-1zM610 504h1v1h-1zM603 499h1v1h-1zM598 497h1v1h-1zM619 500h1v1h-1zM614 502h1v1h-1zM613 500h1v1h-1zM617 500h1v1h-1zM610 491h1v1h-1zM620 496h1v1h-1zM595 521h1v1h-1zM611 490h1v1h-1zM607 494h1v1h-1zM595 495h1v1h-1zM603 507h1v1h-1zM593 522h1v1h-1zM583 498h1v1h-1zM580 502h1v1h-1zM580 502h1v1h-1zM600 505h1v1h-1zM600 518h1v1h-1zM560 509h1v1h-1zM622 489h1v1h-1zM543 518h1v1h-1zM598 499h1v1h-1zM631 486h1v1h-1zM618 495h1v1h-1zM528 524h1v1h-1zM579 501h1v1h-1zM562 507h1v1h-1zM598 524h1v1h-1zM603 491h1v1h-1zM593 517h1v1h-1zM617 496h1v1h-1zM608 490h1v1h-1zM620 489h1v1h-1zM601 496h1v1h-1zM544 516h1v1h-1zM560 509h1v1h-1zM603 501h1v1h-1zM611 488h1v1h-1zM611 500h1v1h-1zM634 487h1v1h-1zM600 490h1v1h-1zM609 496h1v1h-1zM602 491h1v1h-1zM592 518h1v1h-1zM612 491h1v1h-1zM598 523h1v1h-1zM545 515h1v1h-1zM607 504h1v1h-1zM586 496h1v1h-1zM609 490h1v1h-1zM617 491h1v1h-1zM616 502h1v1h-1zM532 519h1v1h-1zM542 518h1v1h-1zM624 491h1v1h-1zM606 496h1v1h-1zM571 505h1v1h-1zM608 501h1v1h-1zM613 489h1v1h-1zM597 519h1v1h-1zM525 527h1v1h-1zM578 501h1v1h-1zM623 489h1v1h-1zM589 495h1v1h-1zM525 526h1v1h-1zM577 499h1v1h-1zM571 503h1v1h-1zM610 504h1v1h-1zM614 490h1v1h-1zM600 503h1v1h-1zM621 493h1v1h-1zM600 501h1v1h-1zM608 491h1v1h-1zM599 490h1v1h-1zM601 506h1v1h-1zM598 494h1v1h-1zM589 496h1v1h-1zM623 489h1v1h-1zM610 494h1v1h-1zM615 495h1v1h-1zM597 493h1v1h-1zM598 518h1v1h-1zM534 521h1v1h-1zM579 534h1v1h-1zM552 511h1v1h-1zM622 492h1v1h-1zM561 509h1v1h-1zM536 520h1v1h-1zM602 509h1v1h-1zM586 497h1v1h-1zM576 539h1v1h-1zM592 523h1v1h-1zM553 513h1v1h-1zM582 501h1v1h-1zM608 496h1v1h-1zM585 493h1v1h-1zM536 520h1v1h-1zM606 497h1v1h-1zM590 523h1v1h-1zM576 537h1v1h-1zM599 511h1v1h-1zM568 506h1v1h-1zM595 519h1v1h-1zM616 491h1v1h-1zM606 510h1v1h-1zM599 494h1v1h-1zM603 495h1v1h-1zM573 504h1v1h-1zM606 491h1v1h-1zM612 503h1v1h-1zM633 488h1v1h-1zM555 511h1v1h-1zM591 496h1v1h-1zM608 493h1v1h-1zM550 512h1v1h-1zM607 501h1v1h-1zM614 495h1v1h-1zM602 493h1v1h-1zM604 505h1v1h-1zM586 499h1v1h-1zM545 517h1v1h-1zM615 489h1v1h-1zM570 547h1v1h-1zM610 496h1v1h-1zM524 527h1v1h-1zM598 498h1v1h-1zM615 502h1v1h-1zM600 506h1v1h-1zM584 537h1v1h-1zM549 513h1v1h-1zM599 514h1v1h-1zM604 500h1v1h-1zM604 510h1v1h-1zM596 519h1v1h-1zM605 507h1v1h-1zM573 500h1v1h-1zM593 517h1v1h-1zM596 492h1v1h-1zM618 494h1v1h-1zM579 500h1v1h-1zM602 512h1v1h-1zM614 487h1v1h-1zM534 517h1v1h-1zM595 496h1v1h-1zM608 502h1v1h-1zM575 502h1v1h-1zM576 501h1v1h-1zM568 506h1v1h-1zM612 490h1v1h-1zM602 507h1v1h-1zM583 532h1v1h-1zM611 495h1v1h-1zM593 516h1v1h-1zM593 521h1v1h-1zM612 489h1v1h-1zM609 496h1v1h-1zM600 496h1v1h-1zM631 487h1v1h-1zM585 496h1v1h-1zM530 522h1v1h-1zM611 496h1v1h-1zM605 504h1v1h-1zM602 508h1v1h-1zM557 510h1v1h-1zM605 503h1v1h-1zM600 492h1v1h-1zM536 519h1v1h-1zM589 492h1v1h-1zM591 496h1v1h-1zM592 518h1v1h-1zM605 492h1v1h-1zM610 494h1v1h-1zM523 528h1v1h-1zM604 500h1v1h-1zM584 531h1v1h-1zM557 511h1v1h-1zM598 499h1v1h-1zM610 495h1v1h-1zM606 495h1v1h-1zM587 499h1v1h-1zM595 493h1v1h-1zM615 502h1v1h-1zM599 507h1v1h-1zM602 505h1v1h-1zM604 493h1v1h-1zM588 528h1v1h-1zM618 501h1v1h-1zM591 520h1v1h-1zM583 500h1v1h-1zM606 494h1v1h-1zM561 558h1v1h-1zM578 502h1v1h-1zM581 536h1v1h-1zM599 505h1v1h-1zM607 491h1v1h-1zM598 501h1v1h-1zM603 506h1v1h-1zM631 485h1v1h-1zM617 503h1v1h-1zM601 495h1v1h-1zM544 517h1v1h-1zM580 542h1v1h-1zM592 491h1v1h-1zM609 498h1v1h-1zM575 501h1v1h-1zM531 523h1v1h-1zM601 494h1v1h-1zM588 498h1v1h-1zM617 493h1v1h-1zM581 501h1v1h-1zM600 491h1v1h-1zM560 508h1v1h-1zM548 514h1v1h-1zM533 522h1v1h-1zM534 520h1v1h-1zM608 495h1v1h-1zM606 505h1v1h-1zM612 495h1v1h-1zM615 488h1v1h-1zM610 495h1v1h-1zM572 501h1v1h-1zM565 504h1v1h-1zM605 503h1v1h-1zM548 513h1v1h-1zM582 534h1v1h-1zM598 494h1v1h-1zM548 512h1v1h-1zM619 492h1v1h-1zM577 542h1v1h-1zM586 529h1v1h-1zM612 488h1v1h-1zM611 491h1v1h-1zM591 521h1v1h-1zM603 501h1v1h-1zM619 500h1v1h-1zM602 505h1v1h-1zM616 497h1v1h-1zM621 488h1v1h-1zM621 488h1v1h-1zM619 491h1v1h-1zM605 510h1v1h-1zM621 490h1v1h-1zM604 500h1v1h-1zM604 502h1v1h-1zM574 501h1v1h-1zM581 530h1v1h-1zM621 494h1v1h-1zM611 494h1v1h-1zM571 502h1v1h-1zM593 496h1v1h-1zM611 497h1v1h-1zM534 520h1v1h-1zM613 489h1v1h-1zM599 507h1v1h-1zM595 520h1v1h-1zM617 492h1v1h-1zM578 503h1v1h-1zM613 500h1v1h-1zM602 510h1v1h-1zM590 495h1v1h-1zM626 483h1v1h-1zM604 502h1v1h-1zM525 527h1v1h-1zM607 498h1v1h-1zM583 536h1v1h-1zM590 519h1v1h-1zM617 505h1v1h-1zM583 500h1v1h-1zM616 494h1v1h-1zM591 496h1v1h-1zM607 496h1v1h-1zM616 495h1v1h-1zM591 492h1v1h-1zM608 494h1v1h-1zM610 505h1v1h-1zM606 501h1v1h-1zM604 501h1v1h-1zM601 493h1v1h-1zM596 495h1v1h-1zM574 502h1v1h-1zM545 514h1v1h-1zM608 493h1v1h-1zM601 496h1v1h-1zM579 502h1v1h-1zM590 492h1v1h-1zM584 499h1v1h-1zM591 496h1v1h-1zM597 515h1v1h-1zM588 493h1v1h-1zM552 512h1v1h-1zM615 501h1v1h-1zM597 525h1v1h-1zM615 502h1v1h-1zM625 483h1v1h-1zM567 507h1v1h-1zM612 495h1v1h-1zM589 525h1v1h-1zM604 511h1v1h-1zM602 494h1v1h-1zM613 487h1v1h-1zM618 495h1v1h-1zM591 524h1v1h-1zM603 490h1v1h-1zM574 538h1v1h-1zM579 533h1v1h-1zM588 498h1v1h-1zM591 524h1v1h-1zM580 542h1v1h-1zM579 543h1v1h-1zM594 516h1v1h-1zM569 550h1v1h-1zM619 498h1v1h-1zM602 499h1v1h-1zM577 542h1v1h-1zM605 496h1v1h-1zM564 558h1v1h-1zM585 532h1v1h-1zM594 521h1v1h-1zM599 496h1v1h-1zM620 491h1v1h-1zM591 522h1v1h-1zM599 516h1v1h-1zM607 501h1v1h-1zM599 514h1v1h-1zM599 511h1v1h-1zM573 545h1v1h-1zM584 534h1v1h-1zM567 554h1v1h-1zM566 554h1v1h-1zM578 539h1v1h-1zM609 500h1v1h-1zM574 547h1v1h-1zM632 488h1v1h-1zM599 493h1v1h-1zM580 538h1v1h-1zM592 523h1v1h-1zM588 527h1v1h-1zM599 503h1v1h-1zM600 507h1v1h-1zM616 504h1v1h-1zM621 494h1v1h-1zM572 545h1v1h-1zM601 518h1v1h-1zM590 528h1v1h-1zM575 545h1v1h-1zM601 505h1v1h-1zM633 488h1v1h-1zM589 494h1v1h-1zM609 505h1v1h-1zM576 536h1v1h-1zM591 518h1v1h-1zM605 507h1v1h-1zM576 544h1v1h-1zM582 541h1v1h-1zM582 532h1v1h-1zM565 555h1v1h-1zM578 535h1v1h-1zM596 514h1v1h-1zM592 524h1v1h-1zM600 494h1v1h-1zM593 517h1v1h-1zM602 503h1v1h-1zM600 506h1v1h-1zM601 501h1v1h-1zM575 546h1v1h-1zM599 509h1v1h-1zM620 499h1v1h-1zM616 502h1v1h-1zM606 503h1v1h-1zM617 502h1v1h-1zM587 528h1v1h-1zM584 532h1v1h-1zM585 537h1v1h-1zM618 496h1v1h-1zM605 511h1v1h-1zM611 492h1v1h-1zM579 502h1v1h-1zM590 496h1v1h-1zM581 541h1v1h-1zM576 539h1v1h-1zM594 522h1v1h-1zM607 506h1v1h-1zM566 554h1v1h-1zM572 501h1v1h-1zM573 548h1v1h-1zM594 521h1v1h-1zM581 530h1v1h-1zM596 523h1v1h-1zM605 499h1v1h-1zM592 522h1v1h-1zM610 496h1v1h-1zM587 493h1v1h-1zM585 497h1v1h-1zM584 538h1v1h-1zM575 541h1v1h-1zM589 524h1v1h-1zM592 516h1v1h-1zM599 514h1v1h-1zM578 534h1v1h-1zM592 520h1v1h-1zM585 537h1v1h-1zM589 530h1v1h-1zM590 522h1v1h-1zM616 503h1v1h-1zM632 488h1v1h-1zM593 524h1v1h-1zM624 492h1v1h-1zM580 532h1v1h-1zM588 527h1v1h-1zM572 550h1v1h-1zM616 503h1v1h-1zM566 555h1v1h-1zM590 520h1v1h-1zM617 496h1v1h-1zM616 493h1v1h-1zM587 529h1v1h-1zM588 495h1v1h-1zM566 555h1v1h-1zM614 499h1v1h-1zM634 488h1v1h-1zM583 532h1v1h-1zM621 496h1v1h-1zM624 491h1v1h-1zM571 501h1v1h-1zM601 518h1v1h-1zM599 514h1v1h-1zM580 537h1v1h-1zM569 551h1v1h-1zM618 501h1v1h-1zM598 495h1v1h-1zM598 523h1v1h-1zM616 505h1v1h-1zM598 525h1v1h-1zM593 518h1v1h-1zM585 533h1v1h-1zM584 538h1v1h-1zM581 533h1v1h-1zM567 557h1v1h-1zM596 520h1v1h-1zM582 541h1v1h-1zM616 508h1v1h-1zM577 502h1v1h-1zM566 554h1v1h-1z" fill="#b00000" stroke="none" stroke-width="1" fill-opacity="0.72"/>
<path d="M478 540h1v1h-1zM564 562h1v1h-1zM505 533h1v1h-1zM581 545h1v1h-1zM519 575h1v1h-1zM569 560h1v1h-1zM479 539h1v1h-1zM543 568h1v1h-1zM589 552h1v1h-1zM580 544h1v1h-1zM541 569h1v1h-1zM573 553h1v1h-1zM570 561h1v1h-1zM549 568h1v1h-1zM581 553h1v1h-1zM569 561h1v1h-1zM564 563h1v1h-1zM542 568h1v1h-1zM520 575h1v1h-1zM549 567h1v1h-1zM524 573h1v1h-1zM569 558h1v1h-1zM562 562h1v1h-1zM573 556h1v1h-1zM572 557h1v1h-1zM536 570h1v1h-1zM504 577h1v1h-1zM533 571h1v1h-1zM564 562h1v1h-1zM515 576h1v1h-1zM524 573h1v1h-1zM561 562h1v1h-1zM540 569h1v1h-1zM551 566h1v1h-1zM511 577h1v1h-1zM579 552h1v1h-1zM553 564h1v1h-1zM576 549h1v1h-1zM573 550h1v1h-1zM525 573h1v1h-1zM555 564h1v1h-1zM577 551h1v1h-1zM502 533h1v1h-1zM519 573h1v1h-1zM560 562h1v1h-1zM569 559h1v1h-1zM563 562h1v1h-1zM492 578h1v1h-1zM488 537h1v1h-1zM544 568h1v1h-1zM486 537h1v1h-1zM515 574h1v1h-1zM576 553h1v1h-1zM477 541h1v1h-1zM574 555h1v1h-1zM571 552h1v1h-1zM542 569h1v1h-1zM573 551h1v1h-1zM556 565h1v1h-1zM480 579h1v1h-1zM582 543h1v1h-1zM516 573h1v1h-1zM594 529h1v1h-1zM569 556h1v1h-1zM592 531h1v1h-1zM600 530h1v1h-1zM519 573h1v1h-1zM519 526h1v1h-1zM514 528h1v1h-1zM493 579h1v1h-1zM513 530h1v1h-1zM480 579h1v1h-1zM578 546h1v1h-1zM505 576h1v1h-1zM485 577h1v1h-1zM484 538h1v1h-1zM537 570h1v1h-1zM497 579h1v1h-1zM574 550h1v1h-1zM510 531h1v1h-1zM527 521h1v1h-1zM485 578h1v1h-1zM521 527h1v1h-1zM575 548h1v1h-1zM549 566h1v1h-1zM595 524h1v1h-1zM527 572h1v1h-1zM570 554h1v1h-1zM594 536h1v1h-1zM484 577h1v1h-1zM495 578h1v1h-1zM487 536h1v1h-1zM592 538h1v1h-1zM512 531h1v1h-1zM576 548h1v1h-1zM586 542h1v1h-1zM526 523h1v1h-1zM515 529h1v1h-1zM491 579h1v1h-1zM508 577h1v1h-1zM591 534h1v1h-1zM593 538h1v1h-1zM477 577h1v1h-1zM587 543h1v1h-1zM499 533h1v1h-1zM501 575h1v1h-1zM539 569h1v1h-1zM518 527h1v1h-1zM490 577h1v1h-1zM602 535h1v1h-1zM586 536h1v1h-1zM580 546h1v1h-1zM589 535h1v1h-1zM491 577h1v1h-1zM499 577h1v1h-1zM525 573h1v1h-1zM578 546h1v1h-1zM588 536h1v1h-1zM506 577h1v1h-1zM585 544h1v1h-1zM510 532h1v1h-1zM581 544h1v1h-1zM547 568h1v1h-1zM571 553h1v1h-1zM575 556h1v1h-1zM569 556h1v1h-1zM519 527h1v1h-1zM485 578h1v1h-1zM499 577h1v1h-1zM575 547h1v1h-1zM482 580h1v1h-1zM520 527h1v1h-1zM519 529h1v1h-1zM580 545h1v1h-1zM511 576h1v1h-1zM505 576h1v1h-1zM519 529h1v1h-1zM516 528h1v1h-1zM499 535h1v1h-1zM513 575h1v1h-1zM536 515h1v1h-1zM485 579h1v1h-1zM530 571h1v1h-1zM481 580h1v1h-1zM511 575h1v1h-1zM591 529h1v1h-1zM499 577h1v1h-1zM506 576h1v1h-1zM513 577h1v1h-1zM590 537h1v1h-1zM587 539h1v1h-1zM593 539h1v1h-1zM604 531h1v1h-1zM589 533h1v1h-1zM527 574h1v1h-1zM507 576h1v1h-1zM585 542h1v1h-1zM583 544h1v1h-1zM603 525h1v1h-1zM518 576h1v1h-1zM512 530h1v1h-1zM584 546h1v1h-1zM503 533h1v1h-1zM498 579h1v1h-1zM536 571h1v1h-1zM491 578h1v1h-1zM522 526h1v1h-1zM587 542h1v1h-1zM576 558h1v1h-1zM502 577h1v1h-1zM479 578h1v1h-1zM486 581h1v1h-1zM587 540h1v1h-1zM647 489h1v1h-1zM592 485h1v1h-1zM622 497h1v1h-1zM630 484h1v1h-1zM618 474h1v1h-1zM564 500h1v1h-1zM605 523h1v1h-1zM626 489h1v1h-1zM658 478h1v1h-1zM627 480h1v1h-1zM623 481h1v1h-1zM631 497h1v1h-1zM607 509h1v1h-1zM625 495h1v1h-1zM627 514h1v1h-1zM628 475h1v1h-1zM619 479h1v1h-1zM610 511h1v1h-1zM582 495h1v1h-1zM619 479h1v1h-1zM603 479h1v1h-1zM633 482h1v1h-1zM623 476h1v1h-1zM614 509h1v1h-1zM625 486h1v1h-1zM627 486h1v1h-1zM628 478h1v1h-1zM617 506h1v1h-1zM602 531h1v1h-1zM557 506h1v1h-1zM625 471h1v1h-1zM564 499h1v1h-1zM609 510h1v1h-1zM634 485h1v1h-1zM611 508h1v1h-1zM555 507h1v1h-1zM584 493h1v1h-1zM538 516h1v1h-1zM607 488h1v1h-1zM601 485h1v1h-1zM626 485h1v1h-1zM630 484h1v1h-1zM622 483h1v1h-1zM627 499h1v1h-1zM626 504h1v1h-1zM594 487h1v1h-1zM615 506h1v1h-1zM623 494h1v1h-1zM581 497h1v1h-1zM610 512h1v1h-1zM611 480h1v1h-1zM588 490h1v1h-1zM635 485h1v1h-1zM591 529h1v1h-1zM617 485h1v1h-1zM647 471h1v1h-1zM592 536h1v1h-1zM616 519h1v1h-1zM611 486h1v1h-1zM580 492h1v1h-1zM650 476h1v1h-1zM646 489h1v1h-1zM642 473h1v1h-1zM595 527h1v1h-1zM636 476h1v1h-1zM633 493h1v1h-1zM633 495h1v1h-1zM544 512h1v1h-1zM526 520h1v1h-1zM624 487h1v1h-1zM595 487h1v1h-1zM628 473h1v1h-1zM624 495h1v1h-1zM636 480h1v1h-1zM626 472h1v1h-1zM619 501h1v1h-1zM566 499h1v1h-1zM614 480h1v1h-1zM631 481h1v1h-1zM638 494h1v1h-1zM600 521h1v1h-1zM630 495h1v1h-1zM569 500h1v1h-1zM620 479h1v1h-1zM636 479h1v1h-1zM646 475h1v1h-1zM616 473h1v1h-1zM634 520h1v1h-1zM605 518h1v1h-1zM614 472h1v1h-1zM616 483h1v1h-1zM626 485h1v1h-1zM646 490h1v1h-1zM625 473h1v1h-1zM618 480h1v1h-1zM560 506h1v1h-1zM631 473h1v1h-1zM648 469h1v1h-1zM607 519h1v1h-1zM605 520h1v1h-1zM555 510h1v1h-1zM641 504h1v1h-1zM591 481h1v1h-1zM528 521h1v1h-1zM577 493h1v1h-1zM623 502h1v1h-1zM606 480h1v1h-1zM620 477h1v1h-1zM555 509h1v1h-1zM602 518h1v1h-1zM580 498h1v1h-1zM563 506h1v1h-1zM565 501h1v1h-1zM565 498h1v1h-1zM592 483h1v1h-1zM604 519h1v1h-1zM631 496h1v1h-1zM627 483h1v1h-1zM617 486h1v1h-1zM613 476h1v1h-1zM624 488h1v1h-1zM563 506h1v1h-1zM602 482h1v1h-1zM605 519h1v1h-1zM618 483h1v1h-1zM617 476h1v1h-1zM606 490h1v1h-1zM648 472h1v1h-1zM609 512h1v1h-1zM610 505h1v1h-1zM616 480h1v1h-1zM566 497h1v1h-1zM592 488h1v1h-1zM597 487h1v1h-1zM565 502h1v1h-1zM617 486h1v1h-1zM546 511h1v1h-1zM629 505h1v1h-1zM658 479h1v1h-1zM589 488h1v1h-1zM604 515h1v1h-1zM617 483h1v1h-1zM629 485h1v1h-1zM642 474h1v1h-1zM615 475h1v1h-1zM574 496h1v1h-1zM609 486h1v1h-1zM604 489h1v1h-1zM625 480h1v1h-1zM679 471h1v1h-1zM601 523h1v1h-1zM627 477h1v1h-1zM604 528h1v1h-1zM648 472h1v1h-1zM575 498h1v1h-1zM625 485h1v1h-1zM613 480h1v1h-1zM578 494h1v1h-1zM576 494h1v1h-1zM635 494h1v1h-1zM627 520h1v1h-1zM533 572h1v1h-1zM630 483h1v1h-1zM593 485h1v1h-1zM535 516h1v1h-1zM616 480h1v1h-1zM631 478h1v1h-1zM651 471h1v1h-1zM617 523h1v1h-1zM543 515h1v1h-1zM567 497h1v1h-1zM634 484h1v1h-1zM619 505h1v1h-1zM610 484h1v1h-1zM623 495h1v1h-1zM629 486h1v1h-1zM617 508h1v1h-1zM527 522h1v1h-1zM588 490h1v1h-1zM615 507h1v1h-1zM602 486h1v1h-1zM540 517h1v1h-1zM654 480h1v1h-1zM604 489h1v1h-1zM611 481h1v1h-1zM629 497h1v1h-1zM600 485h1v1h-1zM610 482h1v1h-1zM606 487h1v1h-1zM610 515h1v1h-1zM591 533h1v1h-1zM555 507h1v1h-1zM595 490h1v1h-1zM613 513h1v1h-1zM630 496h1v1h-1zM638 477h1v1h-1zM524 523h1v1h-1zM607 517h1v1h-1zM636 490h1v1h-1zM613 479h1v1h-1zM598 484h1v1h-1zM611 516h1v1h-1zM586 489h1v1h-1zM632 485h1v1h-1zM604 488h1v1h-1zM596 488h1v1h-1zM592 486h1v1h-1zM602 479h1v1h-1zM555 505h1v1h-1zM617 486h1v1h-1zM622 486h1v1h-1zM578 495h1v1h-1zM633 480h1v1h-1zM613 505h1v1h-1zM626 489h1v1h-1zM627 486h1v1h-1zM596 525h1v1h-1zM557 505h1v1h-1zM605 516h1v1h-1zM527 520h1v1h-1zM627 496h1v1h-1zM628 482h1v1h-1zM636 483h1v1h-1zM644 475h1v1h-1zM621 517h1v1h-1zM622 498h1v1h-1zM568 503h1v1h-1zM529 521h1v1h-1zM529 521h1v1h-1zM586 492h1v1h-1zM657 479h1v1h-1zM685 472h1v1h-1zM583 495h1v1h-1zM648 476h1v1h-1zM591 482h1v1h-1zM649 473h1v1h-1zM580 496h1v1h-1zM606 487h1v1h-1zM633 483h1v1h-1zM603 483h1v1h-1zM619 476h1v1h-1zM585 536h1v1h-1zM631 473h1v1h-1zM624 475h1v1h-1zM613 504h1v1h-1zM650 469h1v1h-1zM561 504h1v1h-1zM602 516h1v1h-1zM623 478h1v1h-1zM620 479h1v1h-1zM627 493h1v1h-1zM621 498h1v1h-1zM605 513h1v1h-1zM564 503h1v1h-1zM602 483h1v1h-1zM603 516h1v1h-1zM644 492h1v1h-1zM580 498h1v1h-1zM619 505h1v1h-1zM621 498h1v1h-1zM610 485h1v1h-1zM629 492h1v1h-1zM616 514h1v1h-1zM542 515h1v1h-1zM598 488h1v1h-1zM636 483h1v1h-1zM608 487h1v1h-1zM641 470h1v1h-1zM599 522h1v1h-1zM606 487h1v1h-1zM527 571h1v1h-1zM578 498h1v1h-1zM613 523h1v1h-1zM630 476h1v1h-1zM532 519h1v1h-1zM634 480h1v1h-1zM575 492h1v1h-1zM582 496h1v1h-1zM557 506h1v1h-1zM581 537h1v1h-1zM626 503h1v1h-1zM601 489h1v1h-1zM651 470h1v1h-1zM603 489h1v1h-1zM629 474h1v1h-1zM618 479h1v1h-1zM562 499h1v1h-1zM615 475h1v1h-1zM620 503h1v1h-1zM624 485h1v1h-1zM561 506h1v1h-1zM635 483h1v1h-1zM639 485h1v1h-1zM616 509h1v1h-1zM623 488h1v1h-1zM597 487h1v1h-1zM590 531h1v1h-1zM636 487h1v1h-1zM626 491h1v1h-1zM553 506h1v1h-1zM592 525h1v1h-1zM593 484h1v1h-1zM600 530h1v1h-1zM645 476h1v1h-1zM546 512h1v1h-1zM567 502h1v1h-1zM580 491h1v1h-1zM631 479h1v1h-1zM613 512h1v1h-1zM622 475h1v1h-1zM529 520h1v1h-1zM576 497h1v1h-1zM626 482h1v1h-1zM631 494h1v1h-1zM635 489h1v1h-1zM608 508h1v1h-1zM591 490h1v1h-1zM551 511h1v1h-1zM609 507h1v1h-1zM603 489h1v1h-1zM579 492h1v1h-1zM628 493h1v1h-1zM599 524h1v1h-1zM622 484h1v1h-1zM625 485h1v1h-1zM619 484h1v1h-1zM611 486h1v1h-1zM620 502h1v1h-1zM567 497h1v1h-1zM615 517h1v1h-1zM628 494h1v1h-1zM582 496h1v1h-1zM630 492h1v1h-1zM634 489h1v1h-1zM611 477h1v1h-1zM593 490h1v1h-1zM637 483h1v1h-1zM612 480h1v1h-1zM632 479h1v1h-1zM672 486h1v1h-1zM575 498h1v1h-1zM641 495h1v1h-1zM668 491h1v1h-1zM628 490h1v1h-1zM653 482h1v1h-1zM558 507h1v1h-1zM615 485h1v1h-1zM536 516h1v1h-1zM577 498h1v1h-1zM588 490h1v1h-1zM574 497h1v1h-1zM619 511h1v1h-1zM625 475h1v1h-1zM628 492h1v1h-1zM589 532h1v1h-1zM613 479h1v1h-1zM636 476h1v1h-1zM620 488h1v1h-1zM629 490h1v1h-1zM632 485h1v1h-1zM605 481h1v1h-1zM575 493h1v1h-1zM566 503h1v1h-1zM587 490h1v1h-1zM647 474h1v1h-1zM609 507h1v1h-1zM604 517h1v1h-1zM627 500h1v1h-1zM540 515h1v1h-1zM616 486h1v1h-1zM614 505h1v1h-1zM626 490h1v1h-1zM609 510h1v1h-1zM621 478h1v1h-1zM629 474h1v1h-1zM607 511h1v1h-1zM573 496h1v1h-1zM638 484h1v1h-1zM638 483h1v1h-1zM551 510h1v1h-1zM594 483h1v1h-1zM634 489h1v1h-1zM594 485h1v1h-1zM543 514h1v1h-1zM589 487h1v1h-1zM621 479h1v1h-1zM595 488h1v1h-1zM602 518h1v1h-1zM594 493h1v1h-1zM605 520h1v1h-1zM577 498h1v1h-1zM530 519h1v1h-1zM578 495h1v1h-1zM601 521h1v1h-1zM586 491h1v1h-1zM584 493h1v1h-1zM638 471h1v1h-1zM635 487h1v1h-1zM593 488h1v1h-1zM569 501h1v1h-1zM593 489h1v1h-1zM592 490h1v1h-1zM640 496h1v1h-1zM620 476h1v1h-1zM615 472h1v1h-1zM602 480h1v1h-1zM578 492h1v1h-1zM627 500h1v1h-1zM596 527h1v1h-1zM526 522h1v1h-1zM598 522h1v1h-1zM602 531h1v1h-1zM594 489h1v1h-1zM533 516h1v1h-1zM591 484h1v1h-1zM629 478h1v1h-1zM597 527h1v1h-1zM638 502h1v1h-1zM626 489h1v1h-1zM586 534h1v1h-1zM619 512h1v1h-1zM622 482h1v1h-1zM549 511h1v1h-1zM646 475h1v1h-1zM584 494h1v1h-1zM614 508h1v1h-1zM568 500h1v1h-1zM623 501h1v1h-1zM624 481h1v1h-1zM619 479h1v1h-1zM593 493h1v1h-1zM628 485h1v1h-1zM602 487h1v1h-1zM616 508h1v1h-1zM593 492h1v1h-1zM611 477h1v1h-1zM616 512h1v1h-1zM612 475h1v1h-1zM586 491h1v1h-1zM540 514h1v1h-1zM630 495h1v1h-1zM612 475h1v1h-1zM620 480h1v1h-1zM625 495h1v1h-1zM563 505h1v1h-1zM590 490h1v1h-1zM606 518h1v1h-1zM641 472h1v1h-1zM599 489h1v1h-1zM636 470h1v1h-1zM627 501h1v1h-1zM605 515h1v1h-1zM630 481h1v1h-1zM566 501h1v1h-1zM647 476h1v1h-1zM558 505h1v1h-1zM625 476h1v1h-1zM625 497h1v1h-1zM606 481h1v1h-1zM626 487h1v1h-1zM570 501h1v1h-1zM580 496h1v1h-1zM647 477h1v1h-1zM610 483h1v1h-1zM606 484h1v1h-1zM577 498h1v1h-1zM599 484h1v1h-1zM624 502h1v1h-1zM615 477h1v1h-1zM603 520h1v1h-1zM625 482h1v1h-1zM622 481h1v1h-1zM619 476h1v1h-1zM610 509h1v1h-1zM555 509h1v1h-1zM618 477h1v1h-1zM624 508h1v1h-1zM637 475h1v1h-1zM525 521h1v1h-1zM645 473h1v1h-1zM627 501h1v1h-1zM613 480h1v1h-1zM620 505h1v1h-1zM654 494h1v1h-1zM563 503h1v1h-1zM617 481h1v1h-1zM606 523h1v1h-1zM621 487h1v1h-1zM564 505h1v1h-1zM542 515h1v1h-1zM620 483h1v1h-1zM637 471h1v1h-1zM595 491h1v1h-1zM622 483h1v1h-1zM633 478h1v1h-1zM638 491h1v1h-1zM648 477h1v1h-1zM657 507h1v1h-1zM537 516h1v1h-1zM641 492h1v1h-1zM621 486h1v1h-1zM576 494h1v1h-1zM636 496h1v1h-1zM646 476h1v1h-1zM632 491h1v1h-1zM636 492h1v1h-1zM634 507h1v1h-1zM582 493h1v1h-1zM566 503h1v1h-1zM609 487h1v1h-1zM606 530h1v1h-1zM630 494h1v1h-1zM626 484h1v1h-1zM537 517h1v1h-1zM606 519h1v1h-1zM571 500h1v1h-1zM603 528h1v1h-1zM644 476h1v1h-1zM604 488h1v1h-1zM638 483h1v1h-1zM624 476h1v1h-1zM626 474h1v1h-1zM604 485h1v1h-1zM547 511h1v1h-1zM560 506h1v1h-1zM591 482h1v1h-1zM610 478h1v1h-1zM664 524h1v1h-1zM582 543h1v1h-1zM681 477h1v1h-1zM680 503h1v1h-1zM607 537h1v1h-1zM650 508h1v1h-1zM629 495h1v1h-1zM662 524h1v1h-1zM639 502h1v1h-1zM601 527h1v1h-1zM682 497h1v1h-1zM628 498h1v1h-1zM637 514h1v1h-1zM665 498h1v1h-1zM664 498h1v1h-1zM604 536h1v1h-1zM591 550h1v1h-1zM688 509h1v1h-1zM609 524h1v1h-1zM663 490h1v1h-1zM672 508h1v1h-1zM687 491h1v1h-1zM638 507h1v1h-1zM682 506h1v1h-1zM576 558h1v1h-1zM587 559h1v1h-1zM615 534h1v1h-1zM660 491h1v1h-1zM646 517h1v1h-1zM636 519h1v1h-1zM610 533h1v1h-1zM681 511h1v1h-1zM601 526h1v1h-1zM605 519h1v1h-1zM616 529h1v1h-1zM619 515h1v1h-1zM648 521h1v1h-1zM649 498h1v1h-1zM654 481h1v1h-1zM585 539h1v1h-1zM671 507h1v1h-1zM661 522h1v1h-1zM669 513h1v1h-1zM685 500h1v1h-1zM619 523h1v1h-1zM613 521h1v1h-1zM660 515h1v1h-1zM632 496h1v1h-1zM634 508h1v1h-1zM677 518h1v1h-1zM688 487h1v1h-1zM671 514h1v1h-1zM595 545h1v1h-1zM668 498h1v1h-1zM638 482h1v1h-1zM646 522h1v1h-1zM605 530h1v1h-1zM628 523h1v1h-1zM591 549h1v1h-1zM659 506h1v1h-1zM600 538h1v1h-1zM590 546h1v1h-1zM631 480h1v1h-1zM633 516h1v1h-1zM689 486h1v1h-1zM693 506h1v1h-1zM606 519h1v1h-1zM667 528h1v1h-1zM660 491h1v1h-1zM650 484h1v1h-1zM677 495h1v1h-1zM619 520h1v1h-1zM601 547h1v1h-1zM669 508h1v1h-1zM683 501h1v1h-1zM626 525h1v1h-1zM586 544h1v1h-1zM600 541h1v1h-1zM627 526h1v1h-1zM695 501h1v1h-1zM617 535h1v1h-1zM639 512h1v1h-1zM683 520h1v1h-1zM607 538h1v1h-1zM617 535h1v1h-1zM637 488h1v1h-1zM636 514h1v1h-1zM592 549h1v1h-1zM686 512h1v1h-1zM654 489h1v1h-1zM604 546h1v1h-1zM663 532h1v1h-1zM589 488h1v1h-1zM622 521h1v1h-1zM693 486h1v1h-1zM663 497h1v1h-1zM671 491h1v1h-1zM672 501h1v1h-1zM632 512h1v1h-1zM613 536h1v1h-1zM687 514h1v1h-1zM587 539h1v1h-1zM695 506h1v1h-1zM682 512h1v1h-1zM651 515h1v1h-1zM597 539h1v1h-1zM613 535h1v1h-1zM579 552h1v1h-1zM615 509h1v1h-1zM685 488h1v1h-1zM616 536h1v1h-1zM650 502h1v1h-1zM595 545h1v1h-1zM573 550h1v1h-1zM570 564h1v1h-1zM652 502h1v1h-1zM657 506h1v1h-1zM683 510h1v1h-1zM591 540h1v1h-1zM687 487h1v1h-1zM681 471h1v1h-1zM669 506h1v1h-1zM628 525h1v1h-1zM678 495h1v1h-1zM595 537h1v1h-1zM672 478h1v1h-1zM667 529h1v1h-1zM637 511h1v1h-1zM687 489h1v1h-1zM668 510h1v1h-1zM639 522h1v1h-1zM683 507h1v1h-1zM684 474h1v1h-1zM616 526h1v1h-1zM660 509h1v1h-1zM621 535h1v1h-1zM654 507h1v1h-1zM635 519h1v1h-1zM610 537h1v1h-1zM641 497h1v1h-1zM662 503h1v1h-1zM671 517h1v1h-1zM594 540h1v1h-1zM652 501h1v1h-1zM585 558h1v1h-1zM595 540h1v1h-1zM649 521h1v1h-1zM633 526h1v1h-1zM625 517h1v1h-1zM617 525h1v1h-1zM608 540h1v1h-1zM601 537h1v1h-1zM652 510h1v1h-1zM680 484h1v1h-1zM613 533h1v1h-1zM689 480h1v1h-1zM650 513h1v1h-1zM643 507h1v1h-1zM679 502h1v1h-1zM647 519h1v1h-1zM660 492h1v1h-1zM668 492h1v1h-1zM662 508h1v1h-1zM669 499h1v1h-1zM631 517h1v1h-1zM684 508h1v1h-1zM664 491h1v1h-1zM692 480h1v1h-1zM639 515h1v1h-1zM635 513h1v1h-1zM682 480h1v1h-1zM667 527h1v1h-1zM603 533h1v1h-1zM593 549h1v1h-1zM647 524h1v1h-1zM647 488h1v1h-1zM597 544h1v1h-1zM673 477h1v1h-1zM597 532h1v1h-1zM609 520h1v1h-1zM608 525h1v1h-1zM650 510h1v1h-1zM622 536h1v1h-1zM593 538h1v1h-1zM636 532h1v1h-1zM592 535h1v1h-1zM682 483h1v1h-1zM690 491h1v1h-1zM649 519h1v1h-1zM631 519h1v1h-1zM654 502h1v1h-1zM641 494h1v1h-1zM651 495h1v1h-1zM606 532h1v1h-1zM623 522h1v1h-1zM661 508h1v1h-1zM653 494h1v1h-1zM639 519h1v1h-1zM590 537h1v1h-1zM634 511h1v1h-1zM587 536h1v1h-1zM624 516h1v1h-1zM637 514h1v1h-1zM570 563h1v1h-1zM637 533h1v1h-1zM618 516h1v1h-1zM652 515h1v1h-1zM592 529h1v1h-1zM615 516h1v1h-1zM622 535h1v1h-1zM637 512h1v1h-1zM682 483h1v1h-1zM658 515h1v1h-1zM649 510h1v1h-1zM652 515h1v1h-1zM633 532h1v1h-1zM579 552h1v1h-1zM683 496h1v1h-1zM623 508h1v1h-1zM668 492h1v1h-1zM586 545h1v1h-1zM683 499h1v1h-1zM639 508h1v1h-1zM592 548h1v1h-1zM690 480h1v1h-1zM636 531h1v1h-1zM681 484h1v1h-1zM670 516h1v1h-1zM641 524h1v1h-1zM630 522h1v1h-1zM647 478h1v1h-1zM628 514h1v1h-1zM609 515h1v1h-1zM595 535h1v1h-1zM665 524h1v1h-1zM604 485h1v1h-1zM692 506h1v1h-1zM650 497h1v1h-1zM661 509h1v1h-1zM605 526h1v1h-1zM590 547h1v1h-1zM588 557h1v1h-1zM643 505h1v1h-1zM572 564h1v1h-1zM642 494h1v1h-1zM638 518h1v1h-1zM572 552h1v1h-1zM617 525h1v1h-1zM689 487h1v1h-1zM640 513h1v1h-1zM646 521h1v1h-1zM677 503h1v1h-1zM591 527h1v1h-1zM592 535h1v1h-1zM650 498h1v1h-1zM690 477h1v1h-1zM625 492h1v1h-1zM677 502h1v1h-1zM577 556h1v1h-1zM691 489h1v1h-1zM594 539h1v1h-1zM611 520h1v1h-1zM669 492h1v1h-1zM670 512h1v1h-1zM626 522h1v1h-1zM693 502h1v1h-1zM683 500h1v1h-1zM604 547h1v1h-1zM594 533h1v1h-1zM669 507h1v1h-1zM587 546h1v1h-1zM620 525h1v1h-1zM600 547h1v1h-1zM645 521h1v1h-1zM646 519h1v1h-1zM598 538h1v1h-1zM641 503h1v1h-1zM603 533h1v1h-1zM595 530h1v1h-1zM683 503h1v1h-1zM684 475h1v1h-1zM589 547h1v1h-1zM597 528h1v1h-1zM627 514h1v1h-1zM620 522h1v1h-1zM659 493h1v1h-1zM613 511h1v1h-1zM692 500h1v1h-1zM647 517h1v1h-1zM578 551h1v1h-1zM664 532h1v1h-1zM604 546h1v1h-1zM592 547h1v1h-1zM633 532h1v1h-1zM618 521h1v1h-1zM691 487h1v1h-1zM601 548h1v1h-1zM695 506h1v1h-1zM618 526h1v1h-1zM617 537h1v1h-1zM601 538h1v1h-1zM616 525h1v1h-1zM685 487h1v1h-1zM600 527h1v1h-1zM626 529h1v1h-1zM636 511h1v1h-1zM671 491h1v1h-1zM611 524h1v1h-1zM689 479h1v1h-1zM678 516h1v1h-1zM678 515h1v1h-1zM623 537h1v1h-1zM611 523h1v1h-1zM603 526h1v1h-1zM693 498h1v1h-1zM660 505h1v1h-1zM662 500h1v1h-1zM649 501h1v1h-1zM678 496h1v1h-1zM616 518h1v1h-1zM572 562h1v1h-1zM627 516h1v1h-1zM664 502h1v1h-1zM619 535h1v1h-1zM617 488h1v1h-1zM632 513h1v1h-1zM603 522h1v1h-1zM683 506h1v1h-1zM667 528h1v1h-1zM590 551h1v1h-1zM626 528h1v1h-1zM686 485h1v1h-1zM681 504h1v1h-1zM603 534h1v1h-1zM646 504h1v1h-1zM667 491h1v1h-1zM599 522h1v1h-1zM614 534h1v1h-1zM614 528h1v1h-1zM684 501h1v1h-1zM627 521h1v1h-1zM612 535h1v1h-1zM627 497h1v1h-1zM681 506h1v1h-1zM655 507h1v1h-1zM627 516h1v1h-1zM574 554h1v1h-1zM606 537h1v1h-1zM613 522h1v1h-1zM616 525h1v1h-1zM652 503h1v1h-1zM606 537h1v1h-1zM610 542h1v1h-1zM592 549h1v1h-1zM599 521h1v1h-1zM668 498h1v1h-1zM594 543h1v1h-1zM667 528h1v1h-1zM630 530h1v1h-1zM649 518h1v1h-1zM654 511h1v1h-1zM640 492h1v1h-1zM609 519h1v1h-1zM652 522h1v1h-1zM640 534h1v1h-1zM650 497h1v1h-1zM687 509h1v1h-1zM609 538h1v1h-1zM663 491h1v1h-1zM626 529h1v1h-1zM647 524h1v1h-1zM660 489h1v1h-1zM687 510h1v1h-1zM630 531h1v1h-1zM652 502h1v1h-1zM678 515h1v1h-1zM638 495h1v1h-1zM674 514h1v1h-1zM579 553h1v1h-1zM592 539h1v1h-1zM666 526h1v1h-1zM591 533h1v1h-1zM679 469h1v1h-1zM623 534h1v1h-1zM568 562h1v1h-1zM586 546h1v1h-1zM633 516h1v1h-1zM595 538h1v1h-1zM641 523h1v1h-1zM640 507h1v1h-1zM662 509h1v1h-1zM618 507h1v1h-1zM610 532h1v1h-1zM578 548h1v1h-1zM645 526h1v1h-1zM601 522h1v1h-1zM589 549h1v1h-1zM685 510h1v1h-1zM655 493h1v1h-1zM598 542h1v1h-1zM685 503h1v1h-1zM593 544h1v1h-1zM646 489h1v1h-1zM600 541h1v1h-1zM639 518h1v1h-1zM638 521h1v1h-1zM636 512h1v1h-1zM681 502h1v1h-1zM617 525h1v1h-1zM649 504h1v1h-1zM659 480h1v1h-1zM646 490h1v1h-1zM632 512h1v1h-1zM664 526h1v1h-1zM603 522h1v1h-1zM692 506h1v1h-1zM652 490h1v1h-1zM662 522h1v1h-1zM688 509h1v1h-1zM576 559h1v1h-1zM646 503h1v1h-1zM649 514h1v1h-1zM635 495h1v1h-1zM640 494h1v1h-1zM622 522h1v1h-1zM604 522h1v1h-1zM685 501h1v1h-1zM622 523h1v1h-1zM686 510h1v1h-1zM683 508h1v1h-1zM637 519h1v1h-1zM648 501h1v1h-1zM636 500h1v1h-1zM623 518h1v1h-1zM646 476h1v1h-1zM610 537h1v1h-1zM692 501h1v1h-1zM574 558h1v1h-1zM618 520h1v1h-1zM599 536h1v1h-1zM650 517h1v1h-1zM686 486h1v1h-1zM632 492h1v1h-1zM580 550h1v1h-1zM610 521h1v1h-1zM652 495h1v1h-1zM668 512h1v1h-1zM604 546h1v1h-1zM672 507h1v1h-1zM588 544h1v1h-1zM673 485h1v1h-1zM610 537h1v1h-1zM616 524h1v1h-1zM640 521h1v1h-1zM649 471h1v1h-1zM651 483h1v1h-1zM619 511h1v1h-1zM683 522h1v1h-1zM640 522h1v1h-1zM691 475h1v1h-1zM565 560h1v1h-1zM653 480h1v1h-1zM647 500h1v1h-1zM678 503h1v1h-1zM616 517h1v1h-1zM594 548h1v1h-1zM641 532h1v1h-1zM573 556h1v1h-1zM686 491h1v1h-1zM678 471h1v1h-1zM683 477h1v1h-1zM660 492h1v1h-1zM654 495h1v1h-1zM643 509h1v1h-1zM640 513h1v1h-1zM627 503h1v1h-1zM685 513h1v1h-1zM632 493h1v1h-1zM655 493h1v1h-1zM634 519h1v1h-1zM600 525h1v1h-1zM640 534h1v1h-1zM650 500h1v1h-1zM610 511h1v1h-1zM619 516h1v1h-1zM592 546h1v1h-1zM639 533h1v1h-1zM684 477h1v1h-1zM651 510h1v1h-1zM681 481h1v1h-1zM611 532h1v1h-1zM570 563h1v1h-1zM635 531h1v1h-1zM653 508h1v1h-1zM670 492h1v1h-1zM654 491h1v1h-1zM593 546h1v1h-1zM614 514h1v1h-1zM633 531h1v1h-1zM609 543h1v1h-1zM570 562h1v1h-1zM648 516h1v1h-1zM587 558h1v1h-1zM613 510h1v1h-1zM654 492h1v1h-1zM636 501h1v1h-1zM684 501h1v1h-1zM578 548h1v1h-1zM649 497h1v1h-1zM626 534h1v1h-1zM645 525h1v1h-1zM599 541h1v1h-1zM601 530h1v1h-1zM654 520h1v1h-1zM682 495h1v1h-1zM646 505h1v1h-1zM641 506h1v1h-1zM617 518h1v1h-1zM633 531h1v1h-1zM616 536h1v1h-1zM623 508h1v1h-1zM581 547h1v1h-1zM627 526h1v1h-1zM583 543h1v1h-1zM648 507h1v1h-1zM642 492h1v1h-1zM693 497h1v1h-1zM636 478h1v1h-1zM689 486h1v1h-1zM681 481h1v1h-1zM648 489h1v1h-1zM649 511h1v1h-1zM583 545h1v1h-1zM586 559h1v1h-1zM603 483h1v1h-1zM629 525h1v1h-1zM625 514h1v1h-1zM614 525h1v1h-1zM685 513h1v1h-1zM670 510h1v1h-1zM693 503h1v1h-1zM653 491h1v1h-1zM643 503h1v1h-1zM617 521h1v1h-1zM661 513h1v1h-1zM646 502h1v1h-1zM635 511h1v1h-1zM643 506h1v1h-1zM600 540h1v1h-1zM636 517h1v1h-1zM594 548h1v1h-1zM690 485h1v1h-1zM691 489h1v1h-1zM637 517h1v1h-1zM634 518h1v1h-1zM636 514h1v1h-1zM620 534h1v1h-1zM683 513h1v1h-1zM617 518h1v1h-1zM667 500h1v1h-1zM634 515h1v1h-1zM672 491h1v1h-1zM641 506h1v1h-1zM640 524h1v1h-1zM615 527h1v1h-1zM688 492h1v1h-1zM680 470h1v1h-1zM645 525h1v1h-1zM650 522h1v1h-1zM572 561h1v1h-1zM626 494h1v1h-1zM690 491h1v1h-1zM664 523h1v1h-1zM692 497h1v1h-1zM599 530h1v1h-1zM625 515h1v1h-1zM578 545h1v1h-1zM664 527h1v1h-1zM597 545h1v1h-1zM654 521h1v1h-1zM659 504h1v1h-1zM599 538h1v1h-1zM668 509h1v1h-1zM639 504h1v1h-1zM654 495h1v1h-1zM614 526h1v1h-1zM680 494h1v1h-1zM637 501h1v1h-1zM651 500h1v1h-1zM626 522h1v1h-1zM604 525h1v1h-1zM632 520h1v1h-1zM695 504h1v1h-1zM616 521h1v1h-1zM612 535h1v1h-1zM640 524h1v1h-1zM663 490h1v1h-1zM621 502h1v1h-1zM644 505h1v1h-1zM685 473h1v1h-1zM620 522h1v1h-1zM651 521h1v1h-1zM662 502h1v1h-1zM616 509h1v1h-1zM615 525h1v1h-1zM631 517h1v1h-1zM684 477h1v1h-1zM679 477h1v1h-1zM640 532h1v1h-1zM623 536h1v1h-1zM611 523h1v1h-1zM673 500h1v1h-1zM653 512h1v1h-1zM664 524h1v1h-1zM695 486h1v1h-1zM621 480h1v1h-1zM675 514h1v1h-1zM617 485h1v1h-1zM637 501h1v1h-1zM668 512h1v1h-1zM642 508h1v1h-1zM600 550h1v1h-1zM689 478h1v1h-1zM692 497h1v1h-1zM588 540h1v1h-1zM664 527h1v1h-1zM631 518h1v1h-1zM581 544h1v1h-1zM677 495h1v1h-1zM622 520h1v1h-1zM622 536h1v1h-1zM674 477h1v1h-1zM609 516h1v1h-1zM660 509h1v1h-1zM690 475h1v1h-1zM631 520h1v1h-1zM596 543h1v1h-1zM608 524h1v1h-1zM693 507h1v1h-1zM625 528h1v1h-1zM629 527h1v1h-1zM620 512h1v1h-1zM631 495h1v1h-1zM589 544h1v1h-1zM588 546h1v1h-1zM688 512h1v1h-1zM690 478h1v1h-1zM586 539h1v1h-1zM638 515h1v1h-1zM650 502h1v1h-1zM683 498h1v1h-1zM664 500h1v1h-1zM607 510h1v1h-1zM643 524h1v1h-1zM681 505h1v1h-1zM652 498h1v1h-1zM689 487h1v1h-1zM621 502h1v1h-1zM576 558h1v1h-1zM617 524h1v1h-1zM694 486h1v1h-1zM587 536h1v1h-1zM633 526h1v1h-1zM636 495h1v1h-1zM589 535h1v1h-1zM585 558h1v1h-1zM595 528h1v1h-1zM570 554h1v1h-1zM603 515h1v1h-1zM600 532h1v1h-1zM649 475h1v1h-1zM669 499h1v1h-1zM620 518h1v1h-1zM672 485h1v1h-1zM694 486h1v1h-1zM637 503h1v1h-1zM682 479h1v1h-1zM680 477h1v1h-1zM605 526h1v1h-1zM595 538h1v1h-1zM650 509h1v1h-1zM626 525h1v1h-1zM668 511h1v1h-1zM635 513h1v1h-1zM680 478h1v1h-1zM684 521h1v1h-1zM649 506h1v1h-1zM633 527h1v1h-1zM633 531h1v1h-1zM686 499h1v1h-1zM662 490h1v1h-1zM618 512h1v1h-1zM573 564h1v1h-1zM600 534h1v1h-1zM591 536h1v1h-1zM680 485h1v1h-1zM635 507h1v1h-1zM681 511h1v1h-1zM676 516h1v1h-1zM617 528h1v1h-1zM580 554h1v1h-1zM652 504h1v1h-1zM655 489h1v1h-1zM575 556h1v1h-1zM586 543h1v1h-1zM695 485h1v1h-1zM670 493h1v1h-1zM606 527h1v1h-1zM592 547h1v1h-1zM598 528h1v1h-1zM599 539h1v1h-1zM660 506h1v1h-1zM646 524h1v1h-1zM609 522h1v1h-1zM648 521h1v1h-1zM649 495h1v1h-1zM625 518h1v1h-1zM646 490h1v1h-1zM599 524h1v1h-1zM610 543h1v1h-1zM679 502h1v1h-1zM585 539h1v1h-1zM655 482h1v1h-1zM573 563h1v1h-1zM660 489h1v1h-1zM663 503h1v1h-1zM596 525h1v1h-1zM681 494h1v1h-1zM643 503h1v1h-1zM590 550h1v1h-1zM599 529h1v1h-1zM614 537h1v1h-1zM672 487h1v1h-1zM628 503h1v1h-1zM671 513h1v1h-1zM672 515h1v1h-1zM596 532h1v1h-1zM603 530h1v1h-1zM632 517h1v1h-1zM576 546h1v1h-1zM639 520h1v1h-1zM612 541h1v1h-1zM624 536h1v1h-1zM577 560h1v1h-1zM637 530h1v1h-1zM594 532h1v1h-1zM624 520h1v1h-1zM613 514h1v1h-1zM641 513h1v1h-1zM598 533h1v1h-1zM617 506h1v1h-1zM663 500h1v1h-1zM580 554h1v1h-1zM602 525h1v1h-1zM658 508h1v1h-1zM606 535h1v1h-1zM626 491h1v1h-1zM587 545h1v1h-1zM638 501h1v1h-1zM607 509h1v1h-1zM632 491h1v1h-1zM623 497h1v1h-1zM639 535h1v1h-1zM610 539h1v1h-1zM575 551h1v1h-1zM592 539h1v1h-1zM638 493h1v1h-1zM590 551h1v1h-1zM615 536h1v1h-1zM671 508h1v1h-1zM611 541h1v1h-1zM661 506h1v1h-1zM694 505h1v1h-1zM680 496h1v1h-1zM640 495h1v1h-1zM689 485h1v1h-1zM623 537h1v1h-1zM603 521h1v1h-1zM654 512h1v1h-1zM683 499h1v1h-1zM651 517h1v1h-1zM592 537h1v1h-1zM652 499h1v1h-1zM662 516h1v1h-1zM602 518h1v1h-1zM679 517h1v1h-1zM640 533h1v1h-1zM622 518h1v1h-1zM605 534h1v1h-1zM681 503h1v1h-1zM610 515h1v1h-1zM663 531h1v1h-1zM653 487h1v1h-1zM618 506h1v1h-1zM614 522h1v1h-1zM576 552h1v1h-1zM650 517h1v1h-1zM614 520h1v1h-1zM685 500h1v1h-1zM649 508h1v1h-1zM591 536h1v1h-1zM601 521h1v1h-1zM687 490h1v1h-1zM641 507h1v1h-1zM647 490h1v1h-1zM628 518h1v1h-1zM658 514h1v1h-1zM663 503h1v1h-1zM627 516h1v1h-1zM610 531h1v1h-1zM575 551h1v1h-1zM593 543h1v1h-1zM682 486h1v1h-1zM688 478h1v1h-1zM650 523h1v1h-1zM681 501h1v1h-1zM573 565h1v1h-1zM626 520h1v1h-1zM650 508h1v1h-1zM628 523h1v1h-1zM630 520h1v1h-1zM651 517h1v1h-1zM590 488h1v1h-1zM694 504h1v1h-1zM639 507h1v1h-1zM599 483h1v1h-1zM636 511h1v1h-1zM635 510h1v1h-1z" fill="#b81818" stroke="none" stroke-width="1" fill-opacity="0.48"/>
<path d="M565 567h1v1h-1zM537 572h1v1h-1zM481 538h1v1h-1zM549 569h1v1h-1zM539 571h1v1h-1zM585 554h1v1h-1zM490 536h1v1h-1zM536 573h1v1h-1zM518 579h1v1h-1zM566 563h1v1h-1zM529 575h1v1h-1zM480 534h1v1h-1zM559 567h1v1h-1zM559 567h1v1h-1zM587 551h1v1h-1zM500 584h1v1h-1zM535 576h1v1h-1zM520 524h1v1h-1zM479 583h1v1h-1zM501 581h1v1h-1zM518 524h1v1h-1zM485 581h1v1h-1zM515 577h1v1h-1zM492 531h1v1h-1zM512 526h1v1h-1zM479 583h1v1h-1zM506 525h1v1h-1zM510 529h1v1h-1zM490 582h1v1h-1zM486 533h1v1h-1zM501 586h1v1h-1zM517 520h1v1h-1zM505 580h1v1h-1zM488 582h1v1h-1zM518 577h1v1h-1zM497 533h1v1h-1zM607 529h1v1h-1zM497 581h1v1h-1zM492 534h1v1h-1zM523 579h1v1h-1zM507 579h1v1h-1zM504 580h1v1h-1zM496 581h1v1h-1zM479 582h1v1h-1zM500 532h1v1h-1zM512 581h1v1h-1zM487 581h1v1h-1zM499 583h1v1h-1zM515 525h1v1h-1zM593 556h1v1h-1zM483 583h1v1h-1zM499 525h1v1h-1zM682 447h1v1h-1zM564 497h1v1h-1zM636 459h1v1h-1zM667 461h1v1h-1zM655 484h1v1h-1zM569 495h1v1h-1zM552 502h1v1h-1zM610 464h1v1h-1zM613 469h1v1h-1zM658 481h1v1h-1zM674 453h1v1h-1zM613 470h1v1h-1zM594 470h1v1h-1zM652 468h1v1h-1zM643 463h1v1h-1zM653 467h1v1h-1zM655 461h1v1h-1zM686 440h1v1h-1zM596 474h1v1h-1zM666 446h1v1h-1zM639 458h1v1h-1zM682 452h1v1h-1zM597 481h1v1h-1zM529 514h1v1h-1zM640 482h1v1h-1zM640 469h1v1h-1zM679 455h1v1h-1zM600 478h1v1h-1zM657 455h1v1h-1zM654 487h1v1h-1zM646 458h1v1h-1zM618 473h1v1h-1zM620 466h1v1h-1zM653 462h1v1h-1zM641 486h1v1h-1zM681 463h1v1h-1zM543 508h1v1h-1zM675 469h1v1h-1zM643 469h1v1h-1zM643 471h1v1h-1zM671 453h1v1h-1zM604 470h1v1h-1zM671 426h1v1h-1zM571 498h1v1h-1zM525 510h1v1h-1zM657 475h1v1h-1zM635 473h1v1h-1zM644 464h1v1h-1zM551 507h1v1h-1zM628 511h1v1h-1zM655 440h1v1h-1zM694 459h1v1h-1zM691 455h1v1h-1zM624 468h1v1h-1zM553 503h1v1h-1zM649 468h1v1h-1zM639 469h1v1h-1zM674 457h1v1h-1zM691 437h1v1h-1zM682 428h1v1h-1zM581 483h1v1h-1zM655 469h1v1h-1zM690 437h1v1h-1zM633 457h1v1h-1zM636 460h1v1h-1zM673 459h1v1h-1zM660 445h1v1h-1zM685 446h1v1h-1zM628 470h1v1h-1zM640 475h1v1h-1zM623 469h1v1h-1zM579 487h1v1h-1zM646 469h1v1h-1zM645 454h1v1h-1zM670 447h1v1h-1zM642 456h1v1h-1zM671 437h1v1h-1zM667 465h1v1h-1zM677 457h1v1h-1zM658 451h1v1h-1zM583 486h1v1h-1zM693 447h1v1h-1zM665 493h1v1h-1zM687 436h1v1h-1zM666 468h1v1h-1zM577 489h1v1h-1zM660 482h1v1h-1zM583 488h1v1h-1zM693 447h1v1h-1zM653 459h1v1h-1zM627 460h1v1h-1zM669 450h1v1h-1zM639 480h1v1h-1zM630 503h1v1h-1zM640 473h1v1h-1zM634 473h1v1h-1zM667 470h1v1h-1zM668 480h1v1h-1zM695 437h1v1h-1zM667 464h1v1h-1zM654 455h1v1h-1zM662 466h1v1h-1zM626 461h1v1h-1zM624 465h1v1h-1zM655 471h1v1h-1zM607 468h1v1h-1zM651 486h1v1h-1zM685 458h1v1h-1zM556 503h1v1h-1zM587 479h1v1h-1zM637 467h1v1h-1zM657 475h1v1h-1zM687 429h1v1h-1zM668 455h1v1h-1zM682 454h1v1h-1zM622 472h1v1h-1zM551 506h1v1h-1zM638 472h1v1h-1zM687 464h1v1h-1zM645 480h1v1h-1zM606 475h1v1h-1zM579 490h1v1h-1zM673 450h1v1h-1zM633 475h1v1h-1zM659 446h1v1h-1zM625 466h1v1h-1zM607 480h1v1h-1zM666 477h1v1h-1zM669 442h1v1h-1zM617 455h1v1h-1zM654 484h1v1h-1zM646 454h1v1h-1zM645 459h1v1h-1zM599 482h1v1h-1zM622 464h1v1h-1zM637 468h1v1h-1zM659 457h1v1h-1zM607 483h1v1h-1zM681 447h1v1h-1zM642 488h1v1h-1zM656 470h1v1h-1zM606 474h1v1h-1zM606 477h1v1h-1zM653 467h1v1h-1zM661 477h1v1h-1zM614 472h1v1h-1zM529 516h1v1h-1zM549 507h1v1h-1zM642 489h1v1h-1zM683 467h1v1h-1zM544 508h1v1h-1zM661 455h1v1h-1zM662 466h1v1h-1zM551 506h1v1h-1zM666 502h1v1h-1zM649 463h1v1h-1zM601 468h1v1h-1zM646 464h1v1h-1zM691 454h1v1h-1zM643 487h1v1h-1zM648 483h1v1h-1zM633 507h1v1h-1zM671 452h1v1h-1zM642 485h1v1h-1zM678 473h1v1h-1zM623 471h1v1h-1zM664 457h1v1h-1zM636 464h1v1h-1zM638 465h1v1h-1zM660 485h1v1h-1zM657 487h1v1h-1zM651 458h1v1h-1zM523 523h1v1h-1zM638 462h1v1h-1zM619 464h1v1h-1zM599 474h1v1h-1zM547 509h1v1h-1zM651 487h1v1h-1zM671 440h1v1h-1zM682 460h1v1h-1zM529 517h1v1h-1zM658 461h1v1h-1zM562 499h1v1h-1zM679 440h1v1h-1zM620 468h1v1h-1zM654 455h1v1h-1zM658 453h1v1h-1zM691 443h1v1h-1zM643 497h1v1h-1zM609 473h1v1h-1zM687 441h1v1h-1zM661 479h1v1h-1zM613 469h1v1h-1zM629 470h1v1h-1zM655 468h1v1h-1zM674 458h1v1h-1zM676 465h1v1h-1zM573 489h1v1h-1zM656 460h1v1h-1zM642 454h1v1h-1zM582 486h1v1h-1zM625 462h1v1h-1zM602 477h1v1h-1zM638 479h1v1h-1zM608 476h1v1h-1zM645 493h1v1h-1zM605 475h1v1h-1zM648 460h1v1h-1zM633 498h1v1h-1zM632 471h1v1h-1zM573 493h1v1h-1zM539 513h1v1h-1zM662 444h1v1h-1zM657 463h1v1h-1zM659 472h1v1h-1zM689 433h1v1h-1zM643 448h1v1h-1zM633 471h1v1h-1zM640 461h1v1h-1zM649 525h1v1h-1zM665 508h1v1h-1zM623 551h1v1h-1zM680 466h1v1h-1zM675 520h1v1h-1zM695 494h1v1h-1zM657 518h1v1h-1zM640 537h1v1h-1zM688 495h1v1h-1zM630 505h1v1h-1zM598 549h1v1h-1zM656 490h1v1h-1zM589 554h1v1h-1zM673 510h1v1h-1zM575 571h1v1h-1zM658 519h1v1h-1zM686 524h1v1h-1zM685 516h1v1h-1zM655 531h1v1h-1zM694 497h1v1h-1zM608 544h1v1h-1zM570 572h1v1h-1zM644 561h1v1h-1zM687 496h1v1h-1zM607 561h1v1h-1zM604 538h1v1h-1zM613 551h1v1h-1zM574 563h1v1h-1zM608 576h1v1h-1zM586 567h1v1h-1zM628 506h1v1h-1zM678 521h1v1h-1zM694 453h1v1h-1zM648 512h1v1h-1zM593 568h1v1h-1zM680 518h1v1h-1zM647 498h1v1h-1zM639 548h1v1h-1zM625 506h1v1h-1zM623 529h1v1h-1zM641 490h1v1h-1zM647 530h1v1h-1zM651 541h1v1h-1zM630 528h1v1h-1zM645 512h1v1h-1zM648 534h1v1h-1zM672 498h1v1h-1zM677 479h1v1h-1zM637 497h1v1h-1zM639 556h1v1h-1zM637 523h1v1h-1zM584 550h1v1h-1zM684 494h1v1h-1zM691 473h1v1h-1zM689 463h1v1h-1zM689 500h1v1h-1zM683 489h1v1h-1zM695 501h1v1h-1zM660 495h1v1h-1zM675 506h1v1h-1zM652 531h1v1h-1zM600 562h1v1h-1zM642 500h1v1h-1zM666 471h1v1h-1zM692 515h1v1h-1zM581 578h1v1h-1zM670 522h1v1h-1zM642 516h1v1h-1zM693 469h1v1h-1zM624 541h1v1h-1zM673 533h1v1h-1zM658 483h1v1h-1zM614 567h1v1h-1zM636 524h1v1h-1zM685 518h1v1h-1zM662 475h1v1h-1zM616 546h1v1h-1zM630 540h1v1h-1zM645 548h1v1h-1zM648 494h1v1h-1zM665 517h1v1h-1zM655 532h1v1h-1zM632 543h1v1h-1zM689 514h1v1h-1zM693 465h1v1h-1zM572 570h1v1h-1zM594 569h1v1h-1zM641 485h1v1h-1zM683 519h1v1h-1zM595 555h1v1h-1zM601 544h1v1h-1zM689 524h1v1h-1zM613 540h1v1h-1zM603 549h1v1h-1zM656 512h1v1h-1zM600 552h1v1h-1zM649 455h1v1h-1zM685 484h1v1h-1zM589 566h1v1h-1zM682 486h1v1h-1zM692 493h1v1h-1zM695 513h1v1h-1zM673 472h1v1h-1zM611 530h1v1h-1zM626 564h1v1h-1zM669 516h1v1h-1zM650 479h1v1h-1zM649 487h1v1h-1zM623 566h1v1h-1zM690 465h1v1h-1zM589 556h1v1h-1zM638 537h1v1h-1zM618 559h1v1h-1zM603 581h1v1h-1zM643 530h1v1h-1zM592 568h1v1h-1zM625 549h1v1h-1zM669 481h1v1h-1zM687 526h1v1h-1zM673 510h1v1h-1zM578 578h1v1h-1zM575 574h1v1h-1zM589 568h1v1h-1zM669 530h1v1h-1zM649 560h1v1h-1zM631 536h1v1h-1zM662 515h1v1h-1zM633 541h1v1h-1zM650 484h1v1h-1zM656 498h1v1h-1zM590 566h1v1h-1zM684 472h1v1h-1zM635 469h1v1h-1zM585 562h1v1h-1zM673 530h1v1h-1zM628 542h1v1h-1zM662 535h1v1h-1zM657 526h1v1h-1zM695 472h1v1h-1zM647 540h1v1h-1zM659 523h1v1h-1zM687 456h1v1h-1zM652 479h1v1h-1zM576 561h1v1h-1zM565 579h1v1h-1zM647 547h1v1h-1zM651 541h1v1h-1zM609 528h1v1h-1zM690 518h1v1h-1zM605 560h1v1h-1zM679 512h1v1h-1zM654 498h1v1h-1zM605 542h1v1h-1zM608 532h1v1h-1zM646 514h1v1h-1zM666 506h1v1h-1zM679 486h1v1h-1zM584 551h1v1h-1zM656 553h1v1h-1zM587 569h1v1h-1zM687 439h1v1h-1zM636 535h1v1h-1zM673 481h1v1h-1zM683 530h1v1h-1zM671 519h1v1h-1zM626 551h1v1h-1zM655 529h1v1h-1zM624 556h1v1h-1zM629 511h1v1h-1zM630 465h1v1h-1zM595 569h1v1h-1zM666 490h1v1h-1zM628 550h1v1h-1zM570 578h1v1h-1zM596 557h1v1h-1zM644 549h1v1h-1zM654 533h1v1h-1zM681 528h1v1h-1zM694 520h1v1h-1zM594 551h1v1h-1zM631 552h1v1h-1zM627 535h1v1h-1zM687 507h1v1h-1zM678 491h1v1h-1zM672 481h1v1h-1zM571 567h1v1h-1zM607 545h1v1h-1zM632 528h1v1h-1zM695 473h1v1h-1zM643 517h1v1h-1zM676 474h1v1h-1zM652 536h1v1h-1zM632 502h1v1h-1zM692 492h1v1h-1zM626 542h1v1h-1zM654 525h1v1h-1zM623 553h1v1h-1zM671 531h1v1h-1zM614 539h1v1h-1zM568 573h1v1h-1zM611 552h1v1h-1zM574 569h1v1h-1zM628 532h1v1h-1zM682 493h1v1h-1zM607 554h1v1h-1zM598 561h1v1h-1zM571 568h1v1h-1zM683 514h1v1h-1zM642 547h1v1h-1zM586 569h1v1h-1zM660 472h1v1h-1zM695 459h1v1h-1zM670 480h1v1h-1zM648 551h1v1h-1zM660 531h1v1h-1zM660 518h1v1h-1zM632 540h1v1h-1zM646 510h1v1h-1zM655 517h1v1h-1zM689 538h1v1h-1zM595 560h1v1h-1zM639 458h1v1h-1zM629 553h1v1h-1zM651 491h1v1h-1zM621 543h1v1h-1zM695 535h1v1h-1zM644 484h1v1h-1zM658 535h1v1h-1zM665 489h1v1h-1zM689 499h1v1h-1zM651 476h1v1h-1zM632 539h1v1h-1zM674 535h1v1h-1zM648 558h1v1h-1zM662 494h1v1h-1zM599 551h1v1h-1zM693 518h1v1h-1zM695 514h1v1h-1zM635 545h1v1h-1zM688 530h1v1h-1zM666 522h1v1h-1zM686 476h1v1h-1zM616 548h1v1h-1zM634 524h1v1h-1zM639 525h1v1h-1zM660 511h1v1h-1zM624 559h1v1h-1zM676 482h1v1h-1zM693 522h1v1h-1zM611 554h1v1h-1zM694 519h1v1h-1zM689 525h1v1h-1zM665 504h1v1h-1zM643 522h1v1h-1zM610 545h1v1h-1zM611 546h1v1h-1zM622 511h1v1h-1zM642 527h1v1h-1zM646 509h1v1h-1zM588 556h1v1h-1zM606 554h1v1h-1zM598 559h1v1h-1zM689 495h1v1h-1zM609 582h1v1h-1zM630 510h1v1h-1zM676 507h1v1h-1zM685 523h1v1h-1zM663 521h1v1h-1zM655 506h1v1h-1zM695 489h1v1h-1zM647 528h1v1h-1zM654 536h1v1h-1zM689 503h1v1h-1zM673 490h1v1h-1zM621 564h1v1h-1zM659 530h1v1h-1zM689 466h1v1h-1zM686 521h1v1h-1zM686 465h1v1h-1zM657 499h1v1h-1zM575 575h1v1h-1zM672 534h1v1h-1zM657 496h1v1h-1zM620 508h1v1h-1zM669 525h1v1h-1zM675 492h1v1h-1zM581 565h1v1h-1zM669 503h1v1h-1zM679 508h1v1h-1zM694 480h1v1h-1zM604 556h1v1h-1zM612 557h1v1h-1zM587 486h1v1h-1zM654 504h1v1h-1zM682 471h1v1h-1zM595 554h1v1h-1zM641 527h1v1h-1zM582 556h1v1h-1zM624 533h1v1h-1zM635 545h1v1h-1zM641 528h1v1h-1zM668 495h1v1h-1zM628 563h1v1h-1zM687 475h1v1h-1zM671 486h1v1h-1zM589 562h1v1h-1zM583 557h1v1h-1zM694 516h1v1h-1zM618 568h1v1h-1zM657 528h1v1h-1zM680 489h1v1h-1zM621 526h1v1h-1zM584 553h1v1h-1zM637 549h1v1h-1zM693 476h1v1h-1zM691 456h1v1h-1zM596 548h1v1h-1zM694 479h1v1h-1zM593 571h1v1h-1zM583 569h1v1h-1zM644 529h1v1h-1zM668 485h1v1h-1zM675 479h1v1h-1zM582 584h1v1h-1zM679 473h1v1h-1zM597 553h1v1h-1zM606 564h1v1h-1zM616 539h1v1h-1zM664 508h1v1h-1zM670 518h1v1h-1zM603 555h1v1h-1zM566 566h1v1h-1zM687 516h1v1h-1zM692 468h1v1h-1zM598 554h1v1h-1zM589 568h1v1h-1zM678 492h1v1h-1zM601 561h1v1h-1zM588 563h1v1h-1zM674 529h1v1h-1zM668 504h1v1h-1zM647 527h1v1h-1zM682 521h1v1h-1zM686 493h1v1h-1zM645 498h1v1h-1zM602 551h1v1h-1zM627 535h1v1h-1zM681 524h1v1h-1zM686 482h1v1h-1zM652 545h1v1h-1zM590 483h1v1h-1zM679 523h1v1h-1zM685 480h1v1h-1zM618 560h1v1h-1zM661 532h1v1h-1zM654 519h1v1h-1zM631 524h1v1h-1zM641 549h1v1h-1zM686 495h1v1h-1zM642 511h1v1h-1zM652 528h1v1h-1zM664 512h1v1h-1zM635 537h1v1h-1zM620 539h1v1h-1zM635 528h1v1h-1zM584 560h1v1h-1zM674 485h1v1h-1zM634 548h1v1h-1zM595 551h1v1h-1zM603 565h1v1h-1zM673 489h1v1h-1zM648 542h1v1h-1zM621 532h1v1h-1zM660 523h1v1h-1zM683 463h1v1h-1zM624 512h1v1h-1zM675 500h1v1h-1zM681 490h1v1h-1zM653 529h1v1h-1zM624 511h1v1h-1zM660 528h1v1h-1zM670 526h1v1h-1zM642 513h1v1h-1zM587 579h1v1h-1zM657 523h1v1h-1zM684 468h1v1h-1zM673 530h1v1h-1zM689 505h1v1h-1zM680 535h1v1h-1zM664 495h1v1h-1zM663 511h1v1h-1zM688 518h1v1h-1zM617 531h1v1h-1zM676 450h1v1h-1zM574 580h1v1h-1zM619 557h1v1h-1zM673 502h1v1h-1zM683 525h1v1h-1zM672 473h1v1h-1zM649 538h1v1h-1zM580 591h1v1h-1zM676 518h1v1h-1zM611 560h1v1h-1zM580 567h1v1h-1zM675 470h1v1h-1zM567 568h1v1h-1zM672 479h1v1h-1zM609 579h1v1h-1zM598 546h1v1h-1zM695 470h1v1h-1zM647 548h1v1h-1zM582 562h1v1h-1zM631 500h1v1h-1zM687 470h1v1h-1zM565 567h1v1h-1zM580 577h1v1h-1zM634 503h1v1h-1zM675 502h1v1h-1zM659 488h1v1h-1zM635 522h1v1h-1zM690 466h1v1h-1zM654 522h1v1h-1zM639 538h1v1h-1zM671 536h1v1h-1zM588 584h1v1h-1zM677 513h1v1h-1zM675 467h1v1h-1zM684 467h1v1h-1zM597 479h1v1h-1zM656 477h1v1h-1zM636 543h1v1h-1zM565 594h1v1h-1zM636 539h1v1h-1zM630 533h1v1h-1zM653 527h1v1h-1zM643 478h1v1h-1zM661 498h1v1h-1zM673 497h1v1h-1zM655 501h1v1h-1zM687 505h1v1h-1zM676 477h1v1h-1zM659 534h1v1h-1zM610 558h1v1h-1zM594 563h1v1h-1zM635 553h1v1h-1zM668 519h1v1h-1zM625 508h1v1h-1zM661 518h1v1h-1zM689 532h1v1h-1zM581 566h1v1h-1zM571 594h1v1h-1zM695 492h1v1h-1zM623 572h1v1h-1zM675 517h1v1h-1zM667 482h1v1h-1zM666 512h1v1h-1zM611 552h1v1h-1zM670 524h1v1h-1zM663 517h1v1h-1zM692 471h1v1h-1zM677 531h1v1h-1zM663 533h1v1h-1zM626 470h1v1h-1zM673 498h1v1h-1zM695 483h1v1h-1zM671 476h1v1h-1zM582 548h1v1h-1zM679 460h1v1h-1zM637 528h1v1h-1zM676 521h1v1h-1zM684 532h1v1h-1zM685 480h1v1h-1zM684 517h1v1h-1zM634 557h1v1h-1zM566 583h1v1h-1zM641 540h1v1h-1zM672 538h1v1h-1zM643 483h1v1h-1zM646 539h1v1h-1zM656 509h1v1h-1zM657 513h1v1h-1zM689 498h1v1h-1zM626 531h1v1h-1zM659 503h1v1h-1zM675 439h1v1h-1zM661 474h1v1h-1zM603 543h1v1h-1zM646 561h1v1h-1zM667 468h1v1h-1zM690 503h1v1h-1zM584 578h1v1h-1zM685 506h1v1h-1zM691 481h1v1h-1zM690 512h1v1h-1zM610 555h1v1h-1zM615 567h1v1h-1zM660 486h1v1h-1zM647 533h1v1h-1zM610 527h1v1h-1zM664 532h1v1h-1zM641 530h1v1h-1zM616 558h1v1h-1zM666 472h1v1h-1zM636 504h1v1h-1zM662 513h1v1h-1zM670 495h1v1h-1zM678 522h1v1h-1zM641 518h1v1h-1zM610 549h1v1h-1zM648 544h1v1h-1zM631 509h1v1h-1zM589 560h1v1h-1zM655 539h1v1h-1zM692 474h1v1h-1zM641 554h1v1h-1zM630 551h1v1h-1zM629 539h1v1h-1zM622 551h1v1h-1zM694 528h1v1h-1zM672 532h1v1h-1zM622 539h1v1h-1zM675 513h1v1h-1zM601 562h1v1h-1zM671 497h1v1h-1zM688 470h1v1h-1zM656 510h1v1h-1zM694 477h1v1h-1zM656 525h1v1h-1zM614 530h1v1h-1zM657 517h1v1h-1zM623 558h1v1h-1zM684 454h1v1h-1zM694 534h1v1h-1zM591 541h1v1h-1zM582 585h1v1h-1zM604 543h1v1h-1zM690 521h1v1h-1zM688 472h1v1h-1zM695 512h1v1h-1zM690 465h1v1h-1zM642 540h1v1h-1zM665 497h1v1h-1zM583 550h1v1h-1zM665 484h1v1h-1zM651 528h1v1h-1zM692 514h1v1h-1zM657 523h1v1h-1zM580 562h1v1h-1zM614 561h1v1h-1z" fill="#c84848" stroke="none" stroke-width="1" fill-opacity="0.27"/>
<line x1="476.9" y1="388.9" x2="697" y2="388.9" stroke="#444" stroke-width="1.5"/>
<line x1="697" y1="388.9" x2="697" y2="595.6" stroke="#444" stroke-width="1.5"/>
<line x1="476.9" y1="388.15" x2="476.9" y2="596.6" stroke="#000" stroke-width="2.2"/>
<line x1="475.9" y1="595.6" x2="697.75" y2="595.6" stroke="#000" stroke-width="2.2"/>
<path d="M471.4,595.6H476.9M476.9,601.1V595.6M474.3,580.04H476.9M493.46,598.2V595.6M474.3,570.94H476.9M503.15,598.2V595.6M474.3,564.49H476.9M510.03,598.2V595.6M474.3,559.48H476.9M515.36,598.2V595.6M474.3,555.39H476.9M519.72,598.2V595.6M474.3,551.93H476.9M523.4,598.2V595.6M474.3,548.93H476.9M526.59,598.2V595.6M474.3,546.29H476.9M529.41,598.2V595.6M471.4,543.92H476.9M531.92,601.1V595.6M474.3,528.37H476.9M548.49,598.2V595.6M474.3,519.27H476.9M558.18,598.2V595.6M474.3,512.81H476.9M565.05,598.2V595.6M474.3,507.81H476.9M570.39,598.2V595.6M474.3,503.71H476.9M574.74,598.2V595.6M474.3,500.25H476.9M578.43,598.2V595.6M474.3,497.26H476.9M581.62,598.2V595.6M474.3,494.61H476.9M584.43,598.2V595.6M471.4,492.25H476.9M586.95,601.1V595.6M474.3,476.69H476.9M603.51,598.2V595.6M474.3,467.59H476.9M613.2,598.2V595.6M474.3,461.14H476.9M620.08,598.2V595.6M474.3,456.13H476.9M625.41,598.2V595.6M474.3,452.04H476.9M629.77,598.2V595.6M474.3,448.58H476.9M633.45,598.2V595.6M474.3,445.58H476.9M636.64,598.2V595.6M474.3,442.94H476.9M639.46,598.2V595.6M471.4,440.57H476.9M641.98,601.1V595.6M474.3,425.02H476.9M658.54,598.2V595.6M474.3,415.92H476.9M668.23,598.2V595.6M474.3,409.46H476.9M675.1,598.2V595.6M474.3,404.46H476.9M680.44,598.2V595.6M474.3,400.36H476.9M684.79,598.2V595.6M474.3,396.9H476.9M688.48,598.2V595.6M474.3,393.91H476.9M691.67,598.2V595.6M474.3,391.26H476.9M694.48,598.2V595.6M471.4,388.9H476.9M697,601.1V595.6" fill="none" stroke="#000" stroke-width="1.3"/>
<text x="440.37" y="601.5" font-size="16.4">10</text>
<text x="458.89" y="593.4" font-size="12.2">0</text>
<text x="464.66" y="623.1" font-size="16.4">10</text>
<text x="483.18" y="615" font-size="12.2">0</text>
<text x="440.94" y="549.82" font-size="16.4">10</text>
<text x="459.01" y="541.72" font-size="12.2">1</text>
<text x="519.97" y="623.1" font-size="16.4">10</text>
<text x="538.04" y="615" font-size="12.2">1</text>
<text x="440.64" y="498.15" font-size="16.4">10</text>
<text x="459.03" y="490.05" font-size="12.2">2</text>
<text x="574.85" y="623.1" font-size="16.4">10</text>
<text x="593.23" y="615" font-size="12.2">2</text>
<text x="440.42" y="446.47" font-size="16.4">10</text>
<text x="458.95" y="438.37" font-size="12.2">3</text>
<text x="629.76" y="623.1" font-size="16.4">10</text>
<text x="648.3" y="615" font-size="12.2">3</text>
<text x="440.05" y="394.8" font-size="16.4">10</text>
<text x="458.77" y="386.7" font-size="12.2">4</text>
<text x="684.6" y="623.1" font-size="16.4">10</text>
<text x="703.32" y="615" font-size="12.2">4</text>
<text x="560.35" y="382.7" font-size="16.4" textLength="58.01" lengthAdjust="spacingAndGlyphs">Batch 2</text>
<text x="586.95" y="647.3" text-anchor="middle" font-size="16.8">FSC</text>
<text transform="translate(428.4,492.25) rotate(-90)" text-anchor="middle" font-size="16.8">GFP</text>
<path d="M303.6 784.3 305.6 783.7 306.8 784.6 306.6 787.1 304.6 788.7 303.6 788.5 302.7 786.6 303.6 784.3ZM288.6 787.4 292.6 786.9 297 787.6 299 792.6 296.5 798.6 295.6 799.9 291.6 800.9 289.6 802.2 286.6 805.8 281.6 809.9 278.6 810.2 277.8 813.6 276.6 815 268.7 818.6 265.6 822.6 263 827.6 263.1 831.6 261.4 833.6 260.6 836.6 257.6 838.3 256.7 843.6 253.2 848.6 248.6 849.9 244.5 853.6 239.6 854.5 236.6 856.3 223.6 860.8 218.6 860.9 213.6 862.6 208.6 862.8 198.6 864.9 192.6 864.6 188.6 865.6 184.6 865.2 174.6 866.6 168.3 865.6 165.6 863.5 165.6 836.9 174.6 833.5 192.6 830.2 205.6 826.9 210.2 824.6 213.6 824.2 220.6 821.9 229.6 817.6 232.6 815.4 244.6 809.9 248.6 808.7 252.6 805.5 264.6 800.2 270.6 796 273.6 795.7 277.6 793.8 280.6 790.4 283.6 790.4 288.6 787.4Z" fill="#c83030" stroke="none" stroke-width="1" fill-rule="evenodd" fill-opacity="0.35" filter="url(#rough)"/>
<path d="M303.6 784.3 305.6 783.7 306.8 784.6 306.6 787.1 304.6 788.7 303.6 788.5 302.7 786.6 303.6 784.3ZM288.6 787.4 292.6 786.9 297 787.6 299 792.6 296.5 798.6 295.6 799.9 291.6 800.9 289.6 802.2 286.6 805.8 281.6 809.9 278.6 810.2 277.8 813.6 276.6 815 268.7 818.6 265.6 822.6 263 827.6 263.1 831.6 261.4 833.6 260.6 836.6 257.6 838.3 256.7 843.6 253.2 848.6 248.6 849.9 244.5 853.6 239.6 854.5 236.6 856.3 223.6 860.8 218.6 860.9 213.6 862.6 208.6 862.8 198.6 864.9 192.6 864.6 188.6 865.6 184.6 865.2 174.6 866.6 168.3 865.6 165.6 863.5 165.6 836.9 174.6 833.5 192.6 830.2 205.6 826.9 210.2 824.6 213.6 824.2 220.6 821.9 229.6 817.6 232.6 815.4 244.6 809.9 248.6 808.7 252.6 805.5 264.6 800.2 270.6 796 273.6 795.7 277.6 793.8 280.6 790.4 283.6 790.4 288.6 787.4Z" fill="#b00000" stroke="none" stroke-width="1" fill-rule="evenodd" filter="url(#speck)"/>
<path d="M271.6 802.5 273 802.6 273.4 805.6 270.7 812.6 269.6 813.4 265.6 813.9 261.4 821.6 256.6 824.9 256.2 828.6 252.6 833.5 251.9 836.6 252.2 839.6 251.4 841.6 247.5 846.6 241.1 851.6 222.6 858.5 198.6 862.7 176.6 863.2 170.6 862.8 168.6 862.2 165.6 859.2 165.6 839.7 167.6 838.5 188.6 832.5 209.6 828.9 231.6 819.7 246.6 811.8 251.6 810.7 257.6 806.6 263.6 804.3 269.6 804.3 271.6 802.5Z" fill="#d00000" stroke="none" stroke-width="1" fill-rule="evenodd" filter="url(#speck2)"/>
<path d="M245.6 817.6 250.6 817.9 252.6 817.4 253.4 818.6 248.8 823.6 247.9 827.6 244.1 833.6 244.2 837.6 242.1 843.6 239.4 847.6 236.6 850.3 227.6 854.3 221.6 856 211.6 858.2 198.6 860 184.6 860.2 172.6 859.2 168.6 857.4 165.6 853.6 165.6 845.2 168.6 841.7 171.6 840.1 178.6 837.6 189.6 834.8 211.6 831 230.6 823.3 240.6 820.7 245.6 817.6Z" fill="#f00000" stroke="none" stroke-width="1" fill-rule="evenodd" filter="url(#rough)"/>
<path d="M231.6 827.3 233.6 826.8 234.6 827.3 236.6 830.2 236.7 831.6 235.2 834.6 236.1 841.6 234.6 845.7 227.6 851.2 210.6 856.2 198.6 857.4 185.6 857.7 173.6 855.6 169.6 853.2 168.4 851.6 167.7 848.6 168.4 846.6 171.3 843.6 174.9 841.6 185.6 838.3 210.6 834.2 225.6 828.4 231.6 827.3Z" fill="#ff3300" stroke="none" stroke-width="1" fill-rule="evenodd" filter="url(#rough)"/>
<path d="M224.6 832.5 226.6 832.6 229.4 834.6 231.6 840.6 231.1 843.6 226.6 848.6 218.6 852.3 203.6 855.5 185.6 855.8 175.6 853 172 849.6 172 847.6 173 845.6 182.6 840.9 195.6 838 210.6 836.3 218.6 833.2 224.6 832.5Z" fill="#ff7a00" stroke="none" stroke-width="1" fill-rule="evenodd" filter="url(#rough)"/>
<path d="M217.6 835.5 221.6 835.1 224.6 835.7 227.1 838.6 228 841.6 227.6 843.6 224.6 847.6 221.9 849.6 216.9 851.6 203.6 854.3 186.6 854.5 179.6 852.6 176.7 850.6 175.6 848.6 176.1 846.6 177.3 845.6 181.6 842.9 185.2 841.6 195.6 839.2 211.6 837.4 217.6 835.5Z" fill="#ffbb00" stroke="none" stroke-width="1" fill-rule="evenodd" filter="url(#rough)"/>
<path d="M216.6 837.5 219.6 837.1 223.6 838.3 224.6 839.6 224.9 842.6 224.1 845.6 222.6 847.6 216.1 850.6 200.6 853.5 189.6 853.3 184.2 852.6 180.6 850.5 179.1 848.6 180 846.6 182.2 844.6 189.2 841.6 201.6 839.4 210.6 838.9 216.6 837.5Z" fill="#f2ee00" stroke="none" stroke-width="1" fill-rule="evenodd" filter="url(#rough)"/>
<path d="M214.6 839.4 219.6 839 221.9 840.6 222.5 842.6 222.5 844.6 221.6 846.7 215.4 849.6 203.6 852.2 195.6 852.6 186.4 851.6 182.5 848.6 182.4 847.6 184.1 845.6 189.9 842.6 196.6 841 210.6 840.3 214.6 839.4Z" fill="#c2e232" stroke="none" stroke-width="1" fill-rule="evenodd" filter="url(#rough)"/>
<path d="M201.6 841.5 210.6 841.8 217.6 841.1 219.6 842.6 220 844.6 219.4 845.6 213.7 848.6 204.6 850.7 198.6 851.3 191.6 850.8 187.9 849.6 186.7 848.6 186.5 847.6 187.7 845.6 195 842.6 201.6 841.5Z" fill="#64c450" stroke="none" stroke-width="1" fill-rule="evenodd" filter="url(#rough)"/>
<path d="M202.6 842.5 207.3 842.6 213.6 844.2 214.2 845.6 211.6 847.6 202.6 849.8 195.6 850.2 191.6 849.2 189.6 847.6 190.6 845.7 192.9 844.6 202.6 842.5Z" fill="#2a9e62" stroke="none" stroke-width="1" fill-rule="evenodd" filter="url(#rough)"/>
<path d="M202.6 843.6 206 843.6 208.6 844.6 209.2 845.6 206.4 847.6 201.6 848.9 195.6 849.1 192.1 847.6 192.2 846.6 196.2 844.6 202.6 843.6Z" fill="#1f8078" stroke="none" stroke-width="1" fill-rule="evenodd" filter="url(#rough)"/>
<path d="M255 847h1v1h-1zM228 860h1v1h-1zM244 853h1v1h-1zM183 830h1v1h-1zM251 850h1v1h-1zM211 863h1v1h-1zM249 849h1v1h-1zM185 865h1v1h-1zM173 867h1v1h-1zM237 856h1v1h-1zM257 841h1v1h-1zM250 850h1v1h-1zM178 867h1v1h-1zM180 831h1v1h-1zM251 850h1v1h-1zM220 861h1v1h-1zM252 850h1v1h-1zM259 837h1v1h-1zM173 833h1v1h-1zM257 844h1v1h-1zM261 837h1v1h-1zM258 845h1v1h-1zM216 861h1v1h-1zM248 852h1v1h-1zM256 848h1v1h-1zM226 860h1v1h-1zM246 852h1v1h-1zM238 855h1v1h-1zM259 844h1v1h-1zM258 843h1v1h-1zM205 864h1v1h-1zM246 853h1v1h-1zM227 860h1v1h-1zM257 842h1v1h-1zM248 852h1v1h-1zM249 849h1v1h-1zM166 835h1v1h-1zM192 829h1v1h-1zM256 847h1v1h-1zM256 844h1v1h-1zM186 830h1v1h-1zM256 846h1v1h-1zM201 864h1v1h-1zM168 835h1v1h-1zM181 831h1v1h-1zM166 836h1v1h-1zM183 867h1v1h-1zM256 845h1v1h-1zM258 844h1v1h-1zM239 856h1v1h-1zM259 844h1v1h-1zM260 842h1v1h-1zM204 864h1v1h-1zM263 837h1v1h-1zM224 860h1v1h-1zM181 831h1v1h-1zM241 854h1v1h-1zM256 848h1v1h-1zM170 833h1v1h-1zM193 864h1v1h-1zM249 850h1v1h-1zM254 849h1v1h-1zM238 857h1v1h-1zM231 858h1v1h-1zM263 839h1v1h-1zM258 840h1v1h-1zM194 864h1v1h-1zM238 857h1v1h-1zM263 833h1v1h-1zM257 841h1v1h-1zM251 851h1v1h-1zM260 844h1v1h-1zM238 856h1v1h-1zM256 845h1v1h-1zM195 828h1v1h-1zM185 866h1v1h-1zM205 864h1v1h-1zM249 851h1v1h-1zM232 858h1v1h-1zM236 857h1v1h-1zM209 863h1v1h-1zM176 832h1v1h-1zM257 847h1v1h-1zM167 835h1v1h-1zM167 835h1v1h-1zM181 831h1v1h-1zM259 844h1v1h-1zM173 833h1v1h-1zM230 859h1v1h-1zM243 854h1v1h-1zM255 845h1v1h-1zM259 839h1v1h-1zM258 844h1v1h-1zM235 857h1v1h-1zM255 848h1v1h-1zM254 850h1v1h-1zM242 855h1v1h-1zM257 845h1v1h-1zM251 851h1v1h-1zM250 849h1v1h-1zM212 863h1v1h-1zM260 839h1v1h-1zM248 851h1v1h-1zM238 857h1v1h-1zM244 854h1v1h-1zM169 834h1v1h-1zM229 858h1v1h-1zM239 855h1v1h-1zM255 847h1v1h-1zM242 855h1v1h-1zM264 839h1v1h-1zM205 863h1v1h-1zM202 865h1v1h-1zM261 838h1v1h-1zM255 850h1v1h-1zM253 848h1v1h-1zM232 858h1v1h-1zM180 830h1v1h-1zM166 836h1v1h-1zM208 863h1v1h-1zM245 853h1v1h-1zM245 854h1v1h-1zM231 859h1v1h-1zM231 858h1v1h-1zM180 830h1v1h-1zM239 855h1v1h-1zM224 860h1v1h-1zM216 862h1v1h-1zM188 829h1v1h-1zM209 824h1v1h-1zM265 830h1v1h-1zM260 839h1v1h-1zM179 866h1v1h-1zM178 866h1v1h-1zM193 828h1v1h-1zM206 826h1v1h-1zM263 836h1v1h-1zM259 837h1v1h-1zM258 842h1v1h-1zM265 839h1v1h-1zM252 849h1v1h-1zM255 848h1v1h-1zM268 829h1v1h-1zM218 821h1v1h-1zM213 823h1v1h-1zM215 822h1v1h-1zM183 830h1v1h-1zM167 866h1v1h-1zM187 865h1v1h-1zM263 832h1v1h-1zM268 826h1v1h-1zM188 866h1v1h-1zM256 846h1v1h-1zM264 834h1v1h-1zM257 845h1v1h-1zM209 824h1v1h-1zM270 830h1v1h-1zM263 831h1v1h-1zM206 863h1v1h-1zM271 831h1v1h-1zM264 826h1v1h-1zM186 865h1v1h-1zM207 864h1v1h-1zM262 836h1v1h-1zM269 822h1v1h-1zM269 827h1v1h-1zM266 825h1v1h-1zM264 833h1v1h-1zM168 865h1v1h-1zM184 866h1v1h-1zM206 826h1v1h-1zM277 815h1v1h-1zM180 829h1v1h-1zM207 825h1v1h-1zM216 821h1v1h-1zM264 828h1v1h-1zM258 839h1v1h-1zM263 832h1v1h-1zM253 848h1v1h-1zM197 865h1v1h-1zM200 827h1v1h-1zM264 840h1v1h-1zM177 867h1v1h-1zM202 825h1v1h-1zM265 836h1v1h-1zM262 834h1v1h-1zM262 837h1v1h-1zM190 865h1v1h-1zM203 864h1v1h-1zM255 848h1v1h-1zM193 828h1v1h-1zM179 867h1v1h-1zM283 810h1v1h-1zM254 847h1v1h-1zM186 829h1v1h-1zM183 865h1v1h-1zM267 826h1v1h-1zM223 819h1v1h-1zM265 824h1v1h-1zM197 828h1v1h-1zM266 823h1v1h-1zM173 868h1v1h-1zM230 816h1v1h-1zM259 837h1v1h-1zM240 854h1v1h-1zM217 822h1v1h-1zM262 833h1v1h-1zM272 825h1v1h-1zM215 862h1v1h-1zM258 838h1v1h-1zM267 827h1v1h-1zM203 825h1v1h-1zM265 823h1v1h-1zM204 826h1v1h-1zM265 827h1v1h-1zM233 857h1v1h-1zM256 845h1v1h-1zM198 827h1v1h-1zM263 838h1v1h-1zM269 829h1v1h-1zM268 823h1v1h-1zM253 848h1v1h-1zM268 828h1v1h-1zM166 867h1v1h-1zM268 830h1v1h-1zM273 824h1v1h-1zM198 826h1v1h-1zM268 820h1v1h-1zM269 824h1v1h-1zM178 867h1v1h-1zM209 824h1v1h-1zM207 824h1v1h-1zM175 867h1v1h-1zM225 860h1v1h-1zM233 857h1v1h-1zM224 860h1v1h-1zM225 860h1v1h-1zM260 839h1v1h-1zM260 842h1v1h-1zM265 832h1v1h-1zM214 822h1v1h-1zM271 820h1v1h-1zM224 818h1v1h-1zM264 834h1v1h-1zM265 827h1v1h-1zM264 838h1v1h-1zM256 847h1v1h-1zM279 815h1v1h-1zM225 817h1v1h-1zM261 836h1v1h-1zM273 824h1v1h-1zM183 866h1v1h-1zM175 866h1v1h-1zM266 836h1v1h-1zM226 859h1v1h-1zM181 831h1v1h-1zM179 866h1v1h-1zM194 864h1v1h-1zM264 827h1v1h-1zM171 866h1v1h-1zM208 823h1v1h-1zM202 826h1v1h-1zM216 822h1v1h-1zM187 866h1v1h-1zM202 825h1v1h-1zM180 867h1v1h-1zM261 837h1v1h-1zM177 831h1v1h-1zM261 833h1v1h-1zM262 838h1v1h-1zM263 828h1v1h-1zM227 860h1v1h-1zM173 867h1v1h-1zM209 863h1v1h-1zM167 866h1v1h-1zM211 824h1v1h-1zM219 861h1v1h-1zM192 829h1v1h-1zM258 844h1v1h-1zM272 830h1v1h-1zM267 824h1v1h-1zM263 834h1v1h-1zM205 825h1v1h-1zM168 866h1v1h-1zM205 863h1v1h-1zM231 858h1v1h-1zM260 841h1v1h-1zM238 856h1v1h-1zM208 824h1v1h-1zM166 864h1v1h-1zM265 830h1v1h-1zM187 866h1v1h-1zM185 867h1v1h-1zM261 841h1v1h-1zM181 867h1v1h-1zM196 828h1v1h-1zM253 848h1v1h-1zM221 820h1v1h-1zM256 845h1v1h-1zM265 825h1v1h-1zM198 826h1v1h-1zM267 821h1v1h-1zM267 829h1v1h-1zM265 822h1v1h-1zM167 865h1v1h-1zM258 845h1v1h-1zM268 821h1v1h-1zM270 830h1v1h-1zM262 834h1v1h-1zM186 830h1v1h-1zM264 837h1v1h-1zM181 867h1v1h-1zM264 831h1v1h-1zM266 829h1v1h-1zM216 822h1v1h-1zM186 830h1v1h-1zM265 833h1v1h-1zM211 863h1v1h-1zM268 826h1v1h-1zM270 830h1v1h-1zM166 865h1v1h-1zM264 839h1v1h-1zM264 835h1v1h-1zM267 831h1v1h-1zM268 823h1v1h-1zM265 826h1v1h-1zM265 829h1v1h-1zM198 865h1v1h-1zM267 832h1v1h-1zM272 829h1v1h-1zM226 818h1v1h-1zM182 867h1v1h-1zM262 838h1v1h-1zM270 825h1v1h-1zM263 837h1v1h-1zM267 828h1v1h-1zM209 823h1v1h-1zM234 813h1v1h-1zM205 865h1v1h-1zM208 824h1v1h-1zM263 835h1v1h-1zM262 832h1v1h-1zM202 826h1v1h-1zM266 822h1v1h-1zM174 866h1v1h-1zM189 829h1v1h-1zM195 828h1v1h-1zM189 865h1v1h-1zM165 863h1v1h-1zM264 831h1v1h-1zM212 823h1v1h-1zM188 866h1v1h-1zM263 833h1v1h-1zM180 829h1v1h-1zM268 833h1v1h-1zM203 826h1v1h-1zM187 865h1v1h-1zM269 828h1v1h-1zM265 827h1v1h-1zM271 830h1v1h-1zM174 867h1v1h-1zM198 865h1v1h-1zM270 829h1v1h-1zM186 868h1v1h-1zM214 822h1v1h-1zM257 841h1v1h-1zM259 840h1v1h-1zM267 832h1v1h-1zM191 865h1v1h-1zM257 844h1v1h-1zM202 864h1v1h-1zM263 837h1v1h-1zM172 866h1v1h-1zM170 835h1v1h-1zM272 823h1v1h-1zM270 818h1v1h-1zM268 830h1v1h-1zM268 824h1v1h-1zM229 858h1v1h-1zM260 837h1v1h-1zM236 811h1v1h-1zM271 824h1v1h-1zM268 836h1v1h-1zM194 828h1v1h-1zM263 830h1v1h-1zM259 837h1v1h-1zM262 833h1v1h-1zM259 838h1v1h-1zM258 840h1v1h-1zM264 829h1v1h-1zM271 820h1v1h-1zM266 821h1v1h-1zM264 835h1v1h-1zM262 836h1v1h-1zM187 866h1v1h-1zM268 824h1v1h-1zM179 866h1v1h-1zM172 867h1v1h-1zM261 835h1v1h-1zM266 827h1v1h-1zM180 867h1v1h-1zM250 850h1v1h-1zM177 832h1v1h-1zM269 831h1v1h-1zM251 851h1v1h-1zM180 829h1v1h-1zM200 828h1v1h-1zM273 825h1v1h-1zM261 835h1v1h-1zM261 841h1v1h-1zM185 865h1v1h-1zM237 856h1v1h-1zM266 826h1v1h-1zM267 837h1v1h-1zM185 830h1v1h-1zM166 864h1v1h-1zM205 826h1v1h-1zM270 832h1v1h-1zM214 822h1v1h-1zM264 826h1v1h-1zM176 866h1v1h-1zM185 866h1v1h-1zM209 823h1v1h-1zM269 824h1v1h-1zM277 816h1v1h-1zM303 779h1v1h-1zM252 803h1v1h-1zM284 808h1v1h-1zM296 800h1v1h-1zM286 808h1v1h-1zM255 801h1v1h-1zM308 792h1v1h-1zM298 785h1v1h-1zM299 781h1v1h-1zM324 774h1v1h-1zM301 790h1v1h-1zM295 783h1v1h-1zM274 816h1v1h-1zM271 795h1v1h-1zM257 800h1v1h-1zM301 794h1v1h-1zM307 784h1v1h-1zM307 784h1v1h-1zM245 808h1v1h-1zM328 773h1v1h-1zM310 785h1v1h-1zM264 798h1v1h-1zM304 791h1v1h-1zM282 809h1v1h-1zM310 781h1v1h-1zM308 777h1v1h-1zM303 791h1v1h-1zM307 785h1v1h-1zM305 795h1v1h-1zM268 796h1v1h-1zM269 793h1v1h-1zM313 775h1v1h-1zM291 805h1v1h-1zM320 775h1v1h-1zM297 798h1v1h-1zM242 810h1v1h-1zM314 776h1v1h-1zM274 793h1v1h-1zM269 795h1v1h-1zM325 773h1v1h-1zM280 789h1v1h-1zM303 789h1v1h-1zM299 800h1v1h-1zM293 786h1v1h-1zM328 776h1v1h-1zM300 780h1v1h-1zM310 782h1v1h-1zM280 789h1v1h-1zM292 800h1v1h-1zM300 795h1v1h-1zM288 785h1v1h-1zM261 800h1v1h-1zM294 801h1v1h-1zM308 782h1v1h-1zM308 779h1v1h-1zM330 777h1v1h-1zM270 818h1v1h-1zM278 790h1v1h-1zM317 778h1v1h-1zM328 774h1v1h-1zM311 785h1v1h-1zM316 784h1v1h-1zM276 792h1v1h-1zM324 775h1v1h-1zM318 775h1v1h-1zM302 781h1v1h-1zM320 776h1v1h-1zM314 776h1v1h-1zM307 783h1v1h-1zM287 784h1v1h-1zM261 797h1v1h-1zM298 786h1v1h-1zM244 808h1v1h-1zM286 809h1v1h-1zM315 781h1v1h-1zM317 776h1v1h-1zM294 783h1v1h-1zM285 788h1v1h-1zM300 780h1v1h-1zM285 809h1v1h-1zM294 786h1v1h-1zM295 802h1v1h-1zM298 785h1v1h-1zM325 772h1v1h-1zM306 778h1v1h-1zM303 793h1v1h-1zM303 788h1v1h-1zM317 776h1v1h-1zM289 786h1v1h-1zM282 810h1v1h-1zM256 803h1v1h-1zM306 782h1v1h-1zM290 804h1v1h-1zM278 790h1v1h-1zM288 785h1v1h-1zM294 804h1v1h-1zM262 799h1v1h-1zM268 821h1v1h-1zM280 811h1v1h-1zM290 803h1v1h-1zM227 817h1v1h-1zM284 807h1v1h-1zM278 813h1v1h-1zM293 803h1v1h-1zM316 785h1v1h-1zM250 804h1v1h-1zM272 821h1v1h-1zM289 783h1v1h-1zM292 804h1v1h-1zM308 791h1v1h-1zM314 779h1v1h-1zM258 802h1v1h-1zM300 791h1v1h-1zM299 784h1v1h-1zM293 783h1v1h-1zM296 798h1v1h-1zM317 783h1v1h-1zM284 809h1v1h-1zM290 801h1v1h-1zM311 785h1v1h-1zM308 787h1v1h-1zM261 799h1v1h-1zM288 804h1v1h-1zM245 808h1v1h-1zM324 773h1v1h-1zM315 784h1v1h-1zM279 812h1v1h-1zM305 782h1v1h-1zM299 792h1v1h-1zM297 797h1v1h-1zM307 791h1v1h-1zM298 789h1v1h-1zM310 783h1v1h-1zM311 775h1v1h-1zM316 780h1v1h-1zM308 774h1v1h-1zM309 776h1v1h-1zM316 784h1v1h-1zM314 785h1v1h-1zM302 795h1v1h-1zM276 793h1v1h-1zM231 815h1v1h-1zM253 803h1v1h-1zM250 806h1v1h-1zM297 787h1v1h-1zM273 795h1v1h-1zM328 775h1v1h-1zM302 785h1v1h-1zM233 813h1v1h-1zM232 814h1v1h-1zM304 781h1v1h-1zM266 796h1v1h-1zM310 777h1v1h-1zM260 797h1v1h-1zM294 784h1v1h-1zM317 783h1v1h-1zM272 819h1v1h-1zM292 805h1v1h-1zM284 789h1v1h-1zM246 807h1v1h-1zM241 810h1v1h-1zM304 794h1v1h-1zM272 819h1v1h-1zM311 780h1v1h-1zM288 787h1v1h-1zM285 786h1v1h-1zM289 804h1v1h-1zM280 815h1v1h-1zM259 802h1v1h-1zM297 801h1v1h-1zM318 778h1v1h-1zM301 791h1v1h-1zM300 793h1v1h-1zM255 803h1v1h-1zM286 808h1v1h-1zM231 815h1v1h-1zM300 793h1v1h-1zM280 811h1v1h-1zM272 795h1v1h-1zM280 788h1v1h-1zM279 812h1v1h-1zM303 780h1v1h-1zM316 782h1v1h-1zM298 787h1v1h-1zM327 775h1v1h-1zM304 790h1v1h-1zM298 791h1v1h-1zM281 788h1v1h-1zM299 791h1v1h-1zM302 790h1v1h-1zM317 781h1v1h-1zM302 787h1v1h-1zM299 793h1v1h-1zM307 788h1v1h-1zM292 786h1v1h-1zM308 787h1v1h-1zM293 780h1v1h-1zM303 789h1v1h-1zM277 791h1v1h-1zM288 783h1v1h-1zM243 808h1v1h-1zM310 784h1v1h-1zM283 814h1v1h-1zM274 817h1v1h-1zM305 794h1v1h-1zM276 790h1v1h-1zM261 798h1v1h-1zM299 781h1v1h-1zM317 783h1v1h-1zM288 784h1v1h-1zM293 781h1v1h-1zM326 776h1v1h-1zM281 789h1v1h-1zM330 775h1v1h-1zM308 792h1v1h-1zM324 776h1v1h-1zM302 791h1v1h-1zM258 798h1v1h-1zM288 786h1v1h-1zM315 775h1v1h-1zM306 787h1v1h-1zM300 783h1v1h-1zM247 807h1v1h-1zM314 782h1v1h-1zM315 781h1v1h-1zM269 819h1v1h-1zM243 810h1v1h-1zM296 779h1v1h-1zM303 795h1v1h-1zM309 793h1v1h-1zM328 776h1v1h-1zM288 804h1v1h-1zM312 779h1v1h-1zM294 803h1v1h-1zM281 789h1v1h-1zM319 778h1v1h-1zM305 783h1v1h-1zM295 781h1v1h-1zM278 813h1v1h-1zM299 790h1v1h-1zM251 804h1v1h-1zM295 801h1v1h-1zM293 805h1v1h-1zM315 777h1v1h-1zM301 794h1v1h-1zM299 779h1v1h-1zM307 787h1v1h-1zM270 795h1v1h-1zM315 784h1v1h-1zM300 797h1v1h-1zM278 813h1v1h-1zM298 784h1v1h-1zM269 820h1v1h-1zM293 802h1v1h-1zM307 779h1v1h-1zM311 777h1v1h-1zM326 778h1v1h-1zM324 774h1v1h-1zM238 812h1v1h-1zM317 781h1v1h-1zM302 785h1v1h-1zM249 805h1v1h-1zM309 779h1v1h-1zM297 797h1v1h-1zM318 777h1v1h-1zM271 818h1v1h-1zM309 789h1v1h-1zM282 814h1v1h-1zM257 799h1v1h-1zM276 793h1v1h-1zM307 786h1v1h-1zM247 807h1v1h-1zM313 784h1v1h-1zM287 787h1v1h-1zM282 788h1v1h-1zM305 778h1v1h-1zM330 778h1v1h-1zM309 779h1v1h-1zM288 806h1v1h-1zM282 809h1v1h-1zM327 777h1v1h-1zM286 807h1v1h-1zM314 787h1v1h-1zM311 784h1v1h-1zM309 776h1v1h-1zM317 777h1v1h-1zM300 791h1v1h-1zM229 817h1v1h-1zM318 774h1v1h-1zM292 800h1v1h-1zM290 806h1v1h-1zM298 786h1v1h-1zM298 785h1v1h-1zM288 805h1v1h-1zM294 782h1v1h-1zM301 796h1v1h-1zM286 806h1v1h-1zM306 791h1v1h-1zM300 782h1v1h-1zM331 776h1v1h-1zM265 823h1v1h-1zM277 815h1v1h-1zM290 784h1v1h-1zM261 799h1v1h-1zM307 778h1v1h-1zM297 799h1v1h-1zM303 781h1v1h-1zM270 795h1v1h-1zM285 809h1v1h-1zM305 791h1v1h-1zM301 780h1v1h-1zM271 823h1v1h-1zM249 807h1v1h-1zM302 788h1v1h-1zM296 799h1v1h-1zM305 781h1v1h-1zM280 812h1v1h-1zM315 783h1v1h-1zM276 817h1v1h-1zM308 781h1v1h-1zM308 781h1v1h-1zM262 799h1v1h-1zM277 815h1v1h-1zM290 803h1v1h-1zM261 799h1v1h-1zM296 778h1v1h-1zM249 807h1v1h-1zM306 781h1v1h-1zM305 794h1v1h-1zM271 817h1v1h-1zM259 801h1v1h-1zM299 783h1v1h-1zM324 772h1v1h-1zM304 779h1v1h-1zM268 826h1v1h-1zM310 782h1v1h-1zM311 784h1v1h-1zM282 814h1v1h-1zM304 791h1v1h-1zM325 774h1v1h-1zM303 788h1v1h-1zM294 780h1v1h-1zM303 781h1v1h-1zM329 774h1v1h-1zM308 792h1v1h-1zM278 814h1v1h-1zM270 794h1v1h-1zM302 781h1v1h-1zM305 782h1v1h-1zM310 790h1v1h-1zM315 784h1v1h-1zM302 790h1v1h-1zM328 774h1v1h-1zM279 789h1v1h-1zM305 793h1v1h-1zM311 787h1v1h-1zM310 788h1v1h-1zM270 793h1v1h-1zM309 774h1v1h-1zM308 784h1v1h-1zM298 795h1v1h-1zM275 791h1v1h-1zM226 818h1v1h-1zM293 802h1v1h-1zM313 777h1v1h-1zM303 780h1v1h-1zM289 786h1v1h-1zM329 774h1v1h-1zM285 808h1v1h-1zM270 794h1v1h-1zM315 779h1v1h-1zM292 786h1v1h-1zM307 779h1v1h-1zM286 809h1v1h-1zM281 788h1v1h-1zM300 789h1v1h-1zM263 798h1v1h-1zM295 803h1v1h-1zM299 794h1v1h-1zM297 796h1v1h-1zM290 805h1v1h-1zM304 793h1v1h-1zM260 797h1v1h-1zM311 782h1v1h-1zM308 790h1v1h-1zM271 820h1v1h-1zM275 794h1v1h-1zM327 776h1v1h-1zM308 780h1v1h-1zM302 780h1v1h-1zM309 777h1v1h-1zM285 785h1v1h-1zM292 804h1v1h-1zM305 789h1v1h-1zM269 797h1v1h-1zM290 805h1v1h-1zM306 789h1v1h-1zM287 809h1v1h-1zM308 788h1v1h-1zM310 774h1v1h-1zM324 776h1v1h-1zM246 807h1v1h-1zM313 783h1v1h-1zM290 785h1v1h-1zM309 775h1v1h-1zM324 776h1v1h-1zM268 825h1v1h-1zM312 779h1v1h-1zM309 787h1v1h-1zM300 794h1v1h-1zM283 788h1v1h-1zM238 813h1v1h-1zM301 795h1v1h-1zM295 781h1v1h-1zM301 783h1v1h-1zM226 817h1v1h-1zM269 795h1v1h-1zM291 784h1v1h-1zM300 790h1v1h-1zM268 821h1v1h-1zM326 776h1v1h-1zM310 788h1v1h-1zM315 786h1v1h-1zM293 800h1v1h-1zM290 809h1v1h-1zM288 786h1v1h-1zM249 807h1v1h-1zM243 809h1v1h-1zM296 784h1v1h-1zM300 792h1v1h-1zM282 813h1v1h-1zM270 795h1v1h-1zM307 791h1v1h-1zM276 816h1v1h-1zM307 790h1v1h-1zM309 774h1v1h-1zM299 791h1v1h-1zM310 782h1v1h-1zM294 786h1v1h-1zM302 790h1v1h-1zM306 791h1v1h-1zM314 782h1v1h-1zM307 789h1v1h-1zM312 782h1v1h-1zM317 783h1v1h-1zM318 778h1v1h-1zM266 798h1v1h-1zM256 801h1v1h-1zM315 777h1v1h-1zM314 779h1v1h-1zM302 779h1v1h-1zM309 779h1v1h-1zM259 801h1v1h-1zM285 807h1v1h-1zM318 777h1v1h-1zM302 785h1v1h-1zM312 784h1v1h-1zM312 783h1v1h-1zM301 791h1v1h-1zM304 794h1v1h-1zM293 784h1v1h-1zM298 791h1v1h-1zM289 785h1v1h-1zM258 802h1v1h-1zM303 779h1v1h-1zM295 801h1v1h-1zM299 785h1v1h-1zM300 796h1v1h-1zM311 781h1v1h-1zM296 798h1v1h-1zM308 789h1v1h-1zM288 803h1v1h-1zM277 791h1v1h-1zM319 779h1v1h-1zM262 799h1v1h-1zM294 804h1v1h-1zM283 809h1v1h-1zM307 791h1v1h-1zM291 805h1v1h-1zM288 807h1v1h-1zM288 786h1v1h-1zM248 809h1v1h-1zM296 778h1v1h-1zM311 775h1v1h-1zM310 790h1v1h-1zM308 779h1v1h-1zM278 791h1v1h-1zM307 786h1v1h-1zM305 778h1v1h-1zM325 777h1v1h-1zM297 780h1v1h-1zM299 796h1v1h-1zM277 816h1v1h-1zM289 804h1v1h-1zM292 783h1v1h-1zM313 787h1v1h-1zM274 792h1v1h-1zM302 788h1v1h-1zM289 786h1v1h-1zM270 795h1v1h-1zM305 794h1v1h-1zM258 798h1v1h-1zM271 823h1v1h-1zM308 788h1v1h-1zM331 774h1v1h-1zM303 793h1v1h-1zM300 780h1v1h-1zM287 807h1v1h-1zM297 787h1v1h-1zM319 776h1v1h-1zM286 806h1v1h-1zM306 780h1v1h-1zM293 801h1v1h-1zM303 782h1v1h-1zM297 781h1v1h-1zM272 795h1v1h-1zM294 783h1v1h-1zM300 780h1v1h-1zM262 800h1v1h-1zM329 774h1v1h-1zM300 781h1v1h-1zM295 778h1v1h-1zM289 808h1v1h-1zM309 789h1v1h-1zM286 808h1v1h-1zM279 812h1v1h-1zM305 781h1v1h-1zM251 804h1v1h-1zM227 818h1v1h-1zM314 787h1v1h-1zM305 795h1v1h-1zM270 794h1v1h-1zM309 773h1v1h-1zM306 782h1v1h-1zM311 784h1v1h-1zM273 816h1v1h-1zM318 778h1v1h-1zM317 775h1v1h-1zM278 791h1v1h-1zM292 785h1v1h-1zM328 777h1v1h-1zM304 793h1v1h-1zM331 773h1v1h-1zM286 786h1v1h-1zM309 773h1v1h-1zM287 808h1v1h-1zM308 783h1v1h-1zM315 780h1v1h-1zM234 812h1v1h-1zM303 788h1v1h-1zM238 812h1v1h-1zM317 776h1v1h-1zM308 787h1v1h-1zM273 819h1v1h-1zM264 797h1v1h-1zM299 798h1v1h-1zM306 790h1v1h-1zM305 789h1v1h-1zM282 812h1v1h-1zM306 788h1v1h-1zM300 792h1v1h-1zM301 796h1v1h-1zM263 799h1v1h-1zM273 795h1v1h-1zM294 780h1v1h-1zM307 790h1v1h-1zM326 774h1v1h-1zM267 822h1v1h-1zM298 779h1v1h-1zM225 817h1v1h-1zM285 788h1v1h-1zM276 815h1v1h-1zM292 800h1v1h-1zM305 778h1v1h-1zM325 772h1v1h-1zM271 792h1v1h-1zM310 785h1v1h-1zM283 788h1v1h-1zM290 804h1v1h-1zM265 798h1v1h-1zM295 802h1v1h-1zM299 794h1v1h-1zM297 781h1v1h-1zM306 783h1v1h-1zM288 784h1v1h-1zM258 800h1v1h-1zM316 782h1v1h-1zM301 788h1v1h-1zM252 804h1v1h-1zM251 804h1v1h-1zM298 795h1v1h-1zM299 796h1v1h-1zM298 782h1v1h-1zM298 780h1v1h-1zM278 791h1v1h-1zM298 787h1v1h-1zM292 785h1v1h-1zM300 790h1v1h-1zM306 779h1v1h-1zM327 768h1v1h-1zM271 795h1v1h-1zM308 786h1v1h-1zM302 786h1v1h-1zM297 785h1v1h-1zM311 786h1v1h-1zM313 780h1v1h-1zM314 787h1v1h-1zM280 812h1v1h-1zM257 802h1v1h-1zM280 789h1v1h-1zM304 783h1v1h-1zM282 811h1v1h-1zM311 779h1v1h-1zM312 781h1v1h-1zM315 787h1v1h-1zM278 790h1v1h-1zM295 783h1v1h-1zM244 808h1v1h-1zM290 784h1v1h-1zM317 776h1v1h-1zM278 813h1v1h-1zM260 799h1v1h-1zM308 782h1v1h-1zM288 809h1v1h-1zM314 776h1v1h-1zM275 817h1v1h-1zM311 779h1v1h-1zM240 811h1v1h-1zM294 786h1v1h-1zM291 803h1v1h-1zM331 776h1v1h-1zM258 800h1v1h-1zM297 781h1v1h-1zM311 785h1v1h-1zM292 804h1v1h-1zM296 785h1v1h-1zM299 794h1v1h-1zM293 783h1v1h-1zM275 791h1v1h-1zM297 802h1v1h-1zM295 786h1v1h-1zM296 779h1v1h-1zM301 782h1v1h-1zM315 783h1v1h-1zM297 802h1v1h-1zM331 773h1v1h-1zM308 778h1v1h-1zM323 772h1v1h-1zM287 806h1v1h-1zM256 800h1v1h-1zM299 798h1v1h-1zM298 781h1v1h-1zM325 775h1v1h-1zM299 790h1v1h-1zM316 780h1v1h-1zM313 778h1v1h-1zM275 793h1v1h-1zM242 810h1v1h-1zM314 783h1v1h-1zM294 804h1v1h-1zM291 786h1v1h-1zM303 790h1v1h-1zM302 782h1v1h-1zM313 784h1v1h-1zM314 775h1v1h-1zM298 799h1v1h-1zM271 792h1v1h-1zM303 783h1v1h-1zM270 794h1v1h-1zM311 779h1v1h-1zM284 809h1v1h-1zM317 775h1v1h-1zM304 791h1v1h-1zM314 782h1v1h-1zM327 774h1v1h-1zM310 782h1v1h-1zM308 780h1v1h-1zM307 794h1v1h-1zM280 810h1v1h-1zM327 773h1v1h-1zM260 802h1v1h-1zM301 791h1v1h-1zM296 784h1v1h-1zM225 818h1v1h-1zM308 790h1v1h-1zM328 772h1v1h-1zM295 780h1v1h-1zM312 782h1v1h-1zM303 788h1v1h-1zM234 813h1v1h-1zM320 776h1v1h-1zM296 783h1v1h-1zM313 775h1v1h-1zM302 779h1v1h-1zM306 788h1v1h-1zM287 809h1v1h-1zM290 805h1v1h-1zM272 792h1v1h-1zM306 792h1v1h-1zM266 797h1v1h-1zM303 778h1v1h-1zM253 804h1v1h-1zM323 773h1v1h-1zM301 780h1v1h-1zM288 805h1v1h-1zM300 787h1v1h-1zM313 784h1v1h-1zM290 785h1v1h-1zM297 785h1v1h-1zM298 786h1v1h-1zM285 785h1v1h-1zM289 785h1v1h-1zM238 812h1v1h-1zM276 793h1v1h-1zM319 774h1v1h-1zM297 784h1v1h-1zM317 782h1v1h-1zM299 787h1v1h-1zM284 787h1v1h-1zM332 774h1v1h-1zM298 789h1v1h-1zM275 817h1v1h-1zM301 781h1v1h-1zM285 806h1v1h-1zM217 822h1v1h-1zM298 796h1v1h-1zM311 787h1v1h-1zM312 779h1v1h-1zM305 779h1v1h-1zM305 793h1v1h-1zM288 806h1v1h-1zM231 815h1v1h-1zM279 810h1v1h-1zM321 776h1v1h-1zM262 799h1v1h-1zM316 782h1v1h-1zM282 812h1v1h-1zM300 785h1v1h-1zM278 811h1v1h-1zM316 781h1v1h-1zM227 818h1v1h-1zM265 823h1v1h-1zM311 781h1v1h-1zM324 774h1v1h-1zM263 798h1v1h-1zM291 784h1v1h-1zM329 776h1v1h-1zM294 781h1v1h-1zM303 783h1v1h-1zM303 792h1v1h-1zM237 812h1v1h-1zM279 811h1v1h-1zM303 778h1v1h-1zM258 801h1v1h-1zM298 788h1v1h-1zM304 778h1v1h-1zM303 790h1v1h-1zM280 813h1v1h-1zM281 814h1v1h-1zM260 801h1v1h-1zM309 783h1v1h-1zM309 786h1v1h-1zM324 773h1v1h-1zM262 798h1v1h-1zM298 786h1v1h-1zM242 808h1v1h-1zM297 785h1v1h-1zM325 773h1v1h-1zM317 775h1v1h-1zM316 781h1v1h-1zM280 812h1v1h-1zM318 776h1v1h-1zM235 813h1v1h-1zM267 821h1v1h-1zM306 788h1v1h-1zM307 784h1v1h-1zM278 789h1v1h-1zM314 779h1v1h-1zM313 779h1v1h-1zM308 778h1v1h-1zM308 786h1v1h-1zM321 775h1v1h-1zM257 799h1v1h-1zM298 781h1v1h-1zM303 793h1v1h-1zM305 790h1v1h-1zM315 787h1v1h-1zM300 794h1v1h-1zM307 782h1v1h-1zM296 800h1v1h-1zM305 782h1v1h-1zM300 798h1v1h-1zM306 793h1v1h-1zM310 787h1v1h-1zM321 776h1v1h-1zM311 787h1v1h-1zM299 791h1v1h-1zM307 783h1v1h-1zM295 782h1v1h-1zM268 820h1v1h-1zM280 815h1v1h-1zM307 777h1v1h-1zM313 776h1v1h-1zM274 794h1v1h-1zM330 776h1v1h-1zM324 775h1v1h-1zM316 780h1v1h-1zM314 783h1v1h-1zM305 794h1v1h-1zM310 776h1v1h-1zM296 780h1v1h-1zM288 784h1v1h-1zM320 777h1v1h-1zM305 795h1v1h-1zM306 793h1v1h-1zM292 803h1v1h-1zM288 809h1v1h-1zM263 828h1v1h-1zM270 793h1v1h-1zM269 824h1v1h-1zM282 814h1v1h-1zM270 826h1v1h-1zM267 828h1v1h-1zM292 805h1v1h-1zM261 801h1v1h-1zM259 800h1v1h-1zM270 822h1v1h-1zM267 836h1v1h-1zM264 827h1v1h-1zM288 810h1v1h-1zM272 825h1v1h-1zM266 835h1v1h-1zM288 803h1v1h-1zM268 831h1v1h-1zM282 813h1v1h-1zM293 802h1v1h-1zM285 810h1v1h-1zM272 820h1v1h-1zM269 825h1v1h-1zM294 801h1v1h-1zM266 831h1v1h-1zM273 825h1v1h-1zM294 783h1v1h-1zM268 832h1v1h-1zM278 813h1v1h-1zM267 833h1v1h-1zM281 811h1v1h-1zM269 832h1v1h-1zM271 820h1v1h-1zM271 824h1v1h-1zM261 834h1v1h-1zM291 801h1v1h-1zM263 837h1v1h-1zM292 801h1v1h-1zM288 808h1v1h-1zM264 826h1v1h-1zM288 810h1v1h-1zM268 822h1v1h-1zM266 831h1v1h-1zM270 824h1v1h-1zM268 831h1v1h-1zM286 808h1v1h-1zM267 836h1v1h-1zM266 836h1v1h-1z" fill="#b00000" stroke="none" stroke-width="1" fill-opacity="0.72"/>
<path d="M224 862h1v1h-1zM195 866h1v1h-1zM239 857h1v1h-1zM266 840h1v1h-1zM268 841h1v1h-1zM267 848h1v1h-1zM233 861h1v1h-1zM241 856h1v1h-1zM255 851h1v1h-1zM170 831h1v1h-1zM261 845h1v1h-1zM209 864h1v1h-1zM262 845h1v1h-1zM216 864h1v1h-1zM222 862h1v1h-1zM251 853h1v1h-1zM233 861h1v1h-1zM198 825h1v1h-1zM190 867h1v1h-1zM180 828h1v1h-1zM269 844h1v1h-1zM238 859h1v1h-1zM190 827h1v1h-1zM238 858h1v1h-1zM227 861h1v1h-1zM245 855h1v1h-1zM166 833h1v1h-1zM265 845h1v1h-1zM174 831h1v1h-1zM169 832h1v1h-1zM249 852h1v1h-1zM271 843h1v1h-1zM263 841h1v1h-1zM191 826h1v1h-1zM261 847h1v1h-1zM211 865h1v1h-1zM266 844h1v1h-1zM229 861h1v1h-1zM254 852h1v1h-1zM169 832h1v1h-1zM212 865h1v1h-1zM246 856h1v1h-1zM228 861h1v1h-1zM180 869h1v1h-1zM223 863h1v1h-1zM177 830h1v1h-1zM250 852h1v1h-1zM260 845h1v1h-1zM171 831h1v1h-1zM187 826h1v1h-1zM267 843h1v1h-1zM279 824h1v1h-1zM272 835h1v1h-1zM168 831h1v1h-1zM212 821h1v1h-1zM172 868h1v1h-1zM172 870h1v1h-1zM209 821h1v1h-1zM274 822h1v1h-1zM276 830h1v1h-1zM289 817h1v1h-1zM174 869h1v1h-1zM273 829h1v1h-1zM274 821h1v1h-1zM283 828h1v1h-1zM167 868h1v1h-1zM257 850h1v1h-1zM194 827h1v1h-1zM274 820h1v1h-1zM281 820h1v1h-1zM265 842h1v1h-1zM169 869h1v1h-1zM274 830h1v1h-1zM280 826h1v1h-1zM224 862h1v1h-1zM204 823h1v1h-1zM279 818h1v1h-1zM188 824h1v1h-1zM271 828h1v1h-1zM178 830h1v1h-1zM198 826h1v1h-1zM166 867h1v1h-1zM269 837h1v1h-1zM219 820h1v1h-1zM244 856h1v1h-1zM261 847h1v1h-1zM215 864h1v1h-1zM276 826h1v1h-1zM210 822h1v1h-1zM189 824h1v1h-1zM257 848h1v1h-1zM278 821h1v1h-1zM277 828h1v1h-1zM204 824h1v1h-1zM276 827h1v1h-1zM279 827h1v1h-1zM274 830h1v1h-1zM187 870h1v1h-1zM272 833h1v1h-1zM271 839h1v1h-1zM269 835h1v1h-1zM266 846h1v1h-1zM187 825h1v1h-1zM181 828h1v1h-1zM283 830h1v1h-1zM233 860h1v1h-1zM266 840h1v1h-1zM207 822h1v1h-1zM266 841h1v1h-1zM231 861h1v1h-1zM248 853h1v1h-1zM186 869h1v1h-1zM187 868h1v1h-1zM276 829h1v1h-1zM214 864h1v1h-1zM189 826h1v1h-1zM190 867h1v1h-1zM199 825h1v1h-1zM273 831h1v1h-1zM184 829h1v1h-1zM202 865h1v1h-1zM255 851h1v1h-1zM215 821h1v1h-1zM190 826h1v1h-1zM189 827h1v1h-1zM273 833h1v1h-1zM276 823h1v1h-1zM206 866h1v1h-1zM228 861h1v1h-1zM236 858h1v1h-1zM181 868h1v1h-1zM189 826h1v1h-1zM274 827h1v1h-1zM270 841h1v1h-1zM193 867h1v1h-1zM273 828h1v1h-1zM196 823h1v1h-1zM168 867h1v1h-1zM191 866h1v1h-1zM176 869h1v1h-1zM177 828h1v1h-1zM186 828h1v1h-1zM272 827h1v1h-1zM189 827h1v1h-1zM197 824h1v1h-1zM287 821h1v1h-1zM190 869h1v1h-1zM201 867h1v1h-1zM278 829h1v1h-1zM187 868h1v1h-1zM269 834h1v1h-1zM270 835h1v1h-1zM219 820h1v1h-1zM275 829h1v1h-1zM199 866h1v1h-1zM184 869h1v1h-1zM216 863h1v1h-1zM267 839h1v1h-1zM287 821h1v1h-1zM277 828h1v1h-1zM195 823h1v1h-1zM274 832h1v1h-1zM273 831h1v1h-1zM206 866h1v1h-1zM171 869h1v1h-1zM280 823h1v1h-1zM172 869h1v1h-1zM275 825h1v1h-1zM271 837h1v1h-1zM181 828h1v1h-1zM271 840h1v1h-1zM284 821h1v1h-1zM270 844h1v1h-1zM230 860h1v1h-1zM183 868h1v1h-1zM263 841h1v1h-1zM222 862h1v1h-1zM261 842h1v1h-1zM275 820h1v1h-1zM271 843h1v1h-1zM205 865h1v1h-1zM195 825h1v1h-1zM275 827h1v1h-1zM198 823h1v1h-1zM272 833h1v1h-1zM259 848h1v1h-1zM278 827h1v1h-1zM274 819h1v1h-1zM178 868h1v1h-1zM193 826h1v1h-1zM276 834h1v1h-1zM168 867h1v1h-1zM281 816h1v1h-1zM275 831h1v1h-1zM289 816h1v1h-1zM269 836h1v1h-1zM198 867h1v1h-1zM179 828h1v1h-1zM184 868h1v1h-1zM279 816h1v1h-1zM341 773h1v1h-1zM322 769h1v1h-1zM255 798h1v1h-1zM362 750h1v1h-1zM355 758h1v1h-1zM340 753h1v1h-1zM311 800h1v1h-1zM340 757h1v1h-1zM332 762h1v1h-1zM249 804h1v1h-1zM274 819h1v1h-1zM341 768h1v1h-1zM340 758h1v1h-1zM340 770h1v1h-1zM328 781h1v1h-1zM357 761h1v1h-1zM345 759h1v1h-1zM327 784h1v1h-1zM343 757h1v1h-1zM330 771h1v1h-1zM288 781h1v1h-1zM282 784h1v1h-1zM316 787h1v1h-1zM311 770h1v1h-1zM350 768h1v1h-1zM315 769h1v1h-1zM273 789h1v1h-1zM360 757h1v1h-1zM319 779h1v1h-1zM322 768h1v1h-1zM295 805h1v1h-1zM317 770h1v1h-1zM317 768h1v1h-1zM227 815h1v1h-1zM241 807h1v1h-1zM333 773h1v1h-1zM307 776h1v1h-1zM335 761h1v1h-1zM342 754h1v1h-1zM315 790h1v1h-1zM313 767h1v1h-1zM340 760h1v1h-1zM291 808h1v1h-1zM339 754h1v1h-1zM301 797h1v1h-1zM345 765h1v1h-1zM346 754h1v1h-1zM340 766h1v1h-1zM300 800h1v1h-1zM348 754h1v1h-1zM300 799h1v1h-1zM322 775h1v1h-1zM344 766h1v1h-1zM287 811h1v1h-1zM345 762h1v1h-1zM328 768h1v1h-1zM304 796h1v1h-1zM331 763h1v1h-1zM339 770h1v1h-1zM300 776h1v1h-1zM295 806h1v1h-1zM349 758h1v1h-1zM329 767h1v1h-1zM268 793h1v1h-1zM306 774h1v1h-1zM343 759h1v1h-1zM359 762h1v1h-1zM327 786h1v1h-1zM358 754h1v1h-1zM254 800h1v1h-1zM329 766h1v1h-1zM365 750h1v1h-1zM333 774h1v1h-1zM331 764h1v1h-1zM337 770h1v1h-1zM330 768h1v1h-1zM326 786h1v1h-1zM291 781h1v1h-1zM325 782h1v1h-1zM332 777h1v1h-1zM301 777h1v1h-1zM307 775h1v1h-1zM333 769h1v1h-1zM352 766h1v1h-1zM350 756h1v1h-1zM342 769h1v1h-1zM325 782h1v1h-1zM266 793h1v1h-1zM305 798h1v1h-1zM315 768h1v1h-1zM323 782h1v1h-1zM318 772h1v1h-1zM346 755h1v1h-1zM311 791h1v1h-1zM265 795h1v1h-1zM343 765h1v1h-1zM322 769h1v1h-1zM314 790h1v1h-1zM309 795h1v1h-1zM322 778h1v1h-1zM321 769h1v1h-1zM322 770h1v1h-1zM336 778h1v1h-1zM305 797h1v1h-1zM333 775h1v1h-1zM353 755h1v1h-1zM344 760h1v1h-1zM241 806h1v1h-1zM322 765h1v1h-1zM353 762h1v1h-1zM309 800h1v1h-1zM338 760h1v1h-1zM343 764h1v1h-1zM309 772h1v1h-1zM338 767h1v1h-1zM335 771h1v1h-1zM336 762h1v1h-1zM340 754h1v1h-1zM332 760h1v1h-1zM328 767h1v1h-1zM324 785h1v1h-1zM259 798h1v1h-1zM340 760h1v1h-1zM291 778h1v1h-1zM357 759h1v1h-1zM300 800h1v1h-1zM333 770h1v1h-1zM325 766h1v1h-1zM309 793h1v1h-1zM363 749h1v1h-1zM280 787h1v1h-1zM321 771h1v1h-1zM310 794h1v1h-1zM235 811h1v1h-1zM324 767h1v1h-1zM330 768h1v1h-1zM302 774h1v1h-1zM334 768h1v1h-1zM307 796h1v1h-1zM321 785h1v1h-1zM256 800h1v1h-1zM337 771h1v1h-1zM342 777h1v1h-1zM340 753h1v1h-1zM342 775h1v1h-1zM301 774h1v1h-1zM238 808h1v1h-1zM344 766h1v1h-1zM341 772h1v1h-1zM331 781h1v1h-1zM307 797h1v1h-1zM307 771h1v1h-1zM303 800h1v1h-1zM298 774h1v1h-1zM342 776h1v1h-1zM334 770h1v1h-1zM336 761h1v1h-1zM310 769h1v1h-1zM278 818h1v1h-1zM335 758h1v1h-1zM257 798h1v1h-1zM315 789h1v1h-1zM338 768h1v1h-1zM338 767h1v1h-1zM332 759h1v1h-1zM319 784h1v1h-1zM320 771h1v1h-1zM228 814h1v1h-1zM354 756h1v1h-1zM283 785h1v1h-1zM329 764h1v1h-1zM321 778h1v1h-1zM327 764h1v1h-1zM351 761h1v1h-1zM285 815h1v1h-1zM350 761h1v1h-1zM340 763h1v1h-1zM321 763h1v1h-1zM293 779h1v1h-1zM360 756h1v1h-1zM354 758h1v1h-1zM363 752h1v1h-1zM347 760h1v1h-1zM340 757h1v1h-1zM341 771h1v1h-1zM334 774h1v1h-1zM338 761h1v1h-1zM332 777h1v1h-1zM340 776h1v1h-1zM268 792h1v1h-1zM355 758h1v1h-1zM359 759h1v1h-1zM316 772h1v1h-1zM302 775h1v1h-1zM311 790h1v1h-1zM325 767h1v1h-1zM327 771h1v1h-1zM316 772h1v1h-1zM290 781h1v1h-1zM344 762h1v1h-1zM288 811h1v1h-1zM319 784h1v1h-1zM329 771h1v1h-1zM303 775h1v1h-1zM314 792h1v1h-1zM332 778h1v1h-1zM295 777h1v1h-1zM284 781h1v1h-1zM314 770h1v1h-1zM329 762h1v1h-1zM337 772h1v1h-1zM267 791h1v1h-1zM289 812h1v1h-1zM324 765h1v1h-1zM321 783h1v1h-1zM320 774h1v1h-1zM322 780h1v1h-1zM349 763h1v1h-1zM336 760h1v1h-1zM233 811h1v1h-1zM236 810h1v1h-1zM285 782h1v1h-1zM353 756h1v1h-1zM344 767h1v1h-1zM284 784h1v1h-1zM322 763h1v1h-1zM328 784h1v1h-1zM290 811h1v1h-1zM333 774h1v1h-1zM343 763h1v1h-1zM351 767h1v1h-1zM317 787h1v1h-1zM333 759h1v1h-1zM309 793h1v1h-1zM354 759h1v1h-1zM345 768h1v1h-1zM280 784h1v1h-1zM342 759h1v1h-1zM323 765h1v1h-1zM351 757h1v1h-1zM298 802h1v1h-1zM342 753h1v1h-1zM318 781h1v1h-1zM361 751h1v1h-1zM301 772h1v1h-1zM325 779h1v1h-1zM280 820h1v1h-1zM306 774h1v1h-1zM326 767h1v1h-1zM360 763h1v1h-1zM333 762h1v1h-1zM331 760h1v1h-1zM328 765h1v1h-1zM243 808h1v1h-1zM352 762h1v1h-1zM330 771h1v1h-1zM364 750h1v1h-1zM313 769h1v1h-1zM307 797h1v1h-1zM349 759h1v1h-1zM341 764h1v1h-1zM315 794h1v1h-1zM251 801h1v1h-1zM328 761h1v1h-1zM253 802h1v1h-1zM348 762h1v1h-1zM351 766h1v1h-1zM337 761h1v1h-1zM328 781h1v1h-1zM286 784h1v1h-1zM271 789h1v1h-1zM335 775h1v1h-1zM256 800h1v1h-1zM258 798h1v1h-1zM302 800h1v1h-1zM283 785h1v1h-1zM329 771h1v1h-1zM289 782h1v1h-1zM284 783h1v1h-1zM322 781h1v1h-1zM321 782h1v1h-1zM349 759h1v1h-1zM238 810h1v1h-1zM297 803h1v1h-1zM321 770h1v1h-1zM342 774h1v1h-1zM358 755h1v1h-1zM299 774h1v1h-1zM304 801h1v1h-1zM346 760h1v1h-1zM326 765h1v1h-1zM350 760h1v1h-1zM328 771h1v1h-1zM324 778h1v1h-1zM274 825h1v1h-1zM219 818h1v1h-1zM354 755h1v1h-1zM345 755h1v1h-1zM361 749h1v1h-1zM303 799h1v1h-1zM352 758h1v1h-1zM348 760h1v1h-1zM354 757h1v1h-1zM316 787h1v1h-1zM329 770h1v1h-1zM311 773h1v1h-1zM334 776h1v1h-1zM337 766h1v1h-1zM327 766h1v1h-1zM308 773h1v1h-1zM330 782h1v1h-1zM331 760h1v1h-1zM325 770h1v1h-1zM329 780h1v1h-1zM315 794h1v1h-1zM292 807h1v1h-1zM329 779h1v1h-1zM363 753h1v1h-1zM344 755h1v1h-1zM311 768h1v1h-1zM291 780h1v1h-1zM311 799h1v1h-1zM351 758h1v1h-1zM294 778h1v1h-1zM301 777h1v1h-1zM248 803h1v1h-1zM347 767h1v1h-1zM322 769h1v1h-1zM288 781h1v1h-1zM313 770h1v1h-1zM302 775h1v1h-1zM310 794h1v1h-1zM281 787h1v1h-1zM313 788h1v1h-1zM329 783h1v1h-1zM348 762h1v1h-1zM279 785h1v1h-1zM301 777h1v1h-1zM353 759h1v1h-1zM283 814h1v1h-1zM352 765h1v1h-1zM337 760h1v1h-1zM320 786h1v1h-1zM328 764h1v1h-1zM352 767h1v1h-1zM343 759h1v1h-1zM249 803h1v1h-1zM335 778h1v1h-1zM338 760h1v1h-1zM280 818h1v1h-1zM360 756h1v1h-1zM336 772h1v1h-1zM286 815h1v1h-1zM311 772h1v1h-1zM290 808h1v1h-1zM340 766h1v1h-1zM320 771h1v1h-1zM335 761h1v1h-1zM236 809h1v1h-1zM302 800h1v1h-1zM250 803h1v1h-1zM341 769h1v1h-1zM330 778h1v1h-1zM243 806h1v1h-1zM272 791h1v1h-1zM337 770h1v1h-1zM352 758h1v1h-1zM328 767h1v1h-1zM356 753h1v1h-1zM322 784h1v1h-1zM282 816h1v1h-1zM338 759h1v1h-1zM339 761h1v1h-1zM323 782h1v1h-1zM350 768h1v1h-1zM331 763h1v1h-1zM319 782h1v1h-1zM307 797h1v1h-1zM232 814h1v1h-1zM340 770h1v1h-1zM346 755h1v1h-1zM332 771h1v1h-1zM318 772h1v1h-1zM340 759h1v1h-1zM339 768h1v1h-1zM284 781h1v1h-1zM326 779h1v1h-1zM343 758h1v1h-1zM298 778h1v1h-1zM339 772h1v1h-1zM286 812h1v1h-1zM316 789h1v1h-1zM303 773h1v1h-1zM331 758h1v1h-1zM335 768h1v1h-1zM314 791h1v1h-1zM315 792h1v1h-1zM330 764h1v1h-1zM342 768h1v1h-1zM306 770h1v1h-1zM296 776h1v1h-1zM275 790h1v1h-1zM353 759h1v1h-1zM321 771h1v1h-1zM327 781h1v1h-1zM300 777h1v1h-1zM343 769h1v1h-1zM308 798h1v1h-1zM271 791h1v1h-1zM240 808h1v1h-1zM339 757h1v1h-1zM324 781h1v1h-1zM314 771h1v1h-1zM279 819h1v1h-1zM325 768h1v1h-1zM330 771h1v1h-1zM325 763h1v1h-1zM331 764h1v1h-1zM307 772h1v1h-1zM335 775h1v1h-1zM248 801h1v1h-1zM310 770h1v1h-1zM338 768h1v1h-1zM334 776h1v1h-1zM351 762h1v1h-1zM294 778h1v1h-1zM330 771h1v1h-1zM312 769h1v1h-1zM311 794h1v1h-1zM319 768h1v1h-1zM360 763h1v1h-1zM332 777h1v1h-1zM313 770h1v1h-1zM325 778h1v1h-1zM336 767h1v1h-1zM292 808h1v1h-1zM353 756h1v1h-1zM324 779h1v1h-1zM283 814h1v1h-1zM283 818h1v1h-1zM320 765h1v1h-1zM250 803h1v1h-1zM327 782h1v1h-1zM333 774h1v1h-1zM256 798h1v1h-1zM319 772h1v1h-1zM360 762h1v1h-1zM311 771h1v1h-1zM331 772h1v1h-1zM363 752h1v1h-1zM321 774h1v1h-1zM357 754h1v1h-1zM270 789h1v1h-1zM311 791h1v1h-1zM346 756h1v1h-1zM322 781h1v1h-1zM347 753h1v1h-1zM323 784h1v1h-1zM298 775h1v1h-1zM315 770h1v1h-1zM359 758h1v1h-1zM265 797h1v1h-1zM320 769h1v1h-1zM341 766h1v1h-1zM364 752h1v1h-1zM312 775h1v1h-1zM321 779h1v1h-1zM286 812h1v1h-1zM298 778h1v1h-1zM334 768h1v1h-1zM356 755h1v1h-1zM328 768h1v1h-1zM326 765h1v1h-1zM332 769h1v1h-1zM332 780h1v1h-1zM317 787h1v1h-1zM325 780h1v1h-1zM270 790h1v1h-1zM316 774h1v1h-1zM342 766h1v1h-1zM326 767h1v1h-1zM261 796h1v1h-1zM342 752h1v1h-1zM341 758h1v1h-1zM321 771h1v1h-1zM323 766h1v1h-1zM273 792h1v1h-1zM316 788h1v1h-1zM303 777h1v1h-1zM230 815h1v1h-1zM349 761h1v1h-1zM316 795h1v1h-1zM326 785h1v1h-1zM304 774h1v1h-1zM284 783h1v1h-1zM351 766h1v1h-1zM337 768h1v1h-1zM321 764h1v1h-1zM356 761h1v1h-1zM287 817h1v1h-1zM275 823h1v1h-1zM282 783h1v1h-1zM341 752h1v1h-1zM329 782h1v1h-1zM325 770h1v1h-1zM337 759h1v1h-1zM223 818h1v1h-1zM332 767h1v1h-1zM356 759h1v1h-1zM314 774h1v1h-1zM357 761h1v1h-1zM314 789h1v1h-1zM261 795h1v1h-1zM350 765h1v1h-1zM292 781h1v1h-1zM310 772h1v1h-1zM335 812h1v1h-1zM278 827h1v1h-1zM296 828h1v1h-1zM333 826h1v1h-1zM355 811h1v1h-1zM295 828h1v1h-1zM350 805h1v1h-1zM273 839h1v1h-1zM306 799h1v1h-1zM329 833h1v1h-1zM284 821h1v1h-1zM376 798h1v1h-1zM331 838h1v1h-1zM339 810h1v1h-1zM266 841h1v1h-1zM267 838h1v1h-1zM281 826h1v1h-1zM336 819h1v1h-1zM330 839h1v1h-1zM378 807h1v1h-1zM283 825h1v1h-1zM276 827h1v1h-1zM268 836h1v1h-1zM289 817h1v1h-1zM330 839h1v1h-1zM314 827h1v1h-1zM367 811h1v1h-1zM288 821h1v1h-1zM308 795h1v1h-1zM282 816h1v1h-1zM299 824h1v1h-1zM302 798h1v1h-1zM323 818h1v1h-1zM269 833h1v1h-1zM318 828h1v1h-1zM346 816h1v1h-1zM377 807h1v1h-1zM322 818h1v1h-1zM274 822h1v1h-1zM285 815h1v1h-1zM337 809h1v1h-1zM264 847h1v1h-1zM341 816h1v1h-1zM333 828h1v1h-1zM379 819h1v1h-1zM297 824h1v1h-1zM299 801h1v1h-1zM379 797h1v1h-1zM383 810h1v1h-1zM379 797h1v1h-1zM366 813h1v1h-1zM356 810h1v1h-1zM322 819h1v1h-1zM334 829h1v1h-1zM290 817h1v1h-1zM301 801h1v1h-1zM318 820h1v1h-1zM294 841h1v1h-1zM316 827h1v1h-1zM298 819h1v1h-1zM340 810h1v1h-1zM314 828h1v1h-1zM333 826h1v1h-1zM290 811h1v1h-1zM337 824h1v1h-1zM261 845h1v1h-1zM315 830h1v1h-1zM282 820h1v1h-1zM305 811h1v1h-1zM280 830h1v1h-1zM321 821h1v1h-1zM310 837h1v1h-1zM354 810h1v1h-1zM277 822h1v1h-1zM264 843h1v1h-1zM281 827h1v1h-1zM293 841h1v1h-1zM349 805h1v1h-1zM355 810h1v1h-1zM333 830h1v1h-1zM376 798h1v1h-1zM297 824h1v1h-1zM312 830h1v1h-1zM296 826h1v1h-1zM298 816h1v1h-1zM375 798h1v1h-1zM374 822h1v1h-1zM286 832h1v1h-1zM378 805h1v1h-1zM349 805h1v1h-1zM268 843h1v1h-1zM334 828h1v1h-1zM337 830h1v1h-1zM271 840h1v1h-1zM376 805h1v1h-1zM366 811h1v1h-1zM267 846h1v1h-1zM280 818h1v1h-1zM378 805h1v1h-1zM287 782h1v1h-1zM294 840h1v1h-1zM311 831h1v1h-1zM346 818h1v1h-1zM267 838h1v1h-1zM379 820h1v1h-1zM321 820h1v1h-1zM297 818h1v1h-1zM377 795h1v1h-1zM319 828h1v1h-1zM287 816h1v1h-1zM378 799h1v1h-1zM280 829h1v1h-1zM358 819h1v1h-1zM266 840h1v1h-1zM329 834h1v1h-1zM320 828h1v1h-1zM280 826h1v1h-1zM284 827h1v1h-1zM332 829h1v1h-1zM267 845h1v1h-1zM351 805h1v1h-1zM338 825h1v1h-1zM318 821h1v1h-1zM334 824h1v1h-1zM279 839h1v1h-1zM310 801h1v1h-1zM282 828h1v1h-1zM268 841h1v1h-1zM377 806h1v1h-1zM319 829h1v1h-1zM320 818h1v1h-1zM274 824h1v1h-1zM287 819h1v1h-1zM376 823h1v1h-1zM341 817h1v1h-1zM262 843h1v1h-1zM375 820h1v1h-1zM333 831h1v1h-1zM287 812h1v1h-1zM299 818h1v1h-1zM272 845h1v1h-1zM373 823h1v1h-1zM318 822h1v1h-1zM312 830h1v1h-1zM293 839h1v1h-1zM267 846h1v1h-1zM319 825h1v1h-1zM297 828h1v1h-1zM348 818h1v1h-1zM309 800h1v1h-1zM356 810h1v1h-1zM375 823h1v1h-1zM337 831h1v1h-1zM273 831h1v1h-1zM359 762h1v1h-1zM338 811h1v1h-1zM283 829h1v1h-1zM347 817h1v1h-1zM320 826h1v1h-1zM310 835h1v1h-1zM289 819h1v1h-1zM303 819h1v1h-1zM305 811h1v1h-1zM309 800h1v1h-1zM338 818h1v1h-1zM275 835h1v1h-1zM326 778h1v1h-1zM316 827h1v1h-1zM282 823h1v1h-1zM337 830h1v1h-1zM332 830h1v1h-1zM299 816h1v1h-1zM273 841h1v1h-1zM265 845h1v1h-1zM281 830h1v1h-1zM315 794h1v1h-1zM265 848h1v1h-1zM315 829h1v1h-1zM270 840h1v1h-1zM297 818h1v1h-1zM268 840h1v1h-1zM338 825h1v1h-1zM278 829h1v1h-1zM332 839h1v1h-1zM321 825h1v1h-1zM355 808h1v1h-1zM287 814h1v1h-1zM330 834h1v1h-1zM376 796h1v1h-1zM295 840h1v1h-1zM310 831h1v1h-1zM329 838h1v1h-1zM323 818h1v1h-1zM341 810h1v1h-1zM334 767h1v1h-1zM376 806h1v1h-1zM289 819h1v1h-1zM337 809h1v1h-1zM270 840h1v1h-1zM320 826h1v1h-1zM272 832h1v1h-1zM296 825h1v1h-1zM330 835h1v1h-1zM298 824h1v1h-1zM293 839h1v1h-1zM298 825h1v1h-1zM373 821h1v1h-1zM312 792h1v1h-1zM297 825h1v1h-1zM346 818h1v1h-1zM319 829h1v1h-1zM283 821h1v1h-1zM314 829h1v1h-1zM272 840h1v1h-1zM340 809h1v1h-1zM316 829h1v1h-1zM323 784h1v1h-1zM275 821h1v1h-1zM280 828h1v1h-1zM312 830h1v1h-1zM376 822h1v1h-1zM348 805h1v1h-1zM289 815h1v1h-1zM319 822h1v1h-1zM280 823h1v1h-1zM279 819h1v1h-1zM275 834h1v1h-1zM374 821h1v1h-1zM283 824h1v1h-1zM334 826h1v1h-1zM355 811h1v1h-1zM300 800h1v1h-1zM384 811h1v1h-1zM295 829h1v1h-1zM268 845h1v1h-1zM336 820h1v1h-1zM382 811h1v1h-1zM286 814h1v1h-1zM328 782h1v1h-1zM379 796h1v1h-1z" fill="#b81818" stroke="none" stroke-width="1" fill-opacity="0.48"/>
<path d="M242 861h1v1h-1zM254 853h1v1h-1zM217 865h1v1h-1zM184 826h1v1h-1zM170 829h1v1h-1zM248 856h1v1h-1zM242 858h1v1h-1zM278 845h1v1h-1zM259 853h1v1h-1zM182 870h1v1h-1zM241 859h1v1h-1zM239 863h1v1h-1zM273 837h1v1h-1zM265 850h1v1h-1zM247 860h1v1h-1zM211 866h1v1h-1zM193 871h1v1h-1zM169 827h1v1h-1zM205 871h1v1h-1zM219 816h1v1h-1zM207 868h1v1h-1zM285 824h1v1h-1zM199 815h1v1h-1zM168 871h1v1h-1zM171 872h1v1h-1zM205 821h1v1h-1zM224 813h1v1h-1zM194 823h1v1h-1zM197 822h1v1h-1zM200 823h1v1h-1zM211 817h1v1h-1zM187 873h1v1h-1zM225 865h1v1h-1zM221 864h1v1h-1zM260 850h1v1h-1zM175 829h1v1h-1zM304 822h1v1h-1zM190 871h1v1h-1zM207 821h1v1h-1zM244 860h1v1h-1zM269 849h1v1h-1zM175 880h1v1h-1zM285 837h1v1h-1zM198 872h1v1h-1zM280 835h1v1h-1zM208 868h1v1h-1zM287 826h1v1h-1zM194 870h1v1h-1zM206 818h1v1h-1zM286 828h1v1h-1zM214 818h1v1h-1zM182 875h1v1h-1zM189 870h1v1h-1zM177 873h1v1h-1zM177 872h1v1h-1zM222 816h1v1h-1zM190 823h1v1h-1zM208 868h1v1h-1zM219 814h1v1h-1zM193 868h1v1h-1zM174 871h1v1h-1zM212 819h1v1h-1zM250 856h1v1h-1zM284 832h1v1h-1zM287 829h1v1h-1zM258 852h1v1h-1zM210 872h1v1h-1zM185 875h1v1h-1zM185 826h1v1h-1zM195 872h1v1h-1zM194 870h1v1h-1zM356 737h1v1h-1zM278 785h1v1h-1zM350 775h1v1h-1zM250 800h1v1h-1zM282 779h1v1h-1zM266 789h1v1h-1zM382 738h1v1h-1zM320 796h1v1h-1zM320 790h1v1h-1zM315 766h1v1h-1zM374 757h1v1h-1zM370 745h1v1h-1zM376 738h1v1h-1zM265 791h1v1h-1zM290 777h1v1h-1zM352 731h1v1h-1zM375 738h1v1h-1zM378 735h1v1h-1zM317 767h1v1h-1zM366 743h1v1h-1zM324 757h1v1h-1zM353 752h1v1h-1zM319 765h1v1h-1zM324 789h1v1h-1zM332 750h1v1h-1zM362 738h1v1h-1zM352 772h1v1h-1zM379 748h1v1h-1zM239 807h1v1h-1zM347 771h1v1h-1zM358 746h1v1h-1zM349 754h1v1h-1zM219 817h1v1h-1zM368 753h1v1h-1zM322 794h1v1h-1zM342 750h1v1h-1zM346 751h1v1h-1zM368 744h1v1h-1zM354 752h1v1h-1zM313 803h1v1h-1zM363 738h1v1h-1zM334 748h1v1h-1zM345 753h1v1h-1zM352 750h1v1h-1zM366 751h1v1h-1zM376 756h1v1h-1zM249 800h1v1h-1zM332 782h1v1h-1zM310 764h1v1h-1zM373 745h1v1h-1zM352 772h1v1h-1zM349 772h1v1h-1zM319 796h1v1h-1zM377 749h1v1h-1zM247 802h1v1h-1zM380 732h1v1h-1zM299 808h1v1h-1zM370 762h1v1h-1zM383 730h1v1h-1zM382 730h1v1h-1zM372 749h1v1h-1zM372 751h1v1h-1zM348 770h1v1h-1zM316 802h1v1h-1zM347 745h1v1h-1zM365 734h1v1h-1zM357 741h1v1h-1zM340 777h1v1h-1zM304 769h1v1h-1zM375 750h1v1h-1zM335 780h1v1h-1zM277 785h1v1h-1zM279 783h1v1h-1zM298 813h1v1h-1zM283 780h1v1h-1zM370 750h1v1h-1zM323 793h1v1h-1zM299 768h1v1h-1zM316 765h1v1h-1zM320 791h1v1h-1zM368 756h1v1h-1zM380 746h1v1h-1zM378 763h1v1h-1zM326 757h1v1h-1zM307 769h1v1h-1zM331 757h1v1h-1zM354 749h1v1h-1zM346 747h1v1h-1zM325 760h1v1h-1zM336 756h1v1h-1zM248 798h1v1h-1zM304 768h1v1h-1zM311 765h1v1h-1zM357 740h1v1h-1zM350 744h1v1h-1zM366 758h1v1h-1zM356 764h1v1h-1zM351 770h1v1h-1zM360 742h1v1h-1zM366 748h1v1h-1zM265 788h1v1h-1zM293 810h1v1h-1zM379 741h1v1h-1zM364 763h1v1h-1zM333 788h1v1h-1zM302 772h1v1h-1zM342 782h1v1h-1zM337 764h1v1h-1zM362 736h1v1h-1zM372 752h1v1h-1zM260 792h1v1h-1zM328 787h1v1h-1zM371 739h1v1h-1zM326 758h1v1h-1zM354 746h1v1h-1zM339 775h1v1h-1zM322 757h1v1h-1zM369 748h1v1h-1zM347 769h1v1h-1zM350 754h1v1h-1zM363 757h1v1h-1zM355 768h1v1h-1zM379 738h1v1h-1zM314 800h1v1h-1zM311 796h1v1h-1zM380 718h1v1h-1zM313 764h1v1h-1zM380 733h1v1h-1zM320 795h1v1h-1zM348 773h1v1h-1zM324 759h1v1h-1zM297 772h1v1h-1zM361 742h1v1h-1zM361 759h1v1h-1zM274 786h1v1h-1zM367 738h1v1h-1zM308 768h1v1h-1zM371 752h1v1h-1zM353 740h1v1h-1zM382 748h1v1h-1zM370 746h1v1h-1zM341 779h1v1h-1zM359 754h1v1h-1zM375 741h1v1h-1zM353 750h1v1h-1zM358 750h1v1h-1zM347 766h1v1h-1zM379 746h1v1h-1zM372 728h1v1h-1zM358 742h1v1h-1zM360 748h1v1h-1zM368 746h1v1h-1zM357 750h1v1h-1zM353 772h1v1h-1zM359 773h1v1h-1zM370 744h1v1h-1zM369 731h1v1h-1zM271 787h1v1h-1zM382 746h1v1h-1zM376 756h1v1h-1zM336 780h1v1h-1zM318 792h1v1h-1zM302 808h1v1h-1zM353 742h1v1h-1zM258 789h1v1h-1zM273 785h1v1h-1zM291 775h1v1h-1zM349 740h1v1h-1zM261 794h1v1h-1zM362 748h1v1h-1zM322 787h1v1h-1zM367 757h1v1h-1zM320 788h1v1h-1zM368 741h1v1h-1zM332 751h1v1h-1zM345 775h1v1h-1zM366 759h1v1h-1zM366 758h1v1h-1zM318 759h1v1h-1zM375 732h1v1h-1zM323 761h1v1h-1zM370 739h1v1h-1zM318 810h1v1h-1zM277 836h1v1h-1zM292 849h1v1h-1zM325 811h1v1h-1zM294 815h1v1h-1zM369 805h1v1h-1zM357 850h1v1h-1zM314 856h1v1h-1zM312 843h1v1h-1zM302 864h1v1h-1zM291 852h1v1h-1zM370 781h1v1h-1zM321 865h1v1h-1zM352 837h1v1h-1zM328 838h1v1h-1zM372 792h1v1h-1zM332 846h1v1h-1zM350 794h1v1h-1zM328 813h1v1h-1zM362 803h1v1h-1zM334 836h1v1h-1zM337 801h1v1h-1zM330 831h1v1h-1zM275 861h1v1h-1zM340 819h1v1h-1zM348 786h1v1h-1zM322 801h1v1h-1zM318 839h1v1h-1zM371 816h1v1h-1zM378 767h1v1h-1zM264 860h1v1h-1zM301 848h1v1h-1zM322 823h1v1h-1zM348 839h1v1h-1zM303 844h1v1h-1zM355 788h1v1h-1zM352 803h1v1h-1zM345 845h1v1h-1zM275 874h1v1h-1zM308 836h1v1h-1zM287 832h1v1h-1zM370 802h1v1h-1zM381 823h1v1h-1zM381 840h1v1h-1zM273 862h1v1h-1zM279 831h1v1h-1zM326 850h1v1h-1zM384 816h1v1h-1zM352 841h1v1h-1zM284 839h1v1h-1zM368 789h1v1h-1zM264 851h1v1h-1zM319 837h1v1h-1zM351 830h1v1h-1zM303 838h1v1h-1zM348 773h1v1h-1zM303 843h1v1h-1zM365 844h1v1h-1zM284 844h1v1h-1zM280 848h1v1h-1zM296 846h1v1h-1zM308 865h1v1h-1zM368 854h1v1h-1zM313 822h1v1h-1zM317 824h1v1h-1zM309 829h1v1h-1zM379 811h1v1h-1zM274 852h1v1h-1zM379 826h1v1h-1zM290 845h1v1h-1zM342 831h1v1h-1zM345 813h1v1h-1zM364 802h1v1h-1zM316 852h1v1h-1zM259 873h1v1h-1zM353 827h1v1h-1zM339 854h1v1h-1zM350 851h1v1h-1zM316 801h1v1h-1zM266 850h1v1h-1zM382 829h1v1h-1zM320 799h1v1h-1zM325 807h1v1h-1zM381 811h1v1h-1zM294 822h1v1h-1zM286 857h1v1h-1zM315 834h1v1h-1zM363 791h1v1h-1zM350 808h1v1h-1zM344 828h1v1h-1zM358 843h1v1h-1zM333 859h1v1h-1zM317 820h1v1h-1zM349 799h1v1h-1zM368 790h1v1h-1zM339 825h1v1h-1zM334 846h1v1h-1zM325 790h1v1h-1zM331 822h1v1h-1zM374 817h1v1h-1zM268 859h1v1h-1zM330 841h1v1h-1zM337 820h1v1h-1zM279 845h1v1h-1zM346 824h1v1h-1zM282 845h1v1h-1zM347 813h1v1h-1zM383 804h1v1h-1zM294 829h1v1h-1zM362 812h1v1h-1zM303 847h1v1h-1zM346 824h1v1h-1zM311 842h1v1h-1zM370 799h1v1h-1zM311 839h1v1h-1zM365 793h1v1h-1zM355 819h1v1h-1zM356 843h1v1h-1zM335 794h1v1h-1zM297 842h1v1h-1zM366 817h1v1h-1zM340 803h1v1h-1zM375 803h1v1h-1zM284 849h1v1h-1zM337 777h1v1h-1zM357 823h1v1h-1zM325 848h1v1h-1zM374 815h1v1h-1zM330 806h1v1h-1zM304 854h1v1h-1zM270 857h1v1h-1zM316 836h1v1h-1zM326 858h1v1h-1zM341 813h1v1h-1zM352 787h1v1h-1zM377 821h1v1h-1zM336 826h1v1h-1zM346 803h1v1h-1zM269 854h1v1h-1zM383 778h1v1h-1zM355 790h1v1h-1zM329 800h1v1h-1zM295 813h1v1h-1zM340 803h1v1h-1zM345 837h1v1h-1zM284 845h1v1h-1zM264 858h1v1h-1zM358 815h1v1h-1zM291 846h1v1h-1zM320 839h1v1h-1zM307 803h1v1h-1zM370 797h1v1h-1zM318 836h1v1h-1zM292 825h1v1h-1zM360 835h1v1h-1zM366 828h1v1h-1zM344 812h1v1h-1zM344 816h1v1h-1zM307 810h1v1h-1zM371 835h1v1h-1zM300 840h1v1h-1zM277 858h1v1h-1zM306 853h1v1h-1zM382 777h1v1h-1zM346 839h1v1h-1zM322 837h1v1h-1zM342 824h1v1h-1zM294 836h1v1h-1zM347 796h1v1h-1zM371 821h1v1h-1zM380 835h1v1h-1zM322 827h1v1h-1zM309 834h1v1h-1zM372 814h1v1h-1zM309 819h1v1h-1zM363 830h1v1h-1zM298 848h1v1h-1zM352 795h1v1h-1zM335 790h1v1h-1zM286 846h1v1h-1zM345 804h1v1h-1zM312 826h1v1h-1zM342 834h1v1h-1zM290 846h1v1h-1zM326 845h1v1h-1zM348 819h1v1h-1zM379 818h1v1h-1zM331 851h1v1h-1zM340 802h1v1h-1zM381 773h1v1h-1zM266 864h1v1h-1zM302 824h1v1h-1zM306 812h1v1h-1zM289 832h1v1h-1zM319 816h1v1h-1zM369 777h1v1h-1zM370 841h1v1h-1zM345 809h1v1h-1zM320 800h1v1h-1zM346 832h1v1h-1zM384 820h1v1h-1zM292 816h1v1h-1zM308 808h1v1h-1zM295 818h1v1h-1zM383 814h1v1h-1zM325 837h1v1h-1zM374 787h1v1h-1zM267 850h1v1h-1zM323 816h1v1h-1zM351 787h1v1h-1zM376 832h1v1h-1zM281 862h1v1h-1zM336 853h1v1h-1zM325 829h1v1h-1zM293 831h1v1h-1zM379 821h1v1h-1zM322 815h1v1h-1zM373 832h1v1h-1zM356 843h1v1h-1zM327 815h1v1h-1zM279 841h1v1h-1zM382 806h1v1h-1zM334 833h1v1h-1zM308 830h1v1h-1zM366 822h1v1h-1zM357 804h1v1h-1zM319 808h1v1h-1zM299 844h1v1h-1zM278 872h1v1h-1zM308 814h1v1h-1zM357 835h1v1h-1zM261 857h1v1h-1zM280 838h1v1h-1zM313 833h1v1h-1zM380 793h1v1h-1zM303 810h1v1h-1zM364 872h1v1h-1zM353 850h1v1h-1zM352 829h1v1h-1zM342 790h1v1h-1zM356 819h1v1h-1zM335 814h1v1h-1zM366 819h1v1h-1zM382 774h1v1h-1zM375 800h1v1h-1zM347 823h1v1h-1zM340 815h1v1h-1zM283 860h1v1h-1zM328 820h1v1h-1zM275 852h1v1h-1zM317 816h1v1h-1zM378 828h1v1h-1zM383 829h1v1h-1zM368 816h1v1h-1zM269 867h1v1h-1zM313 825h1v1h-1zM379 832h1v1h-1zM352 787h1v1h-1zM364 792h1v1h-1zM283 842h1v1h-1zM330 823h1v1h-1zM324 836h1v1h-1zM291 841h1v1h-1zM309 821h1v1h-1zM343 790h1v1h-1zM324 848h1v1h-1zM280 840h1v1h-1zM312 820h1v1h-1zM295 843h1v1h-1zM348 819h1v1h-1zM274 853h1v1h-1zM314 825h1v1h-1zM314 840h1v1h-1zM355 806h1v1h-1zM376 773h1v1h-1zM325 823h1v1h-1zM338 838h1v1h-1zM278 840h1v1h-1zM324 838h1v1h-1zM286 833h1v1h-1zM365 813h1v1h-1zM262 861h1v1h-1zM268 863h1v1h-1zM274 843h1v1h-1zM289 829h1v1h-1zM376 796h1v1h-1zM357 770h1v1h-1zM287 848h1v1h-1zM375 813h1v1h-1zM353 803h1v1h-1zM324 818h1v1h-1zM333 817h1v1h-1zM367 824h1v1h-1zM305 848h1v1h-1zM301 877h1v1h-1zM329 819h1v1h-1zM261 864h1v1h-1zM334 858h1v1h-1zM332 840h1v1h-1zM372 808h1v1h-1zM384 793h1v1h-1zM324 821h1v1h-1zM296 851h1v1h-1zM305 828h1v1h-1zM299 819h1v1h-1zM328 845h1v1h-1zM327 815h1v1h-1zM345 804h1v1h-1zM374 807h1v1h-1zM274 845h1v1h-1zM302 858h1v1h-1zM369 839h1v1h-1zM366 821h1v1h-1zM302 820h1v1h-1zM292 851h1v1h-1zM351 833h1v1h-1zM299 816h1v1h-1zM383 813h1v1h-1zM344 814h1v1h-1zM308 818h1v1h-1zM331 847h1v1h-1zM329 859h1v1h-1zM358 826h1v1h-1zM291 827h1v1h-1zM382 783h1v1h-1zM308 828h1v1h-1zM304 828h1v1h-1zM336 813h1v1h-1zM260 853h1v1h-1zM341 820h1v1h-1zM340 841h1v1h-1zM350 808h1v1h-1zM369 834h1v1h-1zM340 830h1v1h-1zM310 843h1v1h-1zM377 800h1v1h-1zM304 840h1v1h-1zM262 849h1v1h-1zM322 815h1v1h-1zM304 832h1v1h-1zM333 812h1v1h-1zM302 839h1v1h-1zM296 830h1v1h-1zM324 827h1v1h-1zM285 830h1v1h-1zM343 827h1v1h-1zM329 817h1v1h-1zM379 812h1v1h-1zM273 855h1v1h-1zM315 841h1v1h-1zM291 858h1v1h-1zM372 803h1v1h-1zM276 847h1v1h-1zM372 820h1v1h-1zM379 831h1v1h-1zM370 813h1v1h-1zM295 844h1v1h-1zM288 834h1v1h-1zM383 801h1v1h-1zM302 842h1v1h-1zM345 820h1v1h-1zM325 844h1v1h-1zM375 832h1v1h-1zM331 860h1v1h-1zM340 847h1v1h-1zM319 859h1v1h-1zM333 846h1v1h-1zM291 822h1v1h-1zM308 833h1v1h-1zM353 823h1v1h-1zM321 805h1v1h-1zM337 855h1v1h-1zM371 834h1v1h-1zM341 796h1v1h-1zM351 815h1v1h-1zM310 814h1v1h-1zM363 807h1v1h-1zM326 834h1v1h-1zM310 826h1v1h-1zM300 823h1v1h-1zM351 842h1v1h-1zM282 870h1v1h-1zM362 802h1v1h-1zM348 812h1v1h-1zM292 813h1v1h-1zM315 835h1v1h-1zM261 865h1v1h-1zM309 817h1v1h-1zM356 853h1v1h-1zM371 827h1v1h-1zM303 829h1v1h-1zM328 803h1v1h-1zM326 837h1v1h-1zM315 817h1v1h-1zM328 800h1v1h-1zM357 841h1v1h-1zM282 858h1v1h-1zM339 835h1v1h-1zM348 789h1v1h-1zM373 797h1v1h-1zM327 855h1v1h-1zM282 849h1v1h-1zM339 820h1v1h-1zM324 806h1v1h-1zM369 824h1v1h-1zM265 787h1v1h-1zM317 841h1v1h-1zM291 827h1v1h-1zM299 832h1v1h-1zM353 789h1v1h-1zM308 823h1v1h-1zM368 829h1v1h-1zM295 855h1v1h-1zM332 791h1v1h-1zM359 821h1v1h-1zM328 827h1v1h-1zM308 837h1v1h-1zM361 830h1v1h-1zM342 817h1v1h-1zM308 838h1v1h-1zM298 835h1v1h-1zM331 841h1v1h-1zM268 856h1v1h-1zM344 838h1v1h-1zM362 837h1v1h-1zM359 841h1v1h-1zM366 839h1v1h-1zM302 831h1v1h-1zM369 824h1v1h-1zM303 834h1v1h-1zM349 823h1v1h-1zM365 789h1v1h-1zM307 852h1v1h-1zM336 782h1v1h-1zM380 788h1v1h-1zM301 856h1v1h-1zM339 801h1v1h-1zM342 832h1v1h-1zM303 820h1v1h-1zM321 850h1v1h-1zM357 794h1v1h-1zM370 823h1v1h-1zM366 845h1v1h-1zM344 837h1v1h-1zM370 791h1v1h-1zM334 810h1v1h-1zM375 808h1v1h-1zM325 796h1v1h-1zM375 783h1v1h-1zM363 841h1v1h-1zM383 832h1v1h-1zM373 798h1v1h-1zM336 816h1v1h-1zM339 831h1v1h-1zM366 802h1v1h-1zM339 816h1v1h-1zM302 809h1v1h-1zM360 806h1v1h-1zM291 834h1v1h-1zM304 825h1v1h-1zM342 778h1v1h-1zM380 816h1v1h-1zM365 825h1v1h-1zM357 838h1v1h-1zM302 810h1v1h-1zM331 850h1v1h-1zM283 840h1v1h-1zM335 816h1v1h-1zM343 825h1v1h-1zM371 814h1v1h-1zM343 839h1v1h-1zM350 824h1v1h-1zM296 835h1v1h-1zM369 737h1v1h-1zM274 867h1v1h-1zM354 797h1v1h-1zM383 809h1v1h-1zM348 789h1v1h-1zM372 799h1v1h-1zM324 852h1v1h-1zM338 853h1v1h-1zM381 794h1v1h-1zM382 818h1v1h-1zM373 793h1v1h-1zM300 853h1v1h-1zM368 796h1v1h-1zM357 813h1v1h-1zM324 795h1v1h-1zM320 855h1v1h-1zM369 817h1v1h-1zM295 854h1v1h-1zM294 808h1v1h-1zM270 865h1v1h-1zM346 829h1v1h-1zM286 849h1v1h-1zM339 847h1v1h-1zM311 836h1v1h-1zM331 834h1v1h-1zM336 805h1v1h-1zM335 843h1v1h-1zM266 855h1v1h-1zM337 840h1v1h-1zM304 818h1v1h-1zM360 853h1v1h-1zM354 840h1v1h-1zM328 823h1v1h-1zM338 803h1v1h-1zM355 805h1v1h-1zM311 808h1v1h-1zM382 808h1v1h-1zM361 811h1v1h-1zM300 831h1v1h-1zM314 798h1v1h-1zM354 800h1v1h-1zM342 852h1v1h-1zM359 792h1v1h-1zM349 813h1v1h-1zM305 809h1v1h-1zM320 815h1v1h-1zM354 815h1v1h-1zM373 835h1v1h-1zM350 837h1v1h-1zM358 830h1v1h-1zM325 833h1v1h-1zM350 830h1v1h-1zM278 836h1v1h-1zM380 766h1v1h-1zM340 837h1v1h-1zM364 798h1v1h-1zM331 811h1v1h-1zM290 820h1v1h-1zM335 821h1v1h-1zM334 844h1v1h-1zM351 821h1v1h-1zM347 832h1v1h-1zM331 822h1v1h-1zM365 814h1v1h-1zM285 863h1v1h-1zM375 827h1v1h-1zM353 783h1v1h-1zM337 832h1v1h-1zM358 826h1v1h-1zM361 798h1v1h-1zM304 803h1v1h-1zM291 843h1v1h-1zM295 838h1v1h-1zM320 842h1v1h-1zM340 827h1v1h-1zM288 843h1v1h-1zM356 794h1v1h-1zM288 837h1v1h-1zM326 828h1v1h-1zM294 861h1v1h-1zM293 843h1v1h-1zM341 793h1v1h-1zM353 817h1v1h-1zM323 812h1v1h-1zM360 816h1v1h-1zM328 830h1v1h-1zM303 818h1v1h-1zM305 830h1v1h-1zM354 786h1v1h-1zM311 845h1v1h-1zM350 856h1v1h-1zM366 811h1v1h-1zM322 808h1v1h-1zM302 835h1v1h-1zM345 823h1v1h-1zM305 842h1v1h-1zM383 795h1v1h-1zM319 835h1v1h-1zM264 875h1v1h-1zM354 780h1v1h-1zM280 850h1v1h-1zM353 807h1v1h-1zM334 811h1v1h-1zM289 840h1v1h-1zM305 846h1v1h-1zM374 834h1v1h-1zM305 830h1v1h-1zM333 823h1v1h-1zM360 844h1v1h-1zM301 832h1v1h-1zM377 815h1v1h-1zM298 840h1v1h-1zM263 853h1v1h-1zM345 844h1v1h-1zM380 757h1v1h-1zM373 804h1v1h-1zM282 861h1v1h-1zM355 824h1v1h-1zM373 791h1v1h-1zM342 832h1v1h-1zM295 871h1v1h-1zM326 832h1v1h-1zM379 799h1v1h-1zM358 817h1v1h-1zM282 838h1v1h-1zM265 858h1v1h-1zM316 850h1v1h-1zM311 841h1v1h-1zM353 804h1v1h-1zM299 807h1v1h-1zM346 807h1v1h-1zM375 841h1v1h-1zM381 836h1v1h-1zM383 820h1v1h-1zM344 828h1v1h-1zM380 817h1v1h-1zM286 850h1v1h-1zM337 823h1v1h-1zM278 863h1v1h-1zM320 830h1v1h-1zM366 795h1v1h-1zM284 855h1v1h-1zM359 819h1v1h-1zM308 849h1v1h-1zM349 810h1v1h-1zM375 810h1v1h-1zM298 852h1v1h-1zM379 844h1v1h-1zM365 820h1v1h-1zM350 800h1v1h-1zM305 816h1v1h-1zM329 846h1v1h-1zM299 835h1v1h-1zM296 852h1v1h-1zM348 832h1v1h-1zM358 805h1v1h-1zM302 826h1v1h-1zM284 875h1v1h-1zM383 829h1v1h-1zM320 832h1v1h-1zM319 836h1v1h-1zM378 783h1v1h-1zM374 816h1v1h-1zM354 822h1v1h-1zM308 842h1v1h-1zM299 841h1v1h-1zM306 841h1v1h-1zM361 811h1v1h-1zM359 832h1v1h-1zM284 846h1v1h-1zM369 772h1v1h-1zM316 831h1v1h-1zM373 811h1v1h-1zM338 796h1v1h-1zM368 811h1v1h-1zM273 846h1v1h-1zM291 838h1v1h-1zM279 856h1v1h-1zM312 814h1v1h-1zM302 806h1v1h-1zM368 834h1v1h-1zM357 820h1v1h-1zM314 798h1v1h-1zM296 855h1v1h-1zM301 827h1v1h-1zM352 825h1v1h-1zM276 873h1v1h-1zM340 858h1v1h-1zM325 847h1v1h-1zM363 804h1v1h-1z" fill="#c84848" stroke="none" stroke-width="1" fill-opacity="0.27"/>
<line x1="165.1" y1="679.1" x2="385.2" y2="679.1" stroke="#444" stroke-width="1.5"/>
<line x1="385.2" y1="679.1" x2="385.2" y2="886" stroke="#444" stroke-width="1.5"/>
<line x1="165.1" y1="678.35" x2="165.1" y2="887" stroke="#000" stroke-width="2.2"/>
<line x1="164.1" y1="886" x2="385.95" y2="886" stroke="#000" stroke-width="2.2"/>
<path d="M159.6,886H165.1M165.1,891.5V886M162.5,870.43H165.1M181.66,888.6V886M162.5,861.32H165.1M191.35,888.6V886M162.5,854.86H165.1M198.23,888.6V886M162.5,849.85H165.1M203.56,888.6V886M162.5,845.75H165.1M207.92,888.6V886M162.5,842.29H165.1M211.6,888.6V886M162.5,839.29H165.1M214.79,888.6V886M162.5,836.64H165.1M217.61,888.6V886M159.6,834.27H165.1M220.12,891.5V886M162.5,818.7H165.1M236.69,888.6V886M162.5,809.6H165.1M246.38,888.6V886M162.5,803.13H165.1M253.25,888.6V886M162.5,798.12H165.1M258.59,888.6V886M162.5,794.03H165.1M262.94,888.6V886M162.5,790.56H165.1M266.63,888.6V886M162.5,787.56H165.1M269.82,888.6V886M162.5,784.92H165.1M272.63,888.6V886M159.6,782.55H165.1M275.15,891.5V886M162.5,766.98H165.1M291.71,888.6V886M162.5,757.87H165.1M301.4,888.6V886M162.5,751.41H165.1M308.28,888.6V886M162.5,746.4H165.1M313.61,888.6V886M162.5,742.3H165.1M317.97,888.6V886M162.5,738.84H165.1M321.65,888.6V886M162.5,735.84H165.1M324.84,888.6V886M162.5,733.19H165.1M327.66,888.6V886M159.6,730.83H165.1M330.17,891.5V886M162.5,715.25H165.1M346.74,888.6V886M162.5,706.15H165.1M356.43,888.6V886M162.5,699.68H165.1M363.3,888.6V886M162.5,694.67H165.1M368.64,888.6V886M162.5,690.58H165.1M372.99,888.6V886M162.5,687.11H165.1M376.68,888.6V886M162.5,684.11H165.1M379.87,888.6V886M162.5,681.47H165.1M382.68,888.6V886M159.6,679.1H165.1M385.2,891.5V886" fill="none" stroke="#000" stroke-width="1.3"/>
<text x="128.57" y="891.9" font-size="16.4">10</text>
<text x="147.09" y="883.8" font-size="12.2">0</text>
<text x="152.86" y="913.5" font-size="16.4">10</text>
<text x="171.38" y="905.4" font-size="12.2">0</text>
<text x="129.14" y="840.17" font-size="16.4">10</text>
<text x="147.21" y="832.07" font-size="12.2">1</text>
<text x="208.17" y="913.5" font-size="16.4">10</text>
<text x="226.24" y="905.4" font-size="12.2">1</text>
<text x="128.84" y="788.45" font-size="16.4">10</text>
<text x="147.23" y="780.35" font-size="12.2">2</text>
<text x="263.05" y="913.5" font-size="16.4">10</text>
<text x="281.43" y="905.4" font-size="12.2">2</text>
<text x="128.62" y="736.73" font-size="16.4">10</text>
<text x="147.15" y="728.62" font-size="12.2">3</text>
<text x="317.96" y="913.5" font-size="16.4">10</text>
<text x="336.5" y="905.4" font-size="12.2">3</text>
<text x="128.25" y="685" font-size="16.4">10</text>
<text x="146.97" y="676.9" font-size="12.2">4</text>
<text x="372.8" y="913.5" font-size="16.4">10</text>
<text x="391.52" y="905.4" font-size="12.2">4</text>
<text x="246.12" y="674.2" font-size="16.4" textLength="57.12" lengthAdjust="spacingAndGlyphs">Batch 3</text>
<text x="275.15" y="937.7" text-anchor="middle" font-size="16.8">FSC</text>
<text transform="translate(116.6,782.55) rotate(-90)" text-anchor="middle" font-size="16.8">GFP</text>
<rect x="921" y="739.8" width="36.3" height="41.9" fill="#000"/>
<rect x="970.7" y="750" width="35.9" height="31.7" fill="#a0a0a0"/>
<rect x="1051.7" y="581.3" width="36.3" height="200.4" fill="#000"/>
<rect x="1100.7" y="605.6" width="36.3" height="176.1" fill="#a0a0a0"/>
<rect x="1182.4" y="569.3" width="36.3" height="212.4" fill="#000"/>
<rect x="1231.7" y="600.7" width="36.3" height="181" fill="#a0a0a0"/>
<line x1="906.7" y1="529.3" x2="906.7" y2="782.7" stroke="#000" stroke-width="2.1"/>
<line x1="1283.5" y1="529.3" x2="1283.5" y2="782.7" stroke="#000" stroke-width="2.1"/>
<line x1="900.3" y1="781.7" x2="1289.8" y2="781.7" stroke="#000" stroke-width="2.1"/>
<line x1="963.7" y1="781.7" x2="963.7" y2="788.8" stroke="#000" stroke-width="2.1"/>
<text x="957.78" y="811.8" font-size="20.3">1</text>
<line x1="1094" y1="781.7" x2="1094" y2="788.8" stroke="#000" stroke-width="2.1"/>
<text x="1088.36" y="811.8" font-size="20.3">2</text>
<line x1="1225" y1="781.7" x2="1225" y2="788.8" stroke="#000" stroke-width="2.1"/>
<text x="1219.42" y="811.8" font-size="20.3">3</text>
<line x1="899.9" y1="530.3" x2="906.7" y2="530.3" stroke="#000" stroke-width="2.1"/>
<text x="823.49" y="537.1" font-size="20.3">1</text>
<text x="837.61" y="539.27" font-size="22.47">×</text>
<text x="853.64" y="537.1" font-size="20.3">10</text>
<text x="875.88" y="529" font-size="15">13</text>
<line x1="899.9" y1="580.6" x2="906.7" y2="580.6" stroke="#000" stroke-width="2.1"/>
<text x="823.46" y="587.4" font-size="20.3">8</text>
<text x="837.7" y="589.57" font-size="22.47">×</text>
<text x="853.73" y="587.4" font-size="20.3">10</text>
<text x="875.97" y="579.3" font-size="15">12</text>
<line x1="899.9" y1="631.1" x2="906.7" y2="631.1" stroke="#000" stroke-width="2.1"/>
<text x="823.48" y="637.9" font-size="20.3">6</text>
<text x="837.7" y="640.07" font-size="22.47">×</text>
<text x="853.73" y="637.9" font-size="20.3">10</text>
<text x="875.97" y="629.8" font-size="15">12</text>
<line x1="899.9" y1="681.5" x2="906.7" y2="681.5" stroke="#000" stroke-width="2.1"/>
<text x="823.17" y="688.3" font-size="20.3">4</text>
<text x="837.7" y="690.47" font-size="22.47">×</text>
<text x="853.73" y="688.3" font-size="20.3">10</text>
<text x="875.97" y="680.2" font-size="15">12</text>
<line x1="899.9" y1="732" x2="906.7" y2="732" stroke="#000" stroke-width="2.1"/>
<text x="823.6" y="738.8" font-size="20.3">2</text>
<text x="837.7" y="740.97" font-size="22.47">×</text>
<text x="853.73" y="738.8" font-size="20.3">10</text>
<text x="875.97" y="730.7" font-size="15">12</text>
<line x1="899.9" y1="781.7" x2="906.7" y2="781.7" stroke="#000" stroke-width="2.1"/>
<text x="892.5" y="788.7" text-anchor="end" font-size="20.3">0</text>
<line x1="1283.5" y1="530.5" x2="1290" y2="530.5" stroke="#000" stroke-width="2.1"/>
<text x="1297.13" y="537.1" font-size="20.3">4</text>
<text x="1311.66" y="539.27" font-size="22.47">×</text>
<text x="1327.69" y="537.1" font-size="20.3">10</text>
<text x="1349.93" y="528.9" font-size="15">11</text>
<line x1="1283.5" y1="593.3" x2="1290" y2="593.3" stroke="#000" stroke-width="2.1"/>
<text x="1296.83" y="599.9" font-size="20.3">3</text>
<text x="1311.05" y="602.07" font-size="22.47">×</text>
<text x="1327.08" y="599.9" font-size="20.3">10</text>
<text x="1349.32" y="591.7" font-size="15">11</text>
<line x1="1283.5" y1="656.1" x2="1290" y2="656.1" stroke="#000" stroke-width="2.1"/>
<text x="1296.58" y="662.7" font-size="20.3">2</text>
<text x="1310.68" y="664.87" font-size="22.47">×</text>
<text x="1326.71" y="662.7" font-size="20.3">10</text>
<text x="1348.96" y="654.5" font-size="15">11</text>
<line x1="1283.5" y1="718.9" x2="1290" y2="718.9" stroke="#000" stroke-width="2.1"/>
<text x="1296.06" y="725.5" font-size="20.3">1</text>
<text x="1310.18" y="727.67" font-size="22.47">×</text>
<text x="1326.21" y="725.5" font-size="20.3">10</text>
<text x="1348.45" y="717.3" font-size="15">11</text>
<line x1="1283.5" y1="781.7" x2="1290" y2="781.7" stroke="#000" stroke-width="2.1"/>
<text x="1297.6" y="788.7" font-size="20.3">0</text>
<text x="1001.69" y="842.9" font-size="20.5" textLength="184.77" lengthAdjust="spacingAndGlyphs">Biological replicates</text>
<text transform="translate(779.5,654.2) rotate(-90)" text-anchor="middle" font-size="20.7">Fluorescent particles/mL</text>
<text transform="translate(804,654.2) rotate(-90)" text-anchor="middle" font-size="20.7">(fNTA)</text>
<text transform="translate(1396.5,654.2) rotate(-90)" text-anchor="middle" font-size="20.7">Fluorescent particles/mL</text>
<text transform="translate(1421.5,654.2) rotate(-90)" text-anchor="middle" font-size="20.7">(HRFC)</text>
<rect x="1286.3" y="448.9" width="30.7" height="16.2" fill="#000"/>
<rect x="1286.3" y="482.3" width="30.7" height="17" fill="#a0a0a0"/>
<text x="1325.4" y="463" font-size="16.5">fNTA</text>
<text x="1325.4" y="496.8" font-size="16.5">HRFC</text>
<line x1="1625" y1="733.5" x2="1870.9" y2="524.5" stroke="#9e1a1e" stroke-width="2.4"/>
<line x1="1625" y1="729" x2="1870.9" y2="540" stroke="#262a7e" stroke-width="2.4"/>
<line x1="1625" y1="733" x2="1870.9" y2="551" stroke="#1e5a2e" stroke-width="2.4"/>
<line x1="1870.9" y1="530" x2="1870.9" y2="545" stroke="#000" stroke-width="2"/>
<line x1="1865.4" y1="530" x2="1876.4" y2="530" stroke="#000" stroke-width="2"/>
<line x1="1865.4" y1="545" x2="1876.4" y2="545" stroke="#000" stroke-width="2"/>
<polygon points="1628.6,711.01 1633.85,721.51 1623.35,721.51" fill="#262a7e" stroke="none" stroke-width="1"/>
<polygon points="1636.3,714.91 1641.55,725.41 1631.05,725.41" fill="#262a7e" stroke="none" stroke-width="1"/>
<polygon points="1647.1,706.81 1652.35,717.31 1641.85,717.31" fill="#262a7e" stroke="none" stroke-width="1"/>
<polygon points="1664.3,692.51 1669.55,703.01 1659.05,703.01" fill="#262a7e" stroke="none" stroke-width="1"/>
<polygon points="1689.4,671.91 1694.65,682.41 1684.15,682.41" fill="#262a7e" stroke="none" stroke-width="1"/>
<polygon points="1727.7,641.91 1732.95,652.41 1722.45,652.41" fill="#262a7e" stroke="none" stroke-width="1"/>
<polygon points="1785.1,598.21 1790.35,608.71 1779.85,608.71" fill="#262a7e" stroke="none" stroke-width="1"/>
<polygon points="1870.9,531.01 1876.15,541.51 1865.65,541.51" fill="#262a7e" stroke="none" stroke-width="1"/>
<rect x="1623.6" y="723" width="10" height="10" fill="#1e5a2e"/>
<rect x="1631.3" y="722" width="10" height="10" fill="#1e5a2e"/>
<rect x="1642.1" y="718.7" width="10" height="10" fill="#1e5a2e"/>
<rect x="1659.3" y="699.5" width="10" height="10" fill="#1e5a2e"/>
<rect x="1684.4" y="683.6" width="10" height="10" fill="#1e5a2e"/>
<rect x="1722.7" y="645" width="10" height="10" fill="#1e5a2e"/>
<rect x="1780.1" y="612.1" width="10" height="10" fill="#1e5a2e"/>
<rect x="1865.9" y="542.7" width="10" height="10" fill="#1e5a2e"/>
<circle cx="1628.6" cy="730.6" r="5.25" fill="#9e1a1e"/>
<circle cx="1636.3" cy="728" r="5.25" fill="#9e1a1e"/>
<circle cx="1647.1" cy="719.1" r="5.25" fill="#9e1a1e"/>
<circle cx="1664.3" cy="703.7" r="5.25" fill="#9e1a1e"/>
<circle cx="1689.4" cy="677.1" r="5.25" fill="#9e1a1e"/>
<circle cx="1727.7" cy="645.7" r="5.25" fill="#9e1a1e"/>
<circle cx="1785.1" cy="587.1" r="5.25" fill="#9e1a1e"/>
<circle cx="1870.9" cy="521.1" r="5.25" fill="#9e1a1e"/>
<line x1="1613.2" y1="475" x2="1613.2" y2="735.3" stroke="#000" stroke-width="2.1"/>
<line x1="1606.1" y1="734.3" x2="2000.9" y2="734.3" stroke="#000" stroke-width="2.1"/>
<line x1="1606.1" y1="475.9" x2="1613.2" y2="475.9" stroke="#000" stroke-width="2.1"/>
<text x="1508.72" y="482.8" font-size="20.2">2,500,000</text>
<line x1="1606.1" y1="527.7" x2="1613.2" y2="527.7" stroke="#000" stroke-width="2.1"/>
<text x="1508.72" y="534.6" font-size="20.2">2,000,000</text>
<line x1="1606.1" y1="579.4" x2="1613.2" y2="579.4" stroke="#000" stroke-width="2.1"/>
<text x="1508.72" y="586.3" font-size="20.2">1,500,000</text>
<line x1="1606.1" y1="631.1" x2="1613.2" y2="631.1" stroke="#000" stroke-width="2.1"/>
<text x="1508.72" y="638" font-size="20.2">1,000,000</text>
<line x1="1606.1" y1="682.8" x2="1613.2" y2="682.8" stroke="#000" stroke-width="2.1"/>
<text x="1525.56" y="689.7" font-size="20.2">500,000</text>
<line x1="1606.1" y1="734.3" x2="1613.2" y2="734.3" stroke="#000" stroke-width="2.1"/>
<text x="1587.36" y="741.2" font-size="20.2">0</text>
<line x1="1613.2" y1="734.3" x2="1613.2" y2="740.8" stroke="#000" stroke-width="2.1"/>
<line x1="1742.3" y1="734.3" x2="1742.3" y2="740.8" stroke="#000" stroke-width="2.1"/>
<line x1="1871.1" y1="734.3" x2="1871.1" y2="740.8" stroke="#000" stroke-width="2.1"/>
<line x1="1999.7" y1="734.3" x2="1999.7" y2="740.8" stroke="#000" stroke-width="2.1"/>
<text x="1607.58" y="767.7" font-size="20.2">0</text>
<text x="1698.52" y="767.7" font-size="20.3">5.0</text>
<text x="1729.77" y="769.87" font-size="22.47">×</text>
<text x="1745.8" y="767.7" font-size="20.3">10</text>
<text x="1769.51" y="759.4" font-size="14.8">09</text>
<text x="1827.17" y="767.7" font-size="20.3">1.0</text>
<text x="1858.42" y="769.87" font-size="22.47">×</text>
<text x="1874.45" y="767.7" font-size="20.3">10</text>
<text x="1897.61" y="759.4" font-size="14.8">10</text>
<text x="1956" y="767.7" font-size="20.3">1.5</text>
<text x="1987.19" y="769.87" font-size="22.47">×</text>
<text x="2003.22" y="767.7" font-size="20.3">10</text>
<text x="2026.38" y="759.4" font-size="14.8">10</text>
<text x="1712.59" y="469.1" font-size="20.5" textLength="226.38" lengthAdjust="spacingAndGlyphs">Fluorescent plate reader</text>
<text x="1776.03" y="797.5" font-size="20.3"># rEV</text>
<text transform="translate(1492,626.73) rotate(-90)" font-size="20.5" textLength="43.36" lengthAdjust="spacingAndGlyphs">RFU</text>
<line x1="1848" y1="621.4" x2="1875.7" y2="621.4" stroke="#9e1a1e" stroke-width="2.4"/>
<circle cx="1862" cy="621.4" r="5.15" fill="#9e1a1e"/>
<text x="1883" y="626.8" font-size="16.7">Batch 1 (R<tspan dy="-8.4" font-size="11.2">2</tspan><tspan dy="8.4"> = 0.9978)</tspan></text>
<line x1="1848" y1="656.3" x2="1875.7" y2="656.3" stroke="#1e5a2e" stroke-width="2.4"/>
<rect x="1856.85" y="651.15" width="10.3" height="10.3" fill="#1e5a2e"/>
<text x="1883" y="661.7" font-size="16.7">Batch 2 (R<tspan dy="-8.4" font-size="11.2">2</tspan><tspan dy="8.4"> = 0.9959)</tspan></text>
<line x1="1848" y1="690.9" x2="1875.7" y2="690.9" stroke="#262a7e" stroke-width="2.4"/>
<polygon points="1862,685.75 1866.17,690.9 1862,696.05 1857.83,690.9" fill="#262a7e" stroke="none" stroke-width="1"/>
<text x="1883" y="696.3" font-size="16.7">Batch 3 (R<tspan dy="-8.4" font-size="11.2">2</tspan><tspan dy="8.4"> = 0.9958)</tspan></text>
<line x1="183" y1="1269" x2="555.2" y2="1035.3" stroke="#9e1a1e" stroke-width="2.4"/>
<polyline points="184,1268.8 207.3,1258 236.5,1241.6 295,1201.3 413.3,1111" fill="none" stroke="#1e5a2e" stroke-width="2.4" stroke-linejoin="round"/>
<polyline points="186,1269 216.1,1252.3 254.7,1230.2 331.8,1174.3 485.1,1074.4" fill="none" stroke="#262a7e" stroke-width="2.4" stroke-linejoin="round"/>
<polygon points="188,1262.91 193.25,1273.41 182.75,1273.41" fill="#262a7e" stroke="none" stroke-width="1"/>
<polygon points="197,1257.91 202.25,1268.41 191.75,1268.41" fill="#262a7e" stroke="none" stroke-width="1"/>
<polygon points="216.1,1246.21 221.35,1256.71 210.85,1256.71" fill="#262a7e" stroke="none" stroke-width="1"/>
<polygon points="254.7,1224.11 259.95,1234.61 249.45,1234.61" fill="#262a7e" stroke="none" stroke-width="1"/>
<polygon points="331.8,1168.21 337.05,1178.71 326.55,1178.71" fill="#262a7e" stroke="none" stroke-width="1"/>
<polygon points="485.1,1068.31 490.35,1078.81 479.85,1078.81" fill="#262a7e" stroke="none" stroke-width="1"/>
<rect x="179" y="1263.8" width="10" height="10" fill="#1e5a2e"/>
<rect x="188.5" y="1260.5" width="10" height="10" fill="#1e5a2e"/>
<rect x="202.3" y="1253" width="10" height="10" fill="#1e5a2e"/>
<rect x="231.5" y="1236.6" width="10" height="10" fill="#1e5a2e"/>
<rect x="290" y="1196.3" width="10" height="10" fill="#1e5a2e"/>
<rect x="408.3" y="1106" width="10" height="10" fill="#1e5a2e"/>
<circle cx="189.1" cy="1266.5" r="5.25" fill="#9e1a1e"/>
<circle cx="201.3" cy="1260.9" r="5.25" fill="#9e1a1e"/>
<circle cx="224.6" cy="1246.7" r="5.25" fill="#9e1a1e"/>
<circle cx="271.4" cy="1217.4" r="5.25" fill="#9e1a1e"/>
<circle cx="365.9" cy="1146.5" r="5.25" fill="#9e1a1e"/>
<circle cx="555.2" cy="1035.3" r="5.25" fill="#9e1a1e"/>
<line x1="365.9" y1="1134.6" x2="365.9" y2="1157.9" stroke="#000" stroke-width="2"/>
<line x1="360.4" y1="1134.6" x2="371.4" y2="1134.6" stroke="#000" stroke-width="2"/>
<line x1="360.4" y1="1157.9" x2="371.4" y2="1157.9" stroke="#000" stroke-width="2"/>
<line x1="413.3" y1="1101.4" x2="413.3" y2="1121" stroke="#000" stroke-width="2"/>
<line x1="407.8" y1="1101.4" x2="418.8" y2="1101.4" stroke="#000" stroke-width="2"/>
<line x1="407.8" y1="1121" x2="418.8" y2="1121" stroke="#000" stroke-width="2"/>
<line x1="485.1" y1="1066.5" x2="485.1" y2="1080.7" stroke="#000" stroke-width="2"/>
<line x1="479.6" y1="1066.5" x2="490.6" y2="1066.5" stroke="#000" stroke-width="2"/>
<line x1="479.6" y1="1080.7" x2="490.6" y2="1080.7" stroke="#000" stroke-width="2"/>
<line x1="271.4" y1="1211.8" x2="271.4" y2="1222.6" stroke="#000" stroke-width="2"/>
<line x1="265.9" y1="1211.8" x2="276.9" y2="1211.8" stroke="#000" stroke-width="2"/>
<line x1="265.9" y1="1222.6" x2="276.9" y2="1222.6" stroke="#000" stroke-width="2"/>
<line x1="177.8" y1="1017.2" x2="177.8" y2="1281.2" stroke="#000" stroke-width="2.1"/>
<line x1="170.5" y1="1280.2" x2="570.8" y2="1280.2" stroke="#000" stroke-width="2.1"/>
<line x1="170.5" y1="1280.2" x2="177.8" y2="1280.2" stroke="#000" stroke-width="2.1"/>
<text x="152.3" y="1287.3" font-size="20.5">0</text>
<line x1="170.5" y1="1214.6" x2="177.8" y2="1214.6" stroke="#000" stroke-width="2.1"/>
<text x="129.51" y="1221.7" font-size="20.5">100</text>
<line x1="170.5" y1="1149" x2="177.8" y2="1149" stroke="#000" stroke-width="2.1"/>
<text x="129.51" y="1156.1" font-size="20.5">200</text>
<line x1="170.5" y1="1083.4" x2="177.8" y2="1083.4" stroke="#000" stroke-width="2.1"/>
<text x="129.51" y="1090.5" font-size="20.5">300</text>
<line x1="170.5" y1="1017.8" x2="177.8" y2="1017.8" stroke="#000" stroke-width="2.1"/>
<text x="129.51" y="1024.9" font-size="20.5">400</text>
<line x1="177.8" y1="1280.2" x2="177.8" y2="1287" stroke="#000" stroke-width="2.1"/>
<line x1="287" y1="1280.2" x2="287" y2="1287" stroke="#000" stroke-width="2.1"/>
<line x1="395.9" y1="1280.2" x2="395.9" y2="1287" stroke="#000" stroke-width="2.1"/>
<line x1="504.8" y1="1280.2" x2="504.8" y2="1287" stroke="#000" stroke-width="2.1"/>
<text x="172.16" y="1309.1" font-size="20.3">0</text>
<text x="243.2" y="1309.1" font-size="20.3">5.0</text>
<text x="274.45" y="1311.27" font-size="22.47">×</text>
<text x="290.48" y="1309.1" font-size="20.3">10</text>
<text x="314.18" y="1300.8" font-size="14.8">06</text>
<text x="351.78" y="1309.1" font-size="20.3">1.0</text>
<text x="383.03" y="1311.27" font-size="22.47">×</text>
<text x="399.06" y="1309.1" font-size="20.3">10</text>
<text x="422.76" y="1300.8" font-size="14.8">07</text>
<text x="460.71" y="1309.1" font-size="20.3">1.5</text>
<text x="491.9" y="1311.27" font-size="22.47">×</text>
<text x="507.93" y="1309.1" font-size="20.3">10</text>
<text x="531.63" y="1300.8" font-size="14.8">07</text>
<text x="344.52" y="1010.3" font-size="20.5">ELISA</text>
<text x="349.02" y="1337.5" font-size="20.3"># rEV</text>
<text transform="translate(111.5,1205.47) rotate(-90)" font-size="20.5" textLength="113.36" lengthAdjust="spacingAndGlyphs">p24 (pg/mL)</text>
<line x1="414" y1="1164.4" x2="437.8" y2="1164.4" stroke="#9e1a1e" stroke-width="2.3"/>
<circle cx="425.8" cy="1164.4" r="4.5" fill="#9e1a1e"/>
<text x="445.1" y="1169.9" font-size="16.8">Batch 1 (R<tspan dy="-8.5" font-size="11.3">2</tspan><tspan dy="8.5"> = 0.998)</tspan></text>
<line x1="414" y1="1193.6" x2="437.8" y2="1193.6" stroke="#1e5a2e" stroke-width="2.3"/>
<rect x="421.3" y="1189.1" width="9" height="9" fill="#1e5a2e"/>
<text x="445.1" y="1199.1" font-size="16.8">Batch 2 (R<tspan dy="-8.5" font-size="11.3">2</tspan><tspan dy="8.5"> = 0.996)</tspan></text>
<line x1="414" y1="1223.1" x2="437.8" y2="1223.1" stroke="#262a7e" stroke-width="2.3"/>
<polygon points="425.8,1217.88 430.3,1226.88 421.3,1226.88" fill="#262a7e" stroke="none" stroke-width="1"/>
<text x="445.1" y="1228.6" font-size="16.8">Batch 3 (R<tspan dy="-8.5" font-size="11.3">2</tspan><tspan dy="8.5"> = 0.999)</tspan></text>
<defs><filter id="bl1" x="-20%" y="-60%" width="140%" height="220%"><feGaussianBlur stdDeviation="1.1"/></filter><filter id="bl2" x="-20%" y="-100%" width="140%" height="300%"><feGaussianBlur stdDeviation="2.2"/></filter><filter id="bl3" x="-30%" y="-100%" width="160%" height="300%"><feGaussianBlur stdDeviation="4"/></filter><filter id="noise" x="0" y="0" width="100%" height="100%"><feTurbulence type="fractalNoise" baseFrequency="0.9" numOctaves="2" seed="3"/><feColorMatrix values="0 0 0 0 0  0 0 0 0 0  0 0 0 0 0  0 0 0 0.22 0"/><feComposite in2="SourceGraphic" operator="in"/></filter></defs>
<rect x="656.9" y="1045.6" width="586.4" height="119.2" fill="#e1e1e1"/>
<rect x="656.9" y="1045.6" width="586.4" height="119.2" fill="#000" filter="url(#noise)" opacity="0.3"/>
<rect x="668" y="1068" width="50" height="22" rx="5.5" ry="11" fill="#b8b8b8" filter="url(#bl3)" opacity="0.55"/>
<rect x="740" y="1070" width="48" height="20" rx="5.5" ry="10" fill="#b8b8b8" filter="url(#bl3)" opacity="0.55"/>
<rect x="812" y="1071" width="48" height="19" rx="5.5" ry="9.5" fill="#b8b8b8" filter="url(#bl3)" opacity="0.55"/>
<path d="M688 1077 L700 1070.5 L716 1070 L719 1077 Z" fill="#000" opacity="0.12" filter="url(#bl2)"/>
<path d="M664.2 1088 L665 1081 L667.5 1075 L671.5 1069.6 L676.5 1070.2 L680.5 1075 L690 1077.3 L714 1076.6 L719.5 1077.8 L721.6 1083.5 L720.6 1090 L713 1092.3 L692 1092.8 L672 1093.3 L666 1092 Z" fill="#050505" filter="url(#bl1)"/>
<path d="M719 1090 L721 1104" stroke="#000" stroke-opacity="0.12" stroke-width="1.5" filter="url(#bl1)"/>
<rect x="735.9" y="1077.4" width="55.7" height="14" rx="5.5" ry="7" fill="#050505" filter="url(#bl1)"/>
<rect x="808.2" y="1077.9" width="55.4" height="13.5" rx="5.5" ry="6.75" fill="#050505" filter="url(#bl1)"/>
<ellipse cx="835" cy="1091" rx="4" ry="2.5" fill="#111" filter="url(#bl1)"/>
<rect x="879.7" y="1081.1" width="50.6" height="9.5" rx="4.75" ry="4.75" fill="#080808" filter="url(#bl1)"/>
<defs><linearGradient id="gb6" x1="0" x2="1" y1="0" y2="0"><stop offset="0" stop-color="#000" stop-opacity="0.16"/><stop offset="0.6" stop-color="#000" stop-opacity="0.3"/><stop offset="1" stop-color="#000" stop-opacity="0.58"/></linearGradient><linearGradient id="gb7" x1="0" x2="1" y1="0" y2="0"><stop offset="0" stop-color="#000" stop-opacity="0.06"/><stop offset="0.55" stop-color="#000" stop-opacity="0.14"/><stop offset="0.75" stop-color="#000" stop-opacity="0.3"/><stop offset="1" stop-color="#000" stop-opacity="0.12"/></linearGradient><linearGradient id="gb8" x1="0" x2="1" y1="0" y2="0"><stop offset="0" stop-color="#000" stop-opacity="0.03"/><stop offset="0.7" stop-color="#000" stop-opacity="0.09"/><stop offset="0.95" stop-color="#000" stop-opacity="0.16"/><stop offset="1" stop-color="#000" stop-opacity="0.08"/></linearGradient><linearGradient id="gb5" x1="0" x2="1" y1="0" y2="0"><stop offset="0" stop-color="#000" stop-opacity="0.95"/><stop offset="0.35" stop-color="#000" stop-opacity="0.85"/><stop offset="0.6" stop-color="#000" stop-opacity="0.72"/><stop offset="1" stop-color="#000" stop-opacity="0.82"/></linearGradient></defs>
<path d="M951.2 1083.4 L965 1085 L998.1 1086 L998.1 1089.3 L965 1088.6 L951.2 1086.9 Z" fill="url(#gb5)" filter="url(#bl1)"/>
<ellipse cx="965.1" cy="1086.9" rx="3" ry="2.4" fill="#000" filter="url(#bl1)"/>
<ellipse cx="985" cy="1087.8" rx="3" ry="1.6" fill="#000" opacity="0.6" filter="url(#bl1)"/>
<path d="M1021.9 1087.6 L1065.5 1088.6 L1065.5 1091.6 L1021.9 1090.6 Z" fill="url(#gb6)" filter="url(#bl1)"/>
<path d="M1090.6 1089.9 L1135.5 1090.6 L1135.5 1093.4 L1090.6 1092.4 Z" fill="url(#gb7)" filter="url(#bl1)"/>
<path d="M1171.2 1093.4 L1204.2 1094.4 L1204.2 1098.4 L1171.2 1097 Z" fill="url(#gb8)" filter="url(#bl2)"/>
<circle cx="675" cy="1085.8" r="1.1" fill="#20d0d0"/>
<circle cx="713.8" cy="1084.3" r="1.1" fill="#20d0d0"/>
<circle cx="1233.7" cy="1156" r="0.8" fill="#333"/>
<rect x="656.9" y="1045.6" width="586.4" height="119.2" fill="none" stroke="#000" stroke-width="2.2"/>
<rect x="793.9" y="1217.9" width="352.3" height="54" fill="#fcfcfc"/>
<rect x="801" y="1237.8" width="55.6" height="9.4" rx="4.7" ry="4.7" fill="#050505" filter="url(#bl1)"/>
<rect x="873.8" y="1236.5" width="53.3" height="9.4" rx="4.7" ry="4.7" fill="#050505" filter="url(#bl1)"/>
<rect x="943.5" y="1235.5" width="50" height="8.2" rx="4.1" ry="4.1" fill="#050505" filter="url(#bl1)"/>
<rect x="1011.2" y="1235.2" width="50.9" height="7.3" rx="3.65" ry="3.65" fill="#080808" filter="url(#bl1)"/>
<path d="M1079.7 1239.8 L1100 1238.8 L1125.5 1237.3 L1125.5 1240.9 L1100 1241.6 L1079.7 1241.8 Z" fill="#909090" filter="url(#bl1)"/>
<rect x="793.9" y="1217.9" width="352.3" height="54" fill="none" stroke="#000" stroke-width="2.2"/>
<text x="680.6" y="1036.8" font-size="19.8">10</text>
<text x="704.41" y="1028.5" font-size="13.6">10</text>
<text x="750.31" y="1036.8" font-size="19.8">5e</text>
<text x="772.02" y="1028.5" font-size="13.6">9</text>
<text x="812.31" y="1036.8" font-size="19.8">2.5e</text>
<text x="850.53" y="1028.5" font-size="13.6">9</text>
<text x="877.8" y="1036.8" font-size="19.8">1.25e</text>
<text x="927.02" y="1028.5" font-size="13.6">9</text>
<text x="946.69" y="1036.8" font-size="19.8">6.25e</text>
<text x="995.97" y="1028.5" font-size="13.6">8</text>
<text x="1017.15" y="1036.8" font-size="19.8">3.12e</text>
<text x="1066.43" y="1028.5" font-size="13.6">8</text>
<text x="1090.9" y="1036.8" font-size="19.8">1.5e</text>
<text x="1129.17" y="1028.5" font-size="13.6">8</text>
<text x="1155.59" y="1036.8" font-size="19.8">7.8e</text>
<text x="1193.76" y="1028.5" font-size="13.6">7</text>
<text x="1223.32" y="1036.8" font-size="19.8"># rEV</text>
<text x="1250.25" y="1089.8" font-size="20.3">gag-EGFP</text>
<text x="1250.23" y="1112.7" font-size="20.3">85 kDa</text>
<text x="811.7" y="1208.5" font-size="19.8">1e</text>
<text x="833.4" y="1200.2" font-size="13.6">9</text>
<text x="885.15" y="1208.5" font-size="19.8">8e</text>
<text x="906.91" y="1200.2" font-size="13.6">8</text>
<text x="951.89" y="1208.5" font-size="19.8">6e</text>
<text x="973.65" y="1200.2" font-size="13.6">8</text>
<text x="1019.44" y="1208.5" font-size="19.8">4e</text>
<text x="1041.21" y="1200.2" font-size="13.6">8</text>
<text x="1087.01" y="1208.5" font-size="19.8">2e</text>
<text x="1108.77" y="1200.2" font-size="13.6">8</text>
<text x="1139.52" y="1208.5" font-size="19.8"># rEV</text>
<text x="1154.05" y="1236.7" font-size="20.3">gag-EGFP</text>
<text x="1154.03" y="1261.3" font-size="20.3">85 kDa</text>
<polyline points="1615,1201.3 1666,1147.4 1716.3,1100.5 1766.5,1055.7" fill="none" stroke="#5a5a5a" stroke-width="2.4" stroke-linejoin="round"/>
<circle cx="1615" cy="1201.3" r="4.9" fill="#5a5a5a"/>
<circle cx="1666" cy="1147.4" r="4.9" fill="#5a5a5a"/>
<circle cx="1716.3" cy="1100.5" r="4.9" fill="#5a5a5a"/>
<circle cx="1766.5" cy="1055.7" r="4.9" fill="#5a5a5a"/>
<line x1="1514.8" y1="1021.5" x2="1514.8" y2="1275.2" stroke="#000" stroke-width="2.1"/>
<line x1="1508.3" y1="1274.2" x2="1893.2" y2="1274.2" stroke="#000" stroke-width="2.1"/>
<line x1="1508.3" y1="1021.9" x2="1514.8" y2="1021.9" stroke="#000" stroke-width="2.1"/>
<text x="1437.91" y="1029" font-size="20.5">14,000</text>
<line x1="1508.3" y1="1085" x2="1514.8" y2="1085" stroke="#000" stroke-width="2.1"/>
<text x="1437.91" y="1092.1" font-size="20.5">12,000</text>
<line x1="1508.3" y1="1148.1" x2="1514.8" y2="1148.1" stroke="#000" stroke-width="2.1"/>
<text x="1437.91" y="1155.2" font-size="20.5">10,000</text>
<line x1="1508.3" y1="1211.2" x2="1514.8" y2="1211.2" stroke="#000" stroke-width="2.1"/>
<text x="1455.01" y="1218.3" font-size="20.5">8000</text>
<line x1="1508.3" y1="1274.2" x2="1514.8" y2="1274.2" stroke="#000" stroke-width="2.1"/>
<text x="1455.01" y="1281.3" font-size="20.5">6000</text>
<line x1="1514.8" y1="1274.2" x2="1514.8" y2="1281" stroke="#000" stroke-width="2.1"/>
<line x1="1640.5" y1="1274.2" x2="1640.5" y2="1281" stroke="#000" stroke-width="2.1"/>
<line x1="1766.6" y1="1274.2" x2="1766.6" y2="1281" stroke="#000" stroke-width="2.1"/>
<line x1="1892.5" y1="1274.2" x2="1892.5" y2="1281" stroke="#000" stroke-width="2.1"/>
<text x="1509.16" y="1307.7" font-size="20.3">0</text>
<text x="1600.83" y="1307.7" font-size="20.3">5.0</text>
<text x="1632.09" y="1309.87" font-size="22.47">×</text>
<text x="1648.12" y="1307.7" font-size="20.3">10</text>
<text x="1671.76" y="1299.4" font-size="14.8">8</text>
<text x="1726.63" y="1307.7" font-size="20.3">1.0</text>
<text x="1757.88" y="1309.87" font-size="22.47">×</text>
<text x="1773.91" y="1307.7" font-size="20.3">10</text>
<text x="1797.5" y="1299.4" font-size="14.8">9</text>
<text x="1852.56" y="1307.7" font-size="20.3">1.5</text>
<text x="1883.75" y="1309.87" font-size="22.47">×</text>
<text x="1899.78" y="1307.7" font-size="20.3">10</text>
<text x="1923.37" y="1299.4" font-size="14.8">9</text>
<text x="1646.97" y="1023.9" font-size="20.5">Western blot</text>
<text x="1678.92" y="1337.5" font-size="20.3"># rEV</text>
<text transform="translate(1419.5,1205.6) rotate(-90)" font-size="20.5" textLength="115.05" lengthAdjust="spacingAndGlyphs">WB intensity</text>
<text x="1776.3" y="1248.1" font-size="20.5">R<tspan dy="-9" font-size="14">2</tspan><tspan dy="9"> = 0.9980</tspan></text>
<line x1="295" y1="1540.9" x2="484.8" y2="1634.5" stroke="#9e1a1e" stroke-width="2.4"/>
<line x1="285.6" y1="1542.3" x2="475.7" y2="1649" stroke="#1e5a2e" stroke-width="2.4"/>
<line x1="267.7" y1="1509.5" x2="458.1" y2="1631" stroke="#262a7e" stroke-width="2.4"/>
<polygon points="267.7,1505.91 272.95,1516.41 262.45,1516.41" fill="#262a7e" stroke="none" stroke-width="1"/>
<polygon points="315.4,1535.11 320.65,1545.61 310.15,1545.61" fill="#262a7e" stroke="none" stroke-width="1"/>
<polygon points="363.1,1557.81 368.35,1568.31 357.85,1568.31" fill="#262a7e" stroke="none" stroke-width="1"/>
<polygon points="410.5,1593.01 415.75,1603.51 405.25,1603.51" fill="#262a7e" stroke="none" stroke-width="1"/>
<polygon points="458.1,1624.21 463.35,1634.71 452.85,1634.71" fill="#262a7e" stroke="none" stroke-width="1"/>
<rect x="280.35" y="1537.05" width="10.5" height="10.5" fill="#1e5a2e"/>
<rect x="327.75" y="1549.85" width="10.5" height="10.5" fill="#1e5a2e"/>
<rect x="375.45" y="1586.15" width="10.5" height="10.5" fill="#1e5a2e"/>
<rect x="423.05" y="1623.65" width="10.5" height="10.5" fill="#1e5a2e"/>
<rect x="470.45" y="1643.75" width="10.5" height="10.5" fill="#1e5a2e"/>
<circle cx="295" cy="1540.9" r="5.25" fill="#9e1a1e"/>
<circle cx="341.8" cy="1555.1" r="5.25" fill="#9e1a1e"/>
<circle cx="389.2" cy="1592.3" r="5.25" fill="#9e1a1e"/>
<circle cx="436.8" cy="1621.2" r="5.25" fill="#9e1a1e"/>
<circle cx="484.8" cy="1631.1" r="5.25" fill="#9e1a1e"/>
<line x1="267.7" y1="1501.5" x2="267.7" y2="1521" stroke="#000" stroke-width="2"/>
<line x1="262.2" y1="1501.5" x2="273.2" y2="1501.5" stroke="#000" stroke-width="2"/>
<line x1="262.2" y1="1521" x2="273.2" y2="1521" stroke="#000" stroke-width="2"/>
<line x1="315.4" y1="1534" x2="315.4" y2="1548.8" stroke="#000" stroke-width="2"/>
<line x1="309.9" y1="1534" x2="320.9" y2="1534" stroke="#000" stroke-width="2"/>
<line x1="309.9" y1="1548.8" x2="320.9" y2="1548.8" stroke="#000" stroke-width="2"/>
<line x1="341.8" y1="1547.4" x2="341.8" y2="1562.2" stroke="#000" stroke-width="2"/>
<line x1="336.3" y1="1547.4" x2="347.3" y2="1547.4" stroke="#000" stroke-width="2"/>
<line x1="336.3" y1="1562.2" x2="347.3" y2="1562.2" stroke="#000" stroke-width="2"/>
<line x1="389.2" y1="1582" x2="389.2" y2="1603.3" stroke="#000" stroke-width="2"/>
<line x1="383.7" y1="1582" x2="394.7" y2="1582" stroke="#000" stroke-width="2"/>
<line x1="383.7" y1="1603.3" x2="394.7" y2="1603.3" stroke="#000" stroke-width="2"/>
<line x1="436.8" y1="1612.1" x2="436.8" y2="1630.3" stroke="#000" stroke-width="2"/>
<line x1="431.3" y1="1612.1" x2="442.3" y2="1612.1" stroke="#000" stroke-width="2"/>
<line x1="431.3" y1="1630.3" x2="442.3" y2="1630.3" stroke="#000" stroke-width="2"/>
<line x1="484.8" y1="1612.7" x2="484.8" y2="1649" stroke="#000" stroke-width="2"/>
<line x1="479.3" y1="1612.7" x2="490.3" y2="1612.7" stroke="#000" stroke-width="2"/>
<line x1="479.3" y1="1649" x2="490.3" y2="1649" stroke="#000" stroke-width="2"/>
<line x1="173.5" y1="1421.5" x2="173.5" y2="1686" stroke="#000" stroke-width="2.1"/>
<line x1="167.3" y1="1685" x2="568.3" y2="1685" stroke="#000" stroke-width="2.1"/>
<line x1="167.3" y1="1685" x2="173.5" y2="1685" stroke="#000" stroke-width="2.1"/>
<text x="137.97" y="1692.1" font-size="20.5">25</text>
<line x1="167.3" y1="1619.25" x2="173.5" y2="1619.25" stroke="#000" stroke-width="2.1"/>
<text x="137.9" y="1626.35" font-size="20.5">30</text>
<line x1="167.3" y1="1553.5" x2="173.5" y2="1553.5" stroke="#000" stroke-width="2.1"/>
<text x="137.97" y="1560.6" font-size="20.5">35</text>
<line x1="167.3" y1="1487.75" x2="173.5" y2="1487.75" stroke="#000" stroke-width="2.1"/>
<text x="137.9" y="1494.85" font-size="20.5">40</text>
<line x1="167.3" y1="1422" x2="173.5" y2="1422" stroke="#000" stroke-width="2.1"/>
<text x="137.97" y="1429.1" font-size="20.5">45</text>
<line x1="173.5" y1="1685" x2="173.5" y2="1691.5" stroke="#000" stroke-width="2.1"/>
<text x="167.73" y="1714.8" font-size="20.5">6</text>
<line x1="252.4" y1="1685" x2="252.4" y2="1691.5" stroke="#000" stroke-width="2.1"/>
<text x="246.69" y="1714.8" font-size="20.5">7</text>
<line x1="331.3" y1="1685" x2="331.3" y2="1691.5" stroke="#000" stroke-width="2.1"/>
<text x="325.6" y="1714.8" font-size="20.5">8</text>
<line x1="410.2" y1="1685" x2="410.2" y2="1691.5" stroke="#000" stroke-width="2.1"/>
<text x="404.5" y="1714.8" font-size="20.5">9</text>
<line x1="489.1" y1="1685" x2="489.1" y2="1691.5" stroke="#000" stroke-width="2.1"/>
<text x="477.32" y="1714.8" font-size="20.5">10</text>
<line x1="568" y1="1685" x2="568" y2="1691.5" stroke="#000" stroke-width="2.1"/>
<text x="557.08" y="1714.8" font-size="20.5">11</text>
<text x="327.28" y="1416.9" font-size="20.5">RT-qPCR</text>
<text x="325.1" y="1744.6" font-size="20.5">log(# rEV)</text>
<text transform="translate(115.5,1553.7) rotate(-90)" text-anchor="middle" font-size="20.5">Cq values</text>
<line x1="413.3" y1="1450" x2="440.8" y2="1450" stroke="#9e1a1e" stroke-width="2.4"/>
<circle cx="427.2" cy="1450" r="5.4" fill="#9e1a1e"/>
<text x="448.2" y="1455.5" font-size="16.8">Batch 1 (R<tspan dy="-8.5" font-size="11.3">2</tspan><tspan dy="8.5"> = 0.979)</tspan></text>
<line x1="413.3" y1="1485.2" x2="440.8" y2="1485.2" stroke="#1e5a2e" stroke-width="2.4"/>
<rect x="421.8" y="1479.8" width="10.8" height="10.8" fill="#1e5a2e"/>
<text x="448.2" y="1490.7" font-size="16.8">Batch 2 (R<tspan dy="-8.5" font-size="11.3">2</tspan><tspan dy="8.5"> = 0.972)</tspan></text>
<line x1="413.3" y1="1519.9" x2="440.8" y2="1519.9" stroke="#262a7e" stroke-width="2.4"/>
<polygon points="427.2,1513.64 432.6,1524.44 421.8,1524.44" fill="#262a7e" stroke="none" stroke-width="1"/>
<text x="448.2" y="1525.4" font-size="16.8">Batch 3 (R<tspan dy="-8.5" font-size="11.3">2</tspan><tspan dy="8.5"> = 0.986)</tspan></text>
</svg>
</body></html>
